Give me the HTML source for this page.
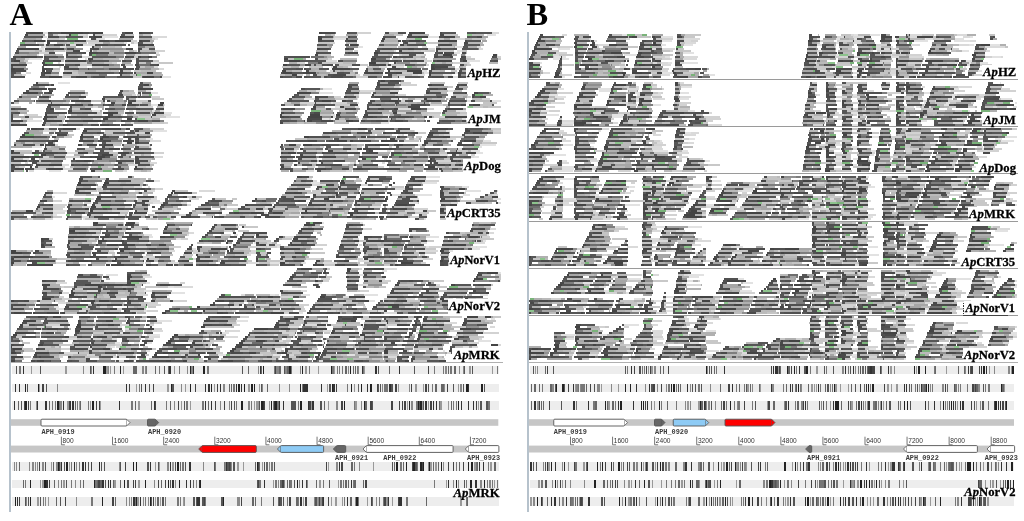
<!DOCTYPE html>
<html><head><meta charset="utf-8"><style>
html,body{margin:0;padding:0;background:#fff;width:1024px;height:521px;overflow:hidden}
svg{display:block}
.tl{font-family:"Liberation Serif",serif;font-weight:bold;font-size:13.1px;fill:#000}
.big{font-family:"Liberation Serif",serif;font-weight:bold;font-size:32.5px;fill:#000}
.gl{font-family:"Liberation Mono",monospace;font-weight:bold;font-size:6.9px;fill:#3a3a3a}
.rl{font-family:"Liberation Sans",sans-serif;font-size:6.6px;fill:#333}
</style></head><body>
<svg width="1024" height="521" viewBox="0 0 1024 521" shape-rendering="crispEdges">
<rect width="1024" height="521" fill="#fff"/>
<g style="will-change:transform"><text x="9.6" y="24.8" class="big">A</text>
<text x="526.6" y="24.7" class="big">B</text></g>
<g><g stroke-width="2" fill="none"><path stroke="#e2e2e2" d="M42.9 33h10.0M44.2 45h8.4M42.6 47h8.4M39.3 49h5.1M42.0 51h7.5M37.1 55h2.0M29.1 59h13.3M58.3 35h7.2M69.9 37h15.1M60.2 47h5.4M65.8 51h4.7M65.2 51h0.7M63.6 59h9.1M59.3 67h1.6M101.9 37h15.6M97.1 39h8.1M86.3 51h6.5M84.8 59h2.0M77.8 67h9.2M86.5 75h3.4M133.7 43h4.7M124.4 43h2.9M132.9 59h9.0M118.6 59h3.9M154.6 39h3.8M155.5 53h3.7M151.4 63h7.0M162.3 77h8.8M318.3 63h3.2M319.3 71h7.4M334.5 39h14.1M330.7 67h15.0M358.0 47h5.0M348.2 67h4.1M352.7 71h4.8M399.0 71h1.1M427.6 37h13.2M417.2 63h7.3M422.3 71h5.1M423.9 73h11.2M418.2 75h6.3M454.9 47h9.4M456.6 51h7.5M454.0 53h6.0M454.5 69h14.6M454.9 73h5.2M442.9 75h8.8M452.7 77h13.4M486.8 35h9.1M466.7 61h13.3M467.0 63h3.2M466.7 67h8.5M497.1 55h1.1M57.9 83h12.5M24.1 115h2.2M27.3 121h14.6M79.0 99h5.1M92.0 111h7.5M88.1 123h9.8M131.2 123h7.4M150.5 93h7.8M150.7 105h14.0M151.9 111h4.2M152.3 121h8.0M164.4 113h7.8M164.4 117h15.2M323.1 89h8.9M316.1 91h4.1M318.7 93h14.4M304.0 99h7.7M293.4 111h6.6M305.0 121h7.4M330.7 103h2.5M334.6 107h14.7M333.2 117h6.4M322.3 119h6.9M357.4 99h0.5M354.9 107h3.9M398.6 87h1.3M399.1 97h6.1M389.2 111h4.3M380.9 123h8.4M447.8 91h9.3M448.0 99h11.1M466.9 101h10.1M455.9 111h10.5M467.2 123h11.7M492.3 101h8.2M31.5 147h10.9M22.7 159h6.0M48.9 171h11.7M132.2 139h13.3M93.0 143h4.4M131.5 143h2.6M111.0 163h3.8M153.3 131h13.8M146.3 139h6.8M351.4 131h13.1M398.3 135h4.0M418.3 145h9.7M294.3 151h3.1M347.4 151h10.2M428.3 153h14.7M412.9 155h5.7M431.6 157h12.7M349.8 163h4.5M414.3 163h11.7M438.0 171h4.6M445.9 131h4.2M447.4 155h0.7M455.1 171h4.7M482.8 141h7.8M479.9 145h15.7M478.7 147h3.2M471.3 151h9.0M475.6 153h7.4M471.3 157h7.7M465.1 165h12.2M38.5 211h14.4M32.7 211h5.7M35.8 217h12.3M52.1 197h3.3M53.3 211h15.9M53.3 215h3.9M97.4 187h4.2M96.6 191h1.7M91.2 199h2.9M82.5 219h11.0M153.7 181h6.1M142.7 183h1.7M134.7 191h5.4M153.3 203h10.5M118.4 215h6.5M150.1 217h5.1M220.8 207h6.3M218.7 215h13.1M265.0 207h5.3M263.6 213h3.1M306.9 179h5.3M310.6 183h15.5M306.9 203h1.4M338.8 187h10.7M328.5 199h3.9M347.8 195h8.8M357.1 215h7.0M392.4 195h13.3M369.7 207h10.9M386.4 211h1.4M425.6 177h14.5M422.7 183h14.2M418.0 195h14.4M410.3 199h8.7M409.5 203h8.8M415.4 211h11.5M423.9 219h2.4M461.6 187h6.2M465.8 191h15.0M465.2 191h0.6M463.3 195h6.5M448.4 207h6.5M453.9 209h5.2M498.2 199h2.3M492.6 199h5.6M145.1 235h6.7M143.8 235h1.3M149.2 237h3.8M148.1 243h13.5M92.0 243h3.9M108.8 251h5.5M139.8 259h4.9M144.7 259h3.8M105.8 263h5.4M179.4 227h9.4M187.5 231h1.1M175.5 239h5.9M192.0 249h3.5M233.8 235h4.6M230.6 235h0.7M225.4 251h0.3M222.7 263h8.5M253.5 243h8.9M265.4 247h1.4M267.3 263h12.4M273.6 247h11.2M321.6 223h2.1M306.5 255h1.4M302.2 263h3.9M360.0 223h2.7M354.4 243h4.3M360.2 251h10.1M382.3 237h15.9M379.5 251h2.1M381.9 263h5.0M426.0 237h13.1M425.5 247h3.1M415.5 251h10.5M412.8 259h10.3M395.4 263h1.1M474.5 235h2.0M482.8 241h3.6M449.2 251h3.3M483.8 235h4.7M476.1 241h8.8M470.8 247h15.9M468.4 249h11.4M54.2 307h5.1M29.1 307h5.4M56.4 309h11.4M58.7 311h0.6M62.1 313h15.9M106.4 275h12.0M102.6 295h3.9M82.5 299h4.6M85.7 307h4.7M136.4 283h13.2M129.0 311h3.4M143.1 277h8.4M144.2 291h8.7M143.9 311h2.8M168.3 287h5.4M170.9 293h14.0M177.6 311h6.6M258.1 295h14.6M230.2 307h5.8M236.0 307h4.1M269.6 295h5.4M283.1 305h14.2M318.1 275h1.6M309.6 279h5.5M314.6 283h6.9M301.1 295h9.0M299.3 313h3.2M357.7 275h6.9M364.0 295h14.4M369.2 301h5.8M382.1 271h4.9M384.3 307h4.5M384.2 309h4.9M378.1 311h5.8M441.9 299h10.6M409.6 307h5.1M480.3 295h7.9M485.7 303h4.1M476.1 303h9.6M473.7 307h5.5M498.2 273h2.3M500.0 281h0.5M45.0 319h0.8M42.9 323h2.2M45.0 327h14.1M53.4 359h4.8M67.5 319h0.4M58.0 327h6.2M93.2 327h5.0M93.3 341h14.9M85.7 361h5.2M118.0 327h4.1M120.2 333h7.7M114.7 343h5.3M110.9 347h4.5M139.8 319h5.9M156.6 321h15.7M150.2 335h9.9M146.6 343h5.6M134.1 343h4.9M146.1 351h3.7M175.3 359h7.3M182.6 359h2.3M236.4 321h12.0M221.9 333h6.8M206.4 343h5.7M202.0 351h5.4M218.2 355h11.3M281.0 329h14.9M286.3 331h8.7M277.7 335h7.8M281.6 337h14.0M255.4 347h5.4M260.8 347h10.9M272.2 349h10.0M296.6 337h15.2M285.8 339h5.3M275.6 351h5.7M272.8 355h8.3M318.3 319h9.9M320.5 323h7.2M322.0 341h3.1M310.3 351h5.8M320.4 359h0.8M355.4 331h2.5M345.9 347h7.1M346.9 355h13.3M378.6 327h5.8M379.3 339h3.6M381.5 355h4.7M408.5 319h5.1M413.4 347h4.2M444.1 323h6.1M442.5 351h2.0M491.0 319h3.6M477.6 341h13.4M462.6 347h6.2M465.8 351h4.3M470.1 351h3.4M558.2 49h11.4M554.2 57h9.3M554.7 59h14.4M552.9 59h1.7M540.2 63h1.6M561.9 57h3.8M561.9 77h3.2M609.1 67h4.1M602.3 71h9.2M603.3 75h6.4M622.4 35h5.1M625.9 55h10.6M623.5 55h2.5M621.1 63h4.2M620.4 67h5.5M660.8 37h12.5M660.7 45h5.4M662.9 57h7.5M662.0 73h10.6M661.9 41h10.1M662.1 63h10.2M684.1 45h8.6M683.8 63h14.1M696.3 35h4.1M682.7 53h11.2M708.9 75h6.0M816.6 39h3.2M817.3 45h11.9M816.4 53h9.1M816.7 61h5.8M816.6 63h10.2M836.1 39h15.4M836.1 43h11.3M835.2 47h0.3M835.5 55h3.5M834.8 73h14.9M853.8 35h11.3M854.0 39h11.9M851.0 59h2.7M851.6 69h10.2M853.0 77h7.0M870.4 35h9.8M883.1 63h5.6M885.3 55h6.5M891.8 75h15.5M892.2 41h5.5M890.8 47h1.7M890.8 75h4.2M908.7 71h5.4M905.6 39h4.4M913.9 41h13.7M924.8 39h8.4M966.4 61h7.7M969.1 63h4.4M954.6 63h3.4M966.8 65h7.2M941.9 67h5.2M963.5 67h2.4M953.5 71h1.2M955.1 39h9.3M969.6 37h3.2M953.9 41h15.9M969.4 45h4.2M962.2 51h6.7M989.4 45h9.6M980.0 63h8.3M978.0 71h4.2M985.4 45h14.4M991.4 57h9.4M558.1 89h6.3M548.6 95h8.9M555.2 97h11.1M541.1 111h8.1M548.1 115h11.2M539.9 115h8.2M562.4 123h13.4M598.0 89h14.2M599.1 91h13.5M594.3 109h12.5M629.5 93h3.6M616.0 115h14.6M612.4 115h3.6M612.0 117h11.1M627.8 113h12.2M635.4 93h8.7M637.2 95h5.6M635.7 99h10.5M635.6 101h8.5M637.4 115h12.4M636.5 125h14.9M652.4 89h5.1M647.1 107h4.2M652.1 117h15.6M651.5 95h9.3M652.0 105h9.1M681.1 87h10.8M680.4 93h7.6M679.7 93h9.5M679.3 99h9.5M688.1 111h7.2M679.9 115h12.3M837.5 117h9.1M853.3 95h10.1M850.9 113h10.2M852.2 125h10.6M881.8 111h6.7M905.7 91h12.8M904.2 115h12.0M923.8 93h9.2M924.0 103h14.9M923.7 105h13.6M915.5 107h4.8M920.5 121h6.4M954.1 89h5.0M949.5 91h1.4M951.7 95h2.6M952.3 97h10.0M948.2 99h3.6M946.4 103h9.7M944.1 105h7.4M968.3 111h1.4M1000.0 83h1.0M997.3 91h2.8M1000.9 99h11.1M998.5 103h11.0M1014.7 103h1.8M1012.6 107h3.9M562.6 145h10.8M549.9 155h15.9M561.8 161h4.8M561.9 167h13.1M562.1 169h11.4M561.8 171h10.8M554.1 171h7.7M597.7 131h3.1M588.7 143h6.4M591.3 147h2.7M590.2 167h8.4M635.8 135h5.9M630.5 139h11.0M629.2 147h10.0M644.3 147h3.7M653.1 151h15.0M635.2 159h0.3M652.0 141h10.0M652.0 145h8.7M682.1 139h2.2M682.3 151h5.9M684.4 133h6.4M684.0 139h11.4M704.8 161h5.3M820.9 141h10.8M825.1 137h8.8M835.1 145h10.9M834.2 153h8.0M835.8 157h12.8M834.9 161h5.8M832.2 163h3.0M833.6 167h0.7M851.0 147h8.1M848.8 151h2.9M853.3 159h8.6M852.6 165h4.6M869.3 135h0.8M871.9 137h15.5M870.9 151h5.1M869.8 155h3.8M888.5 147h1.5M904.9 141h14.6M904.9 171h5.0M906.2 131h5.3M901.2 151h2.7M958.8 139h8.2M929.5 143h7.2M982.0 149h4.4M969.6 163h4.3M971.8 167h3.8M946.0 171h6.6M1005.2 137h11.3M994.6 139h7.2M1000.8 141h13.1M561.8 179h15.0M555.8 179h6.0M549.1 191h11.4M543.8 197h13.6M562.6 189h13.7M594.2 187h4.6M596.3 191h14.3M595.1 195h3.5M591.4 215h3.8M628.7 187h5.9M624.6 205h15.8M609.1 211h6.9M625.3 211h2.6M604.8 215h6.3M628.9 219h15.0M628.1 219h0.8M651.1 177h15.0M652.3 179h6.9M664.1 195h5.0M659.3 199h4.9M677.1 191h8.3M706.2 205h14.7M711.6 181h9.6M742.3 191h12.0M780.6 183h10.3M769.1 199h9.3M779.2 207h2.1M811.2 199h3.6M809.2 203h0.7M808.8 217h12.3M798.4 219h10.9M821.3 191h4.9M824.1 209h14.6M839.4 183h2.9M856.4 177h12.2M858.8 217h14.5M867.5 187h7.2M865.1 219h0.9M895.7 193h3.4M897.2 201h5.6M896.5 215h13.6M966.4 179h2.6M916.6 183h9.3M951.6 187h8.4M921.3 191h1.6M917.9 199h0.8M914.5 207h1.4M1006.0 195h4.2M1014.4 205h2.1M576.0 259h10.8M563.6 259h8.2M614.5 227h1.4M593.6 259h11.0M650.8 227h14.3M651.6 243h4.4M651.7 255h0.5M687.7 227h14.1M671.8 251h6.2M671.6 261h13.0M697.6 239h4.5M685.0 251h7.4M694.6 253h7.3M685.2 259h6.1M690.0 265h7.9M703.4 255h2.3M737.7 247h5.7M730.9 247h6.8M731.4 257h6.8M758.0 265h14.2M774.1 255h5.8M771.8 263h7.3M812.2 251h8.8M796.6 255h10.5M826.7 241h5.5M822.9 251h3.0M842.7 231h14.1M840.2 251h13.4M859.4 237h14.8M867.8 247h10.1M866.1 255h12.9M889.8 223h4.5M894.9 237h6.2M897.3 247h13.8M925.9 247h10.8M953.6 239h4.7M952.6 255h1.7M945.0 259h8.5M994.9 231h13.2M990.2 245h14.1M989.2 251h6.1M583.3 283h8.6M603.9 287h2.0M576.9 291h8.1M604.4 291h4.4M634.1 299h8.3M654.4 301h11.5M577.1 303h10.1M582.9 307h2.8M576.5 311h7.6M627.7 279h12.8M625.9 293h3.6M665.9 297h11.9M665.5 311h12.5M688.2 275h15.5M688.8 277h9.9M687.2 281h5.3M682.0 283h4.6M686.9 285h9.9M779.0 301h15.0M772.1 307h11.2M738.0 279h5.6M743.0 283h10.0M739.8 291h12.3M778.9 291h7.3M803.7 279h4.2M806.4 283h4.8M808.4 299h13.6M825.6 287h14.5M821.3 303h5.9M826.1 305h7.4M821.3 311h3.1M841.0 277h10.8M842.4 289h5.7M841.8 303h10.5M866.5 285h8.5M867.2 291h1.2M895.3 295h2.9M898.4 307h7.2M905.5 277h9.9M904.0 293h10.4M930.6 271h6.4M928.1 275h3.4M931.4 291h9.3M929.1 291h2.2M924.9 309h9.8M925.9 313h3.8M955.8 279h15.4M988.7 271h6.3M986.1 283h6.9M1014.6 281h1.9M1013.6 287h2.9M1010.7 287h2.9M566.2 335h12.1M561.2 335h5.0M565.3 339h8.2M600.0 335h14.4M602.1 337h13.4M626.1 347h8.6M652.5 355h8.0M588.6 355h7.5M645.5 355h7.1M641.2 359h6.9M624.2 325h14.9M652.9 339h10.7M684.0 317h3.1M685.4 321h3.9M682.0 327h4.5M688.0 335h14.2M687.1 323h10.8M697.9 323h3.4M689.9 337h4.4M705.4 319h15.2M706.1 355h14.5M694.7 355h11.4M705.8 331h10.6M746.2 347h0.5M763.4 353h11.6M762.9 357h7.8M762.6 359h13.0M780.4 355h9.3M803.7 343h4.8M809.5 351h9.9M809.4 353h7.6M797.7 355h10.2M819.6 317h4.5M821.1 321h13.6M838.4 321h5.0M838.5 349h14.9M855.0 327h4.0M852.4 355h4.4M868.8 349h7.5M820.6 351h4.2M880.6 351h10.4M897.0 319h14.0M892.6 323h3.2M890.9 331h7.1M897.3 335h9.3M892.2 351h2.4M905.4 343h8.7M905.4 349h5.8M903.5 359h2.5M950.2 331h6.9M953.7 337h15.0M944.7 339h3.4M945.8 349h12.5M940.8 355h4.0M965.3 353h12.9M1010.9 333h5.6M1009.1 335h7.4"/><path stroke="#4a4a4a" d="M26.0 33h3.7M41.1 33h1.8M25.2 35h2.7M40.9 37h2.4M23.9 45h15.5M12.5 57h3.1M14.5 69h9.3M10.9 71h15.1M9.9 77h2.2M47.7 37h3.6M51.3 37h7.5M66.0 37h3.8M44.7 49h4.2M48.5 53h6.8M43.5 57h2.3M46.6 61h14.6M42.1 69h4.7M83.2 33h6.1M65.8 35h4.9M88.9 37h4.8M79.2 41h6.9M65.5 49h3.3M68.8 49h5.6M72.7 51h7.4M65.7 55h2.2M65.2 61h3.1M74.9 65h5.0M64.3 67h4.8M67.4 69h11.8M63.3 73h4.0M96.0 41h12.8M92.6 43h4.8M96.8 45h11.4M92.8 49h6.3M125.8 49h3.3M129.1 49h4.3M91.9 53h5.6M128.9 57h4.8M88.2 59h4.7M87.6 61h3.3M122.1 61h4.2M121.1 65h4.2M123.1 67h3.3M84.6 69h4.7M128.2 69h6.2M120.1 71h3.3M119.9 75h2.4M93.3 77h11.5M123.7 37h10.3M141.6 33h8.4M141.6 41h7.9M137.8 49h4.3M135.2 65h3.9M156.9 65h2.2M135.2 69h4.1M133.6 73h2.8M134.0 77h4.6M159.7 77h2.6M303.8 69h2.2M306.4 71h2.9M302.5 73h3.7M280.0 77h3.2M296.4 77h6.0M321.6 33h8.1M329.6 33h5.1M317.9 41h4.3M319.7 49h9.0M316.1 53h2.8M315.2 55h2.9M315.4 57h3.8M315.9 65h6.2M327.4 65h5.6M313.4 69h2.2M312.8 73h3.3M324.4 77h6.7M345.9 37h4.3M345.5 39h2.9M336.1 63h4.3M333.2 75h12.9M330.5 77h12.1M385.1 33h3.5M381.3 41h2.2M397.7 41h3.1M401.7 41h4.2M381.7 49h10.3M398.8 51h4.4M385.5 61h3.8M393.7 61h6.9M393.5 63h2.6M372.5 65h13.6M387.7 65h3.4M391.7 67h4.4M391.0 69h6.4M363.5 73h2.3M379.2 73h4.0M384.5 73h5.0M389.5 73h12.3M388.1 75h3.7M383.3 77h2.4M385.8 77h5.8M407.2 37h4.5M411.8 37h6.4M404.7 43h2.8M411.3 61h12.5M396.3 65h4.9M401.1 65h4.0M395.7 67h3.7M427.8 69h0.3M393.6 73h2.1M393.0 75h4.5M440.1 33h2.3M440.4 35h4.0M439.2 37h4.4M439.8 45h12.1M435.5 51h2.5M439.4 53h4.0M443.5 53h10.5M433.7 57h3.8M431.1 65h4.0M433.9 67h14.5M432.3 77h11.9M476.6 37h5.8M464.8 41h2.2M464.2 43h3.6M462.1 53h3.9M463.4 57h2.5M460.0 65h3.7M459.6 69h2.8M458.4 75h2.2M492.3 57h2.1M35.8 83h2.0M35.6 85h13.1M51.4 85h2.5M48.8 91h3.9M38.5 97h4.8M39.4 101h11.7M10.4 109h4.2M10.2 115h2.6M10.0 117h3.3M9.9 119h3.1M14.2 125h12.6M71.0 101h4.5M102.7 101h2.6M131.6 101h4.7M110.6 103h4.9M51.1 105h10.2M61.2 105h4.2M65.4 105h2.5M107.8 105h5.9M122.0 105h3.8M127.2 105h4.4M85.1 109h5.5M125.9 109h3.3M67.9 111h3.7M68.1 113h4.2M82.1 113h14.8M103.1 113h2.5M108.0 115h4.6M66.6 117h3.6M118.4 117h4.0M43.1 119h3.9M65.3 121h2.3M121.3 121h3.4M62.5 125h5.0M120.9 125h4.8M130.6 97h6.5M101.6 99h3.5M119.6 91h3.6M118.3 95h4.8M135.9 107h4.9M158.3 109h6.0M301.3 89h4.1M292.2 97h3.1M280.0 115h2.1M283.6 117h5.2M280.2 123h3.0M318.1 97h9.8M314.2 101h3.0M313.9 103h2.5M311.2 109h4.4M313.5 113h6.0M307.4 119h14.9M321.3 121h12.0M347.7 87h3.8M352.8 93h6.2M341.3 103h4.0M340.6 105h3.3M347.1 109h8.5M389.5 81h11.2M376.9 85h2.9M379.5 89h9.4M374.8 97h9.7M384.5 97h11.3M369.7 101h5.0M381.1 101h7.9M395.2 109h2.8M395.2 113h1.6M364.0 115h4.4M362.7 117h4.5M372.7 117h4.1M361.2 121h3.6M376.2 121h11.9M396.3 99h2.2M395.4 101h2.4M411.2 105h14.5M408.0 107h11.6M400.8 109h5.7M398.4 117h11.0M428.6 117h3.6M387.0 121h3.1M395.1 121h8.3M427.4 121h2.2M430.0 89h7.7M437.2 97h4.8M421.2 105h4.4M461.3 85h5.7M456.0 87h3.2M458.2 89h4.7M465.4 93h1.6M443.1 111h4.1M462.3 121h3.5M472.3 95h2.2M470.8 101h3.9M36.9 129h7.4M56.8 135h10.1M22.8 137h11.0M52.1 137h4.0M48.3 143h4.9M45.3 145h2.4M30.9 159h3.7M13.2 161h14.1M32.7 161h6.1M25.3 169h3.1M44.9 153h12.6M38.5 161h2.0M34.6 169h4.9M101.7 129h3.4M126.2 129h4.1M97.4 133h3.7M125.7 133h4.9M128.0 137h6.8M78.9 141h2.9M81.8 141h5.4M87.1 141h6.9M102.7 141h8.7M125.9 141h7.6M101.5 147h3.5M73.0 157h4.4M91.9 157h2.8M118.0 157h4.7M72.6 159h2.5M75.9 161h8.0M118.4 163h3.3M81.5 165h8.0M115.6 169h8.1M135.1 131h4.2M133.9 137h3.6M134.5 139h4.7M133.9 149h4.9M135.0 159h3.7M134.5 161h4.2M134.7 163h4.9M134.2 165h3.7M134.3 169h3.2M375.1 129h4.5M398.2 129h3.7M322.8 133h2.6M325.4 133h10.8M356.6 133h0.6M410.9 133h2.3M322.5 137h7.9M389.8 139h4.9M308.1 141h8.7M328.7 141h8.1M359.6 141h11.4M367.6 145h7.6M284.5 149h9.7M362.6 149h2.6M370.9 149h9.6M380.4 149h8.4M392.1 149h4.0M327.6 151h4.9M368.5 151h4.1M322.0 153h2.2M333.8 153h13.7M347.5 153h12.7M361.6 153h2.9M364.6 153h13.6M390.5 153h3.1M393.6 153h7.1M412.1 153h5.4M299.8 155h3.4M279.9 157h2.5M282.4 157h12.4M319.4 157h4.9M280.9 161h2.1M283.0 161h8.9M291.9 161h1.0M310.7 161h6.3M333.9 161h11.3M386.4 161h4.3M298.1 163h2.1M430.1 163h2.3M329.5 165h12.6M362.6 165h15.0M341.7 169h7.0M363.1 169h6.5M386.2 169h13.9M423.7 169h4.6M428.3 169h9.4M431.5 129h4.4M433.8 133h15.2M428.0 135h4.9M426.6 137h3.7M430.3 137h12.2M424.1 141h2.6M426.6 141h10.1M456.5 149h1.0M447.1 153h3.8M431.9 157h14.7M449.7 157h2.7M452.4 157h9.3M453.3 161h3.7M433.6 163h4.0M438.2 165h13.2M465.4 129h3.0M459.3 145h14.7M454.9 149h2.2M457.1 149h7.7M466.1 153h9.5M450.7 161h6.6M457.3 161h4.0M444.8 167h4.5M443.2 169h3.4M441.6 171h11.2M11.2 213h4.3M45.2 193h3.6M48.7 205h4.0M44.9 213h7.7M31.3 217h4.9M30.4 219h2.6M80.3 177h2.4M78.8 179h3.9M79.1 181h3.1M74.5 191h4.5M77.0 193h14.0M68.9 201h3.6M68.3 205h3.8M67.9 209h2.2M106.3 179h2.5M105.4 181h2.6M117.8 181h12.7M120.3 185h5.6M125.9 185h14.4M110.3 189h4.2M114.4 189h8.1M134.6 189h6.1M98.7 193h4.1M139.1 193h2.9M97.4 195h2.2M138.9 197h12.3M151.3 197h2.5M96.0 199h4.7M95.0 201h3.1M134.6 203h2.0M119.6 205h12.5M89.7 209h4.1M102.7 209h4.5M117.4 209h6.2M87.9 213h2.2M90.1 213h15.4M105.5 213h14.7M127.9 177h3.9M171.8 191h3.4M184.9 193h7.4M166.7 197h3.5M171.2 205h10.5M210.6 201h11.5M201.4 205h3.6M195.3 209h4.9M200.2 209h5.2M188.8 213h3.1M208.9 213h9.4M218.6 217h2.9M255.3 199h2.0M261.5 201h4.4M264.9 205h7.2M261.3 213h2.3M260.8 215h4.9M221.5 217h2.9M240.3 217h4.8M301.8 177h7.1M290.8 185h2.4M284.6 193h3.0M287.6 193h6.3M306.0 197h4.1M291.4 201h6.5M269.1 211h2.5M265.7 215h2.8M266.8 217h13.0M318.8 185h2.3M317.3 187h4.4M313.8 193h3.8M309.3 203h3.0M307.8 205h4.2M312.0 205h13.9M305.7 209h3.1M317.7 209h8.1M303.4 213h4.4M313.1 217h9.6M335.0 193h3.4M357.5 193h2.4M333.4 197h2.8M340.8 197h15.5M334.7 201h8.7M330.7 209h12.5M351.5 209h4.5M326.0 213h2.6M328.5 213h12.7M367.5 177h2.0M393.0 183h1.6M363.5 185h4.9M369.7 197h15.1M384.7 199h3.2M360.4 201h4.3M364.7 201h7.4M382.3 209h4.8M357.2 213h7.8M365.0 213h10.4M361.0 217h7.6M378.9 217h4.8M410.7 177h2.8M410.0 179h4.5M412.7 181h5.7M408.4 185h12.8M403.2 189h4.7M404.5 193h8.9M406.2 197h10.3M417.4 201h1.7M407.1 205h7.7M416.5 217h2.4M414.5 219h4.6M440.3 187h4.0M440.5 189h2.7M440.2 195h3.4M439.8 197h2.6M443.6 213h7.4M475.0 201h5.1M480.1 201h8.1M466.4 203h4.8M495.7 203h2.2M43.2 239h5.7M41.4 241h2.8M51.5 241h0.3M40.6 247h4.6M34.7 251h4.0M32.5 253h3.8M30.4 261h9.4M47.4 261h7.4M95.7 229h5.6M126.4 229h4.9M68.8 233h2.9M71.7 233h7.2M86.0 233h10.2M125.0 233h4.0M83.6 237h14.6M67.7 243h2.2M95.8 245h2.1M119.4 245h3.8M67.5 249h5.0M114.7 249h2.9M118.9 249h4.8M73.8 253h6.2M91.5 253h4.6M92.9 255h2.9M139.6 257h3.1M87.8 261h4.2M66.2 265h3.2M93.2 225h3.9M146.4 245h4.5M150.8 253h4.4M149.9 257h6.1M167.4 233h14.3M164.8 237h8.9M187.7 253h4.7M182.2 261h6.3M211.7 227h3.5M225.0 229h5.6M208.9 231h2.8M219.7 233h4.5M199.2 241h3.6M226.5 241h3.7M230.2 241h3.2M229.1 247h1.6M196.0 251h3.6M204.5 257h5.8M198.9 265h7.9M243.2 233h2.2M240.2 237h2.1M251.5 237h2.5M240.7 241h12.4M235.5 243h4.2M233.2 245h2.7M233.1 257h14.2M221.4 261h2.5M220.2 263h4.4M258.9 233h8.1M255.6 237h3.8M256.4 243h3.0M256.4 249h3.1M259.5 249h6.5M275.9 239h3.2M273.5 241h2.3M263.2 247h2.4M266.6 253h4.0M258.4 257h4.2M313.3 223h8.4M293.9 237h2.1M294.2 241h8.6M302.9 241h5.7M304.1 245h9.3M284.9 249h15.0M279.9 253h4.5M293.5 261h10.4M282.9 265h11.6M317.1 259h2.4M353.2 225h10.2M346.4 227h2.4M359.1 233h3.0M346.6 237h11.3M332.7 265h4.4M367.0 237h5.1M363.8 241h4.5M363.3 251h3.4M363.7 261h4.8M363.0 265h2.0M409.0 229h3.2M412.1 229h5.8M404.8 237h3.1M408.9 237h4.4M388.0 245h14.5M383.8 247h4.3M419.2 253h5.5M389.4 257h9.4M399.4 257h3.7M421.5 257h5.0M396.3 261h1.1M446.2 233h2.9M448.0 241h5.2M442.0 245h4.5M446.4 245h8.0M440.7 249h3.4M440.6 253h2.4M445.7 257h2.7M440.2 265h4.2M470.5 229h3.3M473.8 229h5.8M469.5 231h3.3M471.8 233h11.0M464.0 241h2.4M461.4 245h4.1M470.0 245h3.0M459.7 249h4.5M24.1 301h5.0M13.9 305h12.0M13.0 309h10.8M33.6 309h4.1M20.9 313h5.7M42.4 281h3.3M46.3 289h12.2M41.9 293h4.7M59.1 293h2.8M78.1 275h4.4M103.2 277h3.1M100.7 281h3.0M73.2 287h3.7M70.8 291h2.6M68.9 297h3.6M72.4 297h14.8M86.2 301h6.6M92.9 301h2.3M65.2 307h3.3M68.3 309h13.8M90.3 311h2.4M101.3 313h1.1M98.5 285h2.1M123.4 285h11.1M133.5 287h1.3M96.2 291h4.4M97.1 293h15.6M112.7 293h5.6M129.3 297h4.2M131.0 299h2.6M90.8 303h4.7M89.7 305h4.0M93.7 305h7.6M88.5 313h9.5M119.6 313h4.4M132.2 313h3.5M127.2 275h3.4M126.6 283h4.1M130.4 285h4.7M127.2 297h2.4M135.7 297h7.0M126.2 305h3.9M145.8 305h1.4M126.7 313h4.0M152.7 287h3.9M154.2 297h11.0M165.2 297h2.2M173.7 309h6.7M206.3 309h11.5M219.3 297h4.8M251.6 305h2.5M243.7 307h3.2M205.7 309h4.4M210.0 309h7.5M230.4 309h7.3M240.1 309h15.0M201.5 313h2.6M217.4 313h10.5M234.8 313h4.4M245.6 313h14.4M256.6 297h4.1M258.9 301h14.4M285.2 285h15.6M313.4 285h4.8M316.1 287h3.5M280.0 291h2.6M283.7 293h7.8M291.6 293h11.8M280.6 309h2.4M317.7 305h15.1M309.7 309h4.0M313.7 309h11.7M326.3 313h7.1M351.0 281h8.4M346.7 285h2.4M336.3 297h4.0M336.5 301h4.4M340.9 301h4.6M351.9 301h12.8M336.3 303h2.1M336.2 305h3.7M345.5 305h6.0M352.0 309h5.4M335.4 313h4.5M365.7 269h8.5M378.5 273h5.7M382.2 277h3.5M363.8 281h4.5M373.1 307h4.0M370.8 313h10.2M408.8 281h4.1M428.2 283h2.3M395.5 289h14.5M423.8 289h5.1M428.9 289h10.3M389.6 293h2.7M392.4 293h6.1M425.5 293h6.4M383.5 301h4.7M395.7 301h5.3M422.5 301h13.2M383.7 305h4.6M418.6 305h2.8M392.2 307h7.1M400.7 309h14.9M383.8 311h3.2M384.3 313h3.1M407.8 313h7.3M430.4 313h7.7M477.6 285h13.0M472.8 291h3.1M449.1 297h13.9M465.0 299h2.9M438.2 301h4.0M461.2 301h4.9M439.6 305h12.8M442.4 309h5.7M497.3 273h0.9M477.1 275h4.4M473.5 279h2.7M472.7 281h2.2M498.3 281h1.7M42.0 317h4.6M28.7 325h6.6M18.5 327h4.6M30.0 333h6.4M11.1 345h3.0M33.9 355h2.8M31.3 361h4.5M53.8 325h8.1M61.9 325h7.7M43.0 327h2.7M39.0 345h4.5M37.6 349h4.3M37.5 353h2.2M39.7 353h15.5M37.3 361h13.7M81.2 317h9.0M78.1 321h2.6M76.5 337h5.7M73.1 339h3.4M75.1 345h15.7M74.8 349h13.1M69.6 353h4.3M124.6 317h4.4M93.5 333h4.3M88.5 349h3.1M88.8 351h3.5M88.2 353h3.9M105.0 353h13.4M87.0 355h2.8M86.0 359h3.8M86.0 361h3.1M146.6 317h3.5M126.6 321h2.0M150.4 321h6.2M125.8 323h3.9M149.6 327h2.8M124.5 329h4.9M123.1 333h2.0M146.1 333h7.2M140.8 337h4.1M142.1 341h4.4M146.4 341h6.4M140.3 345h4.7M141.0 355h4.1M119.4 357h15.3M138.9 357h7.0M118.6 361h14.0M136.1 361h3.6M163.1 345h3.1M198.6 345h0.5M199.1 345h3.9M161.5 349h15.2M155.0 353h2.9M195.0 355h4.6M187.5 357h4.3M191.8 357h7.5M147.1 361h3.9M151.0 361h15.2M221.7 317h8.9M214.5 321h13.7M203.0 325h2.6M205.6 325h6.5M224.1 325h7.7M219.6 333h2.3M196.9 337h2.8M213.0 337h3.8M219.7 337h4.3M191.9 343h3.0M212.1 345h3.7M190.0 347h3.2M185.7 353h2.8M182.8 357h2.2M207.7 359h2.8M181.0 361h4.3M185.3 361h14.3M253.6 333h13.2M240.9 341h4.0M274.8 341h4.4M235.8 345h4.2M244.2 345h5.7M231.0 353h5.4M236.3 353h6.4M222.7 357h3.8M218.2 361h2.4M303.9 321h0.9M275.1 325h3.5M278.6 325h10.7M273.8 327h4.7M271.8 329h3.7M298.3 329h4.7M267.3 337h4.3M274.5 341h8.9M284.5 345h3.5M288.1 345h2.3M285.0 351h2.8M286.2 355h2.7M262.4 361h9.1M276.4 361h2.2M317.1 325h8.8M325.9 325h0.5M300.4 329h3.7M300.3 331h3.2M298.5 333h4.7M303.2 333h15.4M313.8 341h8.3M294.0 345h3.0M295.8 349h12.0M289.1 357h4.5M315.2 357h4.1M316.4 359h3.9M290.2 361h8.0M338.0 317h4.0M342.4 319h14.3M337.3 325h8.7M332.0 331h3.2M330.4 345h12.4M342.8 345h4.6M322.4 353h3.2M319.0 361h3.7M366.5 317h3.4M367.6 321h13.0M370.8 341h14.9M362.3 345h4.7M367.0 345h10.6M358.3 349h11.1M367.0 353h11.1M353.7 357h4.1M355.8 361h7.4M416.2 319h2.1M414.6 323h2.4M407.3 325h2.8M384.1 329h4.5M388.7 329h10.4M383.4 331h3.4M409.1 333h3.4M383.8 337h2.9M383.5 341h2.0M403.2 341h3.5M384.3 343h11.1M402.0 345h3.3M384.6 349h4.1M388.7 349h10.6M399.4 349h4.2M403.4 351h3.6M387.6 357h7.3M383.5 361h4.3M423.0 319h4.0M422.6 321h2.1M424.8 321h15.8M434.3 325h9.5M420.0 329h3.4M419.0 333h4.7M418.2 337h3.3M433.3 337h14.5M416.7 339h3.1M416.8 341h2.3M426.4 341h15.7M415.4 343h2.5M414.8 345h3.7M431.6 345h10.1M412.6 353h3.2M411.0 359h3.9M438.7 361h7.7M463.8 321h3.9M463.0 323h3.7M462.0 325h3.6M480.6 333h2.1M458.2 337h5.4M455.9 341h11.0M469.7 345h7.6M449.6 349h2.9M448.6 351h3.8M540.2 35h3.2M539.4 37h4.7M538.2 39h2.8M539.5 41h5.2M535.6 43h2.9M535.4 45h4.8M546.2 45h8.6M532.0 53h4.7M528.8 63h4.2M528.5 69h2.4M530.9 69h9.6M532.8 73h7.5M528.1 77h4.1M559.6 59h2.5M555.4 73h4.4M583.4 37h7.9M574.4 43h2.4M592.2 43h2.4M574.8 45h4.8M579.6 45h9.0M579.3 53h5.7M574.5 61h3.9M582.4 61h3.9M605.3 61h2.0M584.9 65h11.8M596.7 65h13.9M578.5 69h2.0M580.8 77h7.7M608.1 37h4.8M615.4 41h10.7M602.1 51h3.2M600.4 53h3.4M599.1 61h14.5M624.0 61h2.4M596.7 69h9.0M601.2 73h8.6M590.9 75h10.8M604.8 77h15.1M641.6 41h4.8M641.7 49h4.7M645.4 65h6.8M632.0 71h4.5M642.3 73h8.9M630.5 75h4.8M639.1 77h9.8M655.6 41h5.5M656.6 45h4.2M652.1 49h4.2M652.3 59h2.8M652.3 65h2.9M652.4 67h2.1M677.2 41h3.0M680.1 41h4.3M676.6 43h3.8M676.6 45h4.2M675.3 57h4.2M675.3 63h4.8M676.5 65h5.7M674.0 73h2.3M676.2 73h6.4M674.0 75h3.1M686.4 69h8.3M672.4 71h4.1M697.8 77h4.2M809.2 35h2.7M808.9 37h4.8M809.3 49h6.9M806.6 53h2.6M806.3 55h2.0M805.3 59h2.0M807.5 65h8.0M805.4 69h11.4M824.6 45h4.5M821.5 47h4.2M824.4 49h10.4M822.6 57h12.8M832.1 69h3.1M814.4 73h3.7M812.5 77h3.7M821.3 77h4.8M834.4 77h1.2M839.4 45h3.5M837.5 57h2.7M842.5 61h10.7M839.2 65h11.3M836.4 69h2.2M838.6 69h13.0M835.3 73h3.6M844.1 73h7.2M858.0 37h3.4M861.4 37h9.8M857.9 49h2.9M873.2 55h2.1M857.6 59h4.4M867.3 65h3.1M875.1 65h6.5M861.5 69h2.9M867.3 73h13.1M857.3 75h4.1M869.5 59h2.0M869.9 61h4.0M867.9 69h4.5M888.2 77h0.8M880.9 35h4.8M880.7 39h4.3M880.4 41h3.5M883.9 41h8.3M883.9 49h7.4M881.5 51h3.7M881.0 55h3.3M881.2 57h3.9M881.0 65h3.0M896.4 45h4.1M896.5 49h2.2M896.3 51h2.7M895.9 67h2.4M900.4 69h5.7M895.6 75h4.8M896.5 77h3.3M898.3 37h11.2M896.4 49h2.7M898.2 53h11.7M906.0 35h4.5M924.6 61h2.8M895.8 65h4.5M960.8 65h6.0M895.7 69h3.2M919.6 69h4.6M895.4 71h2.8M924.7 71h3.2M907.4 73h9.0M916.4 73h1.9M935.2 73h12.1M934.5 77h7.9M953.4 77h2.3M934.3 37h4.2M933.6 41h3.5M932.9 53h9.6M976.1 45h4.6M978.8 49h5.4M973.9 53h4.5M976.3 61h6.4M968.9 69h4.6M992.9 37h2.2M989.9 39h3.4M542.0 89h3.5M538.4 93h4.4M536.5 95h4.8M531.6 105h5.8M543.6 105h2.1M539.7 109h5.9M527.9 115h3.2M532.6 117h13.4M528.9 125h3.4M538.3 125h6.4M559.8 117h2.2M581.1 89h3.7M582.1 93h14.3M579.8 97h6.0M574.2 105h2.4M574.2 109h4.6M573.7 119h2.4M581.8 121h9.1M613.1 85h2.2M610.9 89h2.2M610.3 93h3.3M613.3 97h5.5M610.5 105h12.3M591.5 113h2.0M593.5 113h11.1M589.9 117h3.3M585.7 125h3.1M588.8 125h10.1M623.1 119h3.9M621.1 121h4.2M619.9 123h3.3M627.8 89h3.0M631.3 97h5.1M627.7 109h2.4M628.2 121h3.1M643.1 85h3.7M646.9 85h4.5M638.6 103h3.4M637.7 105h4.9M639.1 113h4.6M643.7 113h8.0M637.7 117h11.3M647.9 125h4.7M673.4 105h3.8M663.5 113h7.0M660.8 117h7.0M671.9 117h13.0M694.5 117h6.4M654.8 121h4.7M659.5 121h5.4M657.3 125h9.0M687.8 125h4.9M809.0 89h4.7M811.1 97h4.7M807.2 113h6.3M804.1 115h4.2M826.4 95h2.7M825.9 97h2.8M828.7 97h7.1M825.7 105h2.7M825.9 111h3.2M826.1 117h2.9M834.2 121h3.0M830.2 125h6.1M842.3 89h3.7M841.7 91h3.1M842.4 93h4.3M842.4 97h4.9M845.9 109h5.5M845.4 117h6.9M841.7 125h3.9M857.9 85h4.1M857.9 91h4.8M858.0 97h2.2M857.7 105h2.3M862.6 113h4.6M858.1 121h4.3M858.1 123h3.6M868.3 97h4.0M872.4 97h5.0M865.6 99h3.6M865.5 109h4.1M865.9 113h3.7M877.7 117h5.6M866.5 121h4.7M885.2 85h4.9M881.6 89h2.4M896.6 85h3.3M899.9 85h5.9M896.1 87h3.1M895.8 89h5.0M896.1 91h4.6M896.2 93h2.6M898.9 93h5.3M898.7 101h5.5M896.1 103h2.4M895.7 105h2.6M895.7 107h4.4M896.1 121h4.0M900.1 121h4.7M896.3 123h4.8M811.4 113h4.0M811.8 119h2.0M812.4 125h4.0M906.2 89h2.9M909.1 89h6.1M909.6 93h9.6M905.6 97h3.5M906.5 105h3.5M905.7 113h2.8M908.6 117h10.8M905.7 121h2.6M908.3 121h12.2M905.7 125h4.8M910.5 125h6.8M929.8 93h3.8M951.4 97h0.9M924.8 105h2.0M926.8 105h10.4M935.2 117h4.1M955.2 97h4.7M952.0 101h3.2M955.2 101h12.2M953.5 105h14.2M971.8 113h10.4M971.1 115h3.2M933.9 117h4.7M971.9 117h8.7M970.3 119h4.7M937.7 121h12.4M950.1 121h12.5M938.1 125h4.4M942.4 125h12.2M963.1 125h3.6M987.9 85h2.7M990.7 85h7.0M985.3 93h3.2M988.5 93h10.3M992.5 97h7.0M983.7 99h15.7M997.4 101h0.4M997.8 105h11.8M995.0 107h2.4M995.2 109h4.4M542.3 131h3.6M554.2 133h5.1M537.3 137h2.9M553.1 141h8.5M528.1 157h4.7M541.8 161h3.6M528.6 165h4.3M527.9 171h4.2M559.4 161h2.1M556.8 165h5.3M574.2 129h3.5M574.1 131h2.2M575.0 133h3.4M591.6 133h6.4M574.6 141h3.9M590.1 165h3.5M615.0 129h5.1M613.3 133h11.7M623.1 141h7.6M642.0 141h4.2M604.7 145h2.2M630.9 145h9.4M644.5 145h7.9M604.3 149h3.3M603.2 151h3.6M601.5 155h2.7M600.7 157h4.3M640.8 157h11.8M603.5 161h5.9M634.9 165h14.1M602.4 167h9.8M598.9 169h4.1M603.0 169h10.9M635.5 169h9.9M633.7 171h3.8M680.3 129h5.0M675.1 135h3.7M679.0 137h4.9M677.2 141h7.2M674.4 147h2.4M652.0 153h4.6M652.3 165h2.1M687.2 165h5.0M809.6 129h3.8M807.7 141h4.0M806.5 145h3.3M803.6 161h4.2M802.8 165h3.3M820.3 133h3.5M819.5 141h3.1M822.6 141h2.6M819.7 149h4.4M833.2 137h2.6M825.3 145h3.4M826.0 153h3.5M829.5 153h4.7M825.7 155h3.0M825.7 165h2.7M828.4 165h7.6M829.2 169h5.0M842.3 133h4.3M842.3 143h2.8M841.4 149h2.3M841.6 151h3.3M841.5 157h4.1M841.8 161h3.6M861.5 129h4.0M858.0 133h2.9M865.5 137h6.4M857.9 151h4.0M861.1 157h7.8M880.3 133h3.0M879.2 137h3.5M880.6 145h6.8M880.3 153h9.5M873.6 165h2.9M876.5 165h14.9M873.7 167h3.8M873.7 169h3.7M897.9 129h4.4M895.1 141h4.9M896.9 161h7.7M891.5 171h4.1M899.1 161h5.7M896.3 165h2.7M972.6 129h2.5M906.2 131h4.5M972.4 131h4.6M941.1 133h3.4M944.5 133h12.7M973.3 137h5.1M908.3 141h9.7M963.7 145h2.8M929.6 149h4.0M933.3 153h4.1M960.6 153h3.1M905.4 157h2.6M924.0 157h5.8M962.4 157h10.6M905.6 161h3.8M909.4 161h5.4M910.6 165h11.3M938.2 165h14.2M956.9 165h13.4M958.8 167h3.3M957.9 169h14.2M986.5 129h7.9M983.8 131h2.5M985.0 141h12.5M983.0 151h2.0M983.3 153h3.4M986.7 153h2.9M537.4 181h3.8M541.2 181h7.2M536.3 183h3.3M532.1 189h4.0M536.1 189h10.6M530.3 201h8.6M528.6 203h3.3M528.1 213h3.2M529.0 217h3.4M559.2 189h3.4M552.7 209h3.7M552.7 217h9.4M581.8 181h9.6M573.7 187h2.8M574.1 191h2.9M578.9 193h5.0M587.6 197h7.8M574.4 209h2.0M576.9 213h4.8M574.0 217h3.0M577.0 217h4.4M606.1 181h3.5M616.1 185h9.7M610.8 193h9.5M624.5 197h2.9M590.4 209h3.5M598.7 209h11.5M621.4 209h5.9M616.7 213h3.4M618.9 215h4.6M595.5 217h11.5M616.6 217h10.3M643.1 185h2.1M642.5 197h4.0M642.5 203h2.5M642.9 207h3.9M646.3 213h5.5M642.7 215h3.6M652.4 185h2.9M651.4 187h4.5M655.6 201h8.2M656.8 205h8.4M654.1 209h4.9M651.9 213h2.9M651.8 217h2.0M652.4 219h4.0M675.2 177h11.4M679.3 197h10.1M684.1 201h4.0M699.1 197h2.3M697.4 199h3.6M704.4 201h1.6M697.0 205h9.2M689.3 209h4.5M706.0 177h2.5M708.5 177h3.6M708.9 181h2.7M706.0 185h4.9M738.5 185h10.7M721.0 193h4.6M721.3 197h15.3M736.5 197h0.4M716.0 201h4.4M717.8 205h7.0M771.2 189h7.0M751.5 193h2.1M761.5 201h10.7M741.8 205h2.4M751.5 205h9.8M773.1 209h3.0M735.1 213h4.6M739.8 213h7.9M775.3 213h4.1M788.3 185h5.8M799.1 185h4.6M779.9 189h2.1M782.0 189h6.5M785.0 193h4.7M793.9 193h4.9M798.8 193h9.0M784.2 201h6.0M787.5 205h3.9M797.8 205h10.1M780.3 209h4.7M784.4 213h0.4M788.0 213h11.6M783.2 217h8.6M812.0 177h2.9M812.3 179h2.0M812.4 183h2.4M812.3 191h3.9M812.5 193h3.1M816.8 201h5.9M812.4 209h2.4M815.1 213h7.4M829.5 181h13.2M830.9 189h7.0M828.5 197h14.9M826.1 209h3.1M826.3 219h4.2M841.5 187h4.7M841.9 205h2.4M852.6 205h4.6M844.0 209h13.9M842.6 213h3.6M857.3 179h3.9M859.6 181h6.4M860.0 183h8.9M861.5 191h5.4M861.0 201h6.6M860.8 205h7.2M857.0 207h2.3M857.5 209h4.9M857.0 211h2.5M857.7 213h3.3M857.3 217h4.4M893.2 185h3.5M886.0 197h6.8M886.9 205h10.6M882.6 213h3.3M882.8 215h2.4M882.4 217h2.1M938.4 177h5.0M969.0 177h1.8M934.5 179h4.5M895.6 181h3.5M912.8 181h5.3M971.3 187h3.5M897.9 189h15.9M926.9 189h11.6M922.2 193h3.8M938.8 193h7.1M963.6 193h2.9M896.3 197h2.7M920.9 197h4.3M896.3 199h4.2M918.8 201h3.6M936.9 201h8.3M961.0 201h4.7M970.0 201h3.1M960.9 205h9.3M917.3 207h2.1M962.0 207h3.1M898.6 209h10.0M929.8 209h15.3M958.3 211h2.9M898.8 213h14.1M912.9 213h3.3M957.2 213h6.4M955.3 215h3.9M901.1 217h7.0M952.1 217h4.7M970.8 217h3.7M975.9 181h3.5M980.3 185h9.1M993.6 189h2.5M996.2 189h7.5M992.5 197h4.8M997.3 197h8.4M993.6 201h10.3M1009.4 205h5.1M540.5 261h10.4M528.2 265h2.5M553.2 261h8.2M592.7 233h9.3M590.6 237h9.7M574.5 265h3.6M589.8 265h7.0M617.5 249h3.3M623.8 253h4.1M610.5 255h2.4M604.8 261h3.9M641.6 233h4.5M642.0 241h4.3M645.6 245h6.2M641.8 251h4.8M642.2 253h2.3M664.6 227h2.5M663.5 229h4.6M662.1 231h2.3M663.1 237h15.3M659.1 241h3.2M657.3 245h3.3M674.9 249h0.9M654.7 255h2.1M654.3 257h4.2M655.1 261h2.1M654.5 265h3.4M682.9 233h7.3M679.0 239h2.4M681.7 245h4.1M675.3 253h3.1M673.3 261h3.4M676.6 265h13.4M700.1 251h2.3M693.4 257h4.6M689.7 261h4.8M720.6 249h2.9M714.2 257h4.8M709.8 263h3.5M756.3 249h8.4M737.2 251h4.7M748.4 251h10.6M741.3 253h10.6M732.8 261h13.3M727.3 263h4.1M773.9 249h6.2M767.0 253h3.5M765.7 255h2.4M783.6 253h7.3M790.8 253h9.3M797.4 259h5.3M811.8 223h2.1M812.2 231h3.7M812.1 237h3.5M812.4 239h4.9M812.5 243h2.6M812.0 251h3.7M816.3 253h6.5M812.5 265h2.2M826.4 223h2.9M826.1 225h3.2M826.5 231h3.9M825.4 233h4.4M829.9 233h11.6M826.0 237h4.9M826.3 241h3.0M825.7 253h2.2M827.9 253h11.3M825.9 261h2.3M841.8 225h4.5M842.4 227h3.9M842.1 229h4.4M841.8 237h2.8M853.1 237h6.4M841.6 249h3.2M845.5 253h12.5M841.4 255h4.9M861.5 233h6.5M858.1 237h2.3M860.4 237h6.0M859.6 245h8.6M857.5 263h10.2M858.0 265h4.2M882.4 223h2.3M883.5 233h3.6M887.0 233h4.1M891.1 233h4.3M882.8 237h4.3M887.1 237h6.8M893.9 237h0.9M887.5 239h10.3M883.5 241h2.1M898.3 225h5.5M895.8 227h2.4M896.3 229h4.9M896.5 243h2.3M905.0 245h0.6M895.9 253h3.1M896.4 255h4.4M908.4 225h4.5M913.0 225h4.4M908.5 229h2.2M910.7 229h8.7M920.9 233h3.7M907.5 239h5.0M906.9 245h3.5M911.2 249h8.4M919.5 249h4.4M906.6 253h4.3M910.5 257h10.5M906.2 265h2.9M951.2 237h2.3M933.2 243h3.3M953.4 249h1.8M951.7 253h3.0M929.0 257h14.0M923.7 261h4.8M971.4 229h3.1M971.1 233h3.3M989.4 233h1.2M970.2 237h4.9M972.0 245h12.0M1012.0 245h2.3M1002.5 251h3.2M604.3 273h8.1M600.5 275h2.0M568.9 277h13.7M596.2 277h3.3M599.5 277h11.4M565.8 281h12.2M559.5 283h4.6M587.1 289h3.4M590.4 289h5.1M589.2 293h10.2M566.5 299h5.0M538.6 301h9.1M561.8 301h1.5M529.7 303h4.2M532.8 305h12.2M545.0 305h7.4M638.1 305h4.8M644.1 305h4.7M533.2 309h7.0M555.4 309h4.9M588.9 309h14.1M626.1 309h10.0M644.2 309h8.8M565.6 311h5.0M528.4 313h2.5M538.1 313h11.1M585.5 313h14.8M600.3 313h8.2M613.4 313h8.6M617.7 277h8.5M611.5 285h3.7M609.4 289h3.6M641.1 281h2.2M644.8 283h8.5M646.2 285h6.5M643.3 275h3.1M642.5 277h3.1M661.0 303h3.1M686.6 273h3.9M680.3 281h7.0M675.9 285h3.6M679.5 285h6.9M675.6 287h2.5M673.9 293h4.8M677.7 297h5.3M691.9 297h2.7M726.9 297h15.1M753.6 297h2.9M775.7 297h3.4M672.9 301h3.6M692.5 301h3.7M723.6 301h15.4M692.4 305h4.7M717.9 305h2.7M753.0 305h11.0M768.5 305h9.5M673.4 309h3.9M765.8 309h15.1M688.4 313h2.7M701.2 313h7.9M718.1 313h7.5M747.1 313h4.7M751.8 313h4.5M738.7 281h7.4M718.8 289h4.2M723.0 289h6.5M771.2 281h3.2M763.7 289h2.7M777.6 289h1.0M800.6 281h4.1M791.9 289h2.5M794.4 289h7.7M811.5 289h1.6M784.8 293h5.3M791.9 293h4.0M785.1 301h1.4M802.5 301h3.5M806.0 301h4.4M779.7 307h3.8M786.5 309h14.1M806.7 313h5.9M811.9 273h2.4M814.3 281h6.7M811.8 293h4.9M812.3 313h2.4M814.8 313h8.0M829.4 273h4.3M826.0 277h3.5M826.0 279h4.1M826.1 287h2.4M826.3 289h3.1M835.8 289h6.6M828.1 293h9.8M826.1 299h2.3M842.3 275h4.1M846.0 277h9.4M842.0 279h4.6M841.8 293h2.4M852.4 293h3.9M858.0 297h0.7M842.5 307h3.5M845.9 309h10.3M859.8 273h8.2M857.3 301h3.1M860.3 301h6.0M857.1 309h2.4M881.3 273h2.0M883.3 273h11.7M880.5 277h4.3M884.8 277h11.5M881.2 289h2.6M881.2 293h3.4M892.3 305h3.0M880.9 309h11.5M867.4 311h3.1M868.1 313h3.4M895.6 273h2.4M898.0 273h6.6M896.1 281h4.2M895.5 293h2.2M896.3 297h3.4M895.5 305h4.4M906.2 273h4.8M905.7 293h4.4M917.6 295h10.7M906.2 301h4.5M906.1 309h2.3M915.7 313h4.4M942.9 283h4.5M946.5 289h8.5M937.9 293h3.0M935.0 297h3.0M935.1 301h9.7M932.4 303h5.0M933.4 305h11.2M944.6 305h8.7M973.9 277h2.9M972.8 289h12.4M968.8 293h4.0M967.1 297h3.1M1008.7 281h5.5M1004.4 283h2.5M1013.0 293h1.7M554.4 341h3.5M557.8 341h7.3M575.7 325h5.0M575.7 329h4.4M585.6 329h5.4M574.8 333h2.3M577.2 333h6.6M583.7 333h7.9M599.0 333h2.7M583.8 341h14.3M538.1 349h12.8M606.8 349h5.0M603.4 351h4.3M634.1 353h3.0M637.1 353h5.1M653.1 353h1.2M549.8 355h3.2M529.0 357h3.9M551.2 357h13.5M574.1 357h3.3M577.4 357h5.2M582.6 357h8.2M613.4 357h8.8M618.9 327h2.2M615.6 329h3.3M609.3 333h2.9M644.1 333h7.0M639.6 337h12.3M633.6 345h12.2M645.8 345h7.2M643.6 325h2.0M644.8 329h7.1M643.3 333h3.3M643.6 337h3.4M647.1 337h5.9M643.6 339h3.7M645.5 341h5.7M675.4 317h8.5M670.9 325h5.0M669.1 329h3.4M667.2 335h4.3M688.4 337h1.9M666.6 339h4.7M677.2 349h4.9M682.9 349h4.4M699.3 317h4.3M688.4 337h3.4M686.7 341h2.7M686.0 343h4.5M695.8 345h5.3M683.5 347h3.0M693.6 349h7.1M680.9 353h2.6M683.5 353h5.6M689.1 353h13.6M722.8 349h2.7M721.1 353h5.6M713.3 355h2.2M743.7 345h4.0M741.6 347h2.8M740.8 349h4.2M738.3 351h4.4M736.3 353h3.0M757.4 353h3.7M759.0 355h3.4M736.0 357h13.5M754.6 357h4.7M766.8 349h4.6M758.1 357h7.1M765.2 357h7.6M753.7 359h4.6M780.4 343h3.0M784.1 345h11.5M779.7 349h4.4M806.0 349h2.4M784.5 353h10.7M809.1 355h2.1M809.7 321h4.1M813.8 325h6.4M813.7 329h6.8M809.7 333h2.6M809.9 335h3.7M810.1 337h4.7M809.8 347h4.3M812.5 353h5.9M809.6 357h2.4M825.6 317h3.1M824.9 327h3.9M824.8 343h2.3M827.8 345h8.8M825.3 357h3.3M843.8 317h8.3M840.6 325h4.8M841.1 335h4.5M844.0 337h9.3M841.3 341h4.4M840.7 345h2.1M840.6 349h2.5M841.4 355h4.4M841.3 357h3.5M857.1 321h2.1M859.2 321h6.2M865.3 321h1.4M857.6 327h4.0M860.9 329h5.7M857.1 335h2.3M857.7 343h4.3M857.1 345h4.3M857.3 353h3.0M810.0 353h4.1M837.7 357h3.1M867.8 353h4.5M881.2 317h3.5M884.8 335h12.5M881.5 337h3.5M880.6 347h2.8M884.0 349h12.0M883.5 353h9.3M901.1 337h3.5M895.4 341h4.9M900.3 341h4.4M895.9 345h2.6M896.6 351h2.5M899.3 353h6.9M895.6 355h2.2M927.3 333h3.7M931.0 333h7.1M938.2 333h4.2M951.4 333h0.4M930.6 337h15.6M946.2 337h7.5M926.1 345h6.0M922.3 349h7.3M917.9 351h4.4M918.0 357h12.6M955.3 333h2.6M969.7 333h6.3M950.2 341h3.6M947.0 345h4.4M951.4 345h5.0M943.9 353h12.2M990.9 341h5.0M996.0 341h6.4"/><path stroke="#444" d="M29.7 33h4.4M34.2 33h6.9M34.0 41h11.0M17.3 49h3.8M21.1 49h4.0M25.1 49h14.3M20.8 57h6.5M27.3 57h9.8M13.9 61h5.9M11.0 65h3.6M14.6 65h12.4M10.2 69h4.3M60.9 33h9.3M46.9 41h3.0M46.7 43h2.8M45.5 45h3.5M54.1 45h8.8M48.9 49h14.9M42.5 65h4.3M41.5 71h3.9M44.3 73h7.1M49.3 77h12.7M65.5 33h4.3M69.9 33h13.4M93.0 33h9.6M93.8 37h8.1M74.7 41h4.5M69.8 45h13.0M68.3 61h8.7M77.0 61h9.2M88.3 69h1.8M67.2 73h4.3M62.4 77h2.3M76.4 77h10.7M114.6 41h9.0M123.6 41h3.9M128.0 41h2.7M92.5 45h4.3M91.6 47h2.7M90.0 51h2.4M89.0 53h2.9M124.6 53h3.9M128.4 53h7.7M88.9 57h3.3M124.9 57h4.1M86.3 65h3.2M89.5 65h12.7M102.3 65h7.0M119.6 69h2.0M118.7 73h3.9M82.7 77h4.1M124.5 33h8.1M120.1 37h3.6M139.0 33h2.6M138.7 41h2.8M137.5 45h3.8M141.2 45h13.2M135.8 57h4.7M147.6 57h4.7M147.2 73h6.0M143.2 77h11.0M284.0 59h3.5M289.1 61h10.9M282.5 65h4.5M304.5 65h2.4M306.9 65h4.1M282.0 71h3.6M283.3 73h8.8M306.2 73h10.9M291.8 75h5.2M312.8 77h8.0M318.7 33h2.8M318.1 37h4.0M317.7 39h4.7M316.6 49h3.0M316.7 61h15.9M312.5 71h2.8M348.4 41h8.2M349.5 45h8.3M344.5 49h4.6M348.0 53h9.5M333.4 67h3.5M332.1 69h3.0M335.1 69h14.4M381.6 39h3.3M399.7 45h4.4M374.3 53h3.7M393.3 57h3.5M371.4 59h4.5M369.2 63h6.4M387.2 69h3.8M397.4 69h4.9M387.9 71h2.1M365.9 73h5.4M371.3 73h7.9M398.0 77h1.1M408.6 33h2.6M411.2 33h14.1M418.1 37h9.5M408.7 41h11.4M407.8 49h5.7M399.0 59h3.9M395.4 69h5.0M406.9 71h15.4M395.7 73h12.3M408.0 73h13.7M391.3 77h4.5M395.8 77h9.6M443.6 37h11.6M438.0 41h4.7M442.7 41h4.9M447.5 41h9.4M436.4 49h4.2M443.4 55h8.9M449.8 57h2.9M436.9 61h15.0M430.8 67h3.1M430.8 69h4.6M428.7 73h2.6M428.8 75h2.5M448.3 77h4.3M461.3 57h2.1M462.9 61h3.8M458.3 73h2.7M458.1 77h2.9M493.0 55h4.1M33.3 89h8.3M41.7 89h5.6M47.8 89h2.2M23.3 93h4.7M28.0 93h9.5M47.7 93h3.8M19.3 97h2.6M43.3 97h5.7M24.4 117h4.4M9.9 121h3.9M13.8 121h9.3M10.1 125h4.1M78.7 97h6.9M49.3 101h2.1M75.5 101h15.5M107.0 101h2.8M128.2 103h3.5M48.1 105h2.9M70.7 105h12.1M103.1 105h0.8M131.6 105h7.7M49.6 109h4.8M105.6 113h12.6M44.7 115h2.4M44.1 117h4.1M104.7 117h5.7M103.4 119h4.9M127.2 119h4.5M43.5 121h3.0M46.6 121h14.9M83.4 121h10.6M94.1 121h6.4M41.9 125h3.5M100.2 125h4.2M104.4 125h4.7M143.8 85h5.5M137.9 89h3.2M141.1 89h11.8M137.0 97h2.9M135.5 109h4.7M134.2 117h3.5M134.6 121h3.2M137.8 121h10.0M159.8 103h3.9M157.9 105h4.7M152.9 113h4.4M157.3 113h7.1M151.6 115h4.8M150.0 117h2.7M146.2 123h4.0M296.8 93h3.1M299.9 93h10.7M283.1 109h12.1M280.7 113h3.1M280.4 117h3.2M303.7 121h1.3M315.3 97h2.8M322.4 101h8.3M312.7 107h3.2M309.5 115h10.7M308.2 117h4.9M313.1 117h9.3M331.1 117h2.1M307.4 121h4.7M343.8 97h2.9M342.2 101h3.7M349.5 105h8.5M339.8 107h4.3M338.6 109h2.8M341.4 109h5.7M336.1 115h3.9M334.5 121h3.9M338.4 121h15.0M381.0 81h4.3M389.5 93h6.1M395.5 93h2.8M371.6 95h2.3M395.8 97h3.3M389.0 101h8.8M397.8 101h2.8M376.3 105h4.2M396.2 105h2.4M366.5 109h3.2M377.8 109h6.4M367.2 117h5.5M390.4 121h1.6M425.7 105h4.4M393.7 109h7.1M406.5 109h14.7M389.8 113h3.0M392.8 113h5.4M398.3 113h6.8M424.0 117h3.3M387.6 119h3.9M428.4 85h3.9M443.5 89h3.8M425.7 93h3.2M423.6 99h3.5M426.7 101h14.7M421.7 103h3.4M446.8 105h3.5M460.5 105h5.1M447.6 109h15.5M444.2 117h6.2M450.4 117h13.4M463.8 117h3.7M473.7 93h4.4M471.5 97h2.0M480.1 97h5.6M489.8 101h2.5M472.8 105h7.2M30.5 129h6.5M63.3 129h12.2M22.3 135h2.3M20.1 137h2.7M52.0 141h5.7M13.5 145h2.1M40.2 145h3.7M47.6 145h7.1M10.9 151h3.5M10.6 153h2.6M31.6 153h4.7M12.2 157h12.6M24.8 157h4.5M31.7 157h11.7M10.6 159h3.3M10.6 165h3.9M30.2 167h2.0M14.5 169h9.9M11.1 171h2.7M45.1 147h4.0M44.4 149h2.2M41.9 153h3.0M41.4 155h4.3M36.0 165h4.3M49.3 165h12.3M47.9 169h14.1M105.1 129h15.8M82.6 131h4.8M80.9 135h2.0M80.4 137h2.8M102.3 137h6.4M124.2 137h3.8M100.0 139h3.2M126.9 143h4.6M77.8 145h4.2M86.9 145h9.9M103.6 145h9.5M108.8 149h11.4M74.2 153h4.5M78.7 153h9.4M120.1 153h8.9M102.2 155h10.3M89.8 157h2.1M94.8 157h10.7M96.9 159h4.9M83.9 161h7.2M70.7 165h3.0M68.5 169h3.9M91.3 171h3.5M134.0 133h3.8M137.8 133h12.0M135.0 143h4.3M135.1 157h3.4M134.5 167h2.1M357.8 129h9.1M382.7 133h3.3M394.4 133h12.8M413.2 133h4.3M304.3 137h4.9M361.0 137h4.8M397.2 137h2.4M415.6 137h0.7M336.8 141h10.4M349.8 141h3.6M380.5 141h4.9M385.4 141h11.5M289.1 145h6.9M302.5 145h2.3M304.8 145h6.7M375.2 145h13.6M397.1 145h5.6M300.0 149h2.7M343.1 149h8.1M356.5 149h5.1M365.2 149h5.7M388.9 149h3.2M280.8 153h2.1M288.1 153h8.2M405.9 153h6.2M301.2 157h15.1M324.3 157h11.4M358.7 157h3.9M429.3 157h2.3M361.5 159h4.6M292.9 161h4.4M318.7 161h2.5M427.5 161h3.0M293.7 165h3.2M354.1 165h2.1M387.0 165h2.4M413.9 165h8.7M280.8 167h3.4M427.7 167h6.9M317.2 169h8.4M356.4 169h6.7M435.9 129h12.1M428.9 133h4.9M442.5 137h7.1M423.6 143h4.1M422.1 149h4.1M450.9 153h9.9M430.2 159h4.7M432.3 161h4.1M441.8 161h10.9M438.5 169h3.4M465.1 131h4.6M473.2 133h15.0M463.6 141h12.2M456.7 145h2.6M453.5 151h3.4M452.5 153h4.0M456.6 153h5.1M449.0 165h15.9M26.2 211h6.5M40.3 201h2.1M42.3 201h4.9M36.8 207h3.6M77.5 183h3.1M77.3 185h5.0M82.3 185h13.5M75.7 189h4.3M80.1 189h15.8M87.7 201h3.7M85.4 209h4.0M74.6 213h10.8M66.6 217h2.6M104.1 183h4.9M102.8 185h3.2M100.5 189h2.8M140.9 189h4.3M102.7 193h11.2M96.9 197h4.8M136.8 197h2.1M142.1 201h7.3M92.1 205h3.1M100.8 205h10.6M141.5 205h6.5M90.9 207h4.7M130.3 209h2.6M144.3 209h3.3M89.6 211h2.9M133.5 213h13.6M86.0 217h4.2M94.4 217h4.0M98.4 217h14.4M112.9 217h11.6M170.7 193h2.7M173.5 193h11.4M182.5 197h4.1M161.0 205h4.3M153.3 215h4.3M205.4 209h6.0M203.2 213h5.7M218.3 213h2.2M220.5 213h1.8M181.1 217h4.8M186.0 217h4.7M211.9 217h0.8M251.9 201h2.6M244.8 205h2.8M256.3 209h7.0M233.9 213h5.4M250.8 213h10.5M257.5 217h3.1M297.1 177h4.6M290.8 189h13.9M293.9 193h8.2M297.9 201h8.0M272.4 207h2.3M272.6 213h9.9M300.5 213h2.4M321.2 185h12.7M312.8 195h3.6M319.8 199h8.7M304.3 211h2.8M342.9 177h2.1M340.6 181h3.2M340.3 183h4.2M336.8 189h2.4M334.8 195h3.5M331.7 201h3.0M328.7 207h2.6M355.9 209h0.7M348.1 213h4.1M352.3 213h6.3M325.0 215h2.7M349.6 215h2.9M324.1 217h4.9M347.1 217h3.5M365.9 181h4.2M389.0 185h3.1M361.9 189h2.4M364.3 189h8.0M372.3 189h6.1M378.4 189h9.0M357.8 201h2.6M372.1 201h11.0M383.2 201h3.0M356.0 205h4.3M382.9 205h3.0M355.6 209h3.9M359.5 209h14.2M355.9 217h5.1M383.7 217h0.5M418.4 181h6.7M404.6 187h4.3M407.8 189h5.4M396.4 205h10.8M392.5 209h14.2M387.8 213h2.0M390.4 217h4.6M395.0 217h13.0M422.5 211h4.3M418.9 215h2.9M459.1 189h6.2M440.0 193h3.6M440.5 199h4.3M439.6 201h2.2M440.5 205h4.6M449.5 205h7.7M439.6 209h4.4M440.2 211h4.2M440.1 217h4.8M492.1 197h5.7M471.4 201h3.6M40.8 239h2.4M41.3 245h2.9M50.4 245h1.2M11.1 251h4.4M10.8 253h3.4M14.1 253h7.4M14.4 257h14.2M29.1 257h3.8M10.7 259h3.3M10.4 263h3.3M26.5 265h3.5M30.0 265h14.7M44.7 265h8.1M101.4 229h1.0M69.2 231h5.5M78.9 233h7.1M67.7 237h3.5M71.2 237h12.4M103.4 237h5.8M126.4 237h15.9M97.5 241h2.3M99.8 241h7.1M120.6 241h3.7M106.8 245h10.9M123.2 245h6.1M129.3 245h6.1M72.5 249h4.4M76.9 249h5.4M123.7 249h6.2M120.0 251h3.9M90.3 257h2.8M117.7 257h9.9M114.7 259h2.4M68.2 261h15.2M83.4 261h4.4M111.5 261h4.3M143.0 261h1.4M105.5 265h4.6M110.9 265h2.7M113.6 265h10.4M93.4 223h4.6M127.9 223h6.8M125.2 225h2.4M127.6 225h6.2M146.1 241h3.1M159.4 245h6.7M148.5 249h7.6M146.5 251h4.2M146.5 253h4.3M155.3 253h5.6M146.6 259h2.2M148.9 261h4.8M146.3 265h4.9M165.6 265h7.0M166.6 225h2.7M190.8 225h0.7M164.1 229h3.0M162.6 233h4.7M159.8 237h5.0M187.1 249h4.3M183.8 253h4.0M184.3 265h8.5M242.4 227h1.9M233.2 233h3.2M215.3 237h5.5M225.6 243h2.7M196.8 247h5.0M211.4 249h15.4M227.4 251h2.0M195.9 255h2.5M196.6 257h3.2M195.8 261h3.6M199.4 261h13.5M206.8 265h4.5M211.3 265h8.3M256.1 235h2.7M259.6 245h6.0M256.1 247h4.3M256.3 259h3.0M255.5 261h2.6M279.1 237h4.1M266.3 245h3.1M261.9 253h4.7M258.5 261h2.3M260.8 261h9.2M257.9 265h3.0M260.9 265h6.5M303.8 225h2.2M306.0 225h8.6M301.0 229h2.2M303.1 229h11.2M296.1 237h14.0M293.0 239h4.7M291.1 245h13.0M280.3 249h4.6M295.0 253h13.3M292.0 257h4.4M280.4 263h4.9M280.3 265h2.6M315.7 261h4.5M312.7 265h4.0M316.7 265h7.2M348.4 225h4.8M344.0 233h3.8M347.7 233h11.3M342.7 237h3.9M354.0 241h4.5M339.8 245h2.9M336.0 257h4.0M340.0 257h15.8M344.0 261h5.2M337.1 265h7.6M363.7 237h3.3M368.3 241h5.5M373.8 241h10.3M367.3 249h5.1M367.3 257h6.8M364.1 259h3.5M408.9 231h2.7M407.9 245h14.4M402.4 253h3.4M397.5 261h2.3M401.3 263h12.1M395.2 265h2.4M478.5 233h3.7M447.9 237h12.8M467.6 237h9.1M479.3 243h2.3M454.4 245h15.2M444.1 249h5.0M440.4 251h3.3M440.8 257h4.8M440.2 261h3.1M479.6 229h4.9M468.7 237h11.6M474.2 241h1.8M462.2 243h4.9M467.1 243h6.7M460.5 247h4.0M10.0 301h4.1M14.2 313h6.7M32.9 313h2.2M47.3 313h8.3M55.6 313h3.0M42.2 285h3.9M46.1 285h4.1M42.8 289h3.6M41.9 299h4.0M45.8 299h4.8M85.0 285h14.9M70.7 293h3.8M69.4 295h4.7M94.3 297h4.9M97.5 299h4.7M80.6 301h5.7M97.0 305h1.7M93.4 309h3.8M62.2 313h2.6M100.6 285h12.7M113.3 285h10.1M98.0 287h4.5M99.5 289h7.8M122.7 289h8.5M93.7 295h3.9M91.4 301h4.8M96.2 301h12.9M127.7 301h10.5M106.9 305h14.8M110.1 309h7.2M124.1 311h4.9M85.4 313h3.1M104.0 313h15.2M127.1 277h4.5M127.0 279h3.1M131.0 281h15.8M126.3 285h4.1M141.6 285h1.2M126.8 301h4.2M127.2 307h4.8M131.4 309h12.6M130.7 313h6.6M160.4 285h9.7M151.8 293h3.3M151.4 297h2.8M151.1 301h4.1M197.3 307h2.8M217.7 309h3.7M162.3 313h4.1M216.7 313h6.6M217.4 301h6.4M228.6 301h15.8M251.2 301h5.1M210.4 305h4.8M228.2 305h5.3M238.7 305h3.7M203.2 311h4.7M268.4 297h4.9M255.8 305h4.1M259.0 309h5.2M270.7 313h6.4M277.1 313h6.9M300.7 269h11.6M323.0 273h2.6M289.9 277h4.1M314.7 281h2.9M285.1 301h9.0M280.0 313h4.9M320.4 297h4.7M316.5 301h2.1M307.2 313h4.8M338.2 313h4.2M347.1 269h4.1M346.5 271h3.7M346.4 277h2.6M346.6 281h4.4M340.3 297h6.5M346.7 297h6.5M353.2 297h11.3M364.8 301h4.4M336.1 307h4.3M336.0 309h3.4M374.2 269h9.6M379.4 281h2.2M362.9 285h4.9M369.1 311h2.3M366.7 313h4.1M395.2 285h3.6M386.5 297h4.7M391.3 297h12.5M408.4 297h7.4M420.7 297h12.8M401.0 301h5.9M388.2 305h10.4M387.3 313h5.0M392.3 313h4.6M415.1 313h2.2M450.9 285h3.9M485.5 293h3.1M440.3 299h3.5M442.2 301h8.5M461.8 309h7.8M469.5 309h11.2M487.0 273h10.4M476.2 279h7.2M37.6 317h4.4M23.0 321h3.1M26.1 321h10.4M20.3 325h2.7M36.4 329h4.1M14.7 333h3.5M18.3 333h11.8M12.8 335h4.6M10.0 347h2.2M13.3 349h9.0M11.0 353h4.5M9.9 357h4.9M14.8 357h7.7M10.6 361h4.3M38.2 345h4.9M36.3 349h2.7M34.9 353h2.3M37.2 353h11.4M35.4 357h6.0M35.8 361h8.2M52.9 317h7.7M46.9 329h10.7M45.5 333h8.9M64.5 337h4.5M42.3 341h12.4M38.0 347h4.3M38.9 357h8.1M76.5 325h4.5M76.3 327h4.2M80.2 329h5.5M85.7 329h6.1M75.1 331h4.4M73.4 337h3.1M71.2 345h4.0M73.9 353h5.5M68.4 355h2.5M67.6 357h3.4M105.7 321h7.4M108.3 325h5.3M97.7 333h7.9M96.6 337h9.9M89.8 347h2.5M102.8 349h7.1M86.4 357h3.3M147.8 329h6.2M125.0 341h4.1M120.0 345h2.5M119.0 349h2.4M131.2 349h7.2M138.4 349h4.9M118.4 351h4.0M121.4 353h12.9M174.0 335h3.9M171.5 337h2.4M178.3 337h6.7M185.0 337h4.5M167.5 341h4.6M165.9 343h4.6M172.9 345h15.4M188.3 345h10.3M197.7 349h8.1M163.3 353h15.3M153.5 355h3.2M154.9 357h6.4M161.3 357h7.7M180.7 357h5.1M166.2 361h4.5M182.7 361h4.3M204.3 321h4.2M208.5 321h6.0M201.2 327h3.8M217.7 341h4.2M193.8 345h14.3M205.5 349h3.3M208.8 349h4.6M209.1 351h2.1M206.9 353h2.5M209.4 353h6.6M204.1 357h4.8M254.3 329h2.9M257.1 329h11.1M273.9 333h8.1M245.1 337h2.4M256.4 341h11.0M238.8 343h4.6M240.0 345h4.3M237.4 347h4.8M231.5 349h4.8M230.0 351h4.4M249.2 353h7.0M263.3 353h4.2M220.6 361h12.1M284.5 319h13.7M302.6 325h1.9M275.5 329h14.5M270.0 333h4.3M265.8 339h4.2M260.9 345h3.2M264.2 345h11.1M258.4 349h4.9M285.4 349h2.1M256.9 351h4.5M282.2 353h4.8M254.9 355h4.5M251.8 359h2.6M250.6 361h3.3M304.2 321h2.3M302.8 325h3.5M306.3 325h10.8M304.1 329h16.0M320.1 329h7.2M309.7 337h6.4M296.7 339h4.4M295.7 341h4.3M297.1 345h5.9M323.1 347h0.8M291.0 353h2.8M301.7 353h5.4M318.2 353h3.0M317.9 355h2.0M299.1 357h11.1M286.9 361h3.3M352.6 317h10.5M336.6 321h2.9M350.7 321h5.3M360.8 325h2.4M330.9 333h3.0M348.6 333h10.2M334.0 337h5.7M325.8 345h4.5M354.8 345h5.4M327.0 349h9.5M342.9 349h11.5M365.8 319h2.3M360.3 335h4.8M363.6 341h7.1M356.2 349h2.1M357.8 357h11.3M389.1 317h11.1M400.2 317h7.9M416.6 317h5.8M383.6 321h4.9M383.7 323h4.5M391.4 325h15.9M411.7 325h3.5M415.2 325h5.5M399.1 329h9.1M405.4 337h4.8M406.8 341h10.1M383.8 351h3.8M384.4 353h3.3M407.4 357h1.8M404.5 361h4.6M421.3 325h4.8M443.6 333h3.5M418.2 335h3.2M418.0 349h15.2M466.5 317h4.9M471.4 317h6.2M485.3 317h5.8M467.8 321h13.1M459.7 329h3.9M463.6 329h7.0M458.1 331h2.1M457.0 333h3.4M455.1 337h3.0M454.2 339h4.9M453.5 341h2.3M452.4 349h9.8M446.9 353h4.3M490.9 345h2.2M493.1 345h4.6M536.5 41h3.0M533.7 49h4.2M537.9 49h4.5M542.4 49h9.9M532.0 51h3.2M529.2 59h4.6M530.2 65h9.7M560.7 57h1.2M554.9 75h3.8M553.8 77h3.0M590.8 41h2.7M590.3 45h4.6M574.4 47h2.7M592.0 47h4.8M575.0 53h4.3M588.8 53h12.5M585.0 57h4.3M588.3 59h3.5M580.2 65h4.7M584.8 69h7.3M612.6 77h7.8M604.5 45h3.9M608.4 45h8.8M602.4 49h2.9M610.7 53h4.6M615.2 53h6.4M599.5 57h3.7M616.5 57h8.2M596.0 65h2.2M623.8 69h3.5M592.0 73h3.4M622.1 73h2.0M624.1 73h1.5M621.7 75h2.9M594.0 77h6.2M600.2 77h4.6M619.8 77h4.5M631.6 37h5.7M639.8 45h4.9M638.7 49h3.0M646.4 49h5.6M638.1 53h4.3M635.9 57h3.8M639.7 57h4.2M634.7 63h2.2M638.9 65h6.5M631.5 73h2.4M633.9 73h8.4M651.7 37h3.1M652.6 43h3.6M652.5 45h4.1M651.9 57h5.0M654.7 61h5.9M655.2 65h5.9M655.5 73h6.4M677.3 37h4.9M675.5 49h2.2M674.5 65h2.0M676.8 69h5.5M676.8 77h5.1M694.7 69h6.1M673.0 73h3.0M676.7 77h11.5M808.2 41h3.6M810.4 45h6.9M805.6 57h4.6M810.2 57h8.5M807.4 61h8.9M805.7 77h4.9M819.4 53h4.0M815.7 65h3.5M816.2 77h5.1M840.6 37h4.7M848.6 41h5.3M837.7 61h4.8M836.3 71h4.3M838.9 73h5.2M857.2 41h4.0M868.6 45h7.2M857.3 53h2.8M860.1 53h5.4M871.8 53h2.6M857.2 55h3.2M871.5 57h3.2M874.1 59h2.4M858.0 61h3.8M861.8 61h6.6M868.4 61h3.2M872.2 63h2.7M870.4 65h4.7M857.2 71h4.9M857.7 73h2.1M863.1 73h4.1M857.3 77h2.7M887.9 77h1.9M874.8 57h10.2M871.5 65h11.8M872.4 69h12.6M881.3 37h4.0M885.4 37h6.7M881.0 53h3.6M880.4 61h4.5M880.6 73h2.7M883.3 73h6.5M880.5 77h2.0M895.4 37h3.3M895.5 39h3.5M895.7 41h3.3M899.9 53h8.0M896.4 57h2.9M895.5 59h2.2M895.7 61h2.3M898.1 61h10.3M895.9 65h3.6M899.5 65h6.4M895.8 69h4.6M906.0 69h1.6M895.6 37h2.7M895.9 41h3.2M904.2 41h9.7M896.2 47h3.2M908.3 37h15.8M924.1 37h9.2M895.8 59h3.3M899.3 61h9.7M927.4 61h9.3M936.8 61h6.5M961.1 61h3.6M895.9 63h2.1M900.3 65h8.1M938.4 65h15.4M953.8 65h3.6M922.2 75h3.1M913.4 77h2.3M916.5 77h3.2M949.8 77h2.2M940.6 45h6.3M950.7 49h1.7M928.8 51h2.2M928.0 53h4.9M980.7 45h8.8M975.2 49h3.6M972.4 55h3.2M971.5 59h3.7M969.7 65h3.8M540.4 91h4.4M535.2 97h3.5M531.3 101h4.6M535.8 101h12.3M537.4 105h6.2M533.8 109h5.9M528.4 111h4.0M531.7 113h7.9M558.0 121h3.0M556.0 125h4.6M582.4 87h2.1M577.4 97h2.4M576.6 105h15.4M574.0 107h2.6M576.9 113h4.4M574.3 123h14.4M574.0 125h2.3M576.3 125h7.8M615.3 85h10.4M609.0 97h4.2M618.7 97h7.0M606.9 101h3.7M606.8 103h2.1M605.9 105h4.6M593.6 109h2.2M593.2 117h14.7M588.1 121h2.2M590.2 121h11.7M625.9 113h1.8M630.8 89h4.9M627.7 101h4.5M627.2 113h4.3M627.4 119h2.0M628.3 125h4.5M640.2 95h4.3M639.4 99h4.7M641.2 101h11.2M633.6 117h4.1M633.2 119h3.5M632.6 121h2.8M632.0 123h2.9M636.4 125h11.5M675.4 83h2.4M675.3 85h2.8M675.2 93h4.9M674.4 99h4.9M674.5 101h3.7M670.5 113h13.0M694.7 119h3.9M688.5 121h3.2M666.3 125h12.8M812.1 85h5.3M807.5 93h4.4M807.7 97h3.4M805.4 105h4.1M806.7 117h5.7M825.6 83h2.6M825.5 89h3.6M826.3 91h2.2M830.3 93h4.9M830.1 109h6.4M826.6 115h3.0M841.7 101h4.5M842.0 103h2.4M841.9 105h4.6M842.5 121h2.2M857.7 101h2.9M857.5 117h2.6M861.2 125h4.4M866.0 95h3.3M865.6 105h3.1M868.7 105h10.3M866.0 107h3.7M866.6 117h3.9M866.5 123h3.3M899.6 97h4.8M895.8 101h2.9M899.3 109h4.9M896.5 113h4.6M895.7 115h2.6M895.7 119h3.6M815.5 113h10.3M823.7 125h0.5M905.7 87h4.4M915.2 89h7.5M905.7 109h2.3M919.7 113h3.3M931.9 89h4.7M936.7 89h9.8M931.6 97h9.3M935.4 101h5.1M927.1 109h7.6M920.4 115h3.2M922.6 117h4.3M967.4 101h4.8M972.2 101h3.7M953.2 113h15.4M933.2 115h2.1M948.5 117h13.9M969.8 121h10.1M967.9 123h3.6M983.9 109h13.0M1010.0 109h5.6M543.8 129h4.2M540.0 133h2.7M531.4 145h3.4M533.1 149h10.3M528.3 153h3.5M531.7 153h10.7M542.4 153h11.1M532.8 157h9.0M528.3 161h3.7M532.0 161h9.8M529.0 169h3.4M553.6 165h3.3M574.9 145h2.3M574.1 149h4.3M578.4 149h15.9M574.8 153h4.0M587.6 157h6.2M582.4 169h9.5M648.9 129h6.5M648.8 133h4.6M607.9 137h3.3M643.4 143h3.0M604.3 147h4.0M618.8 149h5.3M601.9 153h2.5M617.4 153h15.1M632.5 153h4.8M639.8 155h3.8M604.9 157h13.5M649.0 165h3.8M631.3 169h4.1M676.7 129h3.6M679.8 133h4.8M674.3 141h2.9M681.0 149h2.3M655.1 157h10.0M651.9 161h3.0M668.8 169h6.8M698.3 169h6.3M813.5 129h6.4M814.6 143h6.6M806.1 147h2.7M805.6 149h4.5M810.2 149h11.3M817.2 153h3.3M804.3 157h3.6M816.7 169h4.2M819.8 131h4.3M819.7 139h3.9M819.4 145h3.6M828.7 145h6.4M825.1 147h4.5M828.8 149h5.7M826.2 151h2.5M825.9 157h4.6M825.9 161h4.1M830.0 161h4.9M825.0 171h4.5M841.9 129h2.3M842.6 135h4.8M846.7 145h5.4M842.6 153h4.1M841.5 159h3.7M845.3 165h7.3M842.0 169h2.9M844.9 169h6.4M861.0 133h10.7M857.2 137h4.2M857.3 143h3.6M856.9 145h2.4M858.0 157h3.1M858.0 159h3.3M857.4 161h4.3M861.7 161h5.8M862.3 165h7.6M857.5 167h2.7M857.4 169h3.1M860.5 169h9.3M888.9 137h1.6M877.5 145h3.2M875.4 157h2.5M875.4 159h4.3M896.7 133h3.4M895.6 143h2.8M894.9 147h3.8M894.6 149h4.6M899.1 149h5.5M892.6 157h3.2M897.8 169h7.3M895.8 133h4.1M899.7 141h4.1M896.2 149h3.0M896.0 155h4.0M900.0 157h5.2M905.9 129h2.1M943.0 129h4.0M975.1 129h6.1M905.7 133h4.2M985.0 133h0.8M942.0 135h2.0M943.1 137h5.5M906.2 141h2.1M938.8 141h3.2M967.3 141h4.3M940.2 145h7.2M966.5 145h14.1M933.6 149h2.7M936.3 149h4.7M941.0 149h5.9M963.1 149h4.3M962.5 151h4.4M906.4 153h4.0M940.8 157h13.0M933.7 161h14.1M965.1 161h10.3M926.5 165h2.2M906.5 167h4.1M926.3 167h2.8M930.8 169h13.7M944.5 169h4.8M954.8 169h3.1M906.4 171h4.2M925.0 171h4.7M955.4 171h4.7M983.4 129h3.1M994.4 129h7.0M1005.6 133h2.9M983.0 145h4.3M987.3 145h6.6M545.1 177h10.3M539.1 179h3.5M548.4 181h8.3M533.0 193h9.1M542.1 193h5.9M528.0 201h2.3M527.8 205h4.4M557.5 193h3.6M558.6 201h4.6M549.2 219h2.5M591.9 177h7.1M574.3 179h2.8M574.3 185h4.4M576.3 205h9.9M581.6 213h11.8M581.4 217h10.5M574.6 219h3.2M615.9 181h9.9M607.8 185h8.3M605.8 189h5.8M599.1 193h2.7M596.2 199h3.1M594.7 201h2.8M597.5 201h14.2M594.0 209h4.7M588.7 213h4.2M592.9 213h9.4M586.4 217h4.0M590.4 217h5.2M616.5 219h3.2M642.7 177h3.1M643.1 181h4.8M646.4 193h4.4M643.0 195h4.8M642.9 199h4.8M642.6 201h4.0M643.0 209h4.9M643.3 213h3.0M652.5 177h3.1M652.0 181h3.3M652.3 191h4.1M652.5 203h4.5M671.2 177h4.0M669.4 181h4.4M673.9 181h5.0M669.0 183h4.5M667.4 185h4.0M668.0 193h12.8M662.0 197h2.5M658.4 205h3.9M655.9 209h3.3M659.2 209h7.2M655.0 211h3.2M695.9 201h2.2M693.1 205h3.9M691.1 211h5.5M688.5 213h13.2M684.2 215h11.1M686.0 217h15.7M706.1 179h3.0M706.2 189h3.0M725.8 185h4.4M722.2 191h2.1M719.4 195h3.7M720.4 201h12.0M724.8 205h10.6M716.0 209h13.1M710.2 211h4.1M763.7 177h3.3M760.9 181h4.7M762.0 185h6.0M754.7 189h2.6M753.0 191h4.1M753.7 193h4.9M758.6 193h15.9M774.6 193h5.0M779.6 193h1.5M749.7 197h10.7M746.0 199h2.2M756.9 201h4.6M744.2 205h7.3M776.3 205h4.4M747.7 213h14.0M771.5 213h3.9M766.4 217h2.6M780.5 177h3.7M802.9 181h12.0M779.5 185h4.5M779.5 187h4.8M801.1 189h12.8M780.0 193h4.9M779.6 197h3.3M779.6 201h4.7M797.4 201h5.7M807.4 201h4.8M797.5 217h8.2M779.7 219h4.9M821.9 177h2.3M827.7 197h0.3M812.1 201h4.8M814.8 209h9.3M812.0 217h4.9M825.9 177h3.8M826.6 181h2.9M826.4 189h4.4M829.3 193h8.6M829.0 205h10.1M831.0 217h9.3M845.9 189h13.6M841.7 191h2.2M845.7 193h10.7M842.5 197h2.6M841.9 209h2.1M842.3 215h3.7M841.6 217h4.3M857.6 217h1.2M862.0 177h4.4M857.0 185h3.7M859.3 189h6.6M857.2 191h4.3M858.0 205h2.8M862.5 209h5.5M861.7 217h5.9M891.6 177h5.9M882.0 181h4.7M882.1 193h3.2M882.8 195h2.5M882.7 197h3.3M892.8 197h2.4M884.5 217h9.3M895.9 177h2.9M898.9 177h12.8M911.6 177h8.4M927.1 181h4.9M941.4 181h7.5M948.9 181h11.8M968.5 181h2.3M970.8 181h5.0M896.1 183h4.8M964.6 185h2.6M923.6 189h3.3M906.1 193h15.0M923.4 195h4.1M967.0 195h3.0M908.6 197h8.0M964.4 197h8.0M898.7 201h9.7M922.4 201h14.5M895.8 209h2.8M917.9 209h11.9M957.0 209h2.1M959.1 209h5.0M964.1 209h4.2M923.9 213h6.7M930.6 213h5.3M954.0 213h3.1M896.3 217h4.8M911.3 217h2.4M924.5 217h8.7M980.8 177h11.8M984.0 181h6.1M975.9 189h3.0M1000.0 185h8.8M994.1 187h2.0M993.2 193h3.4M528.8 257h2.3M555.6 249h4.4M560.0 249h13.3M577.8 255h0.3M555.1 257h12.2M573.2 257h3.5M550.7 259h2.5M572.2 261h2.2M572.9 265h3.0M597.9 225h7.9M592.1 227h3.2M582.8 245h2.9M584.9 249h10.8M577.1 259h3.4M575.5 261h3.9M624.7 245h3.2M620.8 249h6.7M614.3 251h3.7M608.7 261h13.9M622.5 261h5.5M602.8 263h4.1M613.8 263h8.7M615.3 265h7.8M641.8 225h2.4M642.6 229h3.7M642.6 249h3.5M646.0 249h5.0M642.5 257h3.3M645.8 257h4.1M641.4 265h2.8M661.4 233h4.5M662.3 241h9.0M657.7 243h2.7M657.2 261h5.8M680.0 235h2.5M676.3 249h2.8M679.8 251h5.2M685.8 265h3.8M699.1 265h6.2M725.4 245h10.2M717.6 253h4.9M722.5 253h9.7M712.5 259h4.0M711.4 261h3.4M718.8 261h10.7M739.2 249h2.2M736.3 253h5.0M734.5 255h2.4M731.9 257h4.4M731.1 259h2.3M725.9 265h4.6M770.1 249h3.9M768.5 257h12.6M762.0 261h3.6M762.9 265h10.4M784.9 249h13.9M780.2 253h3.3M809.5 261h2.2M779.9 263h3.6M779.7 265h2.6M812.5 227h3.1M811.7 229h4.9M812.1 233h3.4M821.4 241h5.3M811.8 245h3.6M812.2 249h3.4M811.5 257h2.6M814.1 257h10.0M812.3 261h3.8M828.8 229h10.9M825.7 239h2.2M839.2 253h4.3M830.5 265h12.6M846.5 229h12.3M841.5 233h2.2M845.3 245h13.4M842.4 253h3.1M841.7 259h3.8M842.3 263h2.6M858.1 227h2.5M857.5 253h4.3M857.8 255h4.4M857.1 257h3.9M862.2 265h4.3M883.2 225h2.0M885.3 225h7.8M893.1 225h2.8M883.3 229h4.4M883.0 231h4.7M883.4 243h2.3M883.0 255h2.0M883.4 257h4.0M887.4 257h10.5M883.2 265h3.2M886.5 265h5.0M895.8 223h3.3M896.1 237h2.2M895.8 241h2.6M898.4 241h7.6M898.3 257h5.2M896.0 261h2.7M907.4 237h3.2M910.3 245h6.4M906.9 249h4.3M910.8 253h13.9M907.0 257h3.5M936.7 235h4.3M936.0 237h4.5M940.5 237h10.7M934.9 239h2.2M949.6 241h3.5M936.4 245h14.8M931.2 247h4.8M930.2 249h2.9M928.8 251h4.6M926.1 257h2.9M924.3 265h5.5M929.8 265h5.6M935.3 265h13.4M971.8 227h2.3M970.2 235h2.1M971.6 241h15.2M967.8 245h4.2M970.1 249h14.3M966.3 251h4.3M1009.5 245h2.5M1007.4 249h6.7M567.0 275h2.1M578.0 281h15.4M594.5 281h4.3M607.5 281h3.0M557.5 285h4.9M574.8 289h5.1M595.6 289h8.4M551.1 293h2.5M599.4 293h5.4M650.2 299h1.0M573.2 301h8.0M648.7 303h3.9M599.3 305h13.1M617.1 305h13.6M528.8 309h4.4M560.3 309h4.6M636.1 309h4.7M640.8 309h3.4M612.2 311h4.3M644.8 311h3.3M559.8 313h4.0M563.8 313h6.6M580.8 313h2.5M608.5 313h4.9M639.8 313h2.9M642.7 313h8.6M615.4 277h2.3M643.3 281h7.9M635.0 287h4.2M643.8 287h7.9M645.6 277h5.6M643.1 281h2.3M642.9 287h2.3M661.8 301h3.0M659.2 311h3.2M681.1 273h5.5M675.1 289h3.3M678.4 289h6.4M674.1 291h5.0M699.8 297h6.0M705.8 297h6.8M723.4 297h3.5M702.0 301h7.5M719.2 301h4.5M739.0 301h4.1M752.6 301h4.1M756.7 301h10.3M673.3 305h3.3M733.5 305h8.3M720.5 309h15.1M727.0 281h11.7M716.3 293h4.8M721.2 293h5.8M727.0 293h12.1M773.0 279h2.8M796.6 281h4.0M804.7 281h11.1M794.1 285h3.6M797.7 285h14.0M795.3 291h4.1M780.4 301h4.7M786.5 301h2.3M809.9 303h0.6M785.0 305h2.2M811.5 271h3.1M812.1 275h3.9M816.1 277h6.8M811.7 281h2.6M816.7 293h4.4M812.4 301h2.1M814.9 305h11.2M825.8 281h5.0M838.8 281h5.3M825.4 283h3.4M826.3 291h3.2M833.1 301h6.8M826.0 305h4.0M825.4 309h2.7M825.6 313h4.1M842.5 281h3.0M845.0 297h13.0M846.6 301h8.9M845.2 305h10.7M842.0 311h4.3M841.5 313h4.8M857.7 273h2.1M857.3 277h3.7M865.4 293h2.7M857.1 297h3.8M861.5 305h6.9M859.5 309h8.3M860.5 313h8.2M883.3 285h11.3M883.8 289h6.8M884.6 293h4.1M888.7 293h5.5M880.9 299h4.0M870.7 301h12.2M871.9 305h5.4M895.9 277h3.0M898.9 277h6.7M895.6 285h2.0M895.9 287h3.7M895.7 301h2.6M898.3 301h7.6M895.5 313h3.2M898.7 313h7.1M905.5 271h4.7M906.4 277h3.8M905.9 281h4.4M906.1 285h2.2M906.3 289h3.1M909.4 289h12.2M916.3 293h11.0M906.4 305h3.5M918.8 309h6.0M908.9 313h6.8M941.2 287h6.7M939.4 289h2.3M941.7 289h4.8M936.1 295h3.7M938.0 297h12.8M932.8 301h2.3M944.8 301h8.8M953.2 305h3.5M928.8 309h2.7M931.5 309h13.8M927.1 313h3.2M930.4 313h10.8M941.1 313h10.6M981.7 285h10.1M983.8 293h8.9M985.9 297h2.9M1007.6 279h4.8M998.5 289h4.4M997.0 291h2.4M993.9 297h7.1M554.4 345h4.6M574.9 327h4.8M574.9 339h3.8M593.2 345h6.7M554.9 347h4.2M532.0 349h6.1M552.7 349h4.2M556.9 349h14.9M603.5 349h3.3M611.7 349h5.9M636.3 349h4.4M527.9 351h3.1M554.4 351h2.6M635.5 351h2.0M528.4 353h4.8M533.2 353h10.8M549.7 353h3.8M580.1 353h9.4M603.9 355h3.8M532.9 357h7.6M590.8 357h4.0M602.1 357h11.3M634.5 357h5.3M528.8 359h2.1M603.3 337h4.0M613.2 337h4.3M591.6 345h4.0M632.6 341h3.1M629.0 345h4.6M643.8 331h2.8M643.5 341h2.0M646.7 345h6.2M675.9 325h8.4M672.4 329h6.8M670.3 333h11.9M666.1 341h3.8M664.4 347h3.3M663.6 353h15.8M686.4 353h5.2M659.7 355h2.8M658.4 357h2.2M697.8 319h3.8M699.6 321h7.1M694.9 325h2.7M694.1 327h3.9M693.1 329h4.3M690.9 333h3.8M694.7 333h6.6M689.5 341h15.2M686.5 349h7.1M766.9 345h2.8M739.3 353h9.2M748.5 353h9.0M773.3 341h2.5M764.0 349h2.8M755.6 357h2.5M772.8 357h7.0M779.9 341h2.9M788.7 341h11.4M810.5 341h3.4M780.4 345h3.7M780.0 353h4.5M795.3 353h14.1M780.5 357h3.0M790.7 357h9.5M813.8 321h7.4M810.1 325h3.7M809.6 329h4.1M809.9 345h3.7M813.6 345h5.7M810.4 351h2.7M824.8 321h4.3M829.1 321h9.3M825.4 325h4.3M824.8 329h3.9M828.7 329h9.1M833.5 337h5.8M824.7 341h4.9M829.6 341h8.7M824.5 347h4.1M825.4 351h3.7M840.9 327h2.9M841.3 329h4.3M845.6 329h7.8M840.6 331h4.9M841.5 333h4.3M845.8 333h5.1M840.4 347h4.0M840.8 353h4.2M840.5 359h4.7M857.4 323h2.3M861.4 345h6.9M814.0 353h8.8M837.8 355h3.0M872.3 353h8.7M884.7 317h9.9M881.4 321h3.3M880.6 325h4.0M883.3 333h13.3M884.6 357h11.6M895.9 317h4.9M896.1 333h3.5M933.1 323h2.4M930.0 329h4.2M928.7 331h4.8M922.6 343h2.6M919.4 349h2.9M914.8 357h3.2M956.8 331h4.7M956.5 345h12.7M969.2 345h4.3M962.9 349h6.4M943.0 351h4.6M941.4 353h2.5M939.2 357h2.9M955.8 357h6.1M1002.1 329h5.5M992.1 333h4.3M991.0 337h2.2M993.3 337h12.7M989.9 339h2.9"/><path stroke="#a6a6a6" d="M27.9 35h7.5M35.3 35h9.5M23.0 39h12.8M18.2 47h7.8M27.2 55h9.9M15.7 59h9.6M19.8 61h4.2M13.0 67h12.5M45.1 51h8.5M44.2 55h11.4M67.9 55h9.4M77.8 71h9.3M97.4 43h12.5M94.3 47h7.1M123.4 49h2.4M92.5 51h4.4M109.7 51h14.6M125.8 55h9.2M122.4 63h8.8M84.5 71h11.3M91.3 75h8.1M122.2 75h7.8M118.7 39h14.3M139.3 35h4.1M149.5 41h4.9M145.4 67h8.1M136.4 73h10.8M153.1 73h8.3M302.7 59h2.9M317.1 59h5.3M320.9 65h0.8M285.6 71h6.0M285.0 75h6.9M329.3 47h3.1M316.1 73h13.8M345.8 35h5.0M350.8 35h5.6M344.3 55h5.7M357.1 55h2.2M340.1 71h4.2M396.1 63h5.4M368.0 69h5.5M374.3 71h9.7M369.9 75h12.8M391.9 75h5.5M420.7 57h4.4M425.6 65h0.3M412.3 67h4.8M443.9 39h5.8M448.8 43h8.6M451.9 45h5.3M436.2 47h4.1M452.3 55h4.3M432.7 59h12.9M445.6 59h10.7M441.9 63h4.1M431.3 75h11.5M482.4 37h5.4M481.5 41h5.3M462.2 71h4.6M28.8 91h12.9M27.3 95h13.4M37.9 99h11.1M10.2 111h7.4M20.3 113h4.2M24.5 113h2.1M12.9 115h5.8M13.3 117h11.2M9.9 123h10.1M84.7 93h3.0M69.5 95h11.0M116.4 101h7.6M80.6 103h10.6M123.8 103h2.3M50.5 107h9.7M71.8 107h13.1M109.0 107h13.5M126.9 107h9.2M54.5 109h10.5M101.6 109h2.0M107.6 111h10.5M47.1 115h11.5M77.4 115h10.9M112.5 115h8.0M132.8 117h5.6M108.3 119h11.8M107.3 123h6.0M123.3 91h5.4M143.1 83h7.9M138.3 91h7.5M140.8 107h8.8M149.6 107h0.5M151.0 111h0.8M133.9 123h15.8M149.7 123h2.0M154.6 111h5.7M150.2 123h5.5M155.7 123h8.1M299.1 91h7.6M304.5 97h7.3M292.4 99h11.6M291.1 103h8.9M290.4 119h11.4M283.2 123h6.9M318.5 99h6.5M325.0 99h10.3M315.9 107h9.2M319.5 113h13.7M349.1 83h9.6M345.1 95h4.7M349.8 95h4.3M340.0 115h15.2M349.0 119h10.1M379.6 83h8.4M379.8 87h14.5M374.3 91h10.9M385.2 91h4.3M371.7 103h13.0M367.4 111h10.5M361.9 119h5.4M388.1 121h1.7M370.5 123h10.5M416.6 103h7.3M392.5 107h15.4M395.9 111h15.9M416.4 111h10.7M401.4 115h8.0M409.4 115h6.3M415.8 115h6.7M443.6 85h0.8M427.1 99h5.2M425.1 103h6.3M463.4 97h3.8M445.5 107h4.6M463.1 109h2.5M447.2 111h8.7M450.5 123h10.2M25.6 131h13.0M28.7 133h14.2M66.9 135h2.4M33.1 139h12.4M45.6 139h3.2M14.3 143h6.7M11.0 147h12.2M34.1 169h0.3M53.7 147h6.1M50.6 163h11.0M87.4 131h12.5M99.8 131h1.2M134.3 131h0.4M87.4 139h9.1M96.5 139h1.7M83.1 143h9.9M88.5 147h7.7M105.0 147h8.6M123.1 147h6.8M82.5 151h11.7M123.1 151h13.1M88.0 153h5.2M109.6 157h7.3M122.8 157h5.7M70.7 163h9.3M121.7 163h4.7M74.3 167h13.7M120.7 167h8.5M67.9 171h8.4M76.3 171h10.6M142.6 129h6.9M139.3 131h13.6M146.5 135h5.0M150.0 137h1.1M151.9 159h2.7M353.2 135h7.6M360.8 135h9.4M339.1 139h8.8M347.9 139h10.1M419.0 139h1.8M351.0 145h6.4M282.4 147h15.2M411.6 149h8.0M423.6 149h0.6M411.5 151h6.9M303.3 155h12.8M323.2 155h11.8M377.8 155h7.3M385.1 155h4.0M348.2 157h10.5M344.3 159h13.4M371.2 159h4.9M414.4 159h6.7M421.1 159h6.6M345.1 161h11.3M323.2 163h10.0M348.3 165h5.9M284.2 167h7.1M325.3 167h5.5M362.0 167h15.8M292.7 171h13.3M399.1 171h7.6M414.2 171h8.6M449.0 133h1.2M446.7 149h9.8M449.8 151h6.6M444.8 167h13.0M459.3 167h3.5M452.4 169h5.1M455.8 155h12.1M41.8 199h10.7M39.0 203h5.2M40.4 207h12.7M34.5 211h5.7M33.0 215h11.1M80.6 183h14.0M82.6 187h8.6M98.7 195h1.8M68.6 199h4.3M146.0 185h2.4M121.2 191h7.8M116.3 197h12.7M135.2 207h12.5M141.3 217h3.9M177.1 209h3.6M156.7 219h6.1M198.0 207h4.2M202.1 207h9.3M191.9 211h4.4M285.9 197h7.9M291.0 213h9.4M284.9 217h11.4M296.3 217h3.0M319.9 183h15.0M334.9 183h3.0M333.8 185h5.1M328.1 187h5.7M313.6 199h6.1M306.4 207h7.9M344.6 183h10.9M347.6 191h11.0M348.4 193h5.3M332.8 199h12.4M372.7 185h9.3M384.9 187h3.2M360.3 203h15.1M355.3 207h14.4M407.5 191h12.9M396.6 199h5.6M389.9 211h14.7M404.3 215h7.6M444.3 187h10.6M442.8 191h4.7M459.7 197h3.0M480.5 199h12.1M15.5 251h11.1M30.7 251h2.1M38.8 251h12.2M23.0 255h7.3M28.6 257h0.5M14.1 259h14.4M54.8 261h1.3M73.6 227h6.4M100.3 231h1.0M108.4 231h6.0M96.2 233h4.7M68.4 235h8.7M109.8 235h14.1M132.1 235h5.9M69.9 243h11.7M69.3 245h8.8M99.5 247h5.2M128.4 247h7.7M79.1 251h11.4M123.9 251h5.9M66.5 259h9.7M117.1 259h6.7M73.2 263h6.1M90.6 263h15.2M151.0 243h12.7M157.0 247h11.5M168.8 249h4.7M150.7 251h11.6M148.9 259h11.3M160.1 259h10.0M157.9 265h7.7M166.4 223h7.9M171.6 231h15.9M159.7 239h15.8M184.7 251h8.0M174.9 263h9.8M184.6 263h8.3M216.7 225h4.7M211.8 231h11.9M225.3 239h2.2M211.9 243h9.0M228.3 243h3.2M226.7 249h1.5M198.4 255h8.4M206.8 255h5.6M212.5 255h12.4M210.3 257h9.7M196.1 263h13.1M239.7 243h13.2M227.8 259h12.1M224.6 263h8.0M232.6 263h6.4M264.3 239h1.5M259.5 241h6.3M263.5 263h3.8M308.1 227h4.3M302.1 231h11.4M306.6 239h11.7M291.9 243h9.0M313.3 243h3.8M285.0 257h7.0M293.1 259h12.7M289.4 263h11.7M347.3 223h12.7M345.4 231h11.3M356.7 231h5.5M346.8 239h6.6M356.1 259h1.3M333.3 263h11.1M344.4 263h12.9M377.5 239h3.6M376.7 245h6.8M366.8 251h12.8M426.6 231h2.5M399.4 235h9.6M419.7 237h6.3M409.5 239h6.5M401.2 243h4.0M408.0 243h13.2M396.9 247h5.9M388.3 249h12.6M388.9 251h12.8M390.2 255h6.4M462.0 235h8.1M471.6 249h0.7M478.1 227h11.6M11.1 303h6.7M40.2 307h14.0M43.8 311h14.8M62.2 291h1.2M61.6 299h0.8M76.9 287h6.4M89.5 287h8.8M96.9 295h5.7M68.5 307h8.5M63.6 311h15.5M100.0 283h8.8M92.7 299h8.1M121.7 305h2.4M130.5 275h11.7M126.4 287h10.4M130.5 291h5.2M141.1 295h2.3M129.0 299h6.9M132.0 307h5.9M151.8 291h15.4M155.2 301h14.5M176.2 307h12.9M184.3 311h3.2M245.4 295h8.2M217.4 299h12.1M228.8 303h4.8M217.0 307h13.3M279.6 299h0.8M260.3 307h9.2M312.3 269h10.3M296.1 271h13.0M315.6 271h7.5M332.0 295h13.6M330.9 303h8.4M350.2 271h7.7M346.6 279h6.4M353.1 279h5.6M344.4 299h11.7M338.4 303h7.9M347.5 307h4.6M363.1 271h9.3M366.5 275h14.4M374.1 287h4.9M379.9 303h4.0M371.4 311h6.7M399.8 283h7.0M430.6 283h3.0M420.3 287h3.1M397.0 299h8.5M426.4 299h9.7M393.9 303h8.8M410.1 303h9.5M423.5 303h13.4M401.3 311h14.3M419.3 311h6.1M438.2 313h10.1M485.7 289h5.5M485.7 301h1.9M439.7 303h4.4M444.1 303h5.3M448.2 309h8.0M15.5 331h12.7M19.6 341h3.3M39.1 343h7.9M46.8 351h11.5M40.0 359h13.4M45.7 327h5.8M64.3 327h3.5M61.1 333h4.6M60.1 335h4.2M40.1 359h7.5M47.6 359h6.9M54.5 359h5.1M79.0 319h8.7M81.1 323h5.3M94.6 325h1.1M78.5 343h11.1M70.2 351h13.4M113.0 321h9.5M122.5 321h3.2M119.3 331h4.1M106.6 337h5.3M95.6 339h15.9M94.0 343h15.9M92.3 347h14.1M109.9 349h2.5M121.0 343h6.6M140.5 351h5.5M184.5 335h4.2M170.5 343h4.9M168.2 347h4.6M199.0 347h6.2M189.2 351h4.1M178.6 353h12.2M210.0 319h15.1M225.1 319h11.6M218.6 323h7.9M211.0 331h9.5M207.4 333h8.5M198.0 335h11.9M208.8 339h5.6M213.4 349h6.4M209.1 355h9.1M181.9 359h11.7M199.6 361h1.4M266.1 343h11.2M272.7 345h0.6M248.5 351h15.4M264.0 351h2.8M259.9 359h1.0M298.2 319h5.1M278.5 327h9.7M274.9 331h5.0M279.9 331h8.8M299.9 331h3.0M268.7 335h12.0M270.0 339h11.5M296.5 343h2.3M261.4 351h14.2M286.9 353h5.2M284.1 359h5.0M312.0 327h5.4M325.5 339h2.1M301.0 347h15.5M299.2 351h11.0M300.6 355h8.7M319.3 357h3.0M326.6 343h9.5M324.8 347h7.8M326.9 351h8.6M335.5 351h6.4M349.1 353h6.3M343.4 357h15.2M380.6 321h4.9M374.7 333h8.6M364.5 339h10.3M356.3 347h5.0M382.1 357h4.3M386.3 319h11.2M388.4 321h6.8M392.1 335h8.8M410.2 337h4.7M386.5 339h10.1M407.9 339h6.5M384.3 347h9.1M401.9 355h11.7M383.8 359h5.9M426.5 323h10.4M426.6 331h11.1M447.9 331h2.0M421.4 335h13.1M431.4 343h7.3M438.7 343h7.1M445.8 343h2.8M413.9 351h5.1M426.3 351h5.7M444.5 353h2.8M411.9 355h11.0M414.9 359h14.9M491.2 317h1.5M482.6 323h6.8M478.6 343h0.7M468.8 347h2.7M558.9 39h2.1M538.4 43h7.5M540.2 45h6.1M534.8 55h4.7M532.7 57h8.6M528.2 71h12.9M560.0 67h1.9M590.0 41h0.7M587.1 51h14.7M577.8 55h6.2M594.6 57h10.5M602.7 73h8.0M580.9 75h11.8M614.2 75h4.1M615.7 43h10.3M603.4 47h12.6M626.4 53h3.4M613.6 55h9.8M610.5 67h4.1M618.7 69h5.1M624.5 75h5.2M644.1 43h8.2M637.9 51h12.8M651.7 35h11.1M651.6 55h10.8M662.5 49h11.5M681.1 35h4.0M675.1 59h7.7M684.5 41h6.8M702.8 71h3.8M688.2 73h11.1M702.5 75h6.3M688.2 77h9.6M811.8 43h5.5M803.7 67h10.1M802.1 71h10.9M824.6 35h11.0M823.0 39h13.1M822.9 43h7.0M819.7 51h8.4M828.0 51h7.1M822.4 55h5.1M829.7 59h6.1M835.0 65h1.2M819.6 71h10.6M847.2 43h5.4M848.9 45h5.5M842.2 49h6.0M837.7 59h13.4M840.6 71h11.1M856.9 43h6.4M863.3 43h12.0M857.5 47h14.3M860.2 67h5.4M861.4 75h0.6M867.8 75h8.2M874.4 77h6.3M873.9 61h5.9M871.8 67h15.9M885.7 35h4.2M880.8 43h4.1M898.7 37h11.0M896.6 43h10.5M895.5 47h7.2M899.0 51h8.9M910.9 55h2.6M910.5 35h11.7M899.2 59h8.8M908.0 59h15.0M929.6 59h10.8M940.4 59h9.7M962.0 63h7.1M899.0 67h6.8M898.4 75h10.5M935.5 35h4.5M940.0 35h13.6M944.3 39h10.8M936.2 45h4.5M934.6 49h4.3M935.8 51h4.4M940.3 51h6.7M942.6 55h6.4M979.0 47h10.1M984.1 49h3.2M975.1 59h5.7M972.0 75h2.4M993.3 39h3.4M554.7 83h5.5M543.6 87h14.9M542.5 99h5.0M548.1 101h7.2M533.6 103h10.2M535.8 107h6.9M539.6 113h7.2M531.0 115h8.8M528.5 123h8.2M560.7 125h1.7M587.6 83h7.4M594.9 83h6.3M584.5 87h15.6M573.6 115h14.5M588.1 115h5.9M600.6 123h5.1M605.7 123h7.6M598.9 125h6.3M626.9 119h1.2M627.4 87h8.4M627.5 91h10.1M633.1 103h2.8M629.4 119h7.4M648.6 109h2.9M679.2 89h1.5M674.6 91h5.8M677.8 97h1.7M662.7 115h8.7M654.2 123h7.8M813.7 89h3.7M815.6 91h1.2M806.5 99h7.8M812.5 103h3.3M805.3 107h5.5M802.8 119h10.7M828.3 87h5.5M842.1 87h10.9M851.1 91h1.8M841.7 95h5.7M842.3 123h8.5M856.9 95h7.8M857.9 107h8.8M865.8 111h0.8M858.1 115h5.3M857.6 119h7.0M861.7 123h5.2M877.3 97h10.1M866.1 103h4.9M879.9 103h5.9M869.6 107h12.4M865.6 111h8.1M873.7 111h8.1M876.8 123h8.0M899.0 83h5.5M899.1 87h4.6M901.1 113h4.7M900.7 117h5.3M908.5 83h7.8M910.1 87h11.3M919.2 93h4.6M906.2 95h6.4M914.8 111h8.9M935.3 87h5.2M940.5 87h4.9M936.4 99h11.8M928.7 107h6.5M937.2 113h5.9M923.6 115h4.4M923.2 119h9.0M952.8 99h4.6M956.2 103h15.3M938.3 123h14.9M997.4 107h9.9M545.4 139h8.5M554.2 143h5.8M559.2 149h2.6M534.3 159h12.5M527.8 163h5.0M552.3 169h9.6M546.9 171h7.2M576.3 131h10.6M596.1 141h1.3M577.0 151h12.8M631.5 129h11.4M641.7 135h2.3M637.0 141h5.1M652.4 145h1.9M642.4 153h7.3M615.3 165h8.3M623.7 165h8.7M596.7 167h5.7M624.6 167h6.3M679.5 131h5.3M678.7 135h4.4M656.8 155h11.0M664.7 163h4.4M669.1 163h7.5M673.4 167h3.3M690.7 163h7.5M700.5 167h3.4M811.6 139h9.7M804.5 155h5.1M812.3 159h8.0M820.5 135h4.2M825.5 135h4.7M829.6 147h6.2M825.4 163h6.8M845.1 143h6.3M842.0 167h7.7M857.1 155h12.7M860.1 167h9.4M880.1 131h8.6M882.9 171h9.3M898.7 147h6.6M892.9 159h9.6M896.3 131h4.6M910.7 131h15.8M926.5 131h4.8M944.0 135h8.6M964.9 135h3.5M972.5 139h10.8M947.4 145h8.8M913.2 147h10.3M974.7 149h7.2M906.2 151h8.1M963.7 153h8.1M905.8 155h7.1M956.7 155h2.4M965.3 155h7.6M977.7 159h1.3M934.8 163h15.5M921.9 165h4.6M962.0 167h9.7M908.9 169h10.2M910.6 171h10.9M929.8 171h7.2M937.0 171h9.0M1001.8 139h0.6M551.5 183h7.2M540.9 187h13.6M537.7 203h7.4M555.4 199h7.9M591.4 181h8.1M573.4 199h9.9M583.4 199h12.2M612.3 183h9.1M622.5 191h3.5M599.3 199h7.4M603.1 203h14.7M617.7 203h2.7M602.6 207h12.4M599.5 211h9.6M620.8 211h4.5M588.2 215h7.3M645.1 203h7.6M651.5 179h7.7M655.4 193h8.9M660.1 195h4.0M652.4 207h8.1M682.2 179h10.3M684.3 195h6.8M677.8 201h6.3M657.1 207h14.4M696.6 211h5.3M701.9 211h4.0M726.2 199h10.1M766.2 191h4.3M779.9 201h0.6M743.3 203h14.7M752.4 207h14.8M760.4 209h10.2M749.1 219h4.2M753.3 219h11.6M780.3 179h10.3M802.6 183h8.1M784.0 185h4.3M784.3 187h11.4M794.3 199h13.7M800.4 203h4.3M782.8 207h4.6M791.6 207h11.4M807.4 209h4.7M780.5 211h4.6M796.1 211h7.3M811.5 187h13.6M825.0 205h2.3M819.5 211h6.5M812.4 219h9.0M826.2 183h4.5M833.9 187h7.3M829.9 199h4.3M828.9 201h14.3M839.0 205h3.5M830.7 211h5.7M831.9 215h11.5M845.1 179h12.0M842.6 211h12.1M846.5 219h11.1M860.7 185h6.9M857.5 195h7.3M864.8 195h1.9M860.3 219h4.9M885.0 179h6.8M882.6 183h12.1M882.8 203h7.0M882.7 211h7.0M885.2 215h6.1M907.4 179h13.8M939.0 179h12.2M896.0 187h6.2M937.9 187h13.7M927.4 191h13.3M965.7 191h8.3M970.0 195h5.0M900.5 199h8.4M970.3 199h5.9M921.6 203h5.1M926.7 203h6.7M895.7 207h5.5M919.4 207h13.3M901.6 211h11.5M939.6 211h13.5M899.9 219h10.2M954.4 219h7.5M538.2 263h11.3M564.4 251h6.4M575.5 251h0.5M547.7 263h15.2M604.3 231h9.2M604.4 237h5.2M604.9 241h5.3M583.6 247h13.8M596.1 255h5.5M580.5 259h13.1M586.0 261h9.5M611.0 259h10.7M606.9 263h6.9M642.3 231h9.9M667.1 227h11.8M679.0 227h8.7M682.5 233h0.8M675.1 235h7.4M671.4 241h6.0M656.8 255h14.2M658.4 257h10.3M665.3 263h6.4M674.2 259h10.9M689.6 261h1.5M703.9 259h2.4M713.3 263h14.7M756.0 247h7.2M736.9 255h6.9M744.8 265h4.0M769.2 251h4.4M763.0 263h8.8M798.8 249h13.5M780.0 251h15.1M779.9 255h4.8M779.5 259h4.8M813.7 259h1.3M782.3 265h11.7M813.9 223h9.6M811.4 255h11.3M812.6 259h9.1M826.0 235h10.5M841.7 245h1.7M826.4 259h13.6M830.1 263h12.2M841.6 235h4.2M885.7 243h8.7M894.0 261h2.6M895.5 231h9.4M898.8 243h7.5M896.3 251h9.3M900.8 255h3.6M907.5 243h9.6M906.7 255h7.0M950.4 233h5.6M941.0 235h15.8M927.1 255h13.6M975.0 237h12.3M987.4 237h5.4M978.6 251h10.6M1010.5 243h3.4M569.1 275h9.4M602.6 275h13.4M593.1 283h12.5M560.7 287h10.1M553.3 291h6.9M580.7 293h3.8M561.2 299h3.3M571.5 299h12.9M538.3 303h13.9M598.2 307h13.7M541.5 311h14.4M609.3 311h0.6M615.3 281h11.4M612.6 283h13.1M609.7 287h13.3M611.7 293h11.0M643.1 279h4.3M647.4 279h4.5M643.0 295h9.2M662.4 311h3.2M748.7 297h4.9M756.5 297h11.8M768.4 297h7.3M684.8 299h8.5M680.9 303h10.5M701.4 303h10.7M676.2 307h11.2M687.5 307h2.0M723.2 285h14.3M723.3 287h7.6M731.0 287h13.5M724.6 291h7.4M806.5 275h7.5M790.0 277h5.8M809.1 277h4.1M793.9 279h1.9M790.8 281h4.1M788.0 287h5.1M795.9 295h12.0M780.3 303h5.7M791.5 311h9.2M820.9 281h3.7M811.4 283h13.4M828.5 287h11.1M828.8 295h8.9M837.7 295h4.1M825.8 311h8.5M834.3 311h7.0M852.2 271h7.3M846.3 275h12.5M851.7 311h4.2M860.6 299h6.5M881.2 271h10.7M881.2 295h9.2M881.5 307h14.0M870.5 311h11.6M893.4 313h2.5M896.0 271h9.8M895.7 279h6.9M899.6 287h5.7M900.7 303h5.3M925.9 281h1.5M921.6 287h7.8M924.1 301h6.0M909.9 305h12.5M922.4 305h5.3M909.6 307h11.2M906.0 311h7.8M948.4 279h7.4M947.9 287h8.3M946.5 307h9.2M979.7 271h9.0M995.0 271h3.1M987.0 275h4.8M991.8 275h5.4M985.2 289h7.9M973.4 291h7.0M972.8 293h11.0M999.4 291h10.7M1012.1 297h2.6M591.6 333h7.3M577.4 341h6.4M585.2 347h14.8M637.4 347h8.6M543.8 351h6.3M632.7 351h0.8M637.6 351h10.9M535.8 355h7.9M569.3 357h3.0M530.9 359h6.0M547.3 359h16.0M563.3 359h8.8M617.5 331h5.0M605.4 343h10.2M649.5 323h1.7M645.6 325h5.4M646.2 327h6.7M646.6 331h4.8M651.6 343h1.3M673.6 343h4.5M662.2 351h8.8M690.5 357h2.1M695.8 323h10.5M691.9 331h11.0M692.6 339h13.8M699.7 347h6.8M697.0 359h8.3M733.6 347h7.5M739.0 349h5.1M725.4 357h12.9M707.5 359h8.0M715.5 359h5.0M758.6 349h3.1M742.1 359h10.3M770.9 347h9.6M777.9 349h2.3M795.1 359h11.4M812.1 319h7.0M809.7 327h10.7M813.6 335h5.6M813.6 339h6.1M837.8 329h0.4M829.6 331h5.3M835.0 331h1.2M829.1 335h4.4M829.1 351h6.5M826.7 355h7.5M842.9 339h9.5M866.7 329h0.7M859.4 335h8.1M809.7 359h4.3M876.7 355h2.6M887.3 319h4.5M891.8 319h5.2M881.2 323h4.8M884.2 331h6.7M888.9 347h7.6M881.4 351h10.8M881.1 355h12.6M893.3 359h4.3M942.5 323h11.2M935.0 327h7.0M942.0 327h11.3M947.6 329h5.4M925.3 343h11.8M920.4 347h4.5M924.9 347h15.4M925.6 359h9.1M977.2 331h4.8M963.8 335h6.0M956.8 343h15.1M947.6 351h12.4M951.9 355h10.8M940.4 359h8.8M998.2 327h10.9M1003.1 331h5.9M1003.7 335h5.5M992.8 339h13.7M1004.6 345h3.7"/><path stroke="#dadada" d="M43.3 37h3.8M36.5 43h5.6M42.0 43h2.1M40.5 47h2.1M26.1 63h5.8M26.0 71h0.7M26.2 73h4.6M21.7 75h4.5M64.8 45h11.5M58.3 63h1.4M52.0 71h7.7M77.9 35h7.7M82.8 45h12.0M81.6 57h12.5M85.9 63h1.1M151.9 37h15.4M158.4 63h0.8M153.5 67h4.6M159.0 69h5.3M326.4 61h10.7M298.6 67h5.1M333.1 39h1.4M355.8 75h3.8M393.7 51h1.9M403.2 51h3.7M400.7 59h4.9M404.0 65h12.4M379.0 67h7.5M396.1 67h7.7M402.3 69h4.9M399.1 77h13.0M422.2 47h5.0M427.5 49h7.2M415.5 55h8.9M424.5 75h0.5M454.7 39h15.1M492.0 33h7.1M476.6 47h4.1M479.1 49h3.5M465.9 57h5.3M27.7 119h5.1M80.5 95h7.7M92.5 107h5.9M129.4 111h3.5M88.3 115h5.5M120.5 115h2.9M145.7 91h5.2M160.3 111h4.0M164.1 115h7.3M311.7 99h4.1M331.3 115h3.2M359.6 91h15.8M357.1 103h1.6M401.7 99h5.9M398.0 109h12.8M382.7 115h7.6M415.1 99h8.6M429.0 103h3.5M411.9 119h5.2M465.5 99h1.8M462.0 119h4.4M75.7 129h4.0M43.2 131h8.1M39.1 163h10.4M24.9 163h2.6M28.7 171h5.5M66.5 153h11.9M61.6 165h7.1M54.4 167h10.1M63.2 169h10.7M128.2 165h13.5M122.9 171h4.0M149.7 141h11.2M149.3 147h1.2M153.9 157h8.6M150.3 163h6.9M414.1 131h0.5M370.2 135h4.3M375.2 139h10.6M386.7 151h4.4M383.5 159h3.8M382.0 163h3.2M434.6 167h5.9M288.9 171h0.3M306.0 171h7.9M448.2 139h7.6M447.0 139h1.2M457.5 149h4.3M440.2 155h7.2M455.5 155h3.7M461.7 157h12.7M450.3 159h1.2M452.9 163h1.1M476.0 139h8.1M466.9 169h4.0M53.3 193h14.0M52.6 213h12.6M44.7 219h7.7M52.3 219h1.1M94.6 183h2.4M100.8 189h9.6M82.1 217h7.2M134.4 187h7.5M147.7 187h2.2M147.2 191h7.5M151.4 199h5.2M149.4 201h10.1M125.1 207h6.0M153.8 215h9.3M150.7 219h7.5M199.3 191h15.3M189.2 199h9.3M180.6 203h6.0M186.6 205h4.1M179.5 215h12.1M271.3 203h2.3M270.2 207h3.0M255.1 211h8.9M313.0 181h4.2M311.8 185h13.9M308.3 199h15.4M307.1 199h1.2M298.8 211h6.5M289.3 215h13.3M338.4 189h5.0M335.4 197h11.8M332.4 199h13.8M330.8 203h11.9M361.3 185h10.0M353.0 203h0.4M357.0 207h10.7M395.0 189h10.0M381.8 203h0.8M422.0 183h0.7M414.5 195h3.5M411.7 207h2.2M467.8 187h1.5M456.9 199h3.9M450.9 203h7.2M496.9 191h1.2M492.3 195h5.4M497.9 203h2.6M55.9 263h11.0M92.0 235h8.3M90.5 251h1.8M139.6 251h5.9M111.1 259h2.4M169.3 251h5.8M171.9 263h7.1M167.7 263h4.3M189.3 233h4.8M186.7 235h2.3M191.5 247h0.8M193.0 259h11.5M221.4 247h4.8M250.8 251h14.7M249.0 253h7.4M247.2 255h4.2M248.3 263h13.7M265.6 245h15.1M284.5 237h9.5M269.7 263h0.7M313.5 231h7.5M321.0 231h0.4M323.1 263h13.6M358.5 245h3.1M359.8 251h0.4M358.2 261h13.5M384.1 241h15.8M421.2 243h6.1M426.0 251h11.5M488.9 233h5.0M465.5 247h7.8M476.1 247h0.7M490.1 229h6.2M473.8 243h11.5M58.2 303h9.4M55.8 283h11.0M61.8 293h6.8M86.7 291h5.2M91.9 291h5.7M79.1 311h8.5M135.0 295h0.6M123.1 303h2.0M135.7 313h4.7M177.6 287h15.2M173.7 287h3.9M166.7 295h2.7M241.2 295h4.1M260.9 309h10.6M258.8 311h8.7M260.0 313h6.1M275.0 295h3.9M273.4 311h6.5M300.8 291h4.9M305.7 291h0.9M342.9 297h6.2M339.2 303h6.4M327.0 311h10.4M358.2 285h13.6M356.1 299h8.5M383.8 269h12.8M381.7 279h2.8M383.9 303h5.3M384.0 313h12.6M436.2 285h3.6M420.0 291h0.6M413.0 295h4.3M405.5 299h9.8M445.9 307h4.7M404.6 307h5.0M448.2 313h12.0M36.7 327h7.0M19.0 339h3.1M61.5 349h3.7M62.4 353h15.1M64.7 339h15.8M62.0 339h2.6M96.2 317h12.2M92.9 323h3.3M92.4 345h7.3M87.9 349h8.3M86.6 355h1.1M118.8 319h8.4M124.6 329h11.8M122.3 337h5.3M111.5 339h5.0M115.5 347h14.8M106.4 347h4.5M113.1 357h12.4M115.3 361h9.1M152.4 331h10.3M146.8 335h3.4M148.8 337h11.1M147.6 339h6.1M132.9 355h3.0M128.7 359h6.9M202.7 335h6.3M202.9 339h2.8M196.0 347h0.6M180.6 355h5.8M235.5 323h1.0M226.1 331h13.4M224.0 337h13.9M274.4 335h3.2M279.2 341h8.8M271.6 347h12.8M266.8 351h3.4M304.5 325h12.1M288.3 327h10.3M286.0 343h3.1M281.2 347h5.4M294.8 355h3.7M293.5 355h1.3M322.6 331h8.0M318.9 361h12.7M361.9 327h3.3M360.1 341h3.0M357.6 353h11.4M360.1 355h15.7M358.9 357h14.2M381.7 323h5.3M375.7 323h5.9M383.8 331h15.2M386.4 357h14.2M417.1 343h10.7M450.2 323h6.3M446.5 335h2.5M447.3 353h3.2M489.9 327h5.5M476.1 331h8.2M479.0 339h2.7M471.5 347h6.4M497.7 345h2.8M561.5 35h5.5M552.8 55h6.2M542.5 73h7.5M561.1 71h1.3M589.1 39h2.0M593.5 41h3.3M597.5 45h11.1M600.0 49h12.8M625.4 39h4.2M629.7 69h12.1M615.5 71h7.0M629.8 75h14.9M652.4 47h4.6M652.0 49h5.2M652.5 63h15.1M661.5 49h13.0M661.4 71h6.8M661.2 75h9.2M667.3 59h4.9M662.4 65h9.0M684.4 41h12.6M684.5 43h11.9M683.8 57h13.8M682.8 59h13.8M679.8 71h2.2M684.4 39h14.8M699.1 39h1.3M688.6 71h11.6M817.3 51h5.0M815.3 63h1.4M814.7 71h12.6M836.6 37h7.1M830.9 67h6.2M851.1 35h2.7M853.4 37h10.3M854.0 41h10.2M852.6 43h9.6M853.0 73h5.9M876.0 47h4.5M876.2 49h13.5M887.6 73h12.3M889.6 57h15.2M889.9 71h7.7M889.6 73h16.0M889.4 75h2.4M891.6 53h9.6M891.1 57h12.7M909.5 45h10.5M902.7 47h4.0M909.1 57h14.4M906.2 67h4.2M904.2 71h4.6M910.6 35h12.8M910.1 35h0.5M909.8 37h6.9M912.6 71h6.4M937.4 75h6.5M947.0 51h2.7M954.9 35h12.3M963.0 37h6.6M969.8 41h6.3M959.1 45h10.3M986.1 51h3.6M985.3 47h11.7M997.0 47h8.4M1000.8 57h2.3M547.5 99h6.6M551.3 103h13.2M542.7 107h4.5M542.0 119h6.1M561.8 121h12.4M562.4 125h11.0M596.1 111h12.0M592.9 113h7.9M594.0 115h1.1M627.1 89h11.8M619.1 103h8.9M613.3 123h5.1M635.8 87h3.5M636.8 111h9.8M651.8 95h0.8M652.5 99h12.2M649.0 115h2.1M652.1 87h5.0M651.6 93h8.9M680.3 83h4.0M679.2 99h0.7M680.2 97h10.3M708.8 113h3.5M707.9 125h14.0M816.5 95h3.5M815.9 103h13.1M833.8 87h1.7M837.4 89h8.2M835.8 97h13.2M834.9 119h7.2M851.8 97h13.7M852.7 109h5.5M851.9 119h8.4M852.9 121h10.9M866.5 91h7.3M862.7 91h3.7M863.4 115h3.5M892.1 99h15.0M883.5 99h8.6M888.4 111h15.4M885.1 119h0.4M905.4 107h8.3M825.7 113h13.1M921.5 87h3.8M917.9 99h5.2M922.7 101h13.1M921.5 107h9.0M923.0 113h9.7M919.4 117h9.3M920.9 119h0.5M958.4 87h13.3M954.3 95h12.1M945.0 111h3.9M978.5 95h10.3M975.7 99h5.2M980.6 117h5.5M956.7 119h10.0M953.3 123h10.8M1001.3 89h8.4M993.1 107h3.5M558.4 131h5.4M561.1 139h4.5M561.6 141h9.7M555.6 147h5.3M561.5 163h7.5M601.7 129h7.7M590.4 161h12.3M648.1 147h13.5M652.4 163h15.8M645.7 167h8.1M630.1 171h1.0M652.5 135h8.7M656.7 143h6.6M660.7 145h1.5M651.5 149h11.4M690.8 133h7.7M683.8 135h12.5M687.7 143h6.4M676.8 153h12.0M679.4 157h8.8M814.7 135h4.6M819.8 145h5.9M824.5 131h13.4M825.1 143h15.3M825.1 149h14.0M835.4 149h4.2M833.9 159h11.1M834.2 169h6.9M852.6 149h12.7M892.3 139h3.7M888.7 143h3.6M901.4 131h2.8M905.9 135h9.0M904.6 149h11.7M903.8 129h13.0M905.7 167h9.2M984.1 135h15.1M956.6 135h8.3M977.0 147h6.2M921.4 155h9.5M977.8 157h9.3M950.3 163h5.3M558.6 183h4.6M559.5 187h5.6M563.2 199h12.3M563.0 203h5.6M562.8 205h9.7M590.0 183h7.4M592.8 211h2.7M630.0 191h3.8M624.9 193h5.9M624.8 199h0.7M623.5 215h4.0M602.8 219h8.1M660.9 183h4.9M662.7 187h4.5M660.8 191h3.3M660.5 207h5.0M665.2 211h11.1M666.2 219h9.7M687.4 191h13.3M691.0 199h13.6M705.7 197h9.0M705.8 207h14.4M702.4 215h3.5M743.9 189h9.4M738.0 191h4.3M729.8 203h5.9M731.0 207h6.3M770.4 191h10.0M767.2 207h7.6M768.6 211h2.3M775.3 211h2.6M812.1 201h9.6M803.0 207h5.5M815.0 209h15.1M825.7 195h0.9M825.2 199h9.0M821.2 207h3.0M826.8 219h0.5M842.3 183h6.2M867.7 201h3.1M867.2 215h9.1M866.0 219h5.1M895.1 179h14.9M896.1 203h3.3M890.8 207h3.9M912.8 187h11.4M960.1 187h5.5M974.7 189h14.7M954.2 191h9.5M919.2 195h1.7M976.2 199h2.0M970.7 203h1.3M971.0 215h6.7M974.2 219h4.6M991.0 179h1.0M1000.3 203h8.9M1010.3 199h2.3M1013.1 201h3.4M577.6 253h6.7M581.1 263h10.2M615.9 227h8.9M606.2 249h9.6M627.3 247h11.0M622.5 263h4.8M652.3 231h8.4M650.5 239h10.6M652.4 241h15.5M651.3 261h6.4M676.3 231h8.3M666.2 251h5.6M695.4 241h15.5M692.4 245h8.6M688.9 263h5.7M705.6 261h15.9M732.2 253h9.9M723.4 265h4.7M812.3 249h13.4M826.2 227h3.7M822.8 231h2.8M825.8 251h10.7M822.7 255h4.6M821.7 259h2.8M840.8 239h12.4M839.8 241h3.5M842.4 247h1.3M843.0 257h13.0M840.0 259h5.4M843.2 261h10.4M842.3 263h0.8M843.3 265h13.8M859.3 233h5.0M855.5 265h3.3M896.7 251h15.1M904.1 223h13.5M905.2 235h3.4M905.7 239h4.8M904.4 239h1.3M903.9 247h12.1M905.6 251h7.1M919.7 263h13.3M943.7 251h9.5M991.2 227h2.2M996.7 229h12.8M610.9 277h6.8M613.7 283h1.1M598.8 287h5.1M636.8 303h6.8M631.7 311h8.6M623.0 287h2.9M626.1 289h5.9M652.6 275h6.1M664.3 307h2.0M684.1 275h4.1M686.4 285h12.8M696.8 285h4.2M714.8 299h5.5M773.7 299h3.8M682.3 311h5.8M710.9 311h3.8M778.6 289h12.0M808.5 293h14.7M806.9 299h1.5M824.8 283h14.7M825.2 299h13.7M826.1 301h8.4M857.8 273h3.5M855.4 295h3.3M854.6 307h3.3M867.8 277h7.6M868.0 295h9.1M867.9 303h13.4M868.3 307h15.9M866.2 311h6.1M868.7 313h12.1M895.0 273h12.1M892.3 275h1.7M897.4 281h12.2M894.5 283h0.8M892.7 303h11.2M890.1 303h2.5M904.4 285h15.5M933.2 273h13.1M931.6 275h10.5M927.3 293h12.4M925.2 303h7.7M929.7 307h6.0M952.0 283h2.7M954.9 291h7.1M948.4 291h6.5M948.0 299h7.1M956.2 301h15.1M997.9 277h3.0M993.0 295h13.9M1012.5 279h0.9M1014.6 297h1.9M598.3 335h1.7M649.5 349h5.3M596.1 355h2.3M648.1 359h11.6M622.9 335h0.9M652.4 333h10.4M652.7 335h8.8M651.7 325h6.1M651.5 331h11.2M652.9 345h14.6M685.0 319h3.6M690.4 343h8.8M687.9 329h11.6M694.3 337h4.8M705.4 317h8.7M706.3 323h7.0M705.3 333h6.5M705.9 351h12.9M737.7 351h9.0M742.3 353h5.1M727.2 359h15.2M765.2 349h3.2M756.8 351h3.0M760.1 359h2.5M809.0 339h11.4M802.3 347h10.9M804.5 351h5.0M818.6 331h6.3M821.2 355h8.3M838.6 325h3.6M833.9 343h2.4M833.6 347h3.2M855.6 335h5.1M852.4 339h13.1M852.1 349h12.3M852.1 357h5.1M896.6 333h6.8M894.8 353h11.2M903.1 323h1.8M905.7 325h9.5M904.0 331h10.3M956.2 323h11.5M948.6 331h1.7M948.1 339h9.5M940.4 347h4.2M944.5 347h2.3M982.0 331h0.5M966.4 339h11.5M976.5 343h5.7M969.0 347h5.0M1015.2 327h1.3M1008.4 339h4.1M1002.8 343h6.6"/><path stroke="#565656" d="M24.1 37h3.5M27.6 37h13.3M25.9 41h8.1M19.8 45h4.0M16.4 51h2.3M37.0 57h5.6M10.8 59h4.8M10.8 67h2.2M10.4 75h3.3M52.0 33h8.9M64.0 41h3.6M44.2 59h4.5M42.2 67h2.1M45.5 71h6.5M40.4 77h4.9M45.3 77h4.0M89.4 33h3.6M69.8 37h13.1M65.6 41h2.1M67.7 41h7.0M65.7 53h2.3M68.0 53h14.6M79.2 57h2.5M65.0 65h2.1M67.1 65h7.8M64.8 77h11.6M108.8 41h5.8M108.2 45h5.7M127.7 45h2.1M92.2 57h8.5M100.7 57h14.8M90.9 61h10.0M101.0 61h4.3M105.2 61h4.1M126.3 61h5.2M83.1 73h4.5M100.0 73h14.1M126.9 73h6.1M86.8 77h6.6M121.6 33h3.0M120.5 35h4.1M150.0 33h3.0M139.0 37h3.9M142.9 37h8.9M138.0 43h4.9M149.1 49h5.8M137.5 51h2.6M136.3 53h4.6M140.5 57h7.1M138.5 61h14.7M134.2 75h2.3M138.6 77h4.5M284.4 57h3.6M284.4 61h4.7M300.0 61h5.1M305.1 61h3.7M308.8 61h6.4M315.2 61h11.1M287.0 65h12.9M282.6 69h2.9M285.5 69h10.2M306.0 69h5.2M292.1 73h10.4M283.2 77h9.0M307.4 77h5.4M322.1 37h10.5M317.2 45h3.8M321.0 45h6.4M328.7 49h2.7M314.5 61h2.1M313.9 67h2.1M315.6 69h6.0M321.6 69h5.1M312.4 77h3.7M316.1 77h8.3M349.4 33h7.5M350.2 37h6.7M349.1 49h4.9M334.7 65h4.3M349.5 69h9.9M329.9 73h3.6M344.2 73h5.6M326.6 77h3.9M342.6 77h10.8M385.5 37h5.2M390.7 37h5.1M402.5 43h2.3M379.4 45h5.0M399.5 49h6.0M375.3 51h4.6M393.5 53h2.3M395.7 53h7.3M374.1 55h4.3M372.3 57h2.3M374.7 57h15.2M396.9 57h5.7M374.8 61h10.7M373.4 69h7.5M361.0 77h4.4M405.5 41h3.2M420.1 41h5.4M403.7 45h5.0M409.1 55h6.4M398.4 61h4.0M405.2 65h9.4M400.3 69h11.7M412.0 69h9.4M405.4 77h14.3M442.4 33h13.9M440.5 49h12.0M433.9 55h3.6M437.6 57h12.3M440.6 69h6.8M447.4 69h7.1M431.4 73h9.7M441.1 73h13.4M467.2 33h4.8M476.3 33h15.4M469.7 37h6.9M467.0 41h14.4M466.6 45h13.6M462.9 47h4.9M461.9 49h4.7M466.5 49h11.8M459.8 61h3.0M489.7 61h4.7M32.9 85h2.7M50.0 89h6.1M14.3 101h4.8M33.6 101h1.4M35.8 101h3.6M14.6 109h11.5M11.0 113h3.9M71.1 93h13.6M64.7 97h2.2M66.9 97h11.8M103.9 105h3.9M46.4 109h3.2M68.6 109h3.5M79.6 109h5.5M46.2 111h7.8M124.7 113h2.2M53.3 117h4.1M64.9 117h0.8M122.4 117h3.3M125.7 117h7.1M100.5 121h4.0M42.9 123h3.5M115.5 125h4.9M125.7 125h7.5M102.5 97h3.2M105.8 97h6.7M112.5 97h11.7M125.9 97h4.7M126.0 99h2.9M119.4 93h2.4M134.6 93h0.4M138.2 87h4.5M141.5 93h9.0M138.1 95h3.3M139.9 97h6.2M146.1 97h4.5M142.1 101h9.0M140.7 105h7.6M140.2 109h13.2M135.5 113h4.8M135.3 115h2.4M134.6 119h2.1M157.4 117h5.2M149.8 119h2.4M152.4 121h7.9M305.4 89h14.5M294.0 95h4.6M295.4 97h9.1M288.7 99h3.7M291.8 101h7.0M298.8 101h10.5M293.8 105h6.2M283.8 113h10.9M288.6 121h8.1M315.1 99h3.4M330.7 101h5.1M325.2 105h9.4M325.7 109h5.7M309.7 113h3.8M312.2 121h9.1M345.8 91h4.7M345.9 101h6.9M337.0 113h4.1M336.2 117h4.3M334.8 119h4.6M385.3 81h4.2M388.1 83h11.0M376.1 87h3.7M374.6 89h4.9M373.4 93h2.4M370.8 97h4.0M368.1 103h3.6M367.4 105h4.6M369.6 109h8.1M384.2 109h9.9M376.7 117h11.5M364.8 121h6.5M397.6 97h4.9M402.5 97h13.6M416.1 97h7.6M393.9 105h3.4M391.5 109h2.2M421.1 109h5.8M391.6 111h4.3M388.5 117h3.7M390.0 121h5.0M403.3 121h5.0M427.1 89h2.8M437.6 89h5.9M426.2 91h4.1M423.9 97h4.1M427.9 97h9.2M425.6 105h14.4M453.3 93h3.1M456.3 93h9.1M448.1 103h2.2M450.3 105h10.2M445.1 109h2.5M442.2 113h2.7M440.6 117h3.6M438.5 121h3.1M436.9 123h2.9M478.2 93h10.4M473.5 97h6.6M492.4 105h1.2M27.1 129h3.3M48.7 129h8.5M58.9 131h2.1M23.7 133h5.0M59.2 133h9.2M33.8 137h13.0M16.3 141h2.9M29.5 141h12.3M41.8 141h5.5M34.8 151h3.7M43.9 153h0.6M10.1 157h2.1M11.0 161h2.2M29.1 161h3.6M14.4 165h10.6M25.0 165h1.4M25.8 171h2.6M42.7 151h2.3M53.5 157h11.3M50.9 161h12.3M36.9 163h2.1M35.1 167h3.4M39.5 169h8.4M62.0 169h1.2M92.8 129h8.4M101.2 129h0.5M130.3 131h4.0M81.6 133h3.1M84.7 133h12.6M101.1 133h2.7M113.3 133h12.4M103.0 135h3.0M99.7 137h2.6M108.7 137h10.6M101.8 143h4.4M121.8 145h2.5M76.7 149h2.9M94.5 149h2.3M96.9 149h11.9M125.6 149h5.7M93.3 153h3.1M97.6 155h4.6M121.2 155h4.7M77.4 157h12.4M105.4 157h4.2M71.3 161h4.6M91.1 161h3.1M91.9 165h12.1M115.2 165h2.8M117.7 167h3.1M89.9 169h4.1M113.1 169h2.5M134.4 129h3.5M134.1 135h4.5M137.6 137h12.4M134.8 141h4.1M139.3 143h9.5M134.3 145h2.5M136.8 145h15.3M138.8 149h12.2M143.6 153h10.8M134.1 155h3.4M138.4 157h13.0M151.4 157h2.5M341.8 129h2.7M344.5 129h13.3M368.2 131h2.4M395.6 131h4.6M336.2 133h14.6M344.0 137h12.2M369.7 137h10.4M380.1 137h10.3M399.6 137h7.4M334.4 139h4.7M289.8 141h5.0M325.5 141h3.2M353.4 141h6.2M399.0 141h4.8M311.5 145h10.1M329.4 145h9.2M402.8 145h15.5M280.3 147h2.2M326.1 147h4.7M364.8 147h2.7M395.7 147h3.5M280.9 149h3.5M396.1 149h15.5M303.1 151h2.9M365.7 151h2.8M297.4 153h2.2M299.6 153h5.3M400.7 153h5.1M362.6 157h14.9M388.9 157h2.6M398.6 157h8.3M412.5 157h10.7M432.3 159h3.2M321.2 161h12.7M370.5 161h13.5M384.0 161h2.4M396.6 165h4.4M280.1 169h4.4M301.5 169h6.4M369.6 169h13.1M316.6 171h4.4M451.0 141h1.6M432.7 145h10.0M426.2 149h13.8M456.9 161h1.3M435.3 165h2.9M460.8 169h1.1M468.4 129h4.1M472.5 129h10.2M468.1 133h5.1M461.5 137h2.6M464.0 137h14.7M459.7 141h3.9M453.7 157h10.4M448.8 159h3.7M445.4 165h3.6M464.0 169h2.9M29.6 213h6.2M12.8 217h14.4M10.4 219h4.0M43.9 195h2.2M45.6 197h5.5M51.1 197h1.1M38.1 205h4.3M36.2 209h2.1M34.3 213h2.1M36.4 213h8.6M36.2 217h14.7M97.9 177h2.0M82.2 181h5.6M70.0 209h15.3M69.9 213h4.7M69.2 217h11.3M65.6 219h2.3M108.0 181h9.8M145.9 181h2.6M106.0 185h14.3M103.3 189h6.9M122.5 189h12.2M145.3 189h5.3M113.9 193h5.1M98.1 201h12.4M114.8 201h11.2M93.1 203h4.9M136.6 203h8.2M132.5 207h2.7M93.7 209h9.0M107.2 209h5.0M123.6 209h6.7M134.7 211h2.1M129.7 219h9.5M170.3 197h12.2M165.4 199h3.0M164.7 201h3.0M176.4 201h6.4M190.3 201h0.8M165.3 205h5.9M160.3 207h3.3M154.8 213h3.1M152.6 217h4.1M211.9 199h3.6M208.1 201h2.5M205.0 205h14.3M254.5 201h7.0M270.6 209h2.1M293.8 181h2.1M306.4 181h6.6M287.2 189h3.6M293.8 197h12.2M279.3 199h3.5M277.6 201h3.4M273.8 205h4.6M274.3 209h13.3M301.6 209h4.6M267.7 213h4.9M332.8 181h5.7M316.2 189h2.5M324.7 189h9.8M329.4 193h5.3M310.1 201h3.9M314.0 201h12.5M307.8 213h14.1M345.0 177h13.5M339.7 185h4.0M343.7 185h4.2M347.9 185h13.4M336.1 197h4.7M328.2 209h2.6M350.6 217h5.2M378.5 177h7.7M366.7 179h3.2M378.7 179h12.9M387.4 189h3.7M391.0 189h4.0M361.3 193h3.1M383.4 193h2.0M359.8 197h3.7M385.5 197h2.9M386.1 201h0.7M357.4 203h2.9M382.2 211h4.2M368.6 217h9.0M408.2 181h4.5M405.8 185h2.7M400.5 193h4.1M397.8 197h4.2M393.8 205h2.5M392.1 207h2.1M390.4 209h2.1M420.5 213h4.4M418.9 217h7.9M443.2 189h6.9M445.1 205h4.4M493.9 191h3.0M44.2 241h7.3M41.4 243h4.3M44.2 245h6.2M28.9 253h2.5M36.3 253h6.6M10.0 265h3.2M131.4 227h2.7M69.4 229h3.8M86.8 229h9.0M102.4 229h3.5M105.9 229h4.1M110.0 229h11.8M101.5 233h3.4M104.9 233h13.9M129.0 233h12.3M128.8 235h3.3M101.7 239h2.3M73.2 241h7.6M80.8 241h5.8M106.9 241h13.2M124.3 241h12.7M98.1 243h3.7M122.4 243h4.4M78.1 245h10.7M117.6 245h1.8M66.7 247h3.3M81.1 247h13.3M124.4 247h4.0M82.2 249h11.2M94.7 249h4.3M99.1 249h15.6M138.9 249h8.1M66.6 253h2.2M68.8 253h5.1M80.1 253h5.0M96.1 253h4.3M117.1 253h2.5M70.7 257h15.0M85.7 257h4.0M65.6 261h2.6M92.0 261h5.8M97.8 261h10.6M115.8 261h14.6M117.0 263h3.9M69.3 265h11.0M138.8 265h4.2M156.0 257h13.7M157.7 261h5.8M151.2 265h6.7M176.0 229h4.4M188.6 247h2.9M180.2 257h4.9M206.6 233h3.8M210.4 233h9.4M233.4 237h4.0M202.9 241h5.3M199.7 257h4.8M196.4 265h2.6M219.6 265h3.5M245.4 233h4.9M250.4 233h4.7M255.0 233h2.4M242.0 235h2.1M242.3 237h9.2M237.3 241h3.4M253.1 241h2.0M230.0 249h3.7M229.5 251h3.8M227.3 253h2.2M224.1 257h5.0M218.1 265h2.2M231.0 265h14.7M255.9 241h3.6M256.3 245h3.3M256.6 255h4.7M255.8 257h4.0M259.2 265h7.6M275.8 241h3.2M269.4 245h5.4M260.5 249h4.8M258.9 253h3.0M259.0 255h3.0M314.3 229h8.6M301.6 233h11.4M310.0 237h6.0M291.5 241h2.7M279.9 247h3.8M280.3 259h2.8M280.7 261h4.5M285.2 261h8.3M299.5 265h3.4M314.7 263h2.6M344.9 229h3.4M348.3 229h14.5M341.3 241h2.3M343.6 241h10.4M342.8 245h14.8M339.0 247h4.9M338.9 249h5.0M337.5 253h4.2M353.8 253h7.0M336.4 255h2.4M334.1 261h4.5M344.7 265h13.6M363.6 239h4.4M363.2 243h2.4M362.9 245h2.1M364.0 247h4.9M363.1 249h4.2M372.4 249h5.7M363.9 253h2.1M383.5 237h3.5M400.0 237h4.8M401.4 241h4.4M402.5 245h1.1M404.6 245h3.3M422.2 245h1.4M404.1 247h2.7M403.9 249h3.8M407.6 249h7.2M387.2 253h9.7M384.5 257h4.9M408.6 257h8.5M402.5 259h4.2M387.4 261h9.0M408.1 261h5.4M384.1 265h3.2M387.4 265h5.4M406.2 265h7.5M413.6 265h6.7M477.5 237h3.1M443.2 241h4.8M466.5 241h5.0M476.8 241h4.2M449.0 249h11.7M440.7 259h3.2M478.6 225h5.5M468.6 233h3.2M467.4 235h2.8M465.6 237h3.1M465.4 239h4.2M36.9 301h0.7M40.3 305h6.9M26.6 313h5.7M50.0 281h7.1M42.7 295h4.4M90.0 275h6.7M77.1 277h2.5M75.6 281h3.9M79.5 281h8.9M76.4 283h14.9M74.0 285h2.0M76.0 285h8.9M71.7 289h2.9M86.6 293h9.3M97.1 293h2.8M103.6 297h2.0M67.8 301h4.7M72.4 301h8.1M65.7 305h2.8M68.5 305h7.0M92.8 305h4.2M91.5 307h4.6M88.7 313h4.6M97.3 289h2.2M94.7 293h2.4M93.2 297h3.4M109.1 301h4.4M113.5 301h10.7M125.2 301h2.4M127.4 305h6.2M87.8 309h4.6M92.4 309h9.5M101.9 309h8.3M121.5 309h2.9M86.1 311h3.3M97.9 313h6.1M127.0 273h3.1M135.1 273h12.0M126.2 289h2.0M126.5 291h4.1M136.7 293h8.9M126.3 295h2.9M126.9 299h2.1M135.9 299h9.8M131.0 301h4.8M135.8 301h8.2M127.3 303h7.5M130.2 305h10.8M126.2 311h3.4M155.5 285h4.9M170.1 285h11.6M155.1 293h12.0M151.1 295h4.0M168.8 309h4.9M194.9 309h11.3M177.7 313h7.7M250.9 297h3.6M247.4 301h3.8M256.3 301h4.6M243.5 305h2.4M207.7 307h4.5M260.7 297h7.7M273.2 297h6.9M256.3 299h2.1M255.8 301h3.1M255.7 307h4.6M264.1 309h4.7M268.9 309h10.7M297.4 269h3.3M325.1 269h1.6M324.2 271h1.9M293.7 273h3.7M297.3 273h7.5M325.7 273h3.0M292.2 275h3.5M294.1 277h14.7M288.6 279h4.1M287.1 281h2.3M289.4 281h7.5M282.7 285h2.5M311.8 285h0.5M282.7 297h5.0M280.6 307h4.2M325.1 297h11.1M312.2 307h3.1M340.1 309h2.2M308.6 311h2.3M346.3 273h4.6M349.0 277h11.1M347.1 289h4.5M339.9 305h5.6M339.4 309h12.6M352.6 313h9.8M363.5 269h2.2M363.3 277h2.2M365.5 277h10.6M363.3 287h2.3M379.6 301h3.7M377.8 303h2.1M376.2 305h2.6M371.6 309h4.3M397.7 281h3.3M413.8 285h11.2M425.8 285h2.4M421.2 293h4.3M419.3 295h3.6M388.2 301h7.4M398.7 305h14.5M420.5 309h15.5M454.9 285h15.9M450.8 289h11.7M462.5 289h7.2M472.4 289h13.4M444.2 293h3.1M447.3 293h13.3M444.7 297h4.4M464.2 297h3.2M437.3 303h2.4M435.3 305h4.3M466.0 305h6.5M463.0 307h4.3M482.6 273h4.3M25.5 317h2.9M28.4 317h9.2M35.3 325h8.1M22.0 329h14.4M10.0 339h3.0M10.5 341h4.6M15.5 353h5.3M10.5 359h4.7M40.6 341h3.8M44.4 341h12.8M57.2 341h4.9M43.1 345h15.4M59.3 353h3.1M44.0 361h6.3M56.5 361h4.7M45.1 317h3.0M43.9 321h4.0M47.9 321h8.4M43.4 323h4.3M41.4 333h4.2M40.7 337h3.3M54.6 341h5.1M43.4 345h12.1M55.5 345h7.1M46.4 349h4.6M55.1 353h9.3M47.1 357h13.0M35.2 359h5.0M35.2 361h2.1M86.8 321h7.1M91.8 329h1.2M73.9 335h2.7M82.2 337h8.9M76.4 341h4.9M81.3 341h12.0M70.4 347h4.9M71.9 361h7.3M97.2 317h4.4M101.6 317h9.7M111.3 317h4.6M96.2 321h5.0M101.2 321h4.4M95.5 325h2.0M113.6 325h6.6M95.0 327h2.5M94.5 329h4.2M108.3 329h13.6M111.8 337h10.0M90.7 341h4.0M100.7 341h15.2M89.8 357h12.3M134.5 317h7.0M127.7 319h2.0M147.2 321h3.2M128.2 325h4.6M132.7 325h7.4M138.3 329h4.7M143.0 329h4.8M143.8 333h2.3M122.1 339h5.0M122.4 345h8.4M143.4 349h8.9M117.6 353h3.8M137.3 353h3.8M141.1 353h6.1M173.9 337h4.4M189.5 337h13.1M192.6 341h9.0M201.2 343h2.3M159.3 349h2.2M176.7 349h11.5M157.2 351h4.9M169.0 357h11.7M170.7 361h7.6M178.3 361h4.4M207.6 317h4.1M201.4 333h6.0M216.8 337h2.9M195.6 339h4.6M196.1 341h9.6M205.7 341h7.7M190.9 345h2.8M188.4 349h4.6M199.7 349h5.8M188.5 353h6.0M208.9 357h10.4M202.5 361h4.4M249.4 333h4.2M266.9 333h7.0M249.9 345h13.6M227.2 353h3.7M242.7 353h6.5M240.6 357h11.8M262.9 357h2.6M232.7 361h11.9M280.0 317h2.5M279.6 319h4.9M277.7 321h2.1M303.1 329h0.4M274.3 333h15.2M264.6 341h4.6M293.1 341h7.8M293.0 343h3.6M275.2 345h9.3M290.4 345h5.5M263.3 349h11.7M256.5 353h3.7M266.6 357h5.2M253.8 361h8.6M326.8 317h0.8M306.4 321h5.6M312.0 321h15.5M327.6 321h0.4M303.4 323h4.0M327.4 325h3.4M300.2 337h9.5M323.2 339h2.3M294.8 343h4.6M324.4 343h0.4M302.9 345h13.0M293.8 353h7.9M293.6 357h5.5M298.2 361h9.4M313.0 361h3.6M342.0 317h10.6M337.6 319h4.7M339.5 321h11.3M333.9 333h7.1M348.7 337h6.1M323.5 349h3.5M320.9 355h4.6M320.3 357h2.4M319.2 359h2.0M335.1 361h14.0M369.9 317h9.6M367.4 325h8.7M364.0 327h14.6M365.6 329h12.8M361.9 333h4.2M359.4 341h4.2M357.9 343h3.5M357.8 345h4.5M355.4 351h3.5M355.2 353h2.7M352.2 361h3.6M363.2 361h5.6M413.8 321h2.4M416.1 321h4.2M384.2 325h2.4M408.8 329h3.9M412.7 329h3.4M394.1 333h13.0M409.3 335h3.0M386.7 345h10.6M405.3 345h8.8M401.6 353h10.2M384.1 357h3.6M397.3 359h4.7M399.5 361h5.0M423.9 317h4.0M423.4 329h11.2M434.5 329h8.2M437.9 333h5.7M421.4 337h11.9M447.8 337h4.1M418.4 345h13.1M414.4 349h3.6M415.7 353h8.8M411.5 357h3.1M426.7 361h5.9M432.6 361h6.2M464.4 319h2.9M481.8 325h5.0M484.8 329h3.5M463.5 337h5.3M451.8 345h3.0M454.8 345h14.9M449.9 347h5.0M451.2 353h4.8M456.0 353h11.9M544.0 37h11.0M547.7 53h8.6M530.7 55h4.2M530.2 57h2.5M541.3 57h12.1M528.0 65h2.2M528.6 67h4.2M528.5 75h2.7M532.2 77h7.6M559.4 61h2.4M557.1 69h4.0M556.2 71h4.9M574.5 41h2.6M577.1 41h12.9M574.9 49h4.1M579.0 49h8.0M588.3 49h4.2M574.7 51h3.6M574.9 57h3.0M589.2 57h5.4M574.5 59h3.2M586.3 61h6.3M574.5 65h4.2M575.0 67h3.9M584.5 67h4.9M574.5 69h4.0M579.7 73h5.3M585.0 73h13.4M576.5 77h4.3M608.7 77h3.9M617.1 45h7.8M624.9 45h2.8M620.5 49h7.8M603.8 53h6.9M624.7 57h0.5M596.3 63h11.9M626.1 65h1.6M590.6 77h3.4M640.2 43h3.9M638.9 47h5.0M634.6 61h3.8M634.3 65h4.5M632.2 69h2.3M634.5 69h5.9M633.4 77h5.7M654.8 37h6.0M651.4 41h4.2M656.3 49h5.2M652.5 53h4.2M656.8 57h6.1M651.6 61h3.1M655.9 69h6.3M651.6 73h3.9M656.5 77h4.1M677.2 35h4.0M675.3 53h4.5M675.1 61h2.8M677.8 61h6.4M674.1 69h2.7M673.5 77h3.3M673.1 69h2.9M676.0 69h10.4M702.3 69h4.3M676.0 73h6.5M807.7 43h4.1M807.1 49h2.3M809.3 53h7.2M804.2 63h5.0M803.0 69h2.5M806.0 73h9.4M801.2 77h4.6M810.7 77h4.6M828.3 37h4.1M822.6 41h2.1M824.7 41h6.7M822.4 45h2.2M821.0 49h3.3M823.4 53h8.2M831.6 53h5.7M819.2 55h3.1M816.8 61h3.0M824.4 65h10.6M839.4 43h3.5M837.1 65h2.1M834.9 77h3.2M865.5 41h7.8M857.4 45h4.0M861.4 45h7.2M857.9 51h4.3M860.8 57h5.0M874.7 57h6.2M881.6 65h1.3M857.2 67h3.0M870.0 69h6.5M876.4 69h10.8M861.5 77h4.5M870.2 55h4.3M870.0 57h4.8M868.6 71h4.3M877.4 73h5.7M884.6 53h7.0M885.1 57h6.0M880.6 75h3.0M900.5 45h9.1M898.6 49h10.0M896.2 53h3.7M896.4 73h3.2M899.5 73h9.7M899.8 77h4.3M900.2 45h10.3M895.8 51h2.9M895.8 53h2.4M896.6 61h2.7M964.7 61h1.7M927.9 63h4.1M959.1 63h2.9M922.1 65h3.6M925.8 65h7.9M958.3 65h2.6M956.2 69h3.6M919.4 73h5.0M895.5 75h2.9M895.7 77h2.1M919.7 77h14.8M942.4 77h7.4M955.8 77h13.6M938.5 37h12.4M931.9 45h4.3M974.9 47h4.1M978.4 53h6.9M977.0 57h8.0M971.8 61h4.5M967.9 75h4.1M990.2 37h2.7M545.7 85h2.8M548.5 85h10.8M545.5 89h12.6M542.8 93h7.6M538.7 97h10.0M528.8 103h4.8M528.7 113h3.0M527.8 117h4.8M557.0 123h4.9M579.0 93h3.1M576.5 99h2.3M573.4 113h3.5M581.3 113h4.2M574.5 117h3.2M576.7 121h5.1M613.9 83h2.0M611.9 87h2.3M613.1 89h9.0M610.5 91h2.6M595.8 109h10.2M603.7 111h14.9M590.3 115h3.6M601.9 121h8.9M624.1 115h3.4M623.1 117h4.0M625.3 121h2.4M627.7 83h4.7M628.1 93h3.7M628.0 97h3.2M627.8 99h2.8M632.2 101h3.4M628.1 105h3.3M631.3 105h5.7M631.5 113h6.2M630.5 117h6.8M631.2 121h4.9M640.4 93h2.8M643.2 93h9.6M638.5 101h2.8M635.8 109h3.9M635.8 113h3.3M635.4 121h4.3M675.4 89h3.8M678.2 101h1.5M673.7 109h4.3M661.8 111h4.2M700.5 111h3.1M683.5 113h11.0M659.0 115h3.8M685.0 117h6.3M691.3 117h3.2M664.9 121h10.5M691.7 121h14.2M689.8 123h4.9M809.6 83h2.3M809.7 85h2.4M808.1 91h2.8M807.7 95h6.8M806.9 101h4.8M811.7 101h4.5M805.4 109h4.4M804.5 113h2.7M803.4 117h3.3M802.5 125h4.7M829.1 89h8.3M825.6 93h4.7M826.5 99h3.3M825.8 101h3.6M825.9 107h2.5M825.8 109h4.4M829.0 113h5.7M826.2 121h2.4M825.8 125h4.4M841.8 85h2.5M851.4 109h1.3M842.1 111h4.4M842.0 113h4.8M842.3 117h3.2M845.6 125h6.6M862.0 85h5.2M857.4 93h4.6M857.4 103h3.3M857.8 109h3.9M865.6 93h4.6M869.5 109h9.2M870.5 117h7.1M865.4 125h2.1M867.5 125h11.1M878.6 125h10.2M881.5 83h4.2M880.5 85h4.7M896.1 97h3.5M898.3 105h6.0M895.8 109h3.5M896.4 117h4.2M899.8 125h6.0M814.4 117h9.2M816.4 125h7.3M905.7 83h2.8M910.5 85h5.0M906.0 91h2.2M909.1 97h9.0M905.7 101h4.7M910.0 105h12.3M906.2 117h2.4M906.4 123h2.7M946.4 89h7.4M924.0 107h4.6M934.7 109h4.1M920.4 117h2.2M959.9 97h8.8M948.6 105h4.9M969.1 113h2.6M938.6 117h9.9M962.4 117h4.3M933.9 121h3.8M933.8 123h4.6M966.7 125h8.8M988.2 83h4.5M984.4 97h2.2M987.2 101h10.2M982.4 103h4.9M981.3 107h3.2M994.4 105h3.3M999.7 109h10.3M547.9 129h12.4M542.7 133h11.5M540.2 137h12.0M539.1 141h14.0M548.3 145h13.0M530.8 147h4.7M529.0 149h4.1M543.4 149h15.7M532.9 165h9.9M532.4 169h9.6M557.1 163h4.5M547.8 169h4.5M582.5 133h9.1M598.0 133h1.4M584.5 137h11.4M574.7 139h4.6M574.8 143h4.0M574.4 147h2.3M574.6 151h2.3M586.5 153h4.9M574.5 161h2.6M577.1 161h11.2M574.5 165h4.4M578.8 165h11.2M575.1 169h3.0M610.4 131h2.4M644.7 133h4.1M626.4 137h10.8M644.7 137h3.0M646.1 139h3.8M606.2 141h4.7M606.8 145h13.7M639.8 149h5.0M636.1 157h4.7M621.4 161h4.1M636.4 161h3.7M636.5 163h3.4M598.1 165h3.4M632.4 165h2.5M596.1 169h2.8M613.8 169h10.3M595.2 171h2.1M675.8 133h4.0M674.1 143h3.5M674.1 145h3.0M677.2 145h4.8M656.7 153h6.1M652.5 155h4.3M651.8 157h3.3M652.2 169h4.6M652.0 171h4.4M687.1 159h2.2M687.0 161h3.0M685.9 163h4.8M684.0 165h3.2M682.7 169h2.8M808.2 135h2.3M807.2 143h3.4M809.8 145h6.2M808.7 153h8.5M807.8 161h4.4M802.9 167h3.1M803.0 169h5.0M808.0 169h8.7M819.9 129h4.6M819.9 137h3.9M823.8 137h1.4M829.2 129h4.6M825.0 133h3.5M826.0 139h3.1M825.8 141h2.6M825.6 167h3.7M844.4 141h8.4M841.9 145h4.8M845.4 161h7.9M842.1 165h3.2M858.0 135h2.8M861.5 149h6.0M861.5 153h10.1M857.7 165h4.6M880.5 129h3.0M883.5 129h5.4M883.4 133h6.5M879.4 139h3.8M878.7 141h3.1M881.9 141h9.7M877.2 149h2.8M880.0 149h9.5M875.7 153h4.6M875.6 155h3.8M896.5 131h4.9M895.4 139h3.2M895.8 157h5.0M892.4 161h4.5M893.6 169h4.3M898.8 129h5.0M895.8 135h2.1M895.8 137h3.2M895.9 141h3.8M896.6 143h3.1M900.8 145h4.8M896.1 147h4.3M899.2 149h5.5M895.5 153h2.1M895.5 157h4.6M896.1 167h2.5M896.5 169h2.2M898.7 169h7.3M911.1 137h15.1M939.3 137h3.8M918.0 141h7.1M925.2 141h12.3M941.2 143h4.3M966.7 143h4.9M910.1 145h14.8M937.5 153h12.1M962.9 155h2.4M908.0 157h7.8M931.8 157h4.6M958.3 157h4.1M934.7 159h3.0M947.8 161h5.3M931.2 163h3.6M906.2 165h4.4M954.6 165h2.3M910.6 167h6.6M984.1 133h3.6M992.4 133h13.2M983.0 135h3.4M986.5 137h5.9M992.4 137h5.7M983.3 139h4.2M982.9 141h2.1M984.1 149h4.1M988.2 149h5.2M538.6 185h6.4M533.1 187h3.5M552.0 189h9.9M531.3 197h10.2M532.2 205h8.0M540.3 205h2.0M529.0 209h3.6M528.4 211h3.1M532.4 217h8.7M557.0 197h4.4M554.9 201h3.7M553.8 205h4.8M558.6 205h4.3M552.6 207h3.1M574.5 177h2.1M576.6 177h15.3M577.2 181h4.6M574.0 183h4.8M573.9 189h3.8M592.3 189h4.2M584.0 193h12.2M576.8 197h10.8M573.6 201h2.3M575.9 201h15.6M574.4 203h2.8M574.0 205h2.2M576.4 209h8.3M573.5 211h2.5M609.6 181h6.2M601.6 189h4.2M601.9 193h9.0M597.4 197h2.7M600.1 197h5.0M605.2 197h6.8M624.1 201h5.9M592.8 205h4.0M618.1 205h0.5M612.8 217h3.8M586.0 219h4.9M643.2 193h3.2M644.8 217h6.2M643.2 219h4.4M652.5 189h4.9M652.3 197h2.4M654.7 197h6.8M654.8 213h10.1M651.7 215h2.2M653.8 217h8.1M670.2 179h2.3M671.5 185h9.0M665.2 189h3.8M661.1 199h2.3M670.3 199h11.3M659.3 201h3.4M703.4 191h2.7M701.6 193h2.3M703.9 193h2.3M700.2 195h3.5M701.4 197h4.2M698.1 201h6.3M694.8 203h3.6M705.8 181h3.1M722.8 189h3.0M734.8 189h8.2M718.0 197h3.3M713.7 205h4.1M709.2 213h3.4M712.6 213h13.2M757.2 185h4.8M757.3 189h13.9M760.4 197h5.6M766.1 197h10.1M745.0 201h3.2M781.2 203h0.7M742.1 209h12.1M731.5 217h3.9M747.1 217h11.7M758.8 217h7.6M769.1 217h11.2M729.8 219h3.3M802.0 177h4.3M806.2 177h6.2M784.1 181h8.7M798.9 181h4.0M799.2 183h3.4M796.1 189h4.9M789.6 193h4.3M782.9 197h4.7M792.1 197h4.5M790.3 201h2.1M792.4 201h5.0M779.9 205h4.1M784.0 205h3.5M791.4 205h6.5M780.1 207h2.7M787.1 209h4.8M784.8 213h3.2M815.5 189h11.9M816.3 191h5.0M812.2 197h3.9M816.2 197h7.3M829.7 177h10.9M826.2 193h3.1M825.9 197h2.6M825.5 205h3.5M829.2 209h12.2M826.5 211h4.2M825.8 213h4.0M826.4 217h4.5M846.4 177h10.0M842.5 189h3.5M841.7 193h4.0M845.0 197h6.3M844.3 205h8.3M857.9 209h0.5M846.2 213h9.2M857.9 177h4.1M857.3 183h2.7M857.1 187h4.9M857.6 197h3.0M857.2 201h3.9M886.7 181h9.5M882.3 189h2.2M884.5 189h11.3M882.3 191h4.0M882.6 199h2.4M882.5 219h2.6M934.2 177h4.2M972.3 177h3.1M899.0 181h13.7M932.1 181h9.3M928.5 183h3.0M925.5 185h4.7M973.0 185h6.3M926.3 187h4.7M895.7 189h2.2M965.3 189h2.1M896.5 191h4.2M925.2 191h2.2M926.0 193h12.9M971.8 193h7.1M896.3 195h4.8M896.6 201h2.1M914.4 201h3.6M895.5 205h2.0M904.1 205h7.8M918.2 205h4.2M958.8 205h2.1M970.3 205h3.7M950.8 209h4.8M895.9 213h2.9M933.2 217h4.2M962.3 217h8.5M975.9 177h4.8M992.6 177h1.1M995.3 185h4.7M992.5 195h3.1M991.5 201h2.1M990.5 205h2.3M1009.9 201h3.2M531.0 257h4.7M528.0 259h4.5M530.6 261h9.9M528.6 263h3.0M570.3 253h4.7M552.0 257h3.1M548.7 261h4.4M574.3 261h5.9M593.3 225h4.6M589.4 233h3.3M588.5 235h3.6M600.3 237h4.1M585.8 239h2.9M585.0 241h2.0M587.0 241h7.8M599.6 245h8.9M581.6 247h2.1M580.5 249h4.4M595.7 249h10.4M589.6 255h6.5M577.5 257h4.5M591.7 257h9.1M578.1 265h11.8M613.1 253h4.3M608.3 257h4.2M612.5 257h4.3M600.4 265h4.6M642.5 223h4.3M645.0 237h6.3M644.4 253h7.8M641.7 261h3.6M645.3 261h6.1M668.1 229h11.1M659.7 237h3.4M660.6 245h9.7M656.0 249h4.4M660.5 249h4.9M665.4 249h9.5M663.0 261h8.6M655.0 263h3.2M657.9 265h9.4M690.2 233h5.3M679.2 237h2.6M678.5 241h4.1M682.6 241h10.0M679.1 249h4.9M687.9 253h6.7M674.7 255h2.5M674.3 257h3.7M678.0 257h12.4M672.3 263h4.2M672.0 265h4.6M702.5 249h3.1M723.5 249h12.5M715.8 255h2.1M708.0 265h4.9M712.9 265h8.2M745.0 257h15.8M729.3 261h3.5M746.1 261h6.9M730.5 265h14.3M765.6 261h11.1M780.3 257h3.0M796.4 257h4.7M780.0 261h4.5M798.9 261h10.6M811.9 225h2.4M816.6 229h10.6M815.4 233h5.7M815.4 245h9.1M822.8 253h4.7M812.3 263h4.6M818.9 265h6.2M825.6 227h8.7M825.6 229h3.2M830.9 237h9.1M826.5 257h4.7M831.1 257h11.9M828.2 261h10.0M826.4 263h3.7M826.1 265h4.4M843.7 233h11.9M841.4 241h4.9M841.9 245h3.4M844.8 249h11.9M841.8 251h3.8M842.5 261h4.3M857.6 223h4.3M857.0 225h3.3M857.2 229h4.6M861.8 229h4.7M857.7 241h3.3M861.0 241h6.3M857.9 249h4.7M862.7 249h4.1M861.0 257h7.7M857.5 261h5.0M862.5 261h5.4M882.5 235h4.1M885.6 241h4.4M882.8 245h3.9M887.1 249h8.2M886.6 261h7.4M883.2 263h4.0M901.2 229h4.4M896.5 233h3.7M898.3 237h6.8M895.6 239h3.8M896.4 245h2.4M896.2 247h3.9M896.5 249h2.4M895.6 257h2.7M895.5 265h4.4M899.9 265h6.2M917.3 225h10.9M908.7 227h3.6M919.3 229h5.9M911.0 233h10.0M910.6 237h10.5M906.9 241h4.9M908.5 261h4.6M938.4 233h4.2M933.4 241h3.4M936.8 241h12.8M951.3 245h6.8M941.6 249h11.8M928.2 253h4.0M921.5 265h2.7M948.8 265h1.3M974.4 233h15.0M968.8 239h4.3M966.6 249h3.5M568.0 273h4.8M572.9 273h4.8M563.4 279h3.7M561.9 281h3.9M575.8 285h7.7M554.3 289h5.0M559.3 289h15.5M584.5 293h4.7M532.5 301h6.1M566.9 301h6.4M587.6 301h4.4M606.5 301h7.6M646.4 301h4.6M529.0 305h3.8M567.8 305h9.5M577.3 305h8.4M585.9 305h3.1M528.9 307h3.2M565.4 307h3.4M540.2 309h15.2M564.9 309h11.2M615.5 309h10.5M570.4 313h10.4M616.7 273h2.3M618.9 273h6.9M636.4 285h4.5M635.4 289h8.9M660.8 305h2.7M660.0 309h4.6M678.2 277h3.9M678.7 293h6.9M672.9 299h2.1M694.8 299h2.8M767.0 301h11.9M697.1 305h10.5M707.6 305h7.3M720.6 305h12.9M673.3 307h2.9M686.9 309h2.3M689.2 309h3.3M749.6 309h2.8M752.4 309h13.4M749.1 311h12.2M673.0 313h3.6M676.5 313h10.2M713.9 313h4.2M725.6 313h8.2M720.3 285h2.9M772.1 285h5.4M765.9 287h2.7M759.2 293h2.4M761.5 293h15.2M801.6 275h4.9M799.1 277h2.7M799.0 279h4.7M780.4 281h4.9M782.6 289h9.3M780.6 293h4.2M795.8 293h12.6M780.4 295h4.0M793.6 295h2.4M779.8 297h2.6M787.9 297h2.3M790.2 297h14.0M807.4 307h2.7M782.5 309h4.0M802.0 309h4.6M779.5 313h4.3M801.8 313h4.9M814.3 273h5.8M812.5 277h3.6M812.4 285h4.5M816.9 285h7.9M811.9 297h4.1M812.0 305h2.9M814.6 309h4.6M826.5 273h2.9M833.7 273h9.9M829.4 277h11.6M830.7 281h8.0M829.4 289h6.4M825.6 293h2.4M825.4 295h3.4M825.5 303h3.9M830.0 305h10.8M829.8 313h13.7M841.6 277h4.4M842.4 283h2.5M842.1 289h2.1M841.7 297h3.3M841.4 303h3.1M846.3 313h13.4M857.1 281h3.8M860.9 281h5.9M857.1 285h2.0M861.6 289h5.4M857.6 293h2.4M860.9 297h5.4M857.1 299h3.5M857.2 305h4.3M857.9 307h4.6M857.0 313h3.5M881.4 275h3.8M881.1 281h2.9M884.1 281h12.1M880.6 297h3.2M893.3 297h1.2M867.9 301h2.8M882.8 301h14.9M867.1 309h4.1M897.7 285h6.8M899.9 289h6.0M899.7 297h4.5M895.5 309h2.8M911.1 273h10.1M910.3 281h15.6M906.0 283h2.3M910.1 293h6.3M910.4 297h13.6M906.4 299h4.8M910.7 301h13.3M905.9 307h3.7M908.4 309h10.5M906.2 313h2.7M942.1 285h2.9M945.0 285h10.0M938.8 291h3.5M979.8 273h8.4M974.8 275h3.0M973.1 279h2.2M970.9 285h4.3M970.2 297h4.1M1001.8 285h2.0M1000.4 287h2.3M994.0 295h3.0M991.7 297h2.2M553.6 333h2.7M554.6 343h4.9M580.7 325h13.8M577.8 337h14.6M574.8 345h3.5M584.8 345h8.4M577.1 349h4.5M581.6 349h10.4M630.1 349h4.6M553.5 353h15.1M575.5 353h4.6M527.9 355h3.2M546.9 357h4.4M598.3 357h3.8M639.7 357h14.6M577.6 359h4.0M621.7 325h2.5M612.9 331h4.6M597.7 341h2.5M614.7 345h5.0M636.0 337h3.6M651.9 337h0.8M635.7 341h13.6M643.4 321h3.6M647.0 321h4.7M643.6 327h2.7M646.6 333h6.3M643.0 345h3.7M673.4 317h2.1M679.2 329h9.4M669.9 341h5.6M661.5 353h2.0M679.4 353h1.1M681.7 353h4.7M660.5 357h8.6M678.9 357h4.8M658.0 359h2.5M679.2 359h3.8M697.2 321h2.4M703.4 325h3.1M697.4 329h8.0M697.6 337h7.7M688.2 339h4.5M684.2 345h3.8M688.0 345h7.9M690.4 351h13.8M677.1 359h2.3M732.4 349h6.7M716.2 353h4.9M710.7 357h3.5M757.8 343h10.2M747.7 345h13.9M751.2 349h7.3M761.7 349h3.5M761.1 353h2.3M732.1 357h3.9M749.5 357h5.1M776.1 339h4.0M768.8 345h3.3M772.1 345h7.2M771.4 349h6.5M762.4 353h15.0M777.5 353h2.5M757.5 355h4.5M782.8 341h6.0M795.6 345h7.0M784.1 349h10.9M810.5 317h5.0M809.6 319h2.6M810.0 341h3.9M809.4 353h3.1M824.8 323h2.8M829.6 325h6.1M824.7 333h3.5M828.1 333h8.1M836.2 333h2.7M824.8 335h4.2M827.4 337h6.0M824.7 339h4.7M825.0 345h2.8M824.8 349h4.3M829.0 349h4.9M824.6 355h2.2M840.4 323h3.3M840.8 339h2.1M840.5 343h4.6M843.2 349h8.9M844.9 357h5.0M862.5 317h3.8M857.1 325h2.9M857.9 331h2.5M859.3 337h8.1M860.2 341h7.3M857.6 349h2.1M865.1 353h1.9M857.1 357h2.2M809.6 357h2.9M837.8 353h2.3M868.1 357h2.7M884.6 325h8.7M883.7 329h4.9M888.6 329h8.5M880.9 333h2.3M885.0 337h9.9M880.6 341h2.7M895.6 341h1.1M881.1 345h4.7M880.4 353h3.0M881.3 359h2.3M899.9 325h5.8M895.7 331h2.4M899.7 333h5.7M896.5 337h4.6M900.9 349h4.5M895.9 353h3.3M900.1 357h5.6M930.4 327h4.6M925.9 337h4.7M923.1 341h3.9M927.0 341h12.0M921.8 345h4.3M930.9 353h9.3M915.6 355h4.7M957.9 333h11.9M951.9 337h4.3M953.8 341h6.7M967.3 341h6.6M973.5 345h3.0M944.3 349h2.3M946.6 349h7.9M954.5 349h8.5M956.1 353h9.1M940.3 355h2.5M938.2 359h2.2M993.9 329h3.9M987.7 345h3.6"/><path stroke="#b0b0b0" d="M35.8 39h6.5M25.1 43h11.3M40.4 51h1.6M13.5 55h13.7M11.1 63h7.9M48.6 59h14.9M45.0 75h5.5M66.0 47h9.8M66.3 51h6.4M77.3 55h4.6M65.9 59h11.7M69.2 67h8.6M77.9 73h7.5M129.1 51h4.9M108.3 55h15.4M92.8 59h10.1M124.3 59h6.3M92.3 63h11.5M103.4 67h7.5M110.9 67h9.3M82.9 75h8.4M139.3 39h12.7M151.1 43h2.0M144.9 47h9.9M151.2 51h3.7M139.4 59h9.8M150.6 69h8.4M147.1 75h15.5M289.3 63h7.9M310.9 65h10.0M291.0 67h7.6M311.2 69h8.0M309.2 71h10.1M305.6 75h4.5M320.8 77h3.0M324.6 35h6.7M332.6 37h1.4M316.0 51h11.5M327.1 57h6.6M326.3 75h1.8M350.0 55h7.1M336.9 67h6.4M344.3 71h8.3M384.1 35h9.4M383.5 41h14.2M387.5 55h5.8M379.7 63h6.6M386.2 65h1.5M380.9 69h4.5M363.1 75h6.8M412.0 35h14.9M424.5 63h2.1M455.2 37h4.6M438.1 43h10.7M453.5 47h1.4M437.5 55h5.9M448.3 67h6.2M440.2 71h4.9M465.1 39h7.0M480.2 45h3.6M467.8 47h8.8M460.3 63h6.6M463.7 65h3.2M458.9 67h4.4M39.2 87h6.1M42.4 95h11.4M16.6 99h14.8M28.6 103h3.5M98.4 107h5.3M122.5 107h2.6M71.5 111h11.4M83.0 111h9.0M99.5 111h2.7M118.1 111h6.0M126.8 115h4.7M47.1 119h7.1M81.3 119h12.1M120.1 119h1.9M101.6 123h5.7M45.4 125h4.2M105.1 99h14.1M119.2 99h3.8M128.8 99h7.2M141.5 95h7.1M136.5 103h14.1M148.4 105h2.3M153.3 109h0.4M149.7 113h3.9M149.7 115h1.3M162.6 105h1.4M152.2 119h7.3M319.9 89h3.2M298.7 95h11.3M300.0 105h6.5M280.8 111h12.6M299.7 117h1.4M290.1 123h7.0M304.0 123h1.9M321.4 111h11.1M350.5 91h9.1M345.2 103h4.3M344.1 107h10.8M381.8 95h13.5M384.7 103h10.5M380.7 107h13.9M377.8 111h11.4M382.2 113h11.0M359.7 123h10.8M407.8 99h7.3M408.1 103h8.4M390.1 115h4.1M432.2 117h2.2M395.8 119h9.3M428.6 87h9.9M438.5 87h9.7M430.3 91h9.8M445.5 99h2.5M431.4 103h10.2M459.2 87h8.6M463.0 89h3.6M450.4 103h15.2M445.0 113h14.9M446.2 115h11.3M439.3 119h8.4M460.7 123h6.5M483.0 95h9.8M38.7 131h4.5M61.1 131h12.0M33.6 135h7.6M18.7 139h14.4M32.9 143h13.0M53.2 143h1.3M15.6 145h7.4M23.2 147h8.3M10.8 155h13.1M36.8 163h2.3M13.7 171h9.3M49.1 147h4.6M46.6 149h11.9M106.0 135h6.5M82.5 139h4.9M124.3 145h12.2M129.8 147h3.7M74.9 151h7.6M74.1 155h10.2M120.0 159h13.7M80.0 163h8.0M92.2 163h5.8M102.0 169h10.3M138.6 135h8.0M139.2 147h10.1M137.5 155h6.4M139.6 163h10.7M140.9 171h5.7M331.7 131h10.7M342.4 131h9.0M321.5 135h7.3M407.0 137h5.0M307.4 139h7.8M315.2 139h7.8M323.0 139h9.9M385.9 139h1.4M394.7 139h10.6M409.1 139h5.2M295.9 145h4.7M297.7 147h2.4M351.2 149h5.3M280.8 151h13.5M332.6 151h7.4M394.2 151h10.2M425.3 151h4.6M378.2 153h6.8M384.9 153h4.8M281.0 155h10.2M354.0 155h5.5M418.6 155h8.3M427.7 157h1.6M392.2 159h11.7M404.0 159h10.4M300.1 163h8.5M432.5 163h1.5M296.9 165h5.2M312.0 165h4.2M349.2 167h4.0M402.5 167h15.2M417.7 167h6.2M292.9 169h8.7M413.8 169h9.8M280.5 171h8.4M321.0 171h8.8M352.8 171h15.2M432.9 135h6.1M427.7 143h9.3M426.1 145h6.7M442.7 145h7.8M440.0 149h3.3M456.1 159h4.1M455.6 163h3.9M451.4 165h3.9M442.9 171h7.8M450.7 171h4.4M482.0 131h10.6M480.0 135h7.3M475.7 141h7.1M472.2 143h4.8M476.9 143h5.2M462.5 147h11.3M456.9 151h14.4M461.7 153h4.4M456.0 163h11.9M11.6 211h14.6M11.1 215h13.3M18.6 219h9.2M46.5 191h6.7M38.3 209h4.6M33.0 219h11.7M76.3 187h6.3M86.0 195h7.6M70.4 207h11.9M75.7 211h13.3M80.0 219h2.4M133.6 179h6.5M142.6 181h3.3M121.2 183h4.9M140.3 185h2.4M150.6 189h4.1M110.2 191h11.0M128.1 193h9.9M142.0 193h10.8M128.9 197h7.9M98.0 203h12.0M110.0 203h13.9M136.8 211h11.5M124.9 215h2.3M113.8 219h9.8M131.9 177h1.9M219.3 205h4.4M211.5 207h9.3M218.7 211h3.4M276.7 199h0.5M260.2 203h6.5M250.0 209h6.3M225.6 215h12.7M238.3 215h4.5M295.5 179h11.3M297.3 187h12.3M285.5 191h12.1M282.3 195h9.0M291.4 195h13.5M282.5 213h8.6M333.7 187h5.1M318.6 189h6.1M331.6 195h4.6M325.9 205h6.8M314.4 207h5.8M356.8 189h3.1M343.4 191h4.1M330.8 203h11.5M350.8 207h0.8M330.4 211h14.8M361.4 191h4.2M365.6 191h8.9M374.5 191h9.9M364.4 193h11.7M384.1 207h1.4M373.6 219h2.5M382.8 219h4.3M399.6 195h15.0M416.5 197h1.3M404.6 207h7.1M419.1 219h4.7M443.6 193h4.9M444.8 199h12.1M444.4 211h9.3M448.9 215h1.0M493.8 193h3.6M484.4 197h7.7M475.3 199h5.2M45.2 247h9.3M42.9 253h8.1M10.1 255h12.8M30.0 259h9.9M39.9 259h14.0M54.0 259h2.9M45.4 263h10.5M74.7 231h14.5M77.2 235h8.3M67.8 239h5.7M95.3 239h3.3M138.6 239h10.7M86.6 241h10.8M101.7 243h4.3M70.1 247h11.0M73.5 251h5.7M101.2 251h7.6M129.8 251h5.6M89.2 255h1.4M120.0 255h9.5M123.8 259h16.0M120.9 263h6.5M127.4 263h7.1M91.7 265h13.7M143.0 265h0.3M107.7 223h15.1M123.3 225h0.3M162.3 251h7.0M174.4 223h5.3M179.7 223h13.4M180.4 229h8.1M177.0 235h9.7M178.9 259h10.4M223.2 227h12.9M213.8 229h11.2M231.6 231h3.8M208.4 235h4.3M220.8 237h9.3M209.6 239h15.7M226.2 247h1.9M200.3 249h11.1M199.6 251h8.4M217.3 259h6.7M252.3 239h3.3M233.4 251h11.0M225.9 255h8.8M264.8 251h0.9M279.1 239h2.9M258.2 259h11.9M314.6 225h5.7M319.8 227h4.3M317.4 233h3.9M296.0 235h4.6M300.6 235h10.5M283.8 247h5.3M302.5 247h8.4M310.1 249h1.8M294.2 251h10.9M319.5 259h4.3M348.8 227h8.3M341.2 243h13.3M348.7 255h11.3M345.2 259h11.0M380.9 243h6.0M366.0 253h10.8M380.1 259h6.6M387.0 237h13.0M416.0 239h9.9M410.1 241h10.7M404.0 251h11.5M383.5 263h11.9M413.4 263h7.2M470.9 233h6.8M442.6 243h13.6M447.1 255h1.9M473.3 223h5.8M491.1 223h4.8M471.6 227h6.6M472.8 231h7.8M480.6 231h5.3M29.1 301h7.8M13.1 307h16.0M35.3 311h8.5M50.3 285h9.8M47.0 287h13.9M41.8 291h9.4M50.7 299h10.9M76.5 279h12.4M88.9 279h13.1M105.8 279h4.4M83.3 287h6.2M87.2 297h7.1M94.4 303h11.0M96.1 307h4.1M102.0 311h1.4M108.8 283h6.4M113.9 287h7.9M126.5 287h5.4M100.6 291h9.7M118.3 291h9.9M97.6 295h5.3M100.8 299h10.6M110.6 303h12.5M97.3 307h15.6M133.9 307h5.6M89.4 311h11.3M100.7 311h9.7M140.3 271h6.5M130.1 279h10.5M137.3 313h8.2M167.2 291h4.7M171.7 307h4.5M205.2 311h9.7M229.5 299h10.3M239.8 299h9.7M250.8 299h10.5M246.9 307h7.8M207.9 311h11.2M239.4 311h14.2M273.3 301h5.5M275.6 305h6.1M267.9 311h5.5M282.7 291h5.5M280.5 295h7.1M280.9 299h6.6M280.7 303h14.9M315.2 303h8.1M310.9 311h8.8M347.0 291h9.9M354.4 295h9.6M358.4 303h5.4M347.1 311h7.2M354.3 311h11.6M339.9 313h12.7M368.3 281h11.1M362.9 283h11.5M374.4 283h7.3M377.1 307h7.2M406.9 283h6.2M394.1 287h14.2M435.7 301h6.0M399.3 307h5.3M436.0 307h9.9M394.3 311h7.0M475.4 287h8.7M459.0 291h8.5M460.5 301h0.8M36.4 321h5.0M27.0 323h15.9M23.1 327h13.6M10.4 355h7.0M53.4 343h5.3M50.9 347h4.1M50.3 355h8.4M32.3 359h7.7M47.4 319h5.2M49.8 331h8.2M41.2 335h7.9M49.1 335h11.0M53.0 343h10.4M42.4 347h5.5M47.9 347h13.2M42.0 349h4.4M42.3 351h6.7M79.5 331h12.0M91.5 331h3.0M76.7 335h5.2M90.2 339h2.9M83.6 351h5.0M68.1 359h6.8M79.2 361h6.5M93.9 331h10.2M93.1 335h9.6M109.9 343h4.7M99.1 359h11.6M141.5 317h5.2M150.0 323h4.1M144.4 331h8.0M138.6 337h2.2M127.1 339h7.9M133.1 351h3.7M188.7 335h14.0M188.5 339h14.4M162.0 351h5.8M171.3 359h4.0M188.3 359h11.1M187.0 361h10.6M228.2 321h8.1M203.4 323h15.2M230.8 327h3.6M193.2 347h11.4M215.7 347h6.0M210.5 359h7.7M251.9 331h12.1M248.2 347h7.3M227.6 359h4.1M231.7 359h13.2M279.0 323h6.6M280.7 335h8.6M270.7 353h5.8M254.4 359h11.8M308.5 317h8.3M315.8 331h6.8M289.8 355h10.8M311.9 359h0.7M327.8 339h5.7M332.6 347h13.3M350.0 351h5.2M361.7 331h15.1M371.6 335h13.2M361.4 343h14.8M380.3 343h2.5M361.3 347h14.4M358.9 351h7.3M366.1 351h4.7M354.6 355h15.8M370.4 355h6.6M365.8 359h6.1M379.9 361h5.4M408.0 317h6.4M418.3 319h0.3M420.6 325h1.6M384.3 335h7.7M396.6 339h7.3M401.7 343h0.6M387.6 351h10.8M402.0 359h5.8M435.8 319h9.7M443.9 325h7.8M439.0 327h12.0M442.8 329h11.3M433.7 333h4.2M434.5 335h12.0M419.8 339h4.5M428.7 339h9.5M418.0 343h6.4M417.8 347h15.1M442.0 357h1.5M480.9 321h4.1M466.7 323h15.8M478.5 327h8.6M462.5 335h4.9M467.4 335h10.1M463.0 343h4.7M467.9 353h3.6M536.6 47h12.8M535.3 51h15.1M536.7 53h10.9M540.4 73h2.2M559.8 73h2.0M574.4 35h11.4M585.8 35h3.1M586.3 55h12.8M578.7 63h2.0M595.0 67h14.1M580.5 69h4.3M621.7 53h4.7M599.8 55h13.9M610.8 69h7.9M616.9 75h3.3M651.0 63h1.5M633.5 67h7.2M656.2 43h5.5M657.1 63h4.2M651.8 75h9.4M679.9 53h2.8M675.8 55h7.1M679.5 57h4.3M677.1 75h4.3M706.6 69h2.1M676.5 71h12.1M695.3 75h3.6M812.6 39h4.1M808.3 55h9.7M807.4 59h9.8M809.2 63h6.0M829.9 43h6.2M834.2 45h2.0M825.7 47h9.5M819.8 61h7.3M815.6 67h15.4M839.8 39h9.5M838.3 51h14.4M868.4 67h6.4M883.2 71h3.4M860.0 77h1.5M874.5 55h10.8M886.2 59h6.2M880.4 71h9.5M870.1 75h10.0M884.8 43h5.4M885.2 51h5.0M907.3 35h1.6M896.6 55h6.0M902.5 55h6.0M897.7 59h11.0M905.9 65h3.1M908.6 47h3.0M903.2 51h7.2M899.1 55h11.8M923.0 59h1.0M950.0 59h9.2M905.9 67h7.8M947.2 67h5.6M936.0 71h8.4M963.3 71h1.2M898.5 73h8.9M925.2 75h12.2M943.9 75h8.5M950.9 37h4.0M951.8 43h0.6M946.9 45h6.4M931.0 51h4.8M935.9 55h6.7M967.1 35h5.3M972.4 35h3.5M975.6 55h9.6M968.2 71h9.8M999.9 45h6.5M559.3 85h2.3M558.5 87h2.7M554.1 99h2.6M582.6 103h8.9M626.3 93h3.3M615.3 95h10.5M608.9 103h10.2M601.8 115h10.5M623.2 123h5.2M630.6 99h5.1M629.5 107h6.6M634.9 123h5.5M651.5 89h10.5M677.8 83h2.5M674.7 87h6.4M673.7 107h4.4M678.7 107h11.0M671.4 115h8.5M656.8 119h4.9M673.3 119h8.5M698.6 119h7.6M810.8 107h4.9M802.2 123h5.1M828.2 83h8.2M828.5 91h8.9M844.8 91h6.3M842.2 99h9.0M844.4 103h7.0M841.5 115h11.3M852.8 115h0.5M862.3 87h4.3M857.4 111h4.4M869.2 99h14.3M871.0 103h8.9M870.4 115h9.6M880.0 115h6.0M896.0 99h8.3M898.5 103h4.6M900.1 107h5.3M812.2 115h10.9M811.5 123h13.3M916.4 83h5.0M908.3 91h14.1M908.1 109h6.8M905.9 111h9.0M905.6 115h4.8M909.1 123h7.9M938.0 91h11.4M933.6 93h9.4M929.7 95h15.6M930.3 103h4.3M939.6 107h4.8M962.6 99h6.0M967.7 105h5.4M975.4 107h1.6M943.8 111h11.6M940.6 115h12.7M961.9 115h6.6M979.9 121h4.0M993.8 103h4.7M989.4 111h7.3M535.5 147h8.5M528.4 159h5.9M532.8 163h12.1M532.1 171h8.8M583.2 143h5.5M576.7 147h14.6M574.6 155h11.7M574.1 171h7.8M612.8 131h8.8M621.6 131h13.4M629.9 135h5.8M647.5 135h1.7M607.0 139h12.1M606.9 151h12.6M643.5 155h10.4M602.8 163h10.9M624.9 163h5.7M639.9 163h12.5M601.5 165h9.4M636.1 167h9.6M645.3 169h7.1M597.3 171h5.7M603.0 171h6.0M637.5 171h9.0M685.3 129h0.5M681.6 161h0.5M652.0 163h6.3M654.4 167h14.2M699.9 165h4.8M704.7 165h3.4M682.8 167h4.2M808.8 147h7.5M804.5 159h7.7M803.6 163h11.4M806.0 167h6.4M802.0 171h7.5M819.4 147h5.1M825.6 143h10.2M829.4 167h4.2M829.5 171h6.6M847.4 135h3.4M850.6 139h2.8M845.7 171h6.2M859.6 131h9.7M860.9 143h8.0M879.9 135h11.5M883.2 139h9.0M879.5 155h10.3M886.4 163h5.2M877.5 167h7.5M896.2 135h9.7M899.9 133h6.4M896.6 159h6.6M920.0 135h14.4M971.6 135h12.5M912.1 139h10.1M939.4 139h13.0M952.4 139h6.4M910.4 143h12.7M924.9 145h10.3M906.3 147h6.9M914.3 151h9.3M912.9 155h8.4M935.8 155h5.7M945.8 155h10.9M973.0 157h4.8M937.7 159h14.2M964.3 159h13.5M953.1 161h4.1M911.6 163h8.7M957.8 163h11.8M986.3 131h5.5M991.8 131h9.8M986.4 135h15.8M1004.6 137h0.7M997.6 141h3.3M984.0 147h7.1M542.6 179h5.2M547.7 179h8.1M539.6 183h7.5M536.6 187h4.3M541.5 197h2.3M534.1 215h6.1M589.6 179h9.4M595.6 185h5.9M576.8 195h8.0M579.0 215h5.1M603.1 191h15.1M606.6 199h13.4M620.4 201h0.5M594.2 203h8.8M619.7 219h8.4M646.6 183h5.9M647.8 195h4.6M646.8 207h4.2M655.9 187h6.8M659.0 209h5.0M686.6 177h9.1M666.8 187h8.0M664.6 191h12.5M662.6 195h13.0M674.1 203h10.7M695.3 215h7.0M743.3 183h7.0M723.0 195h15.1M738.1 195h2.7M722.5 211h4.8M712.1 215h4.6M765.6 181h12.6M762.5 187h12.3M748.2 199h7.3M755.5 199h13.6M754.2 209h6.3M761.7 213h4.2M747.3 215h12.6M759.9 215h8.4M771.3 215h6.4M801.5 179h7.4M779.4 183h13.5M799.9 187h5.1M805.0 187h6.9M803.3 195h9.9M787.7 197h4.4M785.1 209h1.2M799.3 209h8.1M816.7 203h7.3M812.4 207h8.8M816.9 217h8.8M834.2 199h7.0M830.6 219h7.1M857.6 191h1.0M846.5 195h11.9M851.3 197h4.4M887.1 187h7.0M889.7 203h5.4M895.7 179h11.7M920.1 185h4.8M951.2 185h6.3M924.2 187h0.7M938.5 189h5.5M900.7 191h6.6M907.2 191h14.1M946.0 193h4.1M901.1 195h4.1M961.3 195h0.6M930.0 197h11.9M959.1 197h2.3M922.9 199h15.6M911.9 205h4.3M896.0 211h5.5M961.3 211h4.3M951.0 213h3.1M928.1 215h4.9M981.6 179h9.4M976.5 187h7.4M996.2 187h12.6M1003.7 189h4.9M993.5 191h7.7M995.6 195h10.4M990.8 203h9.5M535.8 257h12.3M552.8 255h8.3M553.2 259h10.4M588.8 239h13.2M602.0 239h9.0M584.3 243h11.2M579.7 251h9.9M596.5 251h10.0M589.3 263h4.8M623.7 243h3.4M618.0 251h9.9M646.8 223h3.8M646.3 229h7.2M641.5 247h11.3M642.1 255h9.6M665.8 233h4.6M666.1 243h8.7M654.7 251h11.5M657.7 259h5.3M658.2 263h7.1M692.9 239h4.7M691.3 247h0.8M699.9 253h6.1M696.2 255h7.2M721.2 265h2.3M736.3 257h8.7M739.4 259h11.8M772.2 259h8.0M773.3 265h6.3M795.1 251h14.1M784.4 259h13.0M815.9 231h7.0M830.4 231h8.4M836.5 235h3.4M826.3 247h12.5M826.4 251h10.7M838.2 261h5.0M846.3 243h4.1M846.3 255h9.6M858.0 263h0.9M864.4 239h3.8M857.2 251h5.3M890.0 241h4.1M882.8 247h14.1M883.6 251h4.9M912.3 227h7.0M911.9 241h10.7M922.6 241h0.8M907.0 247h12.7M913.6 255h4.2M917.8 255h6.5M945.1 239h8.5M945.3 243h7.8M932.2 253h10.7M939.1 259h5.8M972.4 235h8.2M980.6 235h10.7M967.2 247h7.3M970.6 251h8.0M1005.7 251h8.0M986.6 251h9.5M578.5 275h6.2M593.9 275h3.5M608.9 279h3.6M570.8 287h11.9M579.9 289h7.2M563.5 291h13.4M590.5 291h13.9M533.8 299h8.0M584.4 299h4.9M596.6 299h6.2M581.3 301h6.3M634.2 301h10.6M617.9 303h6.5M532.1 307h8.8M638.8 307h3.5M591.1 311h6.5M616.5 311h8.4M614.7 279h12.8M638.3 283h6.5M634.0 291h10.3M645.9 271h6.4M652.3 281h0.6M684.2 271h5.8M682.1 277h6.7M678.1 287h9.1M679.0 291h8.2M692.9 281h5.3M701.0 285h0.8M686.4 289h10.9M697.3 289h3.9M712.6 297h9.5M697.6 299h5.7M728.4 303h7.9M743.2 303h8.5M754.6 303h4.9M766.5 303h8.2M722.4 307h10.9M733.3 307h14.2M747.5 307h2.2M760.5 307h11.5M709.2 309h6.5M719.9 311h9.9M777.1 313h1.9M732.1 291h7.8M768.6 287h9.4M780.0 279h13.9M780.6 283h9.4M800.7 287h9.5M784.4 295h4.2M804.2 297h2.9M791.2 307h11.9M780.1 311h11.4M806.8 311h7.8M814.6 271h8.0M815.4 279h9.9M824.8 285h0.9M836.8 279h5.0M836.2 299h5.5M830.0 307h12.1M828.1 309h15.2M841.9 271h10.3M845.3 273h5.3M842.0 287h8.0M849.9 287h7.0M842.3 291h13.2M855.5 301h0.9M844.5 303h11.9M856.3 309h1.4M846.3 311h5.4M857.4 291h9.8M857.9 295h8.9M883.8 279h6.3M872.9 303h11.2M895.5 307h3.0M896.5 311h8.6M920.6 271h10.0M906.3 275h12.0M914.7 279h12.6M924.5 285h1.9M911.2 299h15.6M913.9 311h10.9M947.4 283h4.7M937.4 303h14.9M942.1 311h8.3M992.1 279h2.0M981.6 287h9.0M990.6 287h5.2M980.4 291h10.4M990.8 291h3.0M973.2 295h9.1M1002.7 287h7.9M1000.7 295h11.3M554.1 335h7.1M565.6 337h1.1M565.1 345h1.2M586.7 327h12.2M582.7 331h9.8M593.0 339h4.4M578.4 343h10.8M528.9 347h12.1M619.3 347h6.8M646.0 347h6.0M617.6 349h12.5M557.0 351h6.3M598.3 351h2.7M607.7 351h7.9M543.7 355h4.7M576.5 355h12.1M622.4 331h1.4M604.8 339h9.2M621.7 341h2.1M594.9 343h10.5M605.2 345h7.7M636.6 343h14.5M643.7 319h4.2M652.5 319h0.4M651.1 325h0.6M688.3 331h0.5M671.5 335h6.5M678.0 343h12.3M671.1 351h9.6M662.4 355h12.5M687.7 359h0.4M701.3 333h4.0M704.3 351h1.6M681.3 357h14.6M713.4 317h5.2M705.2 333h10.8M705.4 335h9.6M748.4 355h8.0M755.7 359h4.5M771.1 343h9.1M762.0 355h9.9M771.9 355h8.5M780.6 339h15.7M800.1 341h10.4M783.4 343h15.4M780.2 351h13.9M780.5 355h4.0M784.5 355h13.2M800.2 357h7.8M789.4 359h5.7M809.6 359h3.0M813.1 351h7.1M835.7 325h2.9M825.4 331h4.2M852.2 317h1.3M841.2 319h11.2M843.7 323h8.5M840.5 351h5.0M865.4 319h3.0M814.0 359h9.9M867.7 351h6.6M890.1 327h7.0M881.2 339h13.1M881.1 343h6.1M883.4 347h5.6M897.8 355h7.2M935.4 325h8.9M933.5 331h4.7M938.2 331h5.8M932.6 335h7.1M936.1 339h8.6M929.6 351h7.9M924.5 355h4.4M919.6 359h6.0M953.7 335h10.1M951.1 339h7.8M945.2 347h9.1M964.3 347h4.6M949.3 359h14.6M1007.7 329h7.5M1009.0 331h4.2M989.0 343h13.9"/><path stroke="#505050" d="M21.6 41h4.4M14.9 53h4.1M15.6 57h5.2M10.5 61h3.4M10.7 73h4.8M12.1 77h13.2M47.6 33h4.5M50.0 41h14.0M44.1 53h4.4M45.8 57h12.1M42.8 61h3.8M42.4 63h2.4M46.8 65h7.4M54.1 65h10.3M46.8 69h6.0M41.4 73h3.0M41.3 75h3.7M93.1 35h2.1M66.4 37h3.4M91.3 39h4.3M66.3 43h4.1M66.0 45h3.8M82.6 53h3.6M65.8 57h4.4M70.3 57h8.9M64.0 69h3.4M93.0 41h2.9M113.9 45h12.4M90.3 49h2.5M97.5 53h7.5M105.0 53h4.3M88.8 55h3.6M109.4 69h10.2M121.7 69h6.5M87.6 73h12.4M122.6 73h4.2M117.3 77h4.0M121.2 77h11.6M136.9 55h4.5M136.2 59h3.2M136.3 61h2.2M135.9 63h3.1M149.8 65h7.1M135.5 67h4.2M287.9 57h15.6M303.6 57h2.3M305.9 57h4.5M324.2 57h1.4M295.7 69h7.6M281.3 73h2.0M304.2 77h3.2M322.2 41h11.5M318.9 53h12.0M315.0 59h2.9M314.6 63h4.4M318.9 63h4.1M313.5 65h2.4M322.1 65h5.2M326.6 69h2.8M312.8 75h3.7M346.9 33h2.6M345.3 41h3.1M345.4 45h4.0M345.0 53h2.9M338.2 61h4.3M351.7 65h7.8M331.5 71h4.0M333.5 73h10.7M328.4 75h4.8M398.4 33h7.6M383.0 37h2.5M377.1 49h4.6M392.0 49h3.9M395.9 49h3.6M378.0 53h11.1M389.1 53h4.4M370.8 61h4.0M389.3 61h4.4M368.5 65h4.0M365.6 69h2.3M365.4 71h2.7M365.5 77h11.1M408.0 35h4.1M408.7 45h5.6M414.3 45h12.0M403.0 49h4.8M413.5 49h14.0M401.4 53h4.7M406.1 53h15.7M421.8 53h2.0M399.2 57h3.9M403.1 57h9.4M402.5 61h8.8M437.5 45h2.3M452.6 49h4.7M434.7 53h4.8M432.7 61h4.2M435.0 65h4.7M439.8 65h11.9M435.4 69h5.2M429.3 71h2.6M454.5 73h0.4M428.0 77h4.2M472.0 33h4.3M466.5 37h3.2M464.0 45h2.6M460.2 59h6.1M462.4 69h3.7M459.2 71h2.9M461.0 73h5.1M461.1 77h5.3M494.4 57h2.9M494.4 61h3.1M28.8 89h4.5M25.8 91h3.0M44.2 93h3.5M11.4 103h2.4M14.9 113h5.4M68.1 93h3.0M66.2 95h3.2M128.2 101h3.4M48.3 103h3.5M67.9 105h2.8M87.6 105h5.3M47.3 107h3.2M69.5 107h2.2M104.5 109h2.2M106.7 109h8.2M129.2 109h7.1M45.0 113h2.2M47.2 113h8.9M56.1 113h10.4M72.3 113h9.9M126.9 113h6.3M133.2 113h0.7M48.2 117h5.1M70.2 117h14.5M84.8 117h11.2M96.0 117h5.6M101.6 117h3.1M110.3 117h8.1M67.5 121h15.9M124.7 121h12.8M67.5 125h15.3M91.2 125h7.6M109.1 125h6.4M139.7 83h3.3M139.4 85h4.4M137.9 93h3.5M137.3 101h4.8M135.8 105h4.9M140.3 113h9.4M146.6 117h5.2M155.8 109h2.5M148.1 121h4.3M286.8 101h5.0M281.4 105h3.9M280.5 109h2.6M288.7 117h10.9M280.1 121h2.8M282.9 121h5.6M317.2 101h5.2M313.0 105h4.8M317.9 105h7.3M348.3 85h2.4M350.8 85h6.9M346.8 89h3.2M350.0 89h9.2M345.2 93h2.6M347.7 93h5.1M346.7 97h8.8M342.7 99h3.8M344.0 105h5.5M353.4 121h6.0M378.3 81h2.7M377.1 83h2.5M379.8 85h15.2M388.9 89h13.0M372.0 105h4.2M366.7 107h2.7M365.1 111h2.3M395.7 111h1.1M364.6 113h2.7M367.3 113h14.9M371.3 121h4.9M397.8 101h14.9M394.9 103h4.2M392.2 117h6.2M409.4 117h4.2M432.3 85h11.3M428.9 93h12.1M422.9 101h3.8M456.9 85h4.5M455.3 89h3.0M451.4 97h4.3M449.0 101h2.6M451.6 101h14.4M441.6 121h13.3M468.6 105h4.2M58.4 129h4.9M55.1 133h4.2M19.2 141h10.3M47.3 141h4.7M23.0 145h12.0M13.2 153h7.2M36.3 153h7.6M29.3 157h2.3M32.2 163h4.6M26.4 165h4.6M10.6 167h4.3M10.4 169h4.1M28.4 169h5.7M57.5 153h9.0M39.9 157h3.2M40.6 161h10.3M40.3 165h9.0M83.8 129h4.9M88.8 129h4.0M130.6 133h4.2M83.3 137h10.5M79.7 139h2.9M127.6 139h3.2M98.1 141h4.5M123.3 141h2.6M98.6 145h4.9M79.6 149h5.4M121.1 149h4.5M99.5 151h4.7M96.4 153h12.2M117.8 153h2.3M115.9 161h2.8M118.7 161h15.2M73.7 165h7.8M89.4 165h2.5M72.5 169h6.5M79.0 169h7.1M94.0 169h8.0M137.9 129h4.7M135.1 147h4.2M134.1 153h3.9M138.0 153h5.6M138.8 161h8.9M137.8 165h12.6M137.5 169h5.7M379.6 129h14.4M401.8 129h8.3M357.1 133h3.0M360.2 133h11.7M386.0 133h8.4M407.2 133h3.7M309.2 137h13.3M341.1 137h3.0M366.8 137h2.9M286.0 141h3.8M294.8 141h13.3M280.7 145h2.7M321.6 145h4.0M326.2 145h3.3M364.8 145h2.8M393.7 145h3.4M324.6 149h3.6M282.9 153h5.2M304.9 153h12.2M324.2 153h9.6M390.9 155h2.9M296.3 157h4.9M382.0 157h6.1M423.2 157h4.5M298.4 159h3.6M357.6 161h2.0M402.6 161h13.1M430.5 161h5.1M321.1 163h2.1M279.8 165h4.5M302.1 165h9.9M316.3 165h2.8M319.1 165h10.4M389.3 165h7.3M424.9 165h4.9M429.8 165h4.9M284.5 169h5.1M290.2 169h2.6M315.1 169h2.1M325.6 169h6.4M353.1 169h3.3M383.4 169h2.8M290.2 171h2.4M447.9 129h5.0M436.7 141h5.3M421.5 145h4.5M443.3 149h3.4M425.6 153h4.7M430.3 153h8.2M452.9 155h2.6M428.7 157h3.2M436.4 161h5.4M455.3 165h3.6M440.5 171h2.5M464.2 133h4.0M462.2 135h2.9M458.2 143h3.5M464.8 149h12.8M451.7 155h4.0M450.2 157h3.5M464.1 157h7.1M448.3 161h2.4M467.7 161h4.1M446.6 169h11.6M15.6 213h14.0M10.8 217h2.1M48.8 193h4.5M43.1 197h2.5M42.4 205h6.3M43.0 209h10.2M82.7 177h9.0M74.7 193h2.3M72.5 201h15.2M84.2 205h2.7M67.4 207h3.0M67.4 211h4.0M66.5 213h3.4M148.4 181h5.2M142.7 185h3.3M102.2 187h4.4M144.4 191h2.7M119.0 193h9.1M101.7 197h14.6M134.4 201h2.6M111.4 205h8.2M133.4 205h2.1M152.4 207h2.1M129.1 213h4.3M87.0 215h4.0M129.1 215h2.9M126.0 217h4.9M130.9 217h10.4M145.2 217h2.6M147.7 217h2.3M127.6 219h2.1M168.2 195h4.3M191.5 197h4.5M162.8 203h4.8M158.4 209h3.9M157.9 213h13.2M171.1 217h5.0M205.4 203h3.2M185.6 215h5.0M190.7 217h9.1M214.0 217h4.6M247.6 205h10.9M258.5 205h6.4M240.6 207h4.4M236.4 209h3.0M239.4 209h10.6M268.2 209h2.4M229.1 213h4.8M239.3 213h11.5M253.9 217h3.7M300.6 181h5.8M293.2 185h8.6M301.8 185h10.0M281.3 197h4.6M282.8 199h10.8M281.0 201h10.4M276.3 203h2.9M278.4 205h8.2M286.6 205h9.7M271.2 209h3.1M264.6 217h2.2M320.2 181h2.7M322.9 181h9.9M338.5 181h1.5M334.6 189h3.8M317.6 193h11.9M312.5 197h3.8M328.1 197h7.3M310.6 199h3.0M326.5 201h6.1M308.7 209h9.0M301.4 217h3.0M338.4 187h2.8M339.3 189h6.8M346.1 189h10.7M338.5 193h9.9M355.0 201h2.5M355.1 203h1.7M330.0 205h4.4M334.4 205h12.0M353.9 205h4.3M327.1 211h3.2M354.0 211h4.0M329.0 217h9.1M369.5 177h9.0M370.1 181h13.2M364.7 183h2.7M376.0 193h7.3M387.2 193h3.8M360.3 195h4.4M389.7 195h2.7M363.5 197h6.1M359.0 199h4.9M354.0 211h3.5M353.4 213h3.8M378.6 213h2.1M380.7 213h6.8M352.5 217h3.4M379.9 219h2.9M413.5 177h12.1M402.7 191h4.8M402.2 199h8.1M396.4 201h2.1M398.5 201h14.4M394.6 203h14.8M389.8 213h8.1M385.8 217h4.6M439.8 191h3.1M448.5 193h15.5M442.4 197h13.3M441.8 201h8.9M450.6 201h6.8M439.5 213h4.0M489.8 193h4.0M484.5 195h3.7M480.2 197h4.2M21.5 253h7.5M10.5 257h3.9M32.9 257h15.9M10.9 261h2.7M13.6 261h7.3M27.4 261h2.9M39.7 261h7.7M32.1 263h4.9M73.1 229h13.6M146.3 229h3.1M105.9 231h2.5M105.1 235h4.7M98.2 237h0.7M100.3 237h3.1M109.2 237h8.3M122.3 237h4.1M126.5 239h12.2M68.3 241h5.0M120.1 241h0.5M137.0 241h10.7M67.1 245h2.2M129.9 249h9.0M97.3 251h3.9M100.4 253h7.6M129.1 253h15.4M66.1 255h3.7M66.9 257h3.7M93.1 257h14.0M113.5 257h4.2M133.3 257h6.3M95.5 259h3.7M87.5 265h4.3M123.9 265h14.9M125.5 223h2.4M97.1 225h4.9M102.0 225h4.3M117.9 225h5.4M146.5 249h2.0M156.1 249h12.7M145.8 257h4.1M145.9 261h3.0M169.3 225h5.6M165.1 227h2.9M190.5 245h2.4M191.4 249h0.6M177.6 261h4.6M174.0 265h4.2M214.1 225h2.6M221.4 225h14.5M210.6 229h3.2M230.6 229h7.2M204.7 235h3.6M202.2 237h4.1M230.1 237h3.3M208.1 241h15.9M196.7 249h3.6M196.2 253h3.0M208.7 253h9.2M195.7 259h3.8M238.3 239h3.5M229.5 253h14.3M229.1 257h4.0M223.9 261h9.7M233.6 261h12.3M220.3 265h10.8M245.7 265h0.6M256.3 233h2.6M259.4 237h8.3M256.0 253h4.3M259.8 257h8.8M255.9 265h3.3M262.6 257h6.0M305.6 223h4.2M299.2 231h2.9M297.9 233h3.7M308.6 241h5.1M289.9 243h2.0M287.6 245h3.5M313.4 245h1.8M308.3 253h2.0M280.8 257h4.2M346.2 225h2.3M343.9 249h9.6M341.8 253h12.0M338.6 261h5.4M372.1 237h10.1M363.3 257h4.0M374.0 257h10.5M368.5 261h5.4M417.9 229h7.7M383.9 239h3.0M384.4 241h4.8M389.2 241h12.2M405.9 241h4.2M420.8 241h5.9M383.7 245h4.3M383.5 249h4.9M414.8 249h10.1M384.0 251h4.9M383.6 253h3.6M405.8 253h8.4M403.2 257h5.5M383.8 261h3.6M399.7 261h8.4M397.6 265h8.5M420.3 265h9.4M482.2 233h6.8M444.4 237h3.6M460.7 249h10.9M442.9 253h7.2M443.2 261h6.6M439.8 263h8.3M444.4 265h3.5M472.0 225h2.2M484.1 225h11.2M14.1 301h10.0M37.6 301h2.5M53.8 301h1.5M10.7 305h3.2M36.3 305h4.0M47.2 305h10.5M10.8 307h2.3M10.1 309h2.9M37.7 309h11.2M11.0 313h3.2M35.1 313h12.2M59.5 313h2.6M45.7 281h4.3M42.6 287h4.4M42.2 297h4.1M46.3 297h8.0M79.6 277h5.2M84.8 277h15.6M106.3 277h2.2M73.8 283h2.6M99.9 285h4.2M101.9 287h3.6M83.0 289h7.7M90.7 289h6.8M97.5 289h3.7M67.8 299h3.5M75.5 305h12.7M64.3 309h4.0M91.2 309h2.2M76.7 313h10.8M93.3 313h8.0M107.4 289h15.3M132.9 289h1.5M129.6 293h3.0M132.1 295h2.9M110.0 297h6.2M127.2 297h2.1M124.2 301h1.0M127.0 303h3.5M101.3 305h5.6M124.1 305h3.3M88.1 307h3.4M124.4 309h12.3M119.2 313h0.4M124.0 313h8.2M130.1 273h4.9M127.0 281h3.9M128.3 289h7.2M135.4 289h8.8M127.0 293h3.9M129.6 297h6.1M127.1 309h4.3M167.1 293h3.8M169.7 301h3.0M190.4 309h4.5M221.4 309h5.1M165.4 311h4.2M185.4 313h4.1M189.5 313h12.6M212.7 313h4.0M220.9 295h4.5M224.1 297h12.4M236.4 297h4.4M240.9 297h10.0M214.8 301h2.5M223.7 301h4.8M212.8 303h2.4M217.5 309h12.9M237.7 309h2.4M239.2 313h6.3M278.8 301h4.3M259.8 305h15.7M255.8 309h3.2M255.8 313h2.7M258.5 313h12.1M311.2 273h10.6M308.8 277h9.6M318.7 277h2.1M320.8 277h5.5M296.9 281h5.5M280.8 293h2.9M280.2 297h2.4M287.7 297h11.6M280.6 301h4.5M279.8 305h4.8M284.6 305h6.5M291.1 305h8.0M283.0 309h11.6M284.9 313h14.3M320.8 295h4.7M318.1 299h13.6M318.6 301h12.6M331.2 301h6.2M337.4 301h5.3M312.8 305h4.9M325.4 309h5.4M312.1 313h14.2M333.3 313h4.9M350.9 273h7.8M349.1 285h9.1M351.7 289h6.0M351.5 305h4.3M363.3 273h4.5M367.8 273h10.7M363.8 275h2.8M378.8 305h4.9M375.9 309h7.6M401.0 281h7.8M413.0 281h9.5M397.0 283h2.8M428.3 285h7.9M391.9 289h3.6M421.6 289h2.2M390.5 291h3.8M426.1 291h3.3M398.4 293h4.5M402.9 293h10.2M431.9 293h6.4M403.8 297h4.6M415.8 297h4.9M420.3 301h2.2M383.7 309h4.8M388.5 309h12.2M417.2 309h3.2M396.9 313h5.7M417.4 313h13.1M473.3 285h4.3M447.4 289h3.4M469.8 289h2.6M460.7 293h6.4M468.8 293h2.2M471.0 293h14.5M443.0 295h3.6M441.2 297h3.5M467.4 297h15.6M450.6 301h9.9M466.1 301h8.4M452.4 305h4.6M461.2 305h4.8M432.4 309h3.1M435.5 309h6.9M457.6 309h4.1M477.9 273h4.8M475.6 277h2.6M22.1 323h4.9M17.0 329h5.0M10.9 337h4.6M21.9 337h14.0M15.1 341h4.5M14.1 345h10.0M10.2 349h3.1M10.4 351h4.5M39.0 349h6.2M32.8 357h2.6M41.4 357h13.0M44.6 319h2.8M56.4 321h11.9M43.3 325h3.1M42.2 329h4.6M57.5 329h11.7M44.0 337h11.8M55.9 337h8.7M40.0 341h2.2M59.8 341h7.9M39.6 343h4.0M36.6 357h2.4M78.7 317h2.5M77.7 323h3.5M75.4 329h4.8M74.9 333h3.9M72.5 341h3.9M70.1 349h4.7M67.2 361h4.7M97.5 325h10.8M98.6 329h9.7M105.6 333h13.5M119.2 333h1.0M92.5 337h4.1M91.4 339h4.3M90.8 343h3.2M90.3 345h4.6M94.9 345h11.6M91.6 349h11.2M102.0 357h11.1M89.1 361h8.0M127.9 317h2.3M150.1 317h5.9M128.7 321h11.1M125.2 325h3.0M146.1 325h3.0M125.1 333h5.1M122.4 337h4.0M126.4 337h12.3M121.5 341h3.5M144.1 343h2.5M116.7 357h2.7M136.7 357h2.1M115.6 361h3.0M139.7 361h9.1M169.7 339h4.7M172.1 341h9.8M181.9 341h6.5M202.8 341h3.4M166.2 345h6.7M194.7 349h3.0M157.9 353h5.4M192.2 353h2.5M194.6 353h7.8M151.8 357h3.1M199.3 357h1.4M211.7 317h10.0M205.5 319h4.5M212.2 325h12.0M200.5 331h3.0M198.8 333h2.6M215.9 333h2.9M199.8 337h13.2M193.5 341h2.6M214.1 341h3.7M215.8 345h1.8M193.0 349h6.6M194.5 353h10.7M185.0 355h2.9M185.0 357h14.2M268.2 329h12.6M247.6 335h2.2M254.7 337h9.6M264.3 337h13.7M242.7 339h4.6M263.5 345h9.3M234.6 347h2.8M226.5 357h5.5M232.1 357h8.6M293.7 317h9.9M279.9 321h10.2M276.2 323h2.8M271.0 331h3.9M297.0 333h4.6M271.6 337h14.9M294.6 337h2.0M290.9 341h2.2M295.9 345h1.3M259.7 347h2.3M290.0 347h2.7M287.5 349h5.0M276.5 353h5.7M252.8 357h2.1M281.7 357h2.7M284.4 357h4.1M278.5 361h5.4M284.0 361h3.6M305.8 317h2.8M297.9 337h2.3M300.0 341h13.8M318.4 345h3.9M292.4 349h3.4M291.1 351h3.9M307.1 353h7.6M314.7 353h3.6M288.2 359h3.8M333.9 325h3.4M332.9 329h2.2M335.1 329h9.4M344.5 329h8.5M341.0 333h7.6M329.2 337h4.8M327.1 341h2.3M336.6 349h6.4M323.1 351h3.8M325.6 353h10.8M336.5 353h12.6M331.0 357h5.1M322.7 361h12.4M379.5 317h5.6M365.3 321h2.4M363.9 325h3.5M376.1 325h8.9M362.8 329h2.8M366.1 333h8.6M360.1 337h4.2M364.3 337h5.6M369.9 337h12.5M360.1 339h4.4M358.0 353h9.0M384.4 317h4.6M414.4 317h2.2M384.0 319h2.3M395.3 321h4.3M383.7 327h4.2M412.1 331h3.9M384.2 333h4.3M386.7 337h15.0M384.2 339h2.3M385.5 341h14.6M383.7 345h3.0M398.7 353h2.9M397.2 357h4.8M402.0 357h5.4M396.8 361h2.7M440.6 321h9.8M422.4 323h4.0M426.1 325h8.3M420.3 327h3.1M423.7 333h10.0M442.1 341h9.2M414.4 347h3.4M430.4 357h7.3M410.6 361h2.8M477.2 325h4.6M470.6 329h14.2M460.4 333h9.3M469.7 333h11.0M534.4 47h2.2M528.6 73h4.2M559.2 63h2.9M558.1 65h3.7M558.0 67h2.0M561.1 69h0.6M556.8 77h5.2M574.9 37h4.1M574.4 39h3.3M585.0 53h3.7M574.6 55h3.2M577.8 57h5.9M592.1 69h6.1M613.5 71h1.3M575.2 73h4.5M612.1 73h2.7M574.4 77h2.1M608.5 35h3.9M613.0 37h15.2M606.3 41h3.7M610.1 41h5.4M603.2 57h4.8M608.0 57h8.5M596.9 61h2.2M627.2 61h2.1M593.7 69h3.0M605.7 69h5.1M627.3 69h2.4M609.8 73h12.3M627.2 37h4.4M646.4 41h4.8M644.7 45h7.8M642.4 53h10.2M637.3 55h3.4M643.9 57h8.6M638.4 61h11.6M650.0 61h1.1M640.4 69h12.6M630.7 77h2.7M652.5 39h3.6M661.1 41h0.8M651.4 51h2.5M652.5 69h3.4M652.4 77h4.1M682.5 73h5.6M700.0 73h2.0M702.1 73h1.8M672.6 77h4.1M813.8 37h6.0M808.9 39h3.7M811.8 41h8.4M807.7 45h2.7M804.5 61h2.9M803.6 65h3.9M802.2 73h3.7M824.5 37h3.8M829.1 45h5.1M818.3 57h4.3M815.4 69h3.6M819.1 69h13.0M814.8 71h4.8M818.0 73h6.7M839.7 41h3.7M843.0 45h5.9M839.5 49h2.7M838.4 53h4.3M840.2 57h13.5M835.5 75h3.8M850.9 77h2.0M856.9 39h4.9M873.3 41h0.4M860.8 49h9.2M873.2 49h3.0M865.5 53h6.3M874.4 53h5.2M857.6 57h3.2M871.6 61h9.6M858.0 65h4.1M857.5 69h4.0M865.0 69h4.9M859.8 73h3.3M885.0 57h4.6M868.4 65h3.1M869.0 67h2.8M868.2 73h3.5M871.7 73h5.7M867.2 75h2.8M867.9 77h4.0M881.4 45h2.5M883.8 45h7.5M880.8 49h3.1M881.0 63h2.6M881.3 69h4.3M880.8 71h3.3M899.1 41h9.5M895.7 71h3.7M909.5 37h0.4M896.6 43h2.6M896.4 45h3.7M895.5 55h3.6M906.0 37h2.3M905.5 39h4.1M909.0 61h13.2M954.6 61h4.6M896.4 67h2.6M925.5 67h3.8M898.9 69h13.1M916.3 69h3.3M924.2 69h6.5M930.7 69h9.6M896.0 73h2.5M924.4 73h10.8M947.3 73h5.7M953.0 73h2.5M956.2 75h8.9M897.8 77h15.5M937.1 41h14.2M930.1 49h4.5M938.9 49h6.3M942.5 53h8.7M972.9 57h4.0M973.5 65h6.2M973.5 69h5.4M968.1 73h2.7M970.7 73h4.2M546.3 83h3.6M529.0 105h2.6M528.9 109h4.9M528.2 121h2.7M530.8 121h8.1M532.2 125h6.1M560.9 121h0.9M582.8 85h3.0M579.1 95h4.3M585.8 97h9.1M575.8 101h4.4M588.7 101h4.2M578.7 109h13.9M585.5 113h7.4M573.8 121h2.9M584.1 125h6.6M621.5 101h4.6M622.8 105h3.5M626.5 111h1.9M619.1 125h3.0M622.2 125h5.6M627.5 85h3.8M631.8 93h3.6M628.2 95h4.6M627.2 107h2.3M630.1 109h7.0M627.9 117h2.6M642.5 87h3.2M641.7 89h4.6M646.3 89h4.0M639.3 97h4.0M643.4 97h7.7M639.7 109h8.9M631.7 125h4.7M674.4 97h3.5M659.7 113h3.8M695.4 113h3.8M699.2 113h9.6M693.4 115h2.7M657.5 117h3.2M694.7 123h5.9M652.7 125h4.6M802.6 121h3.1M805.7 121h6.9M825.8 85h2.7M826.3 87h2.1M829.4 101h6.3M828.4 105h8.9M826.5 113h2.6M841.6 83h4.3M846.6 105h6.5M842.4 107h3.7M842.0 109h3.8M842.1 119h4.0M844.7 121h8.3M857.3 87h4.9M857.9 89h4.9M862.7 89h4.1M862.0 93h5.1M860.0 105h5.1M857.8 113h4.8M862.4 121h4.0M858.1 125h3.2M870.2 93h11.4M865.6 97h2.8M865.7 101h2.1M867.8 101h7.4M875.1 101h12.6M875.6 113h5.4M871.2 121h14.1M884.0 89h5.3M896.1 83h2.9M900.8 89h4.6M895.7 125h4.1M811.7 117h2.7M823.6 117h4.1M812.4 121h5.0M817.4 121h6.6M905.6 85h4.9M906.4 93h3.2M905.6 119h2.5M932.7 87h2.6M929.0 97h2.7M941.0 97h10.4M927.4 99h2.1M926.6 101h2.2M940.5 101h7.4M926.1 103h4.2M923.8 109h3.3M922.9 111h4.0M922.1 113h4.5M926.9 117h8.2M968.8 97h7.4M955.6 107h12.3M933.8 113h4.3M967.7 117h4.2M966.8 121h2.9M933.5 125h4.5M997.6 85h6.0M986.8 87h3.0M986.1 89h4.8M985.5 91h4.0M986.6 97h5.9M982.9 101h4.3M982.3 105h2.3M980.7 109h3.2M995.3 101h4.3M999.6 101h13.2M1009.6 105h4.3M535.0 141h4.1M533.7 143h4.1M544.6 171h2.3M578.4 133h4.1M574.3 135h3.0M574.9 137h3.4M578.3 137h6.2M578.5 141h9.5M577.2 145h7.9M585.1 145h4.9M578.8 153h7.7M591.4 153h4.9M574.8 157h2.2M577.0 157h10.6M574.3 167h3.8M610.9 129h4.1M620.1 129h11.4M646.1 129h2.9M609.3 133h4.0M609.3 135h3.2M611.2 137h15.3M637.3 137h5.7M610.9 141h12.2M606.0 143h3.4M640.4 145h4.1M607.5 149h11.3M630.0 149h8.8M638.6 153h3.8M624.1 157h11.4M600.2 159h3.1M641.2 159h2.0M599.0 161h4.6M609.4 161h12.0M598.0 163h4.8M610.9 165h4.5M624.2 169h7.2M675.8 131h3.8M675.1 137h3.9M673.1 149h3.6M662.8 153h10.1M673.0 153h3.9M665.1 157h11.3M652.2 159h10.9M663.1 159h9.3M654.8 161h6.3M661.1 161h15.8M654.4 165h14.1M652.3 167h2.1M656.8 169h12.1M690.0 161h14.3M692.2 165h7.8M685.5 169h12.8M808.6 133h4.6M813.2 133h7.3M808.5 137h2.6M811.1 137h7.7M807.6 139h4.0M811.7 141h9.2M805.3 151h4.9M805.2 153h3.5M808.0 157h12.0M812.2 161h8.9M806.0 165h13.9M825.0 129h4.1M825.3 137h3.3M828.6 137h4.5M825.9 149h2.9M830.5 157h5.4M825.4 169h3.7M844.2 129h7.3M846.6 133h5.3M842.3 137h2.4M844.6 137h7.1M841.4 141h3.0M842.0 147h4.3M842.4 171h3.3M858.0 129h3.5M857.0 131h2.6M857.1 141h3.4M860.5 141h8.0M857.2 149h4.3M858.0 153h3.6M856.9 163h3.4M860.3 163h10.9M857.2 171h4.0M882.7 137h6.2M876.3 151h3.5M875.2 161h4.2M872.4 171h4.6M896.0 137h4.4M900.0 141h4.8M895.3 145h4.0M899.4 145h5.7M894.3 153h2.1M892.3 165h3.5M900.6 165h3.5M891.5 169h2.1M895.8 129h3.0M899.0 137h7.3M896.3 145h4.5M895.9 161h3.3M908.0 129h13.0M941.3 129h1.7M953.7 129h12.4M909.9 133h11.1M921.0 133h6.8M927.8 133h9.1M937.0 133h4.1M969.5 133h4.0M973.5 133h4.9M978.4 133h6.6M906.3 137h4.8M948.6 137h8.5M969.7 137h3.7M942.0 141h6.5M948.5 141h12.6M905.5 143h4.9M906.1 145h4.0M935.8 145h4.4M905.5 149h4.2M909.7 149h11.7M947.0 149h11.1M910.4 153h12.3M955.6 153h5.0M915.8 157h8.2M953.9 157h4.4M906.4 159h3.3M914.8 161h9.6M928.8 161h4.9M958.3 161h2.0M960.4 161h4.7M928.7 165h9.5M905.5 169h3.3M926.7 169h4.1M949.3 169h4.4M987.7 133h4.7M983.3 137h3.2M541.4 177h3.7M555.4 177h8.2M535.4 185h3.2M546.7 189h5.3M529.4 193h3.6M527.9 197h3.4M531.3 213h10.1M559.7 187h2.6M551.2 213h4.5M555.6 213h6.6M549.6 217h3.2M574.3 181h2.9M578.7 185h9.2M584.4 189h7.9M574.3 193h4.7M574.2 195h2.5M573.6 197h3.3M573.8 213h3.1M574.6 215h4.4M604.3 185h3.6M611.6 189h11.2M601.1 191h2.0M620.9 201h3.2M596.8 205h12.5M618.6 205h3.1M622.8 207h2.1M616.5 209h4.9M602.4 213h12.4M620.1 213h5.3M647.9 181h5.1M642.9 189h4.2M647.2 189h5.4M646.5 197h5.1M646.6 201h5.0M643.3 205h3.5M646.8 205h5.3M642.8 211h2.1M642.5 217h2.3M655.6 177h8.3M655.4 181h10.2M652.3 183h3.3M655.3 185h7.4M662.7 185h2.6M657.4 189h6.6M651.6 193h3.8M651.7 195h2.4M652.6 201h3.0M651.8 205h5.0M652.0 209h2.1M669.0 189h9.4M663.2 193h4.9M688.2 193h3.6M664.5 197h8.8M673.3 197h6.0M662.3 205h15.4M677.7 205h8.7M666.3 209h14.5M690.6 207h4.1M693.7 209h7.3M688.2 211h2.9M685.8 213h2.7M683.1 217h2.9M709.2 189h2.8M730.2 185h8.2M725.6 193h6.8M716.9 199h2.9M711.2 209h4.8M747.5 197h2.3M748.2 201h8.7M737.7 209h4.4M765.8 213h4.7M780.2 181h3.9M803.6 185h5.1M796.8 187h3.2M788.5 189h6.9M780.4 195h3.2M796.6 197h15.7M791.9 209h7.4M780.5 213h3.9M780.5 215h2.2M780.4 217h2.8M812.5 181h4.3M812.3 185h3.7M811.7 189h3.8M815.7 193h10.0M812.2 205h3.3M820.2 205h4.9M811.6 213h3.5M822.5 213h4.1M826.0 179h2.2M825.5 185h3.8M829.3 185h12.3M826.3 187h2.3M825.9 191h4.0M837.9 193h5.0M826.1 201h2.7M825.6 203h4.8M829.8 213h11.5M841.5 177h4.9M842.6 179h2.5M841.9 181h4.4M846.4 181h7.0M841.9 183h4.4M842.2 185h4.9M847.1 185h9.3M841.5 199h2.3M842.6 201h2.7M845.3 201h10.2M841.6 203h2.8M845.9 217h11.7M841.6 219h4.9M857.3 181h2.3M856.9 189h2.4M857.3 193h4.7M857.2 203h2.6M861.1 213h6.7M857.0 219h3.2M882.1 177h4.2M882.1 179h2.9M883.0 185h4.8M887.7 185h5.5M883.0 201h3.2M886.1 201h6.8M882.1 205h4.8M882.1 209h3.9M886.1 209h9.2M885.9 213h6.5M926.6 177h2.3M930.2 177h4.0M943.4 177h13.6M918.0 181h9.1M896.2 185h4.6M907.0 185h13.0M930.2 185h13.8M944.0 185h7.2M968.3 185h4.7M952.8 189h11.7M896.1 193h3.0M966.5 193h5.3M905.2 195h14.0M941.0 195h6.1M899.0 197h9.7M925.2 197h4.7M961.4 197h3.0M949.3 201h10.5M933.4 203h6.2M933.5 205h13.9M914.9 209h3.0M945.1 209h5.7M916.2 213h7.6M935.9 213h15.1M963.5 213h5.3M895.4 215h3.2M945.3 217h6.8M956.8 217h5.5M895.5 219h4.4M979.3 181h4.6M975.4 185h4.9M996.6 193h10.6M1006.3 201h3.5M1005.9 205h3.4M528.2 261h2.4M545.2 265h6.0M555.4 251h2.0M579.7 251h1.5M553.9 253h4.3M558.2 253h12.1M577.0 253h0.5M568.8 261h2.1M546.8 265h3.7M568.3 265h4.6M591.5 229h3.6M595.1 229h11.6M587.0 237h3.6M585.7 245h4.2M579.0 255h3.9M582.0 257h9.7M579.5 261h6.6M625.3 241h2.4M621.0 245h3.7M617.4 253h6.4M616.7 257h11.0M606.8 259h4.2M644.2 225h7.9M642.1 227h2.8M642.5 235h3.1M642.2 237h2.9M646.3 241h6.1M642.4 245h3.3M644.3 265h7.9M670.5 233h12.0M654.0 259h3.8M680.0 233h2.9M677.4 245h4.4M685.8 245h6.6M676.8 247h2.8M692.4 249h2.9M675.6 251h4.2M678.4 253h9.5M697.5 253h2.4M694.5 261h8.2M687.4 263h2.4M689.6 265h9.5M723.3 245h2.1M714.7 261h4.0M741.3 249h15.0M748.8 265h9.2M770.5 253h10.2M764.4 257h4.1M759.8 263h3.2M758.4 265h4.5M780.1 249h4.8M807.3 265h1.6M815.6 237h10.2M811.7 241h3.2M814.9 241h6.4M812.4 247h3.6M815.7 249h11.3M812.4 253h3.9M816.1 261h9.0M814.7 265h4.2M829.3 225h10.9M829.3 241h9.6M838.9 241h0.9M826.3 245h2.1M828.5 245h13.2M826.5 249h4.8M846.3 225h11.6M846.4 241h11.8M842.5 243h3.8M841.5 257h3.3M844.7 257h12.8M842.1 265h2.4M844.5 265h10.9M860.3 225h7.0M857.0 231h3.2M857.8 233h3.7M857.7 235h3.0M857.0 243h2.7M857.1 245h2.6M861.7 253h5.2M887.7 229h9.6M883.4 249h3.7M883.4 253h4.9M882.9 261h3.6M895.5 225h2.8M895.8 235h3.8M898.8 245h6.2M907.8 233h3.2M921.1 237h2.9M916.7 245h5.5M906.5 261h2.0M931.5 245h5.0M933.1 249h8.5M942.9 253h8.8M933.0 261h14.8M952.3 261h4.2M950.8 265h4.2M974.1 227h13.9M974.4 229h15.4M969.1 241h2.6M1005.4 249h2.1M577.7 273h6.4M584.1 273h7.2M600.1 273h4.2M564.2 277h4.7M598.7 281h8.8M562.4 285h13.5M589.6 285h2.8M592.4 285h11.7M556.2 287h4.5M588.4 291h2.1M567.1 293h13.6M593.5 299h3.1M619.1 299h4.1M529.3 301h3.3M547.8 301h14.0M563.3 301h3.6M592.0 301h14.5M615.6 301h4.2M564.1 305h3.6M589.0 305h10.3M614.8 305h2.2M648.7 305h2.9M616.0 307h3.7M644.3 307h3.6M586.4 309h2.5M603.1 309h5.9M611.7 309h3.8M589.1 311h2.1M556.4 313h2.5M583.2 313h2.2M621.9 313h7.7M626.2 277h1.1M612.6 281h2.7M612.9 289h13.2M607.3 293h4.4M640.8 285h5.4M633.2 289h2.2M630.2 291h3.8M628.7 293h4.9M645.7 293h4.7M642.6 271h3.3M642.5 273h3.9M642.2 285h2.6M643.0 289h3.2M642.3 293h5.0M647.3 293h5.9M664.4 293h1.7M663.1 297h2.8M664.8 301h1.2M660.6 307h3.7M658.3 313h4.3M679.7 271h4.5M678.2 273h3.0M677.3 279h4.5M676.2 281h4.1M673.7 297h3.9M695.3 297h4.5M742.0 297h6.7M676.6 301h14.2M676.6 305h7.8M751.0 305h2.0M697.0 309h12.2M715.7 309h4.9M672.7 311h2.2M724.0 279h14.0M723.0 281h3.9M721.7 283h4.9M720.1 287h3.3M774.4 281h2.7M768.8 283h4.1M767.8 285h4.3M766.5 289h11.1M760.7 291h2.4M780.2 277h4.7M801.8 277h7.3M785.3 281h5.5M780.2 285h4.3M784.6 285h8.8M779.9 287h2.2M780.2 289h2.4M802.1 289h8.6M782.4 297h5.5M808.5 297h2.6M780.1 299h4.2M810.4 301h1.2M780.6 305h2.1M787.1 305h8.4M795.5 305h8.2M803.7 305h2.0M805.8 305h4.9M788.3 307h2.9M780.4 309h2.1M802.8 311h4.0M783.8 313h6.8M790.6 313h10.0M812.6 279h2.8M812.6 289h4.2M812.2 295h3.3M816.0 297h10.9M812.3 307h3.1M811.4 309h3.2M823.6 309h2.0M812.1 311h4.7M826.0 271h3.7M825.6 285h4.4M829.9 285h9.8M826.5 297h2.9M829.4 297h6.7M826.3 301h2.4M828.8 301h4.3M826.6 307h3.5M842.4 273h3.0M850.6 273h6.1M854.8 281h4.1M841.9 285h4.9M844.1 289h12.0M841.8 301h4.7M841.7 305h3.5M842.1 309h3.9M857.8 271h2.1M857.6 289h4.0M860.0 293h5.4M880.8 279h3.0M896.2 281h1.2M880.8 285h2.5M883.8 297h9.5M868.1 305h3.8M867.1 307h4.1M871.2 309h9.6M871.5 313h14.2M895.7 275h4.1M895.9 289h4.0M896.4 291h2.8M897.7 293h6.3M895.8 303h4.9M899.8 305h5.3M921.1 273h12.1M906.0 279h4.6M906.1 295h4.4M906.2 297h4.2M924.0 297h3.6M945.7 279h2.7M944.2 281h3.8M940.9 293h10.2M930.5 305h2.9M975.9 271h3.8M975.1 273h4.7M988.2 273h10.4M976.8 277h8.2M972.4 281h3.3M975.7 281h8.7M975.2 285h6.5M970.5 287h3.3M970.5 289h2.3M970.0 291h3.5M1006.5 281h2.2M1003.9 285h10.8M1002.9 289h10.6M995.6 293h4.6M1000.1 293h12.9M1001.0 297h4.5M556.3 333h8.5M554.4 337h2.9M580.1 329h5.5M574.7 331h2.7M574.8 337h3.0M575.0 341h2.4M575.6 343h2.8M578.3 345h6.6M581.6 347h3.6M605.5 347h4.2M528.8 349h3.2M571.8 349h4.2M600.7 353h2.0M602.7 353h11.8M614.5 353h13.6M642.2 353h10.9M540.5 357h4.3M544.8 357h2.1M564.7 357h4.6M631.3 357h3.2M618.9 329h5.0M607.4 337h5.8M617.5 337h6.9M600.2 339h4.6M619.4 341h2.3M595.6 345h9.6M640.3 333h3.7M651.1 333h1.3M642.8 329h2.0M671.5 321h2.7M674.2 321h11.2M671.8 323h4.2M668.6 331h4.5M668.3 333h2.1M667.2 337h2.9M678.5 337h9.9M675.5 341h12.5M684.5 347h3.9M663.4 349h3.9M667.3 349h9.9M683.7 357h6.8M697.6 325h5.7M691.9 337h5.7M682.4 349h4.2M678.2 357h3.1M695.9 357h7.1M703.1 357h2.9M725.0 347h3.8M725.4 349h6.9M744.2 349h3.1M714.2 357h11.2M745.0 349h6.2M750.1 351h6.8M763.4 351h2.1M759.3 357h3.6M766.4 347h4.5M762.6 351h2.4M759.9 353h2.6M780.1 347h4.4M795.0 349h11.0M783.5 357h7.3M814.7 337h4.5M809.4 339h4.1M813.9 341h5.9M809.5 349h2.9M825.1 337h2.3M825.5 353h2.2M824.6 359h4.8M841.2 317h2.7M841.2 321h4.6M845.8 321h7.3M845.4 325h7.1M850.9 333h1.8M841.3 337h2.7M842.7 345h9.9M845.0 353h8.4M858.0 317h4.5M860.0 325h6.4M858.0 329h2.9M858.0 333h3.3M857.0 337h2.3M857.2 341h3.0M859.6 349h5.6M860.3 353h4.8M857.0 355h3.2M859.3 357h5.1M864.4 357h4.4M810.2 355h2.5M812.5 357h6.3M867.2 359h3.1M881.1 327h4.9M886.0 327h4.2M881.0 329h2.7M881.3 331h2.9M881.4 335h3.4M885.9 345h8.7M880.7 349h3.3M881.3 357h3.3M900.8 317h5.2M895.5 321h2.0M897.5 321h6.5M896.2 325h3.7M896.4 329h4.8M905.4 333h0.6M896.5 339h2.6M898.5 345h6.8M896.1 349h4.8M895.5 357h4.6M931.5 325h3.9M934.2 329h13.5M917.8 353h2.4M993.8 327h4.4M988.7 341h2.2"/><path stroke="#909090" d="M45.0 41h0.8M29.2 53h9.8M19.0 63h7.1M23.8 69h4.3M63.8 49h3.2M74.4 49h8.4M99.1 49h8.6M107.6 49h15.8M109.3 61h12.0M113.4 65h6.9M139.4 69h11.2M299.9 65h4.6M317.1 73h2.3M327.4 45h5.5M319.1 57h8.0M348.4 39h9.1M345.6 47h12.0M384.4 45h13.6M404.1 45h2.8M415.9 43h7.8M396.8 63h12.9M444.1 77h4.2M460.8 55h4.5M460.6 75h5.8M22.0 97h14.8M19.2 101h14.4M26.1 109h0.6M23.2 121h4.2M65.6 101h4.4M109.7 101h6.7M92.9 105h10.2M139.4 105h0.6M49.6 125h9.3M149.3 85h2.3M295.2 109h9.4M281.0 119h9.5M328.0 97h5.6M322.4 117h8.7M315.5 123h11.3M351.5 87h7.6M349.5 103h7.5M355.6 109h4.1M341.0 113h4.5M345.0 119h4.1M375.8 93h13.7M405.7 105h5.5M408.4 121h11.2M419.6 121h4.5M441.4 101h5.8M488.5 93h2.5M56.1 137h4.7M60.8 137h2.7M21.0 143h4.3M45.0 151h7.1M43.1 157h10.5M82.0 145h4.9M101.8 159h14.9M94.2 161h14.5M104.0 165h10.1M123.7 169h5.6M139.0 141h10.8M394.0 129h4.2M350.8 133h5.8M390.4 137h4.1M412.0 137h1.7M347.2 141h2.6M397.0 141h0.9M417.5 153h10.8M335.8 157h12.5M280.5 159h6.9M359.7 161h10.8M390.7 161h11.8M415.7 161h11.9M400.9 163h4.3M356.2 165h6.4M409.9 165h4.0M437.0 143h10.7M434.5 151h5.5M446.5 157h3.1M434.9 159h9.5M441.9 169h10.4M457.5 169h1.5M478.7 137h6.1M47.3 201h5.4M50.9 217h2.3M91.7 177h6.2M95.7 185h1.8M72.2 205h12.0M85.4 213h3.0M138.0 193h1.1M126.0 201h8.4M148.0 205h1.8M112.2 209h5.2M132.9 209h11.4M90.2 217h4.2M168.5 199h10.0M163.6 207h8.9M222.1 201h10.9M245.1 217h8.8M295.9 181h4.7M279.2 203h15.7M296.3 205h10.8M271.5 211h13.5M325.8 209h3.7M329.1 213h1.5M317.2 215h11.3M343.8 181h9.8M347.5 201h6.5M346.5 205h5.7M339.2 207h11.5M421.2 185h1.8M408.9 187h4.4M413.2 189h9.9M402.0 197h4.2M450.1 189h9.1M48.8 257h3.2M121.7 229h4.7M114.3 231h4.5M118.8 233h5.5M142.2 237h7.0M85.1 253h6.2M129.6 255h12.7M76.2 259h7.9M106.3 225h11.6M166.2 245h7.7M160.9 253h10.9M167.1 229h8.9M173.6 237h11.4M208.0 251h11.6M235.9 245h15.0M245.9 261h0.8M283.2 237h1.3M267.4 265h2.3M313.6 241h2.5M305.6 249h4.5M294.6 265h4.9M320.3 261h3.6M365.0 245h11.7M367.9 255h5.5M365.1 265h15.8M380.8 265h3.5M392.9 243h8.2M400.9 249h2.1M383.5 255h6.7M417.1 257h4.4M426.5 257h2.9M453.1 241h13.3M443.6 251h5.5M443.9 259h5.8M484.5 229h5.7M466.4 241h7.8M465.5 245h4.5M464.2 249h4.2M23.8 309h9.5M48.8 309h7.6M88.4 281h11.1M99.9 293h7.3M110.3 291h7.9M129.2 295h7.2M151.7 299h4.3M202.1 313h10.7M265.6 303h14.9M318.4 277h0.4M302.4 281h12.3M299.3 297h6.8M342.3 309h3.5M362.4 313h7.2M376.1 277h6.1M367.8 285h7.8M375.6 285h6.2M422.5 281h6.3M413.1 305h5.5M436.7 305h5.4M436.0 309h7.7M402.5 313h5.2M474.9 281h14.1M29.6 319h15.4M14.9 351h9.4M41.5 355h8.8M46.3 325h7.5M116.0 317h8.6M140.1 325h4.9M149.0 325h1.1M188.2 349h6.5M185.8 357h1.7M187.6 351h14.3M206.9 361h10.0M216.9 361h1.3M247.5 337h7.2M278.0 337h3.6M247.7 349h12.0M267.3 349h4.9M249.4 361h9.0M286.5 337h5.2M269.2 341h5.3M316.1 337h7.1M322.2 345h1.4M310.2 357h3.7M342.2 327h14.5M340.6 341h12.0M336.1 343h10.9M347.4 345h7.5M354.4 349h1.0M336.0 357h7.4M349.1 361h5.0M378.4 329h8.1M369.4 349h15.6M368.8 361h11.1M408.2 329h0.6M401.7 337h3.0M397.4 345h4.7M403.6 349h9.0M411.8 353h1.9M387.9 361h7.0M427.8 317h15.3M441.7 345h2.6M424.5 353h5.2M429.8 353h8.7M414.6 357h15.7M466.9 327h11.6M460.2 331h15.9M462.2 349h10.0M533.7 59h14.1M531.2 75h7.0M578.4 61h4.0M578.7 65h0.9M574.9 71h11.3M598.2 65h11.7M602.4 67h8.1M595.3 73h5.8M624.3 77h4.1M654.5 67h8.9M832.4 37h4.2M834.7 49h1.1M819.3 65h5.1M850.5 65h1.2M851.3 73h1.7M881.1 61h1.2M866.0 77h8.4M880.7 77h6.3M885.0 69h2.2M883.0 73h6.6M881.3 59h9.2M882.5 77h9.3M899.3 57h9.8M899.4 47h9.2M922.2 61h1.0M906.1 71h6.6M931.9 43h14.5M975.6 63h4.4M970.1 67h10.1M550.4 93h7.0M585.8 85h14.0M599.8 85h2.2M622.0 89h5.0M613.6 93h12.6M610.6 101h10.9M604.6 113h13.5M607.9 117h4.1M588.5 119h7.7M632.5 115h4.9M632.9 125h3.6M650.3 89h2.0M644.5 95h7.3M639.8 121h12.5M685.9 125h0.3M828.5 85h5.9M828.7 121h5.5M844.3 85h8.2M846.7 93h5.7M861.7 109h3.0M887.7 101h4.3M878.7 109h11.7M917.3 125h4.8M930.8 91h7.2M552.2 137h9.6M561.5 161h0.3M625.1 133h6.8M631.9 133h6.5M624.1 149h5.9M644.8 149h6.9M604.3 153h13.0M625.6 161h4.5M677.6 143h5.6M828.5 133h5.2M825.9 159h8.0M859.3 145h10.9M867.4 149h3.4M861.2 171h7.5M888.9 129h1.5M877.9 157h12.0M879.4 161h10.9M900.8 157h4.0M899.0 165h5.4M929.6 129h11.7M926.2 137h13.0M964.9 137h3.0M922.2 139h12.0M956.2 145h7.6M921.4 149h8.2M958.1 149h4.3M934.3 151h14.1M924.4 161h4.4M1001.4 129h10.7M549.9 185h8.5M553.4 193h6.7M561.1 193h1.8M561.4 197h1.4M574.6 207h8.2M622.8 189h4.2M595.5 215h9.3M663.8 201h2.4M688.2 181h0.7M680.5 185h12.2M711.0 185h1.1M784.2 177h11.9M798.2 191h6.6M780.3 199h10.1M805.8 217h3.1M823.4 197h4.3M837.8 189h4.0M843.2 201h1.1M862.0 187h5.5M862.1 193h5.7M860.5 197h5.8M890.4 219h6.7M920.3 189h2.7M967.3 189h7.4M899.1 193h7.0M921.1 193h1.1M908.4 201h6.0M901.3 207h13.2M908.6 209h6.4M920.9 211h12.8M968.8 213h5.7M933.0 215h11.3M908.0 217h3.3M937.4 217h7.9M573.4 249h3.9M576.7 257h1.5M561.4 261h7.4M605.8 225h7.1M604.9 265h10.4M623.1 265h4.1M692.6 241h2.8M676.8 261h12.8M725.0 257h6.4M751.9 253h11.0M768.1 255h6.0M794.0 265h13.3M814.4 225h12.4M829.4 223h5.2M862.5 251h5.2M888.2 253h8.3M887.2 263h9.3M900.2 233h5.4M898.9 249h4.9M914.5 235h11.0M919.6 261h1.9M942.6 233h7.8M947.8 261h4.5M989.8 229h6.9M973.1 239h13.4M556.8 305h5.7M530.9 313h7.3M651.2 281h1.4M646.4 273h5.0M645.4 281h6.9M664.6 309h1.8M681.8 279h5.0M733.0 299h4.1M743.2 301h7.8M751.0 301h1.6M735.7 309h13.0M709.2 313h4.7M742.3 313h4.7M800.6 309h1.4M836.1 297h7.1M859.1 285h5.4M898.3 309h6.3M910.6 279h4.1M921.6 289h4.4M948.0 281h8.3M945.3 309h7.0M993.8 277h4.1M973.9 287h7.7M974.3 297h11.5M554.0 339h8.6M544.1 353h4.6M609.7 359h12.2M630.3 343h6.3M647.3 339h5.6M738.2 357h4.4M779.3 345h0.6M812.3 333h7.2M828.6 357h8.9M818.8 357h8.1M940.1 353h5.7M956.1 337h14.3M1005.9 337h7.0"/><path stroke="#7ab37a" d="M20.0 43h5.1M44.8 63h8.0M70.6 35h7.2M66.6 39h8.0M74.6 39h3.5M92.3 55h3.6M294.2 59h8.5M415.1 39h6.6M406.7 67h5.5M148.5 95h3.5M311.2 111h4.4M315.5 111h5.9M474.5 95h8.5M24.7 135h9.0M97.8 167h3.6M103.2 171h8.9M393.8 155h8.0M65.9 215h4.5M342.4 179h3.7M189.3 259h3.7M244.2 259h3.6M309.8 223h3.4M302.4 255h4.1M388.0 247h8.9M468.5 243h5.5M189.0 307h2.9M225.4 295h5.1M448.8 287h8.9M43.7 327h1.3M136.8 331h4.0M143.3 359h3.0M174.3 351h5.6M193.6 359h5.1M225.7 355h4.4M376.8 331h6.4M431.8 319h4.1M419.3 331h7.3M442.9 331h5.0M547.3 55h5.5M574.9 63h3.8M592.7 75h4.5M608.3 71h7.2M627.2 35h7.7M642.0 35h5.2M676.0 47h5.3M691.2 75h4.1M812.9 71h1.7M852.8 51h1.7M849.7 63h4.2M871.8 47h4.2M860.3 55h8.3M857.3 63h4.2M869.2 63h7.6M872.8 71h7.6M908.7 43h3.1M952.8 67h3.5M583.6 119h6.3M588.7 123h3.7M641.5 107h5.6M700.6 123h1.9M895.5 111h8.1M945.4 87h4.3M935.2 107h4.4M932.2 119h5.1M987.3 103h6.5M980.6 111h8.9M1002.9 103h7.2M612.5 135h5.9M668.6 167h4.8M815.0 163h6.0M830.2 135h5.5M844.9 151h3.9M841.9 163h8.3M888.7 131h1.8M900.4 147h4.4M952.6 135h4.0M971.7 143h5.6M977.3 143h4.2M937.9 147h6.0M948.4 151h8.9M920.3 163h7.3M973.9 163h5.5M1002.2 135h4.4M528.6 215h5.5M585.4 187h3.6M646.3 215h4.9M651.7 199h7.6M675.5 195h8.7M658.2 211h7.7M701.0 199h4.5M714.3 211h8.2M733.0 219h5.6M808.0 199h3.2M811.6 199h6.8M837.0 203h6.9M826.3 207h3.1M826.2 215h5.6M837.6 219h2.0M855.6 207h4.2M859.3 207h3.9M890.1 199h5.2M974.9 187h1.1M952.0 199h3.6M999.8 199h4.2M557.5 251h6.9M582.9 255h6.7M585.3 263h4.0M779.1 263h0.9M834.3 227h7.2M838.8 247h3.6M846.3 227h7.4M845.7 235h3.8M884.7 223h5.1M899.6 235h3.8M903.5 235h1.7M971.2 231h3.6M986.5 239h3.1M981.4 243h7.1M582.7 287h5.8M529.6 299h4.2M608.5 291h5.6M651.0 275h1.6M650.3 287h0.8M737.2 299h5.1M672.8 303h8.1M718.1 307h4.2M829.4 303h4.9M895.8 307h6.8M908.3 283h8.3M926.9 299h1.2M942.3 291h6.0M1010.1 291h4.6M592.4 331h5.4M613.9 339h7.1M648.0 319h4.5M671.2 339h4.7M742.8 351h3.2M784.5 347h6.2M810.2 331h3.3M830.2 343h3.7M857.4 319h8.0M862.0 343h6.0M838.1 351h3.4M837.4 359h4.1M922.4 351h7.2M920.3 355h4.2M914.6 359h5.0"/><path stroke="#6e6e6e" d="M39.4 45h4.9M47.9 35h5.0M49.0 45h5.1M62.9 45h1.9M57.9 57h5.7M89.2 69h15.1M114.0 73h4.7M104.8 77h12.4M141.0 53h9.8M150.8 53h4.7M139.1 65h10.7M154.2 77h5.5M310.5 57h13.8M292.1 77h4.3M334.8 33h0.9M357.7 45h1.3M353.4 77h3.1M389.9 57h2.2M375.8 59h10.0M414.5 65h11.1M421.5 69h6.3M419.7 77h3.8M48.6 85h2.7M37.6 93h5.7M51.4 101h14.2M114.9 109h8.9M123.8 109h0.9M104.5 121h11.3M58.9 125h3.6M82.8 125h8.5M137.2 97h0.4M137.7 117h9.0M147.8 121h4.5M333.1 113h1.3M345.5 113h7.4M352.9 113h4.5M340.5 117h15.6M379.6 99h11.8M380.5 105h14.8M421.3 101h5.1M405.1 113h15.6M394.2 115h7.2M424.1 121h1.8M435.7 95h12.5M450.1 99h15.3M466.0 101h0.9M454.9 121h7.5M439.8 123h10.7M49.1 133h4.9M46.8 137h3.3M31.0 165h2.3M58.6 149h6.1M45.6 155h8.8M123.4 137h0.8M103.2 139h15.2M129.0 153h3.0M128.5 157h2.3M114.1 165h0.4M143.2 169h10.2M366.9 129h6.0M408.0 135h6.6M316.8 141h7.8M338.7 145h12.3M316.2 149h6.7M419.6 149h4.1M406.8 157h5.7M297.3 161h13.4M401.0 165h8.9M356.9 167h5.1M430.0 131h8.2M482.7 129h5.5M469.7 131h12.4M488.2 133h5.2M460.5 139h15.5M458.2 169h5.8M71.3 211h4.4M97.9 219h10.9M167.7 201h8.6M182.8 201h7.6M171.1 213h7.7M208.6 203h10.3M220.0 209h4.5M266.0 199h10.7M266.0 201h10.0M286.7 207h12.5M279.8 217h5.1M316.2 197h11.8M304.4 217h8.7M322.7 217h9.7M346.6 187h13.6M353.7 193h3.8M338.3 195h9.5M343.4 201h4.1M327.6 215h9.9M338.1 217h9.0M386.2 177h5.8M383.3 181h6.5M368.4 185h4.3M360.2 205h12.0M385.9 205h2.0M406.6 213h5.2M411.8 213h3.1M455.7 197h4.1M457.4 201h3.0M444.0 209h9.9M142.3 229h4.0M98.0 245h8.8M135.4 245h10.3M119.7 253h9.4M107.2 257h6.3M108.4 261h3.1M133.8 225h5.4M150.8 245h8.6M163.5 261h7.1M232.7 247h14.8M258.1 261h9.1M265.3 249h6.1M262.0 255h6.3M300.9 243h5.8M299.9 249h5.7M296.4 257h8.1M357.5 245h0.9M355.8 257h1.8M416.4 231h10.2M383.9 235h15.5M386.9 239h15.0M413.5 261h9.4M449.1 233h10.9M474.2 225h4.4M26.0 305h9.1M58.6 289h2.0M54.3 297h4.5M74.5 293h12.1M102.4 287h11.5M109.3 295h6.1M131.6 277h10.4M134.8 303h4.5M166.4 313h11.4M215.2 305h13.1M204.0 313h13.3M227.9 313h5.9M281.7 305h1.4M322.6 269h1.9M317.7 281h5.4M294.6 309h6.2M336.2 297h6.6M346.1 287h12.2M336.0 295h9.0M357.4 309h5.2M362.6 309h4.6M383.5 309h0.7M380.9 313h3.0M410.0 289h11.6M413.2 293h6.2M433.5 297h5.7M475.8 291h9.7M43.4 325h2.1M14.9 361h7.0M47.0 343h6.4M61.2 349h0.3M48.6 353h10.7M48.2 317h4.7M54.5 333h6.6M43.6 343h9.4M50.9 361h9.3M90.2 317h5.9M81.0 325h13.6M78.7 333h9.6M88.3 333h4.3M90.9 345h1.5M111.1 361h4.3M130.1 317h4.3M130.8 345h8.5M132.6 361h1.6M202.6 337h6.4M206.2 341h3.8M172.9 347h13.0M215.9 339h6.8M252.2 343h13.9M256.2 353h7.1M252.4 357h10.5M244.6 361h4.8M285.6 323h8.4M289.4 333h6.6M291.7 337h0.9M254.9 357h11.7M266.2 359h12.0M271.6 361h4.8M318.6 333h4.8M316.7 361h2.3M352.6 341h7.5M321.2 359h8.9M377.7 345h4.9M378.1 353h4.3M399.5 321h10.8M410.4 321h1.6M412.6 327h4.0M388.5 333h5.6M419.0 341h7.4M465.5 325h11.6M555.0 37h8.8M597.3 61h8.0M605.4 51h15.4M653.9 51h9.1M656.8 53h6.0M682.2 37h1.9M702.0 77h7.8M815.3 77h1.2M838.1 77h12.9M861.8 39h4.6M861.2 41h4.3M868.3 71h14.8M871.6 59h14.7M876.8 63h10.7M885.0 39h6.8M885.0 61h5.6M907.9 53h1.5M909.2 49h4.1M943.3 61h11.3M914.5 65h6.4M933.7 65h4.7M974.9 73h1.4M584.8 89h13.2M592.6 109h1.8M586.1 117h7.2M625.7 85h3.8M606.0 109h8.5M596.2 119h14.6M605.2 125h4.0M631.3 85h4.2M649.0 117h3.1M700.9 117h3.3M675.4 121h11.1M705.5 125h2.3M811.9 93h3.5M807.2 125h5.5M828.9 117h4.1M846.0 89h7.3M846.8 113h4.1M860.2 97h5.4M860.6 101h5.9M885.3 121h5.8M915.5 85h6.9M905.5 99h12.4M910.4 101h5.9M916.3 101h6.3M908.6 113h11.2M938.1 113h15.1M968.6 113h0.6M941.2 119h10.7M534.8 145h13.5M539.8 155h4.4M542.8 165h0.4M577.7 129h14.4M592.1 129h9.6M595.9 137h2.2M588.0 141h8.1M594.4 149h2.3M578.2 169h4.2M638.3 133h6.4M649.7 153h4.2M630.1 161h4.8M676.7 149h4.2M819.9 129h0.4M861.4 137h4.1M887.5 145h3.5M900.5 137h4.4M903.1 153h2.5M897.5 153h6.2M966.1 129h5.7M981.1 129h4.7M961.1 141h4.3M971.8 153h3.1M919.1 169h5.9M998.1 137h6.5M538.9 201h3.4M528.0 207h12.4M541.5 213h0.4M585.9 183h4.1M587.9 185h7.7M596.5 189h2.1M584.8 209h6.8M612.0 197h10.1M622.1 197h0.6M627.4 197h1.8M611.7 201h8.6M609.2 205h8.9M621.7 205h2.9M642.2 179h10.1M656.9 203h6.2M653.9 215h8.8M678.9 181h9.4M662.7 201h15.1M701.7 217h4.4M731.1 183h12.2M772.2 201h7.8M765.6 205h10.2M776.0 209h6.0M735.4 217h11.7M780.2 191h10.4M791.8 217h5.8M853.4 181h5.7M893.8 217h1.9M900.8 185h6.2M944.0 189h8.9M963.0 193h0.6M945.2 201h4.1M960.5 203h10.2M922.4 205h11.1M992.8 205h6.6M1006.4 203h6.0M530.8 265h14.4M566.5 265h1.8M594.8 241h10.1M589.9 245h9.7M589.6 251h6.9M600.8 257h1.5M651.0 249h0.7M679.2 229h4.9M670.2 245h4.2M692.7 237h2.4M679.6 247h4.6M698.0 257h7.8M719.0 257h6.0M760.8 257h2.0M801.2 257h9.3M831.3 249h9.2M855.6 233h3.7M850.3 243h7.5M846.9 261h10.2M886.6 235h7.7M885.0 255h9.8M903.5 257h2.1M898.7 261h6.5M913.1 261h6.5M943.0 257h9.8M986.9 241h4.1M984.5 249h5.0M589.1 277h7.0M553.6 293h13.5M612.4 305h0.5M534.1 311h7.4M651.3 313h4.3M615.1 285h11.3M644.2 289h7.8M633.6 293h12.1M662.6 313h3.0M683.0 297h8.9M690.8 301h1.8M684.4 305h4.1M764.0 305h4.5M677.2 309h9.6M692.5 309h4.4M737.5 285h3.4M787.9 275h10.4M784.8 277h5.2M782.6 305h1.5M814.5 301h7.5M822.0 301h4.1M822.8 313h5.3M829.7 271h11.5M845.5 281h9.3M846.8 285h11.8M861.0 277h6.8M910.2 277h5.9M916.1 277h13.5M926.0 289h0.6M930.0 307h11.7M592.4 337h9.7M592.0 349h6.2M628.1 353h4.4M628.1 357h3.2M682.2 333h6.1M669.2 357h8.6M702.8 353h3.6M679.7 355h15.0M761.6 345h3.3M775.9 341h4.6M802.5 345h7.1M828.6 317h10.6M833.9 349h4.7M829.4 359h7.8M861.3 333h6.3M810.5 351h10.1M822.8 353h2.5M870.8 357h11.0M896.1 343h8.2M899.1 351h4.4M935.5 323h7.0M944.2 325h9.5M926.8 335h5.8M929.6 349h12.6M930.6 357h10.9M976.8 337h2.1M997.9 329h4.3M1002.3 341h6.3"/><path stroke="#c4c4c4" d="M18.8 51h15.9M23.9 61h4.5M52.9 35h5.5M46.9 39h11.9M53.6 51h11.5M61.2 61h3.2M50.5 75h8.3M95.2 35h8.4M82.9 37h4.6M74.1 43h12.6M79.9 65h11.6M63.5 71h9.5M71.5 73h6.3M69.9 75h9.5M109.9 43h14.5M131.3 43h2.5M114.5 47h7.2M103.8 63h7.9M125.4 65h8.0M91.7 67h11.7M110.6 71h8.0M123.4 71h7.2M130.0 75h4.5M124.6 35h9.0M143.4 35h7.7M142.9 43h8.2M142.1 49h7.0M153.2 61h6.2M139.0 63h6.7M139.7 67h5.7M134.1 71h6.4M287.5 59h6.7M282.4 67h8.6M308.9 67h13.7M331.4 35h3.5M317.5 43h12.4M318.1 55h12.2M330.4 55h0.4M356.4 35h1.8M339.1 65h12.7M346.1 75h8.2M393.5 35h9.7M380.0 43h10.5M390.6 43h8.2M378.0 47h10.1M388.1 47h8.5M391.7 59h9.0M386.3 63h2.5M391.0 65h12.9M366.6 67h5.6M390.0 71h9.0M407.5 43h8.3M414.0 51h7.3M400.7 55h8.3M424.4 55h1.5M426.3 59h0.5M409.7 63h7.4M417.0 67h7.4M444.4 35h12.6M457.0 35h1.0M439.3 39h4.5M440.3 47h13.2M437.9 51h15.8M491.7 33h0.3M472.2 39h13.5M461.7 51h5.2M463.3 67h3.4M13.8 103h5.5M35.6 103h6.8M42.4 103h8.8M10.7 107h10.6M51.8 103h10.8M84.8 107h7.7M136.1 107h1.7M72.1 109h7.5M65.7 111h0.5M96.9 113h5.5M131.5 115h3.7M50.7 123h5.9M125.0 123h6.3M121.7 93h7.6M129.3 93h5.3M150.7 103h0.6M144.8 119h6.9M156.4 115h7.7M306.7 91h9.4M284.2 103h6.8M290.1 115h12.3M297.1 123h6.9M316.4 103h14.3M320.2 115h11.1M338.6 111h14.6M373.9 95h7.9M395.3 105h0.9M369.4 107h11.3M367.3 119h14.3M399.1 103h9.0M420.7 113h9.4M422.4 115h5.8M405.1 119h6.8M417.1 119h7.6M429.5 83h15.7M458.4 83h9.6M466.5 95h1.6M459.8 113h6.7M482.6 103h10.9M480.0 105h12.4M488.2 107h4.7M44.3 129h4.4M41.3 135h10.7M25.3 143h7.5M45.5 147h5.9M14.4 151h10.2M24.6 151h7.5M38.8 161h1.8M11.0 163h9.8M14.9 167h4.1M59.9 147h6.1M38.8 159h15.6M38.4 167h15.9M104.9 131h13.1M118.0 131h7.4M103.7 133h9.5M82.9 135h10.3M85.0 149h9.5M104.2 151h8.9M108.6 153h9.3M98.0 163h13.0M90.5 167h7.3M115.3 171h7.6M152.9 131h0.4M139.1 139h7.2M151.0 149h0.7M134.8 151h11.7M146.5 151h4.5M143.9 155h7.1M136.6 167h9.2M134.1 171h6.7M146.5 171h4.0M370.6 131h14.2M400.2 131h13.9M384.5 135h7.2M295.4 139h12.0M359.1 139h8.1M367.2 139h8.1M403.8 141h15.6M342.5 147h14.5M367.5 147h12.2M294.2 149h4.6M306.0 151h11.3M404.4 151h7.2M335.0 155h13.4M401.8 155h11.1M354.3 163h1.6M405.2 163h9.1M342.1 165h6.2M389.0 167h13.5M348.6 169h3.9M329.8 171h15.9M387.1 171h12.0M425.9 171h12.1M439.1 135h4.8M431.2 139h15.9M438.5 153h8.6M427.0 155h13.2M444.4 159h5.9M452.7 161h0.6M437.6 163h15.3M465.1 135h15.0M452.5 159h7.6M446.1 163h9.9M449.3 167h12.1M452.8 171h12.6M46.1 195h6.3M40.2 211h12.9M44.1 215h6.5M95.9 189h5.0M85.4 191h11.2M73.8 195h12.2M93.7 195h5.0M73.0 199h11.7M67.8 203h9.3M77.1 203h6.3M123.0 187h11.4M105.6 191h4.5M121.1 195h15.2M142.9 195h5.3M100.7 199h13.9M137.9 199h13.5M137.0 201h5.0M95.2 205h5.7M95.6 207h6.6M107.6 211h4.3M91.0 215h12.3M132.0 215h14.2M84.7 219h13.1M146.3 219h4.5M175.2 191h5.4M180.7 191h7.6M192.3 193h4.4M172.4 195h5.1M186.6 197h4.9M162.3 209h14.8M157.1 211h5.6M170.0 211h4.2M157.6 215h11.5M215.4 199h10.6M196.3 211h7.6M203.9 211h14.8M199.8 217h12.0M263.3 209h4.9M249.4 215h7.9M306.2 183h4.4M288.7 187h8.6M297.6 191h13.7M293.6 199h13.5M285.0 211h13.8M281.9 215h7.4M316.4 195h15.2M312.3 203h11.6M307.1 211h6.4M313.5 211h15.1M328.6 211h0.7M302.1 215h15.1M341.1 187h5.5M350.1 199h6.1M345.1 211h4.2M370.0 179h8.7M382.2 183h7.0M384.3 191h2.4M382.0 199h1.7M375.4 203h6.4M357.5 211h10.4M353.2 215h13.4M364.6 219h9.1M414.5 179h9.5M418.3 203h0.7M398.0 213h8.7M395.1 215h9.1M421.8 215h5.0M464.0 193h2.0M439.5 203h6.0M445.5 203h5.4M440.3 207h8.1M440.2 215h8.7M440.1 219h7.4M488.1 195h4.1M484.6 203h7.0M26.6 251h4.1M46.5 255h4.0M68.7 227h4.8M79.9 227h10.3M115.5 227h4.5M134.1 227h7.1M131.3 229h11.0M85.5 235h6.5M117.5 237h4.8M73.5 239h15.2M104.0 239h8.0M112.0 239h10.3M81.6 243h10.4M126.8 243h12.2M66.9 251h6.6M108.1 253h7.3M127.6 257h5.7M99.1 259h5.6M104.8 259h6.3M80.3 265h6.0M160.6 255h12.5M181.7 233h7.6M182.5 255h7.7M190.2 255h2.7M185.1 257h7.0M204.2 243h7.7M212.8 247h8.6M199.5 259h9.7M209.2 259h8.2M209.2 263h6.8M244.1 235h10.9M241.8 239h10.5M233.7 249h14.8M234.6 255h6.3M241.0 255h6.2M223.3 259h4.6M239.1 263h9.2M258.8 235h8.0M260.3 253h7.0M261.2 255h5.1M265.5 247h7.8M258.8 263h10.9M312.4 227h7.4M297.7 239h8.9M280.8 251h13.5M283.1 259h9.9M303.8 261h1.1M363.4 225h1.7M343.2 235h7.1M350.3 235h4.1M354.3 235h5.8M338.8 255h4.2M357.3 263h3.0M368.0 239h9.5M365.6 243h15.3M367.6 259h12.5M379.7 261h3.2M425.6 229h1.7M413.5 247h12.1M396.8 253h4.2M396.6 255h3.6M401.7 255h7.1M408.8 255h10.6M383.9 259h9.1M406.7 259h6.1M460.0 233h4.9M452.8 235h9.2M470.1 235h4.3M479.1 223h12.1M489.7 227h1.4M485.9 231h2.3M470.1 235h10.0M480.1 235h3.7M469.6 239h8.2M464.5 247h6.4M40.0 303h12.4M10.0 311h15.3M47.0 295h13.4M99.5 281h1.2M105.5 287h1.4M74.6 289h8.4M101.2 289h1.3M82.7 291h4.0M78.2 295h5.0M78.3 299h4.1M82.1 309h7.5M118.3 293h6.2M132.5 293h4.9M102.9 295h6.4M96.6 297h13.4M116.2 297h11.0M95.5 303h15.1M128.0 307h5.9M117.3 309h4.2M110.4 311h10.8M135.0 271h5.2M139.3 283h6.5M136.8 287h4.6M140.9 305h4.8M144.0 309h1.6M129.6 311h6.4M135.9 311h7.9M157.2 283h12.0M156.6 287h11.8M155.1 295h5.1M163.8 299h6.6M223.8 307h5.0M217.7 311h8.4M244.4 301h2.3M233.5 303h10.7M247.8 303h7.0M219.1 311h13.3M258.4 299h14.2M272.6 299h7.0M269.5 307h12.1M255.6 311h7.2M295.6 275h7.0M292.7 279h4.2M296.8 279h12.7M296.5 283h9.9M291.6 287h5.9M294.1 307h5.5M280.1 311h13.2M315.4 307h14.4M329.8 307h11.1M346.9 275h10.8M346.5 283h9.6M356.9 291h3.1M346.2 303h12.2M340.4 307h7.0M336.3 311h10.8M363.0 279h12.5M379.0 287h6.9M421.1 283h5.0M398.8 285h15.0M394.3 291h11.5M405.8 291h14.2M402.7 295h4.9M384.2 299h12.8M406.9 301h13.4M383.8 307h4.0M490.6 285h2.4M446.5 295h15.0M461.5 295h4.1M467.9 299h8.0M472.5 305h8.2M434.3 307h8.3M467.2 307h6.5M23.0 325h5.7M40.6 329h0.9M28.1 331h5.8M15.6 337h6.3M10.7 343h8.7M12.1 347h11.3M37.5 347h13.5M36.7 355h4.8M41.5 331h8.3M51.0 349h9.8M37.1 351h5.2M49.0 351h11.7M86.4 323h6.5M80.5 327h12.7M76.5 339h13.7M79.4 353h9.2M84.7 357h6.0M95.9 323h6.4M110.1 323h11.9M97.5 327h10.8M104.1 331h15.3M106.5 345h8.5M98.7 351h6.6M89.8 355h4.9M100.9 355h12.9M124.5 331h8.2M132.7 331h4.1M122.4 335h15.3M137.8 335h4.5M144.8 339h2.7M126.0 347h12.9M143.3 347h5.1M145.1 355h4.3M177.9 335h6.6M188.3 341h4.3M201.6 341h1.2M161.6 347h6.7M195.7 351h6.3M202.0 351h3.1M168.2 355h12.4M159.0 359h12.3M197.5 361h6.5M226.5 323h9.0M205.0 327h13.9M218.9 327h11.8M225.1 331h1.0M218.9 335h6.8M194.9 343h6.7M201.6 343h4.8M211.2 351h4.2M188.0 355h10.0M249.8 335h9.9M259.7 335h14.7M247.3 339h7.6M254.9 339h15.5M242.2 347h6.0M267.5 353h0.6M220.8 359h6.8M244.9 359h15.0M290.0 321h13.8M294.0 323h7.8M289.4 325h11.7M288.7 331h8.0M283.4 341h7.6M263.3 343h9.9M273.2 343h12.7M274.4 347h6.8M292.7 347h6.3M287.8 351h7.0M260.2 353h10.5M259.3 355h13.5M307.4 323h13.1M298.5 335h8.8M299.4 343h14.0M316.5 347h0.7M312.4 349h6.0M295.0 351h4.2M346.0 325h14.8M329.6 335h12.4M362.1 339h1.7M355.8 343h1.1M353.0 347h6.1M340.8 355h6.1M322.7 357h8.3M368.1 319h13.4M365.1 335h6.5M371.9 359h11.2M397.5 319h5.0M400.1 323h6.4M386.6 325h4.8M397.3 331h11.0M412.3 335h2.2M407.1 343h9.8M404.9 347h8.5M383.9 355h9.5M427.0 319h4.8M436.8 323h7.3M423.4 327h15.5M438.1 339h8.0M432.9 347h9.8M433.2 349h4.8M422.9 355h14.2M437.7 357h4.3M413.4 361h13.4M477.5 317h7.8M467.3 319h8.3M475.6 319h11.4M485.0 321h10.7M456.0 335h6.5M468.9 337h9.6M470.4 339h8.5M454.9 347h7.7M452.4 351h13.5M545.8 39h5.9M545.9 43h14.7M557.0 47h2.6M550.3 51h8.6M553.4 57h0.8M538.6 67h3.5M541.1 71h1.5M558.8 75h3.6M594.9 45h2.6M583.4 47h4.4M578.2 51h7.7M596.6 63h4.6M589.5 67h5.5M586.2 71h7.8M594.0 71h8.3M597.2 75h6.1M612.4 35h10.0M628.2 37h0.4M616.2 39h9.3M598.4 59h9.9M618.9 65h6.2M594.9 67h7.5M602.5 71h5.8M601.6 75h6.3M634.9 35h7.1M637.3 37h13.7M643.8 47h5.8M636.3 59h12.6M642.2 63h8.8M647.9 71h4.9M656.1 39h6.0M662.2 51h8.2M662.0 55h11.0M680.4 43h4.1M677.7 49h5.9M676.2 51h6.6M817.4 43h2.8M813.7 67h3.2M827.5 55h8.0M818.1 59h11.7M824.8 73h8.5M813.8 75h11.6M826.2 77h8.2M841.0 35h10.2M845.3 37h8.1M843.4 41h5.3M842.9 43h4.3M839.2 47h12.7M848.1 49h6.6M836.6 63h4.7M841.3 63h8.4M866.4 39h5.5M862.2 51h8.8M861.5 63h5.6M874.9 63h4.7M862.1 65h4.7M874.8 67h9.1M880.4 73h7.3M875.9 75h8.1M879.8 61h11.9M887.7 67h0.9M880.1 75h9.3M884.3 55h7.0M883.6 63h7.8M881.6 67h9.8M884.1 71h7.0M883.6 75h7.2M898.3 67h8.0M896.3 39h9.2M898.6 51h4.6M922.2 35h11.6M933.3 37h3.1M898.0 63h15.0M932.0 63h15.2M908.4 65h6.1M929.3 67h8.2M954.3 69h1.3M959.7 69h7.4M928.0 71h8.1M953.6 35h3.8M933.6 39h10.7M950.7 51h5.8M989.3 35h6.1M1005.4 47h2.6M550.0 83h4.7M541.3 95h7.4M547.7 103h3.5M528.2 119h13.8M559.4 119h2.4M601.3 83h0.4M580.6 91h14.2M575.3 103h7.3M614.2 87h10.0M607.8 99h6.4M592.0 111h11.7M632.5 83h3.9M627.3 115h5.3M627.8 123h8.7M644.0 83h8.7M644.1 99h8.3M637.2 107h4.3M635.6 111h10.1M641.8 119h4.2M652.0 97h9.6M673.9 103h5.1M678.1 107h1.4M679.0 111h9.1M696.1 115h6.9M667.8 117h4.1M812.0 83h4.8M808.9 87h7.3M811.0 91h4.7M809.7 109h3.5M804.4 111h10.1M808.2 115h5.5M829.7 99h5.5M825.7 119h9.2M845.9 83h7.4M846.5 111h4.1M865.6 97h0.9M861.8 111h4.0M860.1 117h5.4M865.8 119h13.2M885.7 83h3.9M881.0 87h9.4M898.3 115h5.9M823.9 121h3.7M918.2 97h4.2M922.3 105h1.4M908.1 119h12.7M949.7 87h8.7M928.9 101h6.5M934.6 103h11.8M926.8 111h10.2M937.1 111h7.9M932.7 115h11.7M957.0 95h7.9M950.3 103h5.9M933.2 111h10.6M955.4 111h7.0M989.9 87h12.5M999.4 99h1.5M984.5 107h8.6M545.8 135h14.8M541.8 157h4.1M574.8 159h5.0M579.8 159h7.3M581.9 171h10.2M635.0 131h9.5M618.3 135h11.6M619.1 139h11.4M609.4 143h5.8M646.4 143h2.1M608.3 147h6.5M635.1 151h3.1M640.9 151h10.0M650.8 151h2.2M607.2 159h15.2M643.2 159h6.2M613.7 163h11.2M630.9 167h1.4M646.5 171h8.9M652.2 131h5.5M657.7 131h4.8M651.7 143h4.9M674.9 139h7.2M689.3 159h11.1M815.9 145h3.9M810.2 151h4.7M809.6 155h9.4M809.4 171h11.0M824.5 129h1.0M825.9 131h8.5M828.4 141h6.7M846.6 153h4.5M842.2 155h4.0M846.2 155h4.4M845.7 157h5.6M845.2 159h5.9M850.2 163h1.4M857.7 139h12.3M861.8 151h4.0M879.6 159h11.5M873.9 163h12.5M876.9 171h6.0M898.6 139h4.4M894.4 151h9.6M903.5 155h0.9M897.8 135h6.3M895.8 151h5.4M900.0 155h5.6M895.4 163h9.7M898.6 167h7.0M896.4 171h7.4M952.5 131h7.5M957.1 133h9.6M966.7 133h2.8M906.5 135h13.6M923.1 143h6.5M945.5 143h12.9M958.3 143h6.9M923.4 147h7.1M941.5 155h4.4M936.4 157h4.5M909.7 159h5.5M915.1 159h13.9M960.2 159h4.1M1006.6 135h0.6M985.1 151h6.1M530.2 191h6.0M528.3 199h13.6M558.4 191h4.7M555.0 203h4.7M555.7 207h6.9M556.5 209h6.6M551.4 211h10.6M562.0 211h0.7M555.2 215h7.5M551.8 219h10.7M578.8 183h7.1M588.6 191h7.7M581.2 203h11.8M582.8 207h10.7M583.8 211h9.0M584.1 215h7.3M591.9 217h1.4M577.8 219h12.4M602.9 187h10.3M613.2 187h14.5M627.7 187h1.0M620.3 193h4.6M620.0 199h2.5M590.9 219h11.9M642.4 183h4.2M645.2 185h6.6M642.8 191h8.7M644.9 211h7.8M656.4 191h4.4M654.1 195h6.0M662.8 215h2.4M680.9 193h7.3M663.4 199h6.9M678.3 211h5.4M698.4 203h7.1M701.7 213h4.4M709.0 179h2.3M706.2 183h5.9M705.7 187h5.1M726.7 183h4.4M723.5 187h13.8M737.4 187h10.8M736.3 199h2.4M732.4 201h4.5M707.6 215h4.4M716.7 215h10.8M767.0 177h10.2M768.1 179h12.7M749.7 195h15.1M764.9 195h14.9M762.3 203h9.3M780.7 205h0.9M739.8 207h12.6M769.3 219h8.9M808.9 179h0.6M812.1 209h2.8M803.4 211h5.2M792.9 215h10.1M784.6 219h13.7M814.8 183h10.7M818.4 199h4.3M822.8 201h2.7M815.4 205h4.7M830.6 183h8.8M838.9 191h2.7M840.9 211h3.0M846.2 183h11.3M844.0 191h13.7M842.5 195h4.0M855.5 201h2.8M854.4 203h3.6M845.7 207h9.8M859.8 203h7.2M867.0 203h0.5M857.6 215h9.6M882.6 187h4.5M886.3 191h11.1M885.3 193h5.1M895.1 203h1.0M889.7 211h4.1M892.3 213h5.4M960.7 181h7.9M945.2 183h6.2M969.2 183h3.8M940.7 191h13.5M916.6 197h3.3M964.6 199h5.7M906.3 203h11.3M939.6 203h15.5M955.1 203h4.2M897.5 205h6.6M937.9 207h5.5M965.1 207h12.3M968.3 209h3.8M953.1 211h1.9M965.6 211h11.2M965.1 215h6.0M914.8 219h12.9M975.5 179h6.1M976.4 183h12.4M975.7 191h9.8M1003.5 183h9.0M1001.2 191h6.4M991.1 199h8.7M532.5 259h7.4M557.7 247h9.0M567.2 257h6.0M573.4 263h6.9M602.0 233h7.2M601.7 235h7.2M602.7 243h4.5M597.4 247h11.0M641.6 239h8.0M642.2 243h7.9M646.6 251h4.3M641.9 263h9.6M664.4 231h11.9M658.9 239h4.1M682.5 235h11.4M677.7 243h15.8M693.5 243h1.6M721.9 247h9.0M741.8 251h6.5M731.4 263h11.9M743.3 263h14.4M763.2 259h9.0M776.7 261h2.8M809.3 251h2.9M784.6 255h12.0M792.3 263h10.0M811.4 235h15.5M817.3 239h7.8M816.0 247h9.5M834.6 223h8.8M835.0 243h4.8M837.1 251h3.1M851.9 223h4.5M841.6 231h14.7M852.3 239h5.1M857.4 239h1.6M841.7 247h11.3M845.5 259h10.5M860.5 227h6.0M860.7 235h6.7M859.7 243h6.9M862.2 255h4.0M891.0 227h5.9M883.5 239h4.0M886.7 245h10.0M888.5 251h8.2M899.4 239h5.0M900.1 247h3.8M895.4 259h10.6M907.6 235h6.9M906.9 251h8.5M915.4 251h6.3M906.6 263h12.3M937.1 239h8.0M936.0 247h10.1M946.0 247h10.5M956.5 247h0.4M924.8 259h14.3M922.5 263h6.8M974.8 231h12.1M968.6 243h12.8M983.9 245h5.1M567.2 279h5.3M583.9 279h7.6M591.5 279h3.0M593.8 287h5.0M619.8 301h14.3M651.0 301h3.4M595.3 303h13.9M624.4 303h7.1M631.5 303h5.3M630.7 305h7.4M549.3 307h10.3M588.7 307h9.5M609.0 309h1.5M614.1 291h11.4M622.7 293h3.2M639.1 287h4.7M645.3 287h5.0M662.9 299h2.9M663.5 305h2.0M678.4 275h5.8M676.2 283h5.9M675.0 299h9.8M722.5 299h10.6M755.7 299h11.7M696.2 301h5.8M712.1 303h6.6M774.6 303h4.3M699.2 307h8.5M707.7 307h8.9M755.0 307h5.5M693.6 311h9.4M703.1 311h7.9M766.6 313h10.5M776.7 293h2.8M799.7 283h6.7M779.4 291h5.2M784.6 291h6.6M799.3 291h10.1M816.7 289h9.5M818.6 291h5.8M826.0 275h9.7M830.1 279h6.7M829.5 291h9.3M834.3 303h7.6M846.6 279h11.7M841.9 299h6.6M856.4 303h2.3M857.3 283h9.8M864.5 285h2.0M862.2 287h4.7M858.0 311h8.2M894.0 279h3.3M881.2 283h13.3M880.8 291h5.1M884.1 303h6.0M877.3 305h15.0M871.3 307h10.2M885.7 313h7.7M896.3 283h8.9M896.0 295h8.5M910.2 271h10.4M916.6 283h6.1M917.4 285h7.1M916.8 287h4.8M917.5 291h11.7M920.1 313h4.5M939.8 295h12.3M934.5 299h13.5M953.6 301h2.6M951.7 313h5.2M985.0 277h8.7M968.3 295h4.8M559.5 343h7.7M597.9 331h5.4M589.4 335h9.0M578.7 339h14.3M559.1 347h8.1M609.6 347h9.7M589.5 353h9.7M635.0 355h10.5M581.7 359h7.5M635.5 359h5.7M616.0 335h6.9M619.6 345h4.6M634.5 339h5.4M639.9 339h12.0M643.7 335h8.1M677.8 319h7.2M675.9 323h6.0M670.0 327h12.0M683.4 335h4.5M696.9 319h3.9M682.0 355h7.4M701.5 319h3.9M686.5 347h13.2M681.7 351h8.7M679.4 359h12.5M705.6 317h7.7M719.5 351h13.4M765.5 351h1.4M734.4 355h14.0M729.9 359h12.3M797.4 347h4.9M794.1 351h10.4M779.8 359h9.6M820.3 351h1.2M810.2 359h9.4M831.4 319h5.1M845.5 331h8.0M845.6 335h10.0M845.1 343h10.0M844.4 347h6.9M845.5 351h8.9M851.3 355h1.1M845.2 359h5.4M859.7 323h8.6M857.1 339h10.4M858.0 347h6.6M865.3 349h3.6M812.8 355h11.8M867.1 355h9.6M870.3 359h10.9M881.3 359h1.6M884.6 321h10.6M895.2 321h2.8M893.7 355h1.5M883.6 359h9.7M905.0 319h0.6M896.2 323h6.8M896.4 327h8.9M898.1 331h6.0M899.1 339h4.7M944.0 331h4.6M924.6 339h11.5M939.0 341h6.5M942.2 349h3.6M976.1 333h6.9M958.8 339h7.5M948.5 343h8.4M969.3 349h4.0M960.1 351h4.3M964.3 351h3.5M942.0 357h13.8M1009.1 327h6.1M992.6 331h6.4M991.6 335h12.0M1006.5 339h2.0"/><path stroke="#bababa" d="M34.7 51h5.7M13.7 75h8.1M56.6 43h10.5M45.7 47h14.5M55.6 55h7.7M52.9 69h6.6M65.0 63h14.9M73.0 71h4.8M62.8 75h7.0M79.3 75h7.2M101.5 47h13.0M96.8 51h12.8M109.2 53h4.6M102.9 59h15.7M95.9 71h14.7M140.1 51h11.0M140.5 71h15.0M161.4 73h1.0M140.9 75h6.2M291.7 71h10.2M280.2 75h4.7M322.4 39h10.7M316.9 47h7.1M323.9 47h5.3M317.9 59h9.8M323.0 63h8.1M315.3 71h10.2M316.5 75h9.8M345.9 43h10.8M357.6 47h0.4M345.1 51h8.3M339.5 59h12.2M351.6 59h5.6M340.4 63h11.0M351.4 63h5.0M359.5 65h0.8M343.3 67h5.0M335.4 71h4.7M349.8 73h5.2M354.3 75h1.5M388.6 33h9.7M384.9 39h12.7M398.0 47h7.1M379.9 51h5.5M385.4 51h8.4M378.3 55h9.2M385.8 59h4.6M375.6 63h4.1M372.2 67h6.8M368.1 71h6.1M391.6 77h6.4M426.9 35h1.6M406.2 39h8.9M403.1 47h14.9M401.9 51h12.1M412.5 57h8.2M403.0 59h13.3M393.7 71h13.3M421.6 73h2.3M397.4 75h14.2M435.4 63h6.5M446.0 63h7.4M431.9 71h8.3M472.1 35h12.0M467.7 43h9.2M477.0 43h6.2M466.0 53h0.9M489.4 63h8.3M37.8 83h10.9M20.9 95h6.4M17.6 111h11.3M69.7 91h15.1M63.0 99h16.0M91.0 101h11.7M74.9 103h5.7M100.7 103h4.2M115.4 103h8.3M65.0 109h2.1M118.2 113h5.8M70.6 115h6.8M57.4 117h7.5M54.2 119h10.6M68.5 119h12.8M61.5 121h2.2M46.4 123h4.3M66.9 123h6.4M73.3 123h14.8M128.7 91h5.5M123.1 95h9.3M142.7 87h7.8M136.0 111h15.1M137.7 115h12.0M157.0 107h7.0M162.5 117h1.8M285.3 105h8.5M282.2 115h7.9M315.6 109h10.0M306.2 123h9.3M355.5 97h3.8M346.5 99h10.9M353.2 111h4.9M356.1 117h1.4M339.4 119h5.6M333.6 123h15.2M368.4 115h14.3M440.1 91h7.7M441.0 93h5.5M424.4 95h11.3M432.3 99h13.1M440.0 105h7.5M454.4 91h7.6M452.5 95h14.0M455.7 97h7.7M447.7 119h14.3M471.7 99h10.3M474.7 101h15.1M473.4 107h14.8M53.7 139h5.4M35.0 145h5.2M20.3 153h11.3M13.9 159h8.8M52.2 151h13.1M54.4 155h11.5M54.4 159h6.7M61.0 159h5.4M39.0 163h11.6M112.4 135h12.3M126.5 135h10.0M118.4 139h4.9M130.7 139h1.5M106.2 143h15.4M113.0 145h8.2M112.5 155h5.3M125.9 155h6.8M126.3 163h8.0M70.0 167h4.3M101.4 167h6.7M94.8 171h8.4M138.7 159h13.1M147.7 161h3.0M150.4 165h3.5M371.9 133h7.4M379.3 133h2.8M328.8 135h9.5M376.9 135h7.6M357.4 145h6.4M304.4 147h15.6M399.2 147h5.3M404.5 147h5.0M409.6 147h4.9M420.2 147h4.6M340.0 151h7.4M296.3 153h1.1M361.8 155h16.0M287.4 159h5.7M302.0 159h15.4M322.0 159h13.1M335.1 159h9.2M317.0 161h1.7M281.0 163h11.7M358.5 163h14.2M284.4 165h7.9M317.9 167h7.4M438.2 131h7.7M447.6 143h1.1M440.0 151h5.1M437.2 167h7.6M460.0 159h10.6M33.1 215h3.9M14.4 219h4.2M50.5 215h2.8M82.7 179h9.6M92.3 179h5.8M79.0 191h6.4M70.5 215h11.0M67.9 219h12.1M119.2 179h5.2M124.4 179h9.1M140.1 179h5.9M147.5 179h3.8M130.5 181h12.0M109.0 183h12.2M126.1 183h8.6M134.7 183h8.0M106.6 187h11.4M118.0 187h5.0M100.0 191h5.7M112.2 195h8.8M114.6 199h7.9M135.5 205h6.0M110.2 207h14.8M92.5 211h15.1M120.3 213h7.8M148.4 215h5.4M167.6 203h13.0M172.5 207h5.5M162.7 211h7.2M166.6 217h4.5M151.1 219h5.6M218.9 203h12.7M191.9 213h11.3M190.6 215h7.4M206.0 215h9.4M257.4 199h8.6M255.8 203h4.4M266.7 203h4.6M245.0 207h8.0M252.9 207h12.0M238.8 211h6.1M244.9 211h10.2M242.8 215h6.6M308.9 177h4.5M292.8 183h13.3M274.7 207h12.1M299.2 207h4.6M303.8 207h2.3M287.6 209h14.0M268.5 215h13.3M334.7 191h2.5M323.9 203h6.9M320.2 207h12.9M353.6 181h8.3M335.8 191h7.6M345.2 199h4.8M342.3 203h10.6M331.4 207h7.8M341.2 213h6.9M352.5 215h4.6M364.7 195h14.6M371.0 199h10.9M372.2 205h8.8M375.4 213h3.2M351.8 219h12.8M423.9 179h1.8M407.0 183h15.0M394.2 207h10.4M387.4 215h7.7M408.1 217h1.7M454.9 187h6.7M447.5 191h11.0M443.6 195h15.1M471.2 203h13.4M45.8 243h5.9M35.3 255h11.2M13.8 263h13.1M13.2 265h10.4M23.6 265h2.8M90.2 227h12.7M120.0 227h7.7M141.2 227h6.6M138.0 235h5.8M104.7 247h11.6M116.3 247h2.2M69.9 255h4.6M74.4 255h14.8M65.6 263h7.6M98.1 223h9.7M163.7 243h8.4M145.9 247h11.1M145.8 255h7.2M153.7 261h4.0M157.8 263h9.8M168.1 227h11.3M215.2 227h8.0M196.7 243h7.5M201.8 247h11.0M219.6 251h5.7M199.2 253h4.1M217.8 261h1.8M248.5 249h1.8M244.4 251h6.4M243.8 253h5.2M255.9 239h8.4M259.3 243h7.8M260.4 247h5.0M270.0 243h7.3M302.7 227h5.4M320.3 235h1.7M306.7 243h6.6M289.1 247h13.4M280.0 255h12.7M292.7 255h9.7M304.5 257h4.4M285.3 263h4.1M317.3 263h5.9M357.1 227h4.3M342.3 239h4.5M343.9 247h7.6M351.5 247h5.4M344.3 251h6.4M354.9 251h4.9M343.0 255h5.7M368.8 247h8.8M363.7 255h4.2M379.6 255h2.3M364.0 263h10.9M411.6 231h4.8M410.3 235h4.6M414.9 235h8.0M422.9 235h7.0M383.4 243h9.5M406.8 247h6.6M414.2 253h5.0M464.9 233h6.0M479.8 235h6.8M444.2 239h4.2M448.5 239h10.8M465.8 239h9.8M481.0 241h1.8M456.2 243h12.3M441.7 247h8.6M450.3 247h15.2M440.3 255h6.8M482.8 233h3.1M40.1 301h13.7M17.8 303h6.5M24.3 303h10.1M57.1 281h7.6M41.7 283h14.1M96.7 275h6.0M91.3 283h8.8M73.4 291h9.3M74.1 295h4.1M83.2 295h10.9M99.2 297h4.3M66.4 303h13.4M88.2 305h3.4M87.6 311h1.3M92.7 311h9.3M64.9 313h11.8M115.2 283h11.5M121.8 287h4.7M124.5 293h5.1M115.4 295h13.3M133.5 299h4.0M130.5 303h8.7M140.6 279h4.4M135.1 285h6.4M135.7 291h8.5M137.8 307h6.8M160.2 295h6.4M156.0 299h7.8M200.1 307h13.5M226.1 311h0.9M255.8 295h2.3M254.8 303h2.7M233.5 305h5.2M212.2 307h4.7M257.8 311h1.0M256.4 295h13.2M325.1 275h2.1M284.5 283h12.1M297.6 287h9.7M288.1 291h12.7M287.6 295h12.9M284.9 307h9.3M325.6 295h6.5M323.3 303h7.6M332.8 305h10.6M340.9 307h1.7M341.3 311h2.1M351.3 269h7.3M336.5 299h7.9M345.5 301h6.4M355.8 305h9.6M365.9 311h1.7M365.6 287h8.5M413.1 283h4.0M408.4 287h11.9M428.9 287h6.1M429.4 291h6.2M387.2 295h15.5M422.9 295h15.9M439.1 297h1.8M418.2 299h8.3M384.2 303h9.7M402.6 303h7.5M427.5 307h8.5M425.4 311h6.0M457.7 287h13.8M445.5 291h13.5M467.2 295h5.1M461.0 299h1.9M449.4 303h10.5M462.4 303h5.7M481.5 275h9.4M24.0 319h5.6M17.4 335h8.7M20.8 353h2.6M15.2 359h8.7M45.2 349h16.0M36.0 351h10.8M54.3 357h4.3M52.6 319h14.8M47.7 323h13.7M61.4 323h6.2M69.2 329h1.9M58.0 331h9.2M46.7 339h15.4M87.7 319h6.7M81.9 335h10.2M71.6 343h6.9M75.3 347h13.9M70.9 355h15.8M75.0 359h11.1M97.5 319h15.8M102.3 323h7.8M108.3 327h9.7M102.6 335h8.9M117.4 335h4.3M92.3 351h6.4M105.3 351h4.5M109.8 351h8.3M113.7 355h2.1M129.7 319h10.0M149.7 319h7.3M129.7 323h4.5M131.1 327h13.2M135.0 339h5.6M122.4 351h10.7M117.3 355h15.6M138.5 359h4.8M174.4 339h4.1M148.8 359h10.2M203.6 331h7.5M209.9 335h7.5M208.0 345h3.4M264.1 331h15.2M243.3 343h8.9M239.5 351h9.0M230.1 355h12.0M242.1 355h8.0M282.5 317h11.2M301.8 323h1.8M301.5 333h2.3M294.2 335h0.3M262.0 347h12.4M281.3 351h2.6M271.8 357h8.2M305.1 319h13.2M293.3 347h7.7M292.0 359h4.4M296.4 359h11.4M335.9 323h7.0M347.0 323h12.7M333.3 327h8.9M335.2 331h8.0M342.0 335h13.9M355.9 335h2.7M339.7 337h9.0M333.5 339h15.6M355.1 351h3.9M355.4 353h2.2M325.5 355h15.2M336.4 359h10.3M364.4 323h4.7M369.0 323h6.7M370.8 351h12.9M377.0 355h4.5M352.9 359h12.9M388.2 323h11.9M387.7 353h10.4M389.7 359h5.8M443.2 317h6.9M445.5 319h4.3M424.4 343h7.1M438.4 353h6.1M429.8 359h7.7M489.3 323h3.9M452.2 343h10.9M541.0 39h4.8M555.9 41h5.9M539.5 55h7.8M533.0 63h7.3M579.0 37h4.4M577.8 39h11.4M576.8 43h9.8M592.5 49h7.5M601.8 51h0.5M577.8 59h4.7M598.8 59h7.4M582.4 63h14.2M598.4 73h4.3M626.0 43h2.2M616.0 47h12.6M608.3 59h12.8M621.1 59h8.0M608.2 63h12.9M609.9 65h9.0M592.5 71h10.0M640.7 67h9.8M635.3 75h13.3M651.7 47h9.9M655.1 59h6.6M651.5 71h9.9M676.7 39h7.4M680.8 45h3.3M674.7 67h7.9M673.9 71h5.9M684.7 35h11.6M678.5 75h12.7M817.9 35h1.4M807.7 47h9.5M807.1 51h10.2M816.3 61h0.4M802.3 75h11.4M813.6 75h2.2M816.7 63h11.5M825.4 75h10.8M849.4 39h4.7M842.7 53h9.3M847.5 55h6.8M839.3 75h4.5M843.8 75h7.7M857.5 35h12.9M865.8 57h4.0M884.1 75h4.1M891.6 61h1.2M883.3 65h5.1M881.0 47h9.9M904.7 39h2.8M896.5 63h11.4M899.4 71h4.7M900.4 75h8.9M904.1 77h4.6M909.6 39h15.1M925.5 59h4.1M937.5 67h4.4M898.2 71h7.9M930.7 47h9.7M940.4 47h12.3M945.2 49h5.5M928.0 55h7.9M953.0 45h6.1M956.4 51h5.8M974.2 51h11.9M970.7 63h4.8M544.8 91h12.5M548.7 97h6.4M532.9 99h9.7M527.8 107h7.9M532.4 111h8.7M536.7 123h10.4M600.1 87h0.4M583.4 95h12.3M595.7 95h2.0M578.8 99h13.7M580.2 101h8.5M576.7 107h13.4M573.9 111h15.9M576.1 119h7.6M608.8 95h6.5M593.9 115h7.9M586.2 123h5.6M627.6 103h5.5M641.5 91h9.8M642.0 103h9.2M645.7 111h7.2M634.6 115h5.1M639.6 115h9.3M640.4 123h5.8M675.0 95h4.3M665.9 111h13.1M662.0 123h8.1M679.1 125h6.8M816.2 87h0.6M805.9 103h6.7M809.5 105h4.8M807.2 123h4.7M825.6 103h10.5M829.2 111h7.5M829.6 115h4.9M847.4 95h5.9M846.1 107h6.4M846.1 119h5.9M857.7 83h9.0M857.4 99h8.2M860.7 103h6.4M888.4 95h3.6M882.1 107h8.4M865.6 115h4.8M886.0 115h0.8M900.7 91h5.0M903.6 111h0.7M899.3 119h6.6M912.5 95h11.1M906.4 103h4.9M911.2 103h9.0M920.3 107h1.2M937.2 105h6.9M944.4 107h4.2M926.6 113h10.6M927.9 115h4.8M964.9 95h13.6M968.7 99h7.1M946.2 107h9.3M974.6 111h2.6M982.2 113h0.9M935.3 115h5.4M953.4 115h8.5M974.3 115h7.0M951.9 119h4.8M962.6 121h2.4M971.5 123h10.8M989.5 91h7.8M984.7 95h11.1M995.2 103h7.7M539.3 135h6.5M536.2 139h9.2M537.8 143h10.3M544.0 147h11.7M527.9 155h11.9M544.2 155h5.4M528.0 167h4.0M532.0 167h10.6M550.3 167h11.6M579.3 139h15.8M578.8 143h4.3M583.5 163h7.7M578.1 167h7.2M642.8 129h2.3M630.8 141h6.2M646.3 141h7.9M623.3 143h12.2M620.5 145h10.4M614.8 147h14.4M609.0 155h11.0M620.0 155h11.7M612.2 167h12.4M672.9 151h9.4M683.0 147h9.8M672.0 155h6.6M676.9 161h4.7M675.6 169h1.6M663.6 171h8.8M687.1 167h13.4M681.2 171h14.2M809.1 131h8.5M810.5 135h4.2M812.5 167h8.5M823.6 139h1.1M829.1 139h5.6M828.7 151h5.4M841.5 131h10.2M842.2 139h4.3M846.3 147h4.7M870.2 145h1.5M865.9 151h5.0M866.9 159h1.8M867.5 161h2.4M884.3 143h4.4M877.4 169h6.0M883.4 169h7.8M902.4 129h3.1M892.9 155h10.6M898.1 163h7.1M900.9 131h5.2M944.5 131h8.0M957.3 151h4.1M949.6 153h6.1M972.9 155h2.7M951.9 159h6.1M952.4 165h2.2M929.1 167h11.3M921.5 171h2.0M960.1 171h11.3M983.4 143h12.5M993.9 145h2.8M991.1 147h4.2M536.2 191h12.9M531.5 211h10.1M559.7 203h3.4M550.7 215h4.5M562.1 217h0.6M576.4 187h9.0M584.8 195h5.2M577.2 203h4.0M607.1 217h4.0M611.1 217h1.7M647.9 209h4.5M647.5 219h4.9M661.4 197h2.5M656.4 219h4.2M660.7 219h5.5M672.5 179h9.6M673.5 183h8.5M674.8 187h11.9M685.5 191h1.9M681.6 199h7.6M658.4 203h15.7M671.4 207h4.0M694.7 207h11.1M681.7 219h15.0M710.8 187h0.6M742.9 189h0.9M724.3 191h13.7M777.2 177h2.3M762.0 179h6.1M758.6 183h16.0M779.7 195h0.9M761.3 205h4.3M770.6 209h2.5M736.5 211h9.8M743.8 219h5.3M778.2 219h4.0M794.1 185h3.5M783.6 195h7.9M780.2 203h9.2M782.7 215h10.2M803.1 215h7.8M814.9 177h6.9M825.5 183h2.0M816.1 185h9.8M812.3 203h4.4M811.9 211h7.5M812.0 215h8.9M821.0 215h6.5M828.2 179h10.9M842.8 181h0.8M829.9 191h9.0M825.5 195h9.2M829.4 207h10.8M846.2 187h12.2M843.8 199h13.0M844.4 203h10.0M854.7 211h2.8M861.2 179h6.3M865.9 189h1.8M859.5 211h7.7M886.3 177h5.2M894.7 183h1.7M890.5 193h5.2M885.3 195h9.3M882.8 207h7.9M891.3 215h5.2M900.9 183h5.3M906.2 183h10.3M930.9 187h7.0M927.4 195h13.5M965.7 201h4.3M896.2 203h10.1M933.7 211h5.9M974.5 213h1.3M898.6 215h12.8M913.0 215h15.1M959.2 215h5.9M913.7 217h10.8M927.7 219h7.0M961.9 219h12.3M996.3 183h7.2M1008.8 185h2.2M1006.0 199h4.3M545.3 259h2.5M570.8 251h4.7M561.1 255h4.7M562.8 263h6.9M595.3 227h7.1M606.7 229h7.9M589.8 231h5.3M595.1 231h9.2M592.1 235h9.6M595.5 243h7.2M575.1 263h10.2M646.0 233h6.4M650.2 243h1.4M649.9 257h1.0M648.7 259h4.2M661.5 235h13.6M678.5 237h0.4M663.0 239h4.5M660.4 243h5.7M656.6 247h14.1M681.5 239h11.4M677.1 255h4.0M681.1 255h9.1M702.4 251h3.8M691.8 259h12.1M702.7 261h2.9M689.8 263h13.5M718.9 251h5.6M724.5 251h9.1M717.9 255h12.5M716.6 259h11.8M743.8 255h13.3M733.3 259h6.1M753.0 261h6.5M773.6 251h4.2M783.3 257h13.2M783.5 263h8.8M823.5 223h1.7M815.6 227h10.6M815.1 243h10.3M825.4 243h0.9M816.8 263h7.6M833.4 239h7.4M826.3 243h8.7M841.5 223h10.3M853.7 227h3.1M844.7 237h8.4M857.9 243h0.8M856.7 249h1.8M845.6 251h6.9M844.9 263h13.1M860.2 231h7.4M857.4 239h6.9M857.2 259h9.9M887.7 231h8.3M891.5 265h3.6M899.1 223h5.1M896.4 263h7.3M908.4 231h10.7M912.5 239h13.1M924.0 249h0.4M906.1 259h15.6M918.9 263h0.8M909.1 265h7.2M956.8 235h1.3M933.4 251h10.3M940.8 255h11.9M929.3 263h15.1M952.3 263h5.1M992.8 237h1.0M989.0 245h1.2M974.5 247h12.9M584.7 275h9.2M572.4 279h11.5M596.6 279h12.2M574.2 283h9.2M583.5 285h6.0M541.8 299h9.0M642.4 299h2.8M552.2 303h10.6M652.6 303h2.9M568.8 307h14.1M576.1 309h8.3M555.9 311h3.8M597.6 311h6.6M624.9 311h6.8M549.2 313h7.2M616.3 275h10.5M643.1 283h9.7M646.2 289h5.4M642.5 291h10.2M703.2 299h11.5M709.6 301h9.6M736.3 303h6.9M759.5 303h7.0M688.5 305h2.3M693.8 307h5.4M729.8 311h14.5M761.3 311h15.1M733.9 313h8.5M756.3 313h10.4M741.4 283h1.6M729.5 289h5.3M734.8 289h6.8M717.6 291h7.0M772.9 283h4.3M780.2 275h7.7M788.7 303h7.5M810.1 307h3.5M822.7 271h4.1M811.9 287h13.6M812.5 291h6.1M812.1 303h4.5M815.3 307h9.8M835.7 275h5.0M828.8 283h12.6M828.4 299h7.8M856.7 273h1.1M844.9 283h12.1M841.7 295h13.7M848.5 299h4.1M852.6 299h7.0M846.1 307h8.6M859.9 271h8.2M858.1 275h8.3M858.0 279h9.7M857.2 287h5.1M857.6 303h10.2M881.3 287h6.5M887.8 287h6.0M885.9 291h8.9M890.4 295h4.9M884.9 299h12.8M882.1 311h4.3M899.1 291h5.4M896.5 299h6.3M902.8 299h3.3M918.3 275h9.9M929.6 277h2.1M905.7 291h11.8M910.6 295h7.0M905.5 303h15.3M920.8 303h4.4M920.8 307h8.9M951.2 293h5.4M952.3 303h4.6M952.2 309h4.4M927.9 311h14.2M977.9 275h9.2M975.4 279h5.6M984.4 281h9.2M972.1 283h9.9M981.9 283h4.1M1006.9 283h7.5M559.0 345h6.1M591.0 329h9.4M575.6 335h13.7M598.2 341h4.1M589.2 343h5.8M595.0 343h6.9M598.2 349h3.6M531.0 351h12.9M563.3 351h7.4M578.3 351h10.4M588.7 351h9.5M615.7 351h11.6M568.5 353h5.6M531.1 355h4.7M553.1 355h5.5M607.7 355h15.0M621.9 359h7.4M630.8 359h4.7M623.0 333h1.0M606.6 335h9.4M600.2 341h12.5M612.7 341h5.9M620.1 343h4.3M642.3 331h8.5M643.4 343h8.2M681.9 323h3.9M673.0 331h15.3M676.0 339h12.9M665.0 343h8.6M667.7 347h5.1M672.9 347h9.9M703.7 317h1.8M697.9 327h8.5M689.4 335h15.6M704.6 341h1.4M692.0 359h5.0M728.8 347h4.7M732.9 351h4.8M736.6 353h5.8M715.6 355h13.7M729.3 355h5.7M735.0 355h5.7M745.6 343h12.2M752.5 347h4.4M765.1 351h14.0M802.3 339h6.6M815.5 317h4.1M809.4 323h9.9M820.2 325h0.9M814.1 347h5.3M809.8 355h11.2M824.6 319h6.8M828.8 327h8.0M833.4 335h3.1M829.3 339h7.0M834.7 353h4.5M845.8 355h5.6M861.6 327h5.0M866.6 331h0.5M867.4 337h0.9M857.0 351h10.4M860.2 355h6.5M874.3 351h6.4M881.4 319h5.9M893.4 325h4.2M887.3 343h6.9M895.8 319h9.2M896.3 335h9.9M896.3 347h7.8M896.1 359h7.5M942.3 333h9.1M939.6 335h8.7M937.4 351h4.9M920.2 353h10.7M961.5 331h12.4M960.5 341h6.8M959.1 347h5.2M942.8 355h9.1M963.9 359h2.0"/><path stroke="#d2d2d2" d="M39.0 53h9.9M25.2 59h3.8M65.6 35h3.2M58.8 39h6.5M103.5 35h13.3M85.6 35h1.9M95.6 39h1.5M87.8 43h15.4M79.9 63h6.1M130.7 41h6.0M134.0 51h3.4M134.9 55h14.2M130.7 59h2.2M111.7 63h5.3M134.5 75h1.7M152.0 39h2.5M154.9 51h9.8M297.2 63h8.1M297.0 75h5.7M334.1 37h14.3M329.9 43h5.5M327.7 59h4.6M329.6 71h3.1M357.0 33h13.9M353.5 51h4.4M356.4 77h11.6M398.5 55h3.7M421.4 51h3.4M416.3 59h10.0M423.8 61h8.4M425.9 65h3.3M411.6 75h6.5M449.7 39h5.0M453.4 63h15.9M465.4 55h0.5M497.3 57h3.2M26.3 115h12.0M21.3 119h6.3M20.1 123h6.0M135.8 103h6.4M62.6 103h6.5M131.7 103h4.1M137.8 107h15.0M58.6 115h6.7M93.7 115h8.3M93.4 119h7.2M56.6 123h6.7M132.3 95h4.1M151.1 97h9.0M163.8 123h4.0M307.1 103h7.5M300.0 103h6.5M306.5 103h0.6M333.6 97h7.5M333.2 103h13.6M329.2 119h1.6M354.1 95h5.3M400.0 83h11.3M401.1 85h15.6M394.3 87h4.3M389.5 91h9.8M397.4 95h8.9M395.3 95h2.1M391.4 99h6.9M400.6 101h3.9M396.8 113h9.6M381.6 119h6.4M388.0 119h2.7M430.1 105h13.0M426.9 109h6.7M411.8 111h4.6M428.2 115h12.0M434.3 117h10.4M465.6 103h0.6M457.4 115h9.8M467.5 117h7.7M482.0 99h8.3M51.3 131h4.3M54.8 145h3.5M38.5 151h3.0M43.3 157h6.1M19.0 167h6.2M65.2 151h0.6M64.9 157h15.5M134.8 133h10.1M93.2 135h6.7M136.5 145h13.6M132.7 155h8.7M133.6 159h0.9M88.1 163h2.1M88.0 167h0.8M108.1 167h5.4M149.5 129h14.6M154.4 153h9.8M145.7 167h6.4M338.3 135h9.2M347.5 135h0.6M402.3 135h1.6M405.4 139h0.3M414.4 139h4.7M320.0 147h4.2M357.0 147h5.3M388.6 147h3.8M317.2 151h5.8M435.6 161h15.4M308.6 163h8.0M306.6 167h8.5M377.8 167h5.7M345.7 171h5.8M443.9 135h5.6M461.8 169h13.8M492.7 131h7.8M471.4 155h4.0M471.2 163h12.2M467.9 163h3.3M461.4 167h2.4M27.9 219h5.3M52.6 201h9.3M52.7 205h14.3M53.2 207h11.6M53.2 209h9.5M83.5 203h5.9M89.4 203h1.6M82.2 207h8.6M154.7 189h7.8M122.5 199h10.5M133.0 199h2.6M144.8 203h8.5M111.9 211h11.0M122.9 211h5.9M108.8 219h5.0M123.6 219h1.2M169.1 215h10.4M169.7 219h4.7M224.5 209h13.6M309.6 187h1.4M332.8 205h12.8M333.1 207h3.7M330.7 213h13.7M328.5 215h3.4M355.7 179h5.7M355.1 207h1.9M341.7 215h5.5M425.1 181h13.4M414.1 209h13.5M404.5 211h10.9M409.8 217h9.0M449.9 215h3.3M48.9 239h3.6M51.7 243h1.6M149.4 229h8.5M89.2 231h11.2M118.8 231h6.7M88.8 239h6.5M139.0 243h9.1M136.1 247h10.4M111.5 255h3.6M142.7 257h12.1M145.4 263h5.2M86.8 263h0.5M134.5 263h9.0M122.9 223h1.3M134.7 223h4.7M168.5 247h12.7M181.4 239h6.5M192.7 251h5.1M192.5 253h15.4M236.1 227h2.9M223.7 231h7.9M221.1 235h9.5M254.1 247h11.9M247.5 247h6.6M267.1 243h5.1M266.7 247h9.8M264.7 259h1.7M270.1 259h0.8M315.2 245h12.0M311.9 249h11.1M305.8 259h14.9M301.1 263h1.1M362.8 229h9.6M353.4 239h5.8M357.4 259h5.2M381.8 247h10.6M377.6 247h4.1M428.6 247h12.9M419.5 255h5.4M423.1 259h9.7M392.9 259h5.5M420.6 263h5.0M477.8 239h0.4M448.3 257h13.5M480.3 237h9.7M55.4 301h9.9M34.4 303h1.6M60.8 287h3.5M58.8 297h5.3M62.4 299h9.3M87.1 299h7.3M100.9 307h6.0M100.2 307h0.8M133.5 291h10.9M135.6 295h11.9M111.3 299h10.1M136.4 295h4.7M146.0 303h12.4M147.2 305h13.4M146.7 311h11.3M180.2 283h5.1M172.7 301h14.2M254.2 305h14.6M232.4 311h4.0M280.1 297h12.7M283.9 313h5.3M320.8 279h9.5M315.1 279h1.3M323.0 281h5.7M299.1 305h10.3M299.6 307h4.4M300.8 309h3.7M298.6 311h7.5M337.4 311h2.0M358.6 269h3.5M360.0 291h9.2M362.5 307h3.3M367.6 311h8.9M375.5 279h6.2M381.7 281h9.2M436.1 299h2.2M414.8 307h3.1M484.1 287h6.6M456.2 299h4.8M476.0 299h5.5M45.5 325h14.9M35.0 335h4.9M23.5 347h0.8M55.1 347h4.0M58.9 357h4.1M67.7 323h1.4M60.8 349h9.5M93.2 339h8.5M87.7 355h10.8M120.3 325h8.9M111.5 335h5.8M114.9 345h7.4M154.2 323h8.1M150.2 325h3.7M154.1 329h7.7M212.1 335h7.8M203.5 343h10.0M179.9 351h9.3M240.3 317h8.3M231.8 325h7.7M204.7 347h5.7M216.0 353h6.7M198.7 359h4.0M279.3 331h7.0M282.0 333h13.3M270.4 339h2.7M250.1 355h12.9M303.8 333h11.6M289.3 335h4.8M298.8 343h9.5M288.9 355h4.6M278.2 359h0.5M317.4 327h8.4M315.9 335h7.1M313.3 339h7.2M361.2 319h9.6M360.4 337h3.7M355.9 339h6.2M385.7 325h11.7M384.4 327h3.6M382.8 343h8.2M376.2 343h4.1M375.7 347h10.5M402.5 319h6.0M406.5 323h4.6M407.0 351h2.2M393.4 355h3.5M449.8 331h13.1M451.9 337h6.2M445.1 355h1.2M437.5 359h7.5M482.8 333h15.8M467.7 343h10.9M559.7 47h13.2M549.4 47h7.6M556.3 53h10.5M538.2 75h2.6M562.3 75h10.0M596.8 47h2.0M599.0 55h4.3M652.5 57h12.2M648.9 59h1.6M662.0 39h11.2M661.6 59h8.4M662.2 69h6.7M670.4 51h3.0M662.6 59h4.7M680.1 63h3.7M691.3 41h4.6M695.9 41h2.3M837.2 41h15.7M835.1 51h0.6M835.4 57h12.7M835.6 77h7.7M853.7 57h12.6M875.8 45h10.9M876.6 51h15.0M871.0 51h2.3M882.4 61h10.0M879.6 63h3.5M887.3 69h14.0M862.1 71h2.2M891.3 49h9.9M908.5 55h13.8M909.5 63h8.9M907.9 63h1.6M909.3 75h10.6M913.0 63h9.2M947.2 63h7.5M913.6 67h7.1M944.5 71h9.0M952.4 49h6.5M979.7 65h11.9M974.4 75h11.6M985.4 57h6.1M557.4 93h15.7M556.8 99h7.1M547.2 107h8.1M549.1 111h11.0M544.7 125h12.3M590.1 107h4.4M624.3 87h4.3M629.2 91h7.9M626.3 105h10.9M610.8 119h2.9M661.4 87h1.0M662.0 89h1.5M660.5 93h2.4M679.0 103h11.6M679.3 105h7.6M704.2 117h15.9M706.2 119h14.5M705.9 121h6.6M814.5 95h2.0M814.4 111h6.7M812.7 125h10.7M835.8 101h5.1M834.5 115h9.3M851.3 103h7.3M853.3 115h4.0M865.7 125h5.1M886.9 93h13.6M879.0 119h6.1M905.9 119h14.4M905.8 125h3.1M917.0 123h4.0M950.8 91h14.2M945.3 95h6.4M947.9 101h12.7M948.7 107h7.5M976.1 97h7.4M971.4 103h2.6M967.9 107h7.5M975.0 119h2.4M1000.2 91h15.8M559.3 133h7.3M543.2 165h14.6M587.8 135h9.3M594.5 151h11.7M592.8 159h4.4M587.1 159h5.8M585.4 167h4.9M591.8 169h4.1M641.5 139h0.8M654.1 141h5.8M654.2 145h11.7M639.2 147h0.3M649.4 159h5.6M622.5 159h7.8M653.7 167h13.4M618.2 171h11.9M651.9 133h4.1M684.2 139h4.4M682.9 143h4.9M672.4 159h9.2M672.4 171h9.4M700.3 159h3.1M698.1 163h5.4M703.9 171h3.0M821.5 149h4.2M824.1 131h0.4M824.5 145h3.5M834.4 131h8.3M835.7 135h0.5M835.2 163h6.7M836.0 165h8.6M871.7 153h3.6M890.5 137h11.8M887.6 151h2.5M889.9 157h8.2M891.4 165h4.5M904.6 133h15.9M904.6 151h7.0M906.3 137h13.3M904.6 149h14.2M965.0 131h4.9M978.1 151h14.7M923.6 151h5.8M977.0 151h1.1M945.6 167h8.8M993.4 149h8.7M991.2 151h8.1M561.9 189h8.7M541.8 199h1.6M542.3 205h14.5M540.4 207h3.2M541.8 213h12.7M563.2 201h14.0M562.4 219h12.3M589.9 195h5.2M595.4 197h12.1M593.5 207h10.5M593.4 213h5.6M593.3 217h12.8M630.5 183h4.6M615.0 207h2.7M651.8 185h9.9M649.4 187h2.7M651.5 191h0.5M647.8 199h3.8M652.5 219h3.3M665.6 181h10.4M666.2 201h15.8M665.2 215h11.8M692.7 185h15.2M687.7 187h14.1M675.5 207h8.4M706.1 191h8.4M703.6 195h1.7M705.5 199h11.5M741.6 193h5.6M724.1 207h6.9M729.1 209h14.4M780.5 201h13.2M771.6 203h6.4M755.5 211h13.2M777.7 215h10.1M812.5 177h7.5M810.8 183h13.1M792.9 183h4.9M811.9 187h3.4M791.6 195h1.5M840.8 179h3.9M856.4 185h14.7M858.4 187h0.7M858.3 209h15.7M863.2 207h4.8M897.5 177h10.7M951.4 183h12.6M974.0 191h2.3M947.0 195h14.3M978.2 199h12.5M908.9 199h9.0M943.4 207h13.2M978.9 219h7.6M985.6 191h15.9M1011.1 185h5.4M1007.2 193h9.3M1003.9 201h12.6M577.2 249h12.9M565.8 255h8.1M580.3 263h0.7M613.5 231h5.6M607.2 243h5.1M601.6 255h4.9M596.8 265h14.5M621.7 259h5.4M652.1 225h3.9M649.5 239h1.0M691.1 261h10.1M730.4 255h1.3M757.8 259h0.8M757.7 263h12.2M777.8 251h1.8M802.7 259h11.1M811.7 261h8.4M826.9 235h0.7M825.1 239h6.1M841.5 227h14.6M857.9 225h8.1M858.4 247h4.6M897.0 247h0.3M890.3 259h4.7M903.8 225h9.7M904.9 231h10.3M905.1 237h5.9M906.0 241h9.6M924.7 233h14.2M924.8 253h8.1M921.0 257h13.1M953.1 241h11.3M953.5 259h4.0M987.4 247h1.0M605.7 283h8.0M604.8 293h12.4M550.8 299h10.4M609.2 303h3.9M647.9 307h1.3M655.6 313h11.5M626.8 275h15.0M652.9 281h8.7M665.8 303h12.0M664.1 303h1.7M698.2 281h1.7M742.2 299h5.1M747.4 299h5.8M739.1 293h16.0M772.0 291h6.8M811.7 285h12.3M813.1 295h0.8M813.6 307h6.0M826.2 289h11.3M824.4 311h6.7M843.6 273h11.4M841.7 299h3.2M841.0 305h15.3M842.1 307h10.7M856.3 293h12.2M855.9 311h14.1M866.8 295h1.2M867.2 299h14.8M891.9 271h3.8M895.2 283h8.8M894.2 293h14.5M897.7 299h3.8M904.5 275h3.4M905.8 279h4.5M904.6 291h15.2M905.8 295h15.5M904.6 309h3.5M928.2 279h3.1M930.0 283h5.5M922.7 283h7.3M930.8 287h5.9M955.0 289h3.4M952.1 295h5.0M956.2 297h4.5M956.6 309h12.3M950.4 311h5.2M992.9 283h2.0M1014.7 285h1.8M598.8 327h5.7M600.0 347h2.8M570.7 351h4.7M627.3 351h5.4M564.7 355h8.6M631.2 355h0.7M623.7 327h5.3M623.8 339h7.9M652.7 337h10.4M651.7 321h10.2M651.2 341h6.1M688.5 331h6.8M695.3 331h4.2M675.0 355h4.5M671.6 359h5.2M705.9 357h6.1M705.8 319h10.6M716.4 319h3.6M740.7 355h15.8M742.4 359h0.7M773.5 359h6.9M796.2 339h6.1M820.4 327h8.6M815.7 343h3.6M819.5 347h9.1M838.2 329h12.1M836.8 347h13.2M836.9 351h14.5M834.2 355h2.0M852.4 319h13.0M852.7 333h7.1M867.4 329h9.9M867.0 331h15.9M867.5 341h3.8M866.7 347h11.6M864.6 347h2.1M868.8 357h8.4M898.2 337h8.7M903.8 339h5.6M948.3 335h1.9M942.3 351h6.3M934.8 359h6.2M983.0 333h9.4M969.8 335h12.4M979.0 337h3.9M971.9 343h4.5M974.0 347h13.1M962.7 355h4.1M1012.9 337h3.6"/><path stroke="#7e7e7e" d="M19.0 53h10.2M15.5 73h5.7M58.8 37h7.2M51.4 73h7.9M86.2 61h2.9M79.2 69h9.1M87.1 77h3.9M113.8 53h10.8M95.9 55h12.3M115.5 57h8.0M86.5 63h5.9M109.3 65h4.2M104.4 69h5.0M99.4 75h7.5M137.8 47h7.1M152.3 57h4.3M145.7 63h5.7M308.1 63h10.2M342.5 61h14.6M355.0 73h2.9M376.6 77h5.1M478.3 49h0.8M490.8 59h6.9M31.2 87h8.0M49.1 97h2.3M124.0 101h3.1M82.8 105h4.8M113.7 105h8.3M115.8 121h5.5M150.6 97h0.5M152.7 117h4.7M160.3 121h3.9M310.6 93h8.1M294.8 113h9.1M296.7 121h7.0M333.3 121h1.7M400.7 81h3.3M395.0 85h6.1M374.7 101h6.4M397.3 105h8.4M413.6 117h10.4M391.5 119h4.3M442.0 97h3.8M27.3 161h1.2M120.9 129h5.3M94.0 141h4.1M111.4 141h10.8M108.7 161h7.2M118.0 165h10.2M86.2 169h1.9M112.3 169h0.8M330.4 137h10.7M356.2 137h4.8M394.5 137h1.1M371.0 141h8.0M419.5 141h1.3M283.5 145h5.6M388.8 145h4.9M302.7 149h13.5M328.1 149h14.9M317.0 153h5.0M316.3 157h3.1M391.6 157h7.0M388.4 163h6.7M330.8 167h4.9M335.7 167h13.5M307.9 169h6.3M332.0 169h9.7M400.2 169h13.6M425.9 139h5.3M442.0 141h9.0M424.4 151h10.1M488.2 129h2.8M473.9 145h6.0M461.4 161h6.3M87.7 181h14.3M102.0 181h0.4M80.5 217h1.6M110.5 201h4.3M124.5 217h1.5M181.7 205h4.9M156.7 217h9.9M223.7 205h3.4M224.4 217h15.9M302.1 193h5.2M326.1 191h8.5M322.0 213h7.2M343.2 209h6.7M373.6 209h6.8M387.2 209h2.4M412.8 201h4.5M406.7 209h7.4M424.9 213h1.1M465.3 189h1.7M488.2 201h9.1M20.9 261h6.5M106.1 227h9.4M141.3 233h1.2M88.8 245h7.1M144.4 253h0.9M130.3 261h12.6M149.2 241h15.8M165.0 241h5.7M174.9 225h15.9M163.0 231h8.6M178.2 265h6.1M235.9 225h2.5M206.3 237h9.0M224.0 241h2.4M203.2 253h5.5M217.9 253h7.3M212.8 261h4.9M316.0 237h0.4M284.4 253h10.6M353.5 249h6.7M337.3 251h7.0M378.1 249h2.9M376.8 253h5.1M373.4 255h6.3M373.9 261h5.8M413.3 237h6.4M392.8 265h2.4M460.7 237h6.8M480.6 237h1.8M471.5 241h3.7M469.7 245h3.5M51.2 291h11.0M46.6 293h12.5M82.6 275h7.5M100.4 277h1.8M95.2 301h3.9M87.4 313h1.3M142.1 277h1.0M144.2 289h1.7M131.0 293h5.7M180.4 309h9.9M254.5 297h1.6M245.8 305h5.8M255.1 309h5.8M255.7 303h9.9M304.8 273h6.4M302.6 275h15.5M318.2 285h1.2M294.1 301h6.7M300.7 301h2.0M330.8 309h9.4M342.4 313h3.2M421.4 305h15.3M415.6 309h1.0M443.7 309h3.0M463.1 297h1.1M474.5 301h11.2M457.0 305h2.3M442.6 307h14.5M478.2 277h6.5M484.7 277h13.9M489.0 281h9.3M36.4 333h3.7M35.9 337h3.8M13.0 339h6.0M60.6 317h8.1M68.6 317h4.2M36.5 355h12.9M80.7 321h6.0M71.0 357h13.7M121.9 337h0.4M94.6 341h6.1M115.9 341h1.0M92.2 353h12.8M94.7 355h6.2M97.2 361h13.9M139.7 321h6.2M129.4 329h8.9M130.2 333h12.5M144.9 337h3.9M129.1 341h11.2M121.4 349h9.7M134.3 353h2.2M134.7 357h1.4M178.5 339h10.0M203.1 345h2.4M230.6 317h9.7M205.2 353h0.6M244.9 341h11.5M267.4 341h7.4M236.3 349h11.3M259.7 349h7.6M234.4 351h5.1M290.0 329h8.3M316.8 317h10.0M301.7 327h10.4M303.5 331h12.2M301.1 339h12.2M316.0 345h2.4M307.8 349h4.6M307.6 361h4.2M353.0 329h5.4M354.8 337h5.6M329.4 341h11.2M385.0 325h0.7M369.1 357h13.0M385.3 361h0.4M417.0 323h4.4M400.2 341h3.1M438.0 349h4.9M460.9 327h6.0M459.1 339h11.3M466.9 341h6.7M544.7 41h11.2M554.9 45h4.9M592.6 61h4.7M610.6 65h1.2M598.2 69h13.4M588.5 77h14.8M603.3 77h5.4M607.1 39h9.1M605.3 49h15.2M613.6 61h10.4M640.7 55h9.9M648.9 77h4.4M816.2 49h1.3M833.3 73h1.5M870.0 49h3.2M861.9 59h6.8M871.9 77h10.6M883.9 65h7.0M885.5 69h4.6M899.1 41h5.0M899.1 49h10.1M912.0 69h4.4M940.4 69h13.9M956.2 71h7.1M955.4 73h6.6M538.9 121h6.5M583.4 83h4.2M577.7 117h8.4M614.2 99h12.2M614.4 109h1.0M627.1 117h0.5M642.6 105h10.0M678.1 85h2.2M677.2 105h2.0M678.0 109h0.4M670.1 123h13.9M692.7 125h12.8M834.4 85h1.1M829.2 95h5.3M826.1 123h9.1M847.3 97h4.5M846.2 101h6.1M881.6 93h5.3M869.6 113h6.0M943.0 93h10.7M929.5 99h6.9M954.7 125h8.4M975.4 125h8.4M990.9 89h6.0M996.9 89h4.4M984.6 105h11.2M561.8 137h0.8M561.3 145h1.2M588.3 161h2.1M647.7 137h0.9M619.4 151h15.7M618.4 157h5.6M640.1 161h8.1M676.7 147h4.8M668.5 165h10.0M704.3 161h0.5M823.8 133h1.5M851.7 137h1.0M843.8 149h8.8M865.5 129h5.8M860.7 135h8.6M900.1 133h4.5M898.4 143h7.1M896.3 153h6.8M895.7 165h4.9M896.4 139h8.0M921.0 129h8.6M947.0 129h6.8M957.1 137h7.7M971.6 141h6.5M935.2 145h0.6M980.6 145h1.2M967.4 149h7.3M922.7 153h9.3M906.0 163h5.7M970.3 165h3.3M556.7 181h3.5M545.1 185h4.8M548.0 193h5.4M532.5 209h8.3M599.0 177h0.4M577.7 189h6.7M586.1 205h8.0M591.6 209h1.1M591.8 207h10.8M610.2 209h6.2M645.9 177h5.2M662.0 217h3.2M678.4 189h8.8M725.8 189h9.0M732.4 193h5.4M736.9 201h0.9M768.0 185h13.7M733.7 215h13.6M796.1 177h4.8M792.7 181h6.1M803.1 201h4.3M791.0 203h9.5M799.6 213h7.2M806.7 213h2.8M814.3 179h7.1M816.7 181h10.5M828.5 187h5.3M885.1 219h5.3M920.0 177h6.6M957.0 177h12.0M972.3 179h6.8M931.4 183h13.8M957.5 185h7.1M902.3 187h10.5M913.8 189h6.5M941.9 197h7.0M947.4 205h10.6M978.9 189h7.4M550.5 265h15.9M602.4 227h12.1M595.6 261h4.9M644.8 227h6.0M667.5 239h13.1M668.7 257h1.0M667.3 265h0.6M681.8 237h10.8M684.0 249h8.4M735.6 245h4.3M736.0 249h1.2M800.2 253h12.4M784.5 261h14.4M821.1 233h3.8M899.0 253h5.0M916.2 265h6.6M928.4 261h4.6M591.3 273h8.3M564.1 283h10.1M604.1 285h4.8M533.8 303h4.5M629.7 313h9.3M644.8 285h8.4M695.4 303h6.0M741.8 305h8.4M691.1 313h10.1M795.8 277h1.9M789.4 299h6.4M795.8 299h11.1M788.7 301h13.8M796.2 303h8.7M806.6 309h4.7M815.5 295h10.1M812.0 299h12.1M837.9 293h5.4M856.1 289h1.3M844.2 293h8.2M890.6 289h5.8M899.9 275h4.7M900.2 281h5.2M908.4 285h9.0M950.8 297h5.4M1014.1 281h0.5M1005.6 297h6.5M557.3 337h8.3M577.3 331h5.3M640.7 349h8.8M594.9 357h3.4M622.2 357h5.9M612.1 333h10.9M638.4 335h13.0M649.3 341h3.7M684.3 325h1.4M670.1 337h8.4M705.2 337h1.1M701.1 345h4.8M700.7 349h5.9M726.7 353h9.9M746.0 351h4.1M758.3 359h15.2M790.7 347h6.7M810.3 343h5.4M812.3 349h7.1M818.5 353h0.8M812.0 357h7.1M819.1 357h2.2M827.7 353h7.0M845.7 341h9.4M861.0 359h5.5M840.0 353h0.5M897.2 329h0.4M894.9 337h3.3M883.3 341h12.3M932.0 345h11.2M970.4 337h6.4M996.4 333h14.5M991.3 345h13.3"/><path stroke="#c8c8c8" d="M67.1 43h6.8M62.0 77h8.5M86.1 41h12.6M133.8 57h4.2M132.8 77h9.5M155.5 55h4.2M159.2 63h13.7M321.5 63h9.7M331.1 63h11.4M329.9 73h7.2M360.3 65h7.6M405.6 59h8.0M401.8 73h11.4M426.7 43h11.2M424.8 51h10.1M451.0 71h6.0M466.3 59h8.4M466.9 65h4.2M466.5 75h11.6M497.8 59h2.7M28.9 117h12.7M136.3 101h11.3M135.2 115h3.3M138.4 117h12.8M136.5 95h3.5M152.2 99h11.6M151.8 117h14.5M151.7 123h12.5M306.5 105h7.2M335.3 99h12.9M334.5 105h15.0M331.4 109h13.1M335.0 121h10.7M359.0 93h12.2M430.1 113h10.5M448.2 87h4.4M467.2 97h4.0M467.4 107h15.2M465.9 121h9.3M493.4 103h3.1M492.9 107h7.6M69.4 135h4.7M63.5 137h8.2M34.4 169h11.3M417.5 133h8.5M416.4 137h5.9M449.6 137h14.4M457.4 151h10.6M491.0 129h9.5M493.4 133h7.1M482.2 143h14.5M463.8 167h7.0M35.7 213h6.0M53.2 217h8.3M98.1 179h8.0M98.3 191h4.3M153.7 197h3.1M151.7 211h8.3M195.9 197h6.2M231.7 199h5.6M227.2 205h10.4M272.7 209h11.8M312.2 191h10.8M307.2 193h14.2M360.6 195h9.3M356.7 203h4.2M391.2 187h12.6M386.7 215h3.3M414.8 213h14.3M426.9 211h8.9M460.4 201h15.8M454.8 207h5.5M447.5 219h15.5M56.8 259h14.3M145.5 251h5.5M148.5 259h10.7M170.6 261h4.3M238.5 225h7.2M244.3 227h14.0M237.7 231h11.7M255.1 241h15.4M246.7 261h5.5M267.3 261h14.4M282.0 239h9.8M270.0 261h14.7M269.7 265h9.1M310.3 253h15.0M323.9 261h8.4M323.8 265h11.6M358.5 241h7.9M358.3 265h9.1M384.3 265h5.9M426.6 241h6.9M425.0 249h10.6M424.7 253h11.5M448.1 263h9.6M447.9 265h13.5M477.9 239h15.6M64.4 287h9.5M134.4 289h12.0M137.4 293h7.5M139.1 303h8.8M142.3 275h7.7M144.8 287h13.4M147.5 307h8.0M281.6 307h9.4M326.7 269h3.7M326.4 277h5.6M381.7 283h6.4M428.8 281h14.9M435.0 287h11.8M435.6 291h11.7M481.5 299h6.7M495.4 275h5.1M498.6 277h1.9M495.4 279h5.1M41.7 331h15.0M22.0 343h8.3M22.4 349h10.7M24.3 351h11.1M22.5 357h8.4M58.5 345h15.5M58.7 355h14.0M69.1 337h8.0M63.6 355h6.3M92.6 333h11.6M90.7 357h8.7M121.7 335h13.0M118.3 351h13.0M152.3 349h3.4M210.0 341h14.6M205.0 351h15.0M263.2 359h13.2M296.9 335h4.8M300.9 341h10.1M292.2 353h8.9M288.5 357h7.0M331.0 325h13.6M323.5 333h6.8M363.2 317h5.6M386.2 355h12.6M422.0 323h14.3M416.0 329h3.7M416.0 333h3.2M414.3 349h15.1M450.0 317h11.7M451.0 327h15.4M451.3 341h11.9M492.7 317h7.8M478.4 337h5.9M472.2 349h10.5M471.6 353h8.2M559.0 55h14.2M562.4 65h11.3M618.2 75h4.9M628.6 47h9.0M628.4 77h6.3M651.2 73h5.5M685.1 35h15.9M684.2 37h10.9M682.8 51h8.0M682.8 73h10.7M820.2 41h13.8M815.5 65h3.1M816.9 67h14.6M816.8 69h9.0M836.2 65h14.8M853.2 61h6.6M852.0 67h12.2M891.8 55h14.0M890.2 69h11.2M908.8 59h13.0M933.2 39h8.6M594.5 107h13.5M618.1 113h12.2M627.8 121h10.7M628.4 123h10.5M636.4 97h15.0M636.5 123h9.2M651.3 85h5.9M652.8 93h5.5M680.3 85h11.2M678.4 109h11.1M702.5 123h5.0M812.4 117h14.3M813.5 119h9.5M835.4 85h14.5M836.5 109h14.6M853.3 83h12.2M850.6 111h6.7M866.7 107h10.5M887.7 105h6.9M887.1 117h3.2M885.4 119h6.0M904.4 97h9.5M904.3 99h6.8M904.2 109h9.5M921.1 109h11.9M946.8 109h5.5M996.6 107h10.3M561.9 135h13.7M545.5 161h3.3M653.9 153h15.4M678.6 155h3.2M708.1 165h12.0M821.0 163h8.6M835.1 141h15.7M835.3 155h8.2M836.1 171h15.6M851.5 129h6.3M851.9 133h14.8M851.2 153h7.6M853.3 167h14.6M871.6 133h7.2M905.1 145h5.4M905.4 147h4.5M905.7 153h5.8M905.2 169h11.7M904.4 139h14.7M979.8 131h3.3M1012.1 129h4.4M999.6 143h8.0M560.5 191h4.4M539.2 219h4.2M594.1 205h13.1M595.2 215h3.1M625.8 181h11.2M630.0 201h15.1M627.5 215h3.2M651.6 201h4.8M651.1 215h8.7M684.8 203h4.3M712.2 177h4.4M712.1 185h9.8M712.0 189h10.1M750.3 183h15.0M749.2 185h5.6M748.2 187h11.0M740.8 195h11.1M736.9 197h10.5M778.2 181h13.6M780.2 187h10.7M780.5 191h9.9M812.5 197h9.5M827.4 189h13.0M828.1 197h14.5M825.5 201h10.4M825.9 211h3.9M827.4 215h8.2M841.3 209h3.1M841.3 213h8.8M843.4 215h14.9M856.9 199h6.9M897.4 205h12.6M976.3 191h14.9M975.0 195h6.9M973.1 201h11.8M972.0 203h15.3M974.0 205h14.7M580.3 261h3.2M575.9 265h7.7M614.6 229h13.2M611.6 239h15.3M608.4 247h11.9M606.5 255h10.3M650.6 223h4.0M653.4 229h3.1M652.8 247h14.0M650.9 251h9.5M677.3 241h9.5M670.2 259h9.4M733.5 251h11.4M762.8 257h7.3M780.0 263h5.7M825.1 261h15.2M843.1 263h15.2M856.9 227h14.6M858.1 241h13.6M858.7 243h5.2M855.9 255h11.1M866.4 237h7.1M867.3 241h4.7M867.7 263h10.5M896.5 253h14.6M903.9 253h12.9M923.3 241h6.1M921.8 259h6.6M953.5 237h13.1M953.2 251h4.5M957.4 263h7.9M993.4 227h6.9M1013.9 243h2.6M649.2 307h11.0M648.1 311h8.8M626.7 281h14.3M625.9 287h5.9M652.7 281h15.6M666.3 307h12.1M777.5 299h9.3M744.5 287h5.0M810.5 303h10.4M826.7 271h11.2M824.7 281h14.9M824.4 291h5.8M843.3 309h3.2M843.5 313h14.7M859.5 271h12.1M858.8 275h10.2M858.6 285h15.0M858.6 297h8.1M867.1 283h6.0M868.1 293h15.6M866.4 297h4.3M894.9 291h4.8M895.3 305h14.0M894.8 311h15.2M904.1 297h8.8M905.1 305h8.4M928.1 299h11.9M930.1 301h12.3M956.6 293h9.8M957.1 295h3.6M955.6 307h4.1M1014.4 295h2.1M566.7 337h7.7M604.6 327h4.1M624.2 345h6.8M651.1 343h4.9M652.9 343h9.8M685.8 323h13.9M685.7 325h4.1M706.0 341h12.2M705.6 343h15.3M762.4 355h11.3M780.1 339h4.8M814.0 341h14.3M813.2 347h7.7M819.6 339h11.3M819.2 343h3.8M839.2 337h13.6M836.6 345h13.9M855.0 341h6.2M854.4 351h3.7M854.5 359h7.6M866.5 359h13.2M825.3 353h11.4M897.6 329h15.5M898.0 331h14.5M894.5 345h12.4M904.7 341h9.4M904.2 347h12.3M950.2 335h4.1M945.5 341h3.7M943.3 345h3.3M976.5 345h7.6M965.8 359h10.6"/><path stroke="#8cc38c" d="M70.4 43h3.6M136.6 75h4.3M423.7 43h3.0M431.8 63h3.6M467.0 35h5.1M136.7 119h8.1M441.7 115h4.4M467.6 107h5.8M33.6 155h5.6M23.1 171h0.7M366.1 159h5.1M473.8 147h4.9M84.7 199h6.5M102.2 207h8.1M162.8 219h6.8M233.2 211h5.6M321.7 187h6.3M337.5 215h4.2M363.9 199h7.2M37.1 263h8.3M170.0 235h7.0M200.6 239h9.0M256.1 251h8.6M259.3 259h5.4M374.9 263h7.0M94.1 295h1.5M76.9 307h8.8M130.7 283h8.6M144.6 307h2.8M169.6 311h8.0M191.4 311h5.8M262.9 311h5.0M287.5 299h5.5M387.8 307h4.4M423.7 307h3.8M431.5 311h6.1M483.4 279h3.8M113.3 319h5.5M124.5 327h6.6M140.8 331h2.3M119.6 347h6.4M309.4 355h4.8M342.9 323h4.1M341.9 351h8.1M330.2 359h6.3M346.7 359h6.5M424.3 339h4.4M551.7 39h7.2M532.8 67h5.7M577.0 47h6.4M591.8 59h7.0M607.9 75h8.9M649.6 47h2.8M636.8 63h5.4M681.3 47h2.1M828.2 63h7.2M838.6 55h8.9M836.1 67h6.7M899.0 39h5.7M959.1 67h4.3M980.8 59h2.9M543.8 103h4.0M561.9 123h0.5M589.8 111h6.3M613.1 91h3.4M645.6 87h6.3M636.7 119h5.1M919.4 119h3.8M962.4 111h5.9M548.1 143h6.1M593.9 151h0.6M615.2 143h8.1M604.1 155h4.8M603.3 159h4.0M658.3 163h6.4M846.5 139h4.1M877.6 143h6.7M879.8 151h7.8M885.0 167h4.9M892.3 163h5.8M904.0 167h1.1M977.0 131h2.8M906.4 139h5.7M943.9 147h7.3M971.4 171h2.1M995.8 143h3.8M531.9 203h5.8M557.6 195h5.0M589.0 187h5.1M605.4 183h6.9M621.4 183h4.8M618.2 191h4.2M642.4 187h7.1M659.2 179h3.9M655.6 183h5.3M719.8 199h6.4M758.0 203h4.3M738.7 219h5.1M821.4 179h4.0M821.4 219h5.5M825.4 199h4.5M830.4 203h6.6M841.5 207h4.2M858.1 199h8.8M964.0 183h4.0M932.8 207h5.1M914.7 211h6.2M539.9 259h5.4M645.6 235h3.4M684.2 247h7.0M815.6 251h7.2M827.9 239h5.5M853.0 247h4.6M861.9 223h5.7M883.6 227h7.4M883.4 259h6.8M988.0 227h3.2M1006.5 247h4.5M560.3 291h3.2M630.1 307h3.8M528.9 311h5.2M723.9 303h4.5M674.8 311h7.5M763.1 291h8.9M784.3 299h3.4M824.1 299h1.0M816.8 311h4.5M862.5 307h5.8M890.1 279h4.0M867.8 303h5.0M886.4 311h7.9M902.6 279h3.1M941.7 307h4.8M997.0 295h3.8M1012.0 295h2.4M562.6 339h2.7M573.2 347h4.1M601.2 359h8.5M643.2 323h6.3M678.0 335h5.4M720.5 359h6.7M744.4 347h8.2M757.0 347h6.0M798.7 343h5.0M827.6 323h5.9M827.1 343h3.0M828.5 347h5.1M843.8 327h6.2M857.4 359h3.6M973.9 331h3.3M954.4 347h4.7M999.0 331h4.1"/></g>
<g><rect x="465.9" y="65.8" width="36.2" height="14.5" fill="#fff"/><rect x="466.8" y="112.3" width="35.3" height="14.5" fill="#fff"/><rect x="462.8" y="159.0" width="39.5" height="14.5" fill="#fff"/><rect x="445.5" y="205.9" width="56.7" height="14.5" fill="#fff"/><rect x="448.7" y="252.9" width="52.6" height="14.5" fill="#fff"/><rect x="447.5" y="299.3" width="54.2" height="14.5" fill="#fff"/><rect x="452.2" y="348.3" width="49.1" height="14.5" fill="#fff"/><rect x="981.6" y="65.4" width="36.2" height="14.5" fill="#fff"/><rect x="982.0" y="112.6" width="35.3" height="14.5" fill="#fff"/><rect x="978.0" y="160.7" width="39.5" height="14.5" fill="#fff"/><rect x="967.6" y="207.3" width="49.1" height="14.5" fill="#fff"/><rect x="960.0" y="254.8" width="56.7" height="14.5" fill="#fff"/><rect x="963.9" y="301.1" width="52.6" height="14.5" fill="#fff"/><rect x="962.5" y="347.8" width="54.2" height="14.5" fill="#fff"/><rect x="452.1" y="485.6" width="49.1" height="14.5" fill="#fff"/><rect x="962.8" y="484.5" width="54.2" height="14.5" fill="#fff"/></g>
<g><rect x="528" y="78.80" width="490" height="1" fill="#9a9a9a"/><rect x="528" y="126.10" width="490" height="1" fill="#9a9a9a"/><rect x="528" y="173.40" width="490" height="1" fill="#9a9a9a"/><rect x="528" y="220.70" width="490" height="1" fill="#9a9a9a"/><rect x="528" y="268.00" width="490" height="1" fill="#9a9a9a"/><rect x="528" y="315.30" width="490" height="1" fill="#9a9a9a"/><rect x="10" y="362.4" width="493" height="1" fill="#b0b0b0"/><rect x="528" y="362.4" width="490" height="1" fill="#b0b0b0"/></g>
<g><rect x="12" y="365.5" width="487" height="8.50" fill="#ededed"/><rect x="16.25" y="365.5" width="1.0" height="8.50" fill="#555555"/><rect x="19.20" y="365.5" width="1.6" height="8.50" fill="#777777"/><rect x="23.00" y="365.5" width="1.0" height="8.50" fill="#333333"/><rect x="31.10" y="365.5" width="1.3" height="8.50" fill="#999999"/><rect x="40.00" y="365.5" width="1.0" height="8.50" fill="#555555"/><rect x="65.20" y="365.5" width="1.6" height="8.50" fill="#999999"/><rect x="82.50" y="365.5" width="1.0" height="8.50" fill="#888888"/><rect x="89.50" y="365.5" width="1.0" height="8.50" fill="#555555"/><rect x="91.25" y="365.5" width="1.0" height="8.50" fill="#888888"/><rect x="92.50" y="365.5" width="1.0" height="8.50" fill="#333333"/><rect x="102.85" y="365.5" width="1.3" height="8.50" fill="#222222"/><rect x="104.35" y="365.5" width="1.3" height="8.50" fill="#222222"/><rect x="105.95" y="365.5" width="1.6" height="8.50" fill="#999999"/><rect x="107.70" y="365.5" width="1.6" height="8.50" fill="#888888"/><rect x="109.50" y="365.5" width="1.0" height="8.50" fill="#999999"/><rect x="113.75" y="365.5" width="1.0" height="8.50" fill="#777777"/><rect x="120.00" y="365.5" width="1.0" height="8.50" fill="#222222"/><rect x="122.50" y="365.5" width="1.0" height="8.50" fill="#999999"/><rect x="133.45" y="365.5" width="1.6" height="8.50" fill="#666666"/><rect x="135.20" y="365.5" width="1.6" height="8.50" fill="#666666"/><rect x="142.35" y="365.5" width="1.3" height="8.50" fill="#888888"/><rect x="144.50" y="365.5" width="1.0" height="8.50" fill="#888888"/><rect x="146.25" y="365.5" width="1.0" height="8.50" fill="#777777"/><rect x="155.00" y="365.5" width="1.0" height="8.50" fill="#666666"/><rect x="158.75" y="365.5" width="1.0" height="8.50" fill="#777777"/><rect x="163.60" y="365.5" width="1.3" height="8.50" fill="#555555"/><rect x="167.50" y="365.5" width="1.0" height="8.50" fill="#666666"/><rect x="169.20" y="365.5" width="1.6" height="8.50" fill="#333333"/><rect x="173.75" y="365.5" width="1.0" height="8.50" fill="#999999"/><rect x="178.75" y="365.5" width="1.0" height="8.50" fill="#777777"/><rect x="187.00" y="365.5" width="1.0" height="8.50" fill="#888888"/><rect x="189.85" y="365.5" width="1.3" height="8.50" fill="#222222"/><rect x="191.45" y="365.5" width="1.6" height="8.50" fill="#888888"/><rect x="192.50" y="365.5" width="1.0" height="8.50" fill="#333333"/><rect x="203.45" y="365.5" width="1.6" height="8.50" fill="#222222"/><rect x="207.35" y="365.5" width="1.3" height="8.50" fill="#777777"/><rect x="242.00" y="365.5" width="1.0" height="8.50" fill="#555555"/><rect x="247.50" y="365.5" width="1.0" height="8.50" fill="#666666"/><rect x="260.00" y="365.5" width="1.0" height="8.50" fill="#333333"/><rect x="261.25" y="365.5" width="1.0" height="8.50" fill="#222222"/><rect x="257.85" y="365.5" width="1.3" height="8.50" fill="#888888"/><rect x="260.50" y="365.5" width="1.0" height="8.50" fill="#666666"/><rect x="262.85" y="365.5" width="1.3" height="8.50" fill="#222222"/><rect x="274.10" y="365.5" width="1.3" height="8.50" fill="#777777"/><rect x="275.20" y="365.5" width="1.6" height="8.50" fill="#444444"/><rect x="276.45" y="365.5" width="1.6" height="8.50" fill="#888888"/><rect x="278.00" y="365.5" width="1.0" height="8.50" fill="#888888"/><rect x="278.95" y="365.5" width="1.6" height="8.50" fill="#666666"/><rect x="284.10" y="365.5" width="1.3" height="8.50" fill="#555555"/><rect x="285.35" y="365.5" width="1.3" height="8.50" fill="#888888"/><rect x="287.35" y="365.5" width="1.3" height="8.50" fill="#666666"/><rect x="288.95" y="365.5" width="1.6" height="8.50" fill="#222222"/><rect x="290.50" y="365.5" width="1.0" height="8.50" fill="#777777"/><rect x="300.00" y="365.5" width="1.0" height="8.50" fill="#888888"/><rect x="301.60" y="365.5" width="1.3" height="8.50" fill="#222222"/><rect x="305.35" y="365.5" width="1.3" height="8.50" fill="#999999"/><rect x="309.10" y="365.5" width="1.3" height="8.50" fill="#777777"/><rect x="318.00" y="365.5" width="1.0" height="8.50" fill="#999999"/><rect x="330.50" y="365.5" width="1.0" height="8.50" fill="#222222"/><rect x="332.35" y="365.5" width="1.3" height="8.50" fill="#777777"/><rect x="334.10" y="365.5" width="1.3" height="8.50" fill="#999999"/><rect x="336.75" y="365.5" width="1.0" height="8.50" fill="#777777"/><rect x="339.25" y="365.5" width="1.0" height="8.50" fill="#777777"/><rect x="341.60" y="365.5" width="1.3" height="8.50" fill="#777777"/><rect x="345.35" y="365.5" width="1.3" height="8.50" fill="#666666"/><rect x="348.00" y="365.5" width="1.0" height="8.50" fill="#888888"/><rect x="350.00" y="365.5" width="1.0" height="8.50" fill="#222222"/><rect x="353.00" y="365.5" width="1.0" height="8.50" fill="#666666"/><rect x="355.00" y="365.5" width="1.0" height="8.50" fill="#666666"/><rect x="356.75" y="365.5" width="1.0" height="8.50" fill="#777777"/><rect x="358.00" y="365.5" width="1.0" height="8.50" fill="#888888"/><rect x="361.60" y="365.5" width="1.3" height="8.50" fill="#333333"/><rect x="363.00" y="365.5" width="1.0" height="8.50" fill="#777777"/><rect x="364.25" y="365.5" width="1.0" height="8.50" fill="#999999"/><rect x="375.35" y="365.5" width="1.3" height="8.50" fill="#333333"/><rect x="377.70" y="365.5" width="1.6" height="8.50" fill="#555555"/><rect x="389.25" y="365.5" width="1.0" height="8.50" fill="#666666"/><rect x="399.25" y="365.5" width="1.0" height="8.50" fill="#333333"/><rect x="414.10" y="365.5" width="1.3" height="8.50" fill="#555555"/><rect x="427.85" y="365.5" width="1.3" height="8.50" fill="#444444"/><rect x="434.25" y="365.5" width="1.0" height="8.50" fill="#777777"/><rect x="443.00" y="365.5" width="1.0" height="8.50" fill="#777777"/><rect x="445.35" y="365.5" width="1.3" height="8.50" fill="#888888"/><rect x="447.70" y="365.5" width="1.6" height="8.50" fill="#666666"/><rect x="450.20" y="365.5" width="1.6" height="8.50" fill="#777777"/><rect x="453.95" y="365.5" width="1.6" height="8.50" fill="#666666"/><rect x="459.25" y="365.5" width="1.0" height="8.50" fill="#888888"/><rect x="463.00" y="365.5" width="1.0" height="8.50" fill="#888888"/><rect x="464.25" y="365.5" width="1.0" height="8.50" fill="#555555"/><rect x="468.95" y="365.5" width="1.6" height="8.50" fill="#999999"/><rect x="471.75" y="365.5" width="1.0" height="8.50" fill="#555555"/><rect x="491.60" y="365.5" width="1.3" height="8.50" fill="#999999"/><rect x="496.75" y="365.5" width="1.0" height="8.50" fill="#777777"/><rect x="12" y="383.5" width="487" height="8.50" fill="#ededed"/><rect x="14.85" y="383.5" width="1.3" height="8.50" fill="#333333"/><rect x="18.75" y="383.5" width="1.0" height="8.50" fill="#333333"/><rect x="25.00" y="383.5" width="1.0" height="8.50" fill="#222222"/><rect x="26.70" y="383.5" width="1.6" height="8.50" fill="#555555"/><rect x="37.50" y="383.5" width="1.0" height="8.50" fill="#222222"/><rect x="38.75" y="383.5" width="1.0" height="8.50" fill="#999999"/><rect x="42.35" y="383.5" width="1.3" height="8.50" fill="#444444"/><rect x="45.50" y="383.5" width="1.0" height="8.50" fill="#555555"/><rect x="57.00" y="383.5" width="1.0" height="8.50" fill="#888888"/><rect x="126.10" y="383.5" width="1.3" height="8.50" fill="#333333"/><rect x="128.60" y="383.5" width="1.3" height="8.50" fill="#444444"/><rect x="135.50" y="383.5" width="1.0" height="8.50" fill="#999999"/><rect x="138.75" y="383.5" width="1.0" height="8.50" fill="#777777"/><rect x="141.25" y="383.5" width="1.0" height="8.50" fill="#555555"/><rect x="145.00" y="383.5" width="1.0" height="8.50" fill="#333333"/><rect x="148.60" y="383.5" width="1.3" height="8.50" fill="#555555"/><rect x="152.50" y="383.5" width="1.0" height="8.50" fill="#444444"/><rect x="167.20" y="383.5" width="1.6" height="8.50" fill="#999999"/><rect x="171.10" y="383.5" width="1.3" height="8.50" fill="#222222"/><rect x="172.35" y="383.5" width="1.3" height="8.50" fill="#555555"/><rect x="181.25" y="383.5" width="1.0" height="8.50" fill="#888888"/><rect x="184.85" y="383.5" width="1.3" height="8.50" fill="#999999"/><rect x="190.00" y="383.5" width="1.0" height="8.50" fill="#222222"/><rect x="195.00" y="383.5" width="1.0" height="8.50" fill="#444444"/><rect x="205.00" y="383.5" width="1.0" height="8.50" fill="#333333"/><rect x="208.45" y="383.5" width="1.6" height="8.50" fill="#333333"/><rect x="211.25" y="383.5" width="1.0" height="8.50" fill="#222222"/><rect x="213.60" y="383.5" width="1.3" height="8.50" fill="#999999"/><rect x="216.85" y="383.5" width="1.3" height="8.50" fill="#444444"/><rect x="219.85" y="383.5" width="1.3" height="8.50" fill="#333333"/><rect x="223.45" y="383.5" width="1.6" height="8.50" fill="#888888"/><rect x="228.60" y="383.5" width="1.3" height="8.50" fill="#666666"/><rect x="231.25" y="383.5" width="1.0" height="8.50" fill="#666666"/><rect x="233.45" y="383.5" width="1.6" height="8.50" fill="#777777"/><rect x="236.25" y="383.5" width="1.0" height="8.50" fill="#333333"/><rect x="238.45" y="383.5" width="1.6" height="8.50" fill="#222222"/><rect x="241.25" y="383.5" width="1.0" height="8.50" fill="#333333"/><rect x="243.60" y="383.5" width="1.3" height="8.50" fill="#222222"/><rect x="248.45" y="383.5" width="1.6" height="8.50" fill="#999999"/><rect x="250.95" y="383.5" width="1.6" height="8.50" fill="#222222"/><rect x="253.60" y="383.5" width="1.3" height="8.50" fill="#222222"/><rect x="258.60" y="383.5" width="1.3" height="8.50" fill="#999999"/><rect x="260.95" y="383.5" width="1.6" height="8.50" fill="#888888"/><rect x="258.50" y="383.5" width="1.0" height="8.50" fill="#999999"/><rect x="261.00" y="383.5" width="1.0" height="8.50" fill="#555555"/><rect x="266.75" y="383.5" width="1.0" height="8.50" fill="#666666"/><rect x="279.25" y="383.5" width="1.0" height="8.50" fill="#888888"/><rect x="289.25" y="383.5" width="1.0" height="8.50" fill="#888888"/><rect x="299.85" y="383.5" width="1.3" height="8.50" fill="#222222"/><rect x="301.60" y="383.5" width="1.3" height="8.50" fill="#777777"/><rect x="303.20" y="383.5" width="1.6" height="8.50" fill="#333333"/><rect x="305.20" y="383.5" width="1.6" height="8.50" fill="#333333"/><rect x="306.60" y="383.5" width="1.3" height="8.50" fill="#333333"/><rect x="321.00" y="383.5" width="1.0" height="8.50" fill="#333333"/><rect x="326.75" y="383.5" width="1.0" height="8.50" fill="#999999"/><rect x="328.95" y="383.5" width="1.6" height="8.50" fill="#555555"/><rect x="331.75" y="383.5" width="1.0" height="8.50" fill="#222222"/><rect x="333.20" y="383.5" width="1.6" height="8.50" fill="#333333"/><rect x="336.00" y="383.5" width="1.0" height="8.50" fill="#444444"/><rect x="346.75" y="383.5" width="1.0" height="8.50" fill="#777777"/><rect x="350.50" y="383.5" width="1.0" height="8.50" fill="#222222"/><rect x="354.10" y="383.5" width="1.3" height="8.50" fill="#999999"/><rect x="358.00" y="383.5" width="1.0" height="8.50" fill="#666666"/><rect x="360.50" y="383.5" width="1.0" height="8.50" fill="#222222"/><rect x="366.75" y="383.5" width="1.0" height="8.50" fill="#333333"/><rect x="370.35" y="383.5" width="1.3" height="8.50" fill="#222222"/><rect x="376.75" y="383.5" width="1.0" height="8.50" fill="#444444"/><rect x="378.00" y="383.5" width="1.0" height="8.50" fill="#555555"/><rect x="379.70" y="383.5" width="1.6" height="8.50" fill="#555555"/><rect x="381.60" y="383.5" width="1.3" height="8.50" fill="#888888"/><rect x="383.95" y="383.5" width="1.6" height="8.50" fill="#777777"/><rect x="386.45" y="383.5" width="1.6" height="8.50" fill="#777777"/><rect x="388.95" y="383.5" width="1.6" height="8.50" fill="#333333"/><rect x="391.45" y="383.5" width="1.6" height="8.50" fill="#555555"/><rect x="395.20" y="383.5" width="1.6" height="8.50" fill="#444444"/><rect x="398.00" y="383.5" width="1.0" height="8.50" fill="#999999"/><rect x="409.25" y="383.5" width="1.0" height="8.50" fill="#888888"/><rect x="410.50" y="383.5" width="1.0" height="8.50" fill="#444444"/><rect x="415.20" y="383.5" width="1.6" height="8.50" fill="#999999"/><rect x="423.00" y="383.5" width="1.0" height="8.50" fill="#999999"/><rect x="425.35" y="383.5" width="1.3" height="8.50" fill="#444444"/><rect x="428.00" y="383.5" width="1.0" height="8.50" fill="#555555"/><rect x="431.75" y="383.5" width="1.0" height="8.50" fill="#777777"/><rect x="435.20" y="383.5" width="1.6" height="8.50" fill="#666666"/><rect x="440.50" y="383.5" width="1.0" height="8.50" fill="#666666"/><rect x="441.75" y="383.5" width="1.0" height="8.50" fill="#666666"/><rect x="442.70" y="383.5" width="1.6" height="8.50" fill="#666666"/><rect x="444.25" y="383.5" width="1.0" height="8.50" fill="#888888"/><rect x="446.60" y="383.5" width="1.3" height="8.50" fill="#444444"/><rect x="452.85" y="383.5" width="1.3" height="8.50" fill="#555555"/><rect x="458.00" y="383.5" width="1.0" height="8.50" fill="#999999"/><rect x="460.20" y="383.5" width="1.6" height="8.50" fill="#888888"/><rect x="462.70" y="383.5" width="1.6" height="8.50" fill="#555555"/><rect x="466.45" y="383.5" width="1.6" height="8.50" fill="#222222"/><rect x="467.70" y="383.5" width="1.6" height="8.50" fill="#333333"/><rect x="481.45" y="383.5" width="1.6" height="8.50" fill="#222222"/><rect x="484.25" y="383.5" width="1.0" height="8.50" fill="#555555"/><rect x="12" y="401" width="487" height="8.50" fill="#ededed"/><rect x="13.75" y="401" width="1.0" height="8.50" fill="#333333"/><rect x="17.50" y="401" width="1.0" height="8.50" fill="#666666"/><rect x="21.10" y="401" width="1.3" height="8.50" fill="#555555"/><rect x="23.75" y="401" width="1.0" height="8.50" fill="#444444"/><rect x="25.35" y="401" width="1.3" height="8.50" fill="#222222"/><rect x="27.50" y="401" width="1.0" height="8.50" fill="#444444"/><rect x="30.00" y="401" width="1.0" height="8.50" fill="#777777"/><rect x="35.50" y="401" width="1.0" height="8.50" fill="#888888"/><rect x="37.00" y="401" width="1.0" height="8.50" fill="#333333"/><rect x="45.35" y="401" width="1.3" height="8.50" fill="#333333"/><rect x="48.75" y="401" width="1.0" height="8.50" fill="#666666"/><rect x="51.70" y="401" width="1.6" height="8.50" fill="#777777"/><rect x="55.00" y="401" width="1.0" height="8.50" fill="#777777"/><rect x="57.35" y="401" width="1.3" height="8.50" fill="#222222"/><rect x="59.20" y="401" width="1.6" height="8.50" fill="#777777"/><rect x="60.20" y="401" width="1.6" height="8.50" fill="#888888"/><rect x="63.00" y="401" width="1.0" height="8.50" fill="#333333"/><rect x="67.20" y="401" width="1.6" height="8.50" fill="#999999"/><rect x="68.60" y="401" width="1.3" height="8.50" fill="#444444"/><rect x="69.85" y="401" width="1.3" height="8.50" fill="#333333"/><rect x="71.70" y="401" width="1.6" height="8.50" fill="#333333"/><rect x="72.70" y="401" width="1.6" height="8.50" fill="#333333"/><rect x="75.00" y="401" width="1.0" height="8.50" fill="#666666"/><rect x="76.85" y="401" width="1.3" height="8.50" fill="#777777"/><rect x="78.60" y="401" width="1.3" height="8.50" fill="#999999"/><rect x="80.00" y="401" width="1.0" height="8.50" fill="#666666"/><rect x="87.50" y="401" width="1.0" height="8.50" fill="#777777"/><rect x="89.85" y="401" width="1.3" height="8.50" fill="#999999"/><rect x="92.35" y="401" width="1.3" height="8.50" fill="#222222"/><rect x="96.25" y="401" width="1.0" height="8.50" fill="#444444"/><rect x="98.60" y="401" width="1.3" height="8.50" fill="#444444"/><rect x="100.00" y="401" width="1.0" height="8.50" fill="#999999"/><rect x="118.75" y="401" width="1.0" height="8.50" fill="#333333"/><rect x="130.95" y="401" width="1.6" height="8.50" fill="#777777"/><rect x="135.00" y="401" width="1.0" height="8.50" fill="#666666"/><rect x="138.45" y="401" width="1.6" height="8.50" fill="#999999"/><rect x="151.25" y="401" width="1.0" height="8.50" fill="#666666"/><rect x="153.75" y="401" width="1.0" height="8.50" fill="#333333"/><rect x="154.70" y="401" width="1.6" height="8.50" fill="#444444"/><rect x="166.25" y="401" width="1.0" height="8.50" fill="#777777"/><rect x="169.85" y="401" width="1.3" height="8.50" fill="#666666"/><rect x="173.75" y="401" width="1.0" height="8.50" fill="#888888"/><rect x="177.50" y="401" width="1.0" height="8.50" fill="#444444"/><rect x="181.10" y="401" width="1.3" height="8.50" fill="#999999"/><rect x="183.60" y="401" width="1.3" height="8.50" fill="#555555"/><rect x="185.95" y="401" width="1.6" height="8.50" fill="#777777"/><rect x="190.00" y="401" width="1.0" height="8.50" fill="#999999"/><rect x="202.20" y="401" width="1.6" height="8.50" fill="#777777"/><rect x="205.00" y="401" width="1.0" height="8.50" fill="#333333"/><rect x="207.50" y="401" width="1.0" height="8.50" fill="#666666"/><rect x="211.25" y="401" width="1.0" height="8.50" fill="#333333"/><rect x="215.00" y="401" width="1.0" height="8.50" fill="#444444"/><rect x="219.70" y="401" width="1.6" height="8.50" fill="#888888"/><rect x="223.75" y="401" width="1.0" height="8.50" fill="#444444"/><rect x="228.75" y="401" width="1.0" height="8.50" fill="#888888"/><rect x="231.25" y="401" width="1.0" height="8.50" fill="#444444"/><rect x="233.60" y="401" width="1.3" height="8.50" fill="#555555"/><rect x="236.10" y="401" width="1.3" height="8.50" fill="#777777"/><rect x="240.95" y="401" width="1.6" height="8.50" fill="#222222"/><rect x="248.45" y="401" width="1.6" height="8.50" fill="#888888"/><rect x="251.10" y="401" width="1.3" height="8.50" fill="#777777"/><rect x="253.60" y="401" width="1.3" height="8.50" fill="#999999"/><rect x="256.25" y="401" width="1.0" height="8.50" fill="#999999"/><rect x="258.75" y="401" width="1.0" height="8.50" fill="#555555"/><rect x="261.25" y="401" width="1.0" height="8.50" fill="#333333"/><rect x="256.75" y="401" width="1.0" height="8.50" fill="#999999"/><rect x="258.00" y="401" width="1.0" height="8.50" fill="#999999"/><rect x="259.25" y="401" width="1.0" height="8.50" fill="#555555"/><rect x="261.45" y="401" width="1.6" height="8.50" fill="#222222"/><rect x="262.85" y="401" width="1.3" height="8.50" fill="#333333"/><rect x="264.25" y="401" width="1.0" height="8.50" fill="#444444"/><rect x="269.25" y="401" width="1.0" height="8.50" fill="#999999"/><rect x="271.00" y="401" width="1.0" height="8.50" fill="#222222"/><rect x="273.00" y="401" width="1.0" height="8.50" fill="#777777"/><rect x="273.95" y="401" width="1.6" height="8.50" fill="#333333"/><rect x="275.35" y="401" width="1.3" height="8.50" fill="#222222"/><rect x="276.60" y="401" width="1.3" height="8.50" fill="#777777"/><rect x="278.00" y="401" width="1.0" height="8.50" fill="#777777"/><rect x="279.25" y="401" width="1.0" height="8.50" fill="#333333"/><rect x="282.85" y="401" width="1.3" height="8.50" fill="#333333"/><rect x="290.50" y="401" width="1.0" height="8.50" fill="#555555"/><rect x="292.20" y="401" width="1.6" height="8.50" fill="#555555"/><rect x="293.95" y="401" width="1.6" height="8.50" fill="#555555"/><rect x="298.00" y="401" width="1.0" height="8.50" fill="#777777"/><rect x="300.20" y="401" width="1.6" height="8.50" fill="#222222"/><rect x="308.00" y="401" width="1.0" height="8.50" fill="#333333"/><rect x="308.95" y="401" width="1.6" height="8.50" fill="#444444"/><rect x="310.70" y="401" width="1.6" height="8.50" fill="#999999"/><rect x="312.20" y="401" width="1.6" height="8.50" fill="#333333"/><rect x="320.20" y="401" width="1.6" height="8.50" fill="#555555"/><rect x="324.25" y="401" width="1.0" height="8.50" fill="#666666"/><rect x="327.70" y="401" width="1.6" height="8.50" fill="#999999"/><rect x="336.45" y="401" width="1.6" height="8.50" fill="#888888"/><rect x="341.45" y="401" width="1.6" height="8.50" fill="#444444"/><rect x="344.10" y="401" width="1.3" height="8.50" fill="#222222"/><rect x="354.10" y="401" width="1.3" height="8.50" fill="#777777"/><rect x="355.35" y="401" width="1.3" height="8.50" fill="#999999"/><rect x="360.50" y="401" width="1.0" height="8.50" fill="#888888"/><rect x="364.25" y="401" width="1.0" height="8.50" fill="#222222"/><rect x="365.35" y="401" width="1.3" height="8.50" fill="#666666"/><rect x="370.20" y="401" width="1.6" height="8.50" fill="#444444"/><rect x="371.75" y="401" width="1.0" height="8.50" fill="#555555"/><rect x="390.50" y="401" width="1.0" height="8.50" fill="#555555"/><rect x="391.45" y="401" width="1.6" height="8.50" fill="#444444"/><rect x="399.25" y="401" width="1.0" height="8.50" fill="#444444"/><rect x="401.75" y="401" width="1.0" height="8.50" fill="#444444"/><rect x="403.95" y="401" width="1.6" height="8.50" fill="#444444"/><rect x="406.75" y="401" width="1.0" height="8.50" fill="#999999"/><rect x="409.25" y="401" width="1.0" height="8.50" fill="#222222"/><rect x="411.45" y="401" width="1.6" height="8.50" fill="#888888"/><rect x="416.45" y="401" width="1.6" height="8.50" fill="#777777"/><rect x="418.00" y="401" width="1.0" height="8.50" fill="#222222"/><rect x="418.95" y="401" width="1.6" height="8.50" fill="#555555"/><rect x="420.20" y="401" width="1.6" height="8.50" fill="#222222"/><rect x="421.75" y="401" width="1.0" height="8.50" fill="#999999"/><rect x="423.00" y="401" width="1.0" height="8.50" fill="#555555"/><rect x="425.20" y="401" width="1.6" height="8.50" fill="#333333"/><rect x="428.00" y="401" width="1.0" height="8.50" fill="#999999"/><rect x="430.35" y="401" width="1.3" height="8.50" fill="#444444"/><rect x="432.85" y="401" width="1.3" height="8.50" fill="#333333"/><rect x="435.50" y="401" width="1.0" height="8.50" fill="#333333"/><rect x="439.10" y="401" width="1.3" height="8.50" fill="#666666"/><rect x="440.35" y="401" width="1.3" height="8.50" fill="#999999"/><rect x="448.00" y="401" width="1.0" height="8.50" fill="#999999"/><rect x="450.50" y="401" width="1.0" height="8.50" fill="#666666"/><rect x="452.85" y="401" width="1.3" height="8.50" fill="#777777"/><rect x="455.50" y="401" width="1.0" height="8.50" fill="#777777"/><rect x="457.70" y="401" width="1.6" height="8.50" fill="#222222"/><rect x="460.50" y="401" width="1.0" height="8.50" fill="#333333"/><rect x="468.00" y="401" width="1.0" height="8.50" fill="#333333"/><rect x="473.00" y="401" width="1.0" height="8.50" fill="#333333"/><rect x="475.50" y="401" width="1.0" height="8.50" fill="#444444"/><rect x="478.00" y="401" width="1.0" height="8.50" fill="#999999"/><rect x="480.35" y="401" width="1.3" height="8.50" fill="#555555"/><rect x="486.45" y="401" width="1.6" height="8.50" fill="#555555"/><rect x="487.70" y="401" width="1.6" height="8.50" fill="#777777"/><rect x="489.25" y="401" width="1.0" height="8.50" fill="#777777"/><rect x="12" y="462" width="487" height="8.80" fill="#ededed"/><rect x="13.60" y="462" width="1.3" height="8.80" fill="#888888"/><rect x="16.25" y="462" width="1.0" height="8.80" fill="#888888"/><rect x="18.75" y="462" width="1.0" height="8.80" fill="#666666"/><rect x="28.75" y="462" width="1.0" height="8.80" fill="#888888"/><rect x="32.35" y="462" width="1.3" height="8.80" fill="#888888"/><rect x="35.00" y="462" width="1.0" height="8.80" fill="#888888"/><rect x="36.85" y="462" width="1.3" height="8.80" fill="#888888"/><rect x="38.60" y="462" width="1.3" height="8.80" fill="#444444"/><rect x="42.20" y="462" width="1.6" height="8.80" fill="#888888"/><rect x="44.70" y="462" width="1.6" height="8.80" fill="#555555"/><rect x="51.10" y="462" width="1.3" height="8.80" fill="#999999"/><rect x="52.50" y="462" width="1.0" height="8.80" fill="#666666"/><rect x="55.95" y="462" width="1.6" height="8.80" fill="#888888"/><rect x="57.50" y="462" width="1.0" height="8.80" fill="#222222"/><rect x="58.75" y="462" width="1.0" height="8.80" fill="#444444"/><rect x="60.00" y="462" width="1.0" height="8.80" fill="#999999"/><rect x="61.10" y="462" width="1.3" height="8.80" fill="#333333"/><rect x="63.75" y="462" width="1.0" height="8.80" fill="#555555"/><rect x="65.95" y="462" width="1.6" height="8.80" fill="#222222"/><rect x="68.60" y="462" width="1.3" height="8.80" fill="#999999"/><rect x="71.25" y="462" width="1.0" height="8.80" fill="#777777"/><rect x="73.75" y="462" width="1.0" height="8.80" fill="#333333"/><rect x="76.25" y="462" width="1.0" height="8.80" fill="#888888"/><rect x="78.60" y="462" width="1.3" height="8.80" fill="#777777"/><rect x="82.20" y="462" width="1.6" height="8.80" fill="#333333"/><rect x="85.00" y="462" width="1.0" height="8.80" fill="#333333"/><rect x="87.50" y="462" width="1.0" height="8.80" fill="#555555"/><rect x="91.25" y="462" width="1.0" height="8.80" fill="#444444"/><rect x="98.75" y="462" width="1.0" height="8.80" fill="#222222"/><rect x="101.10" y="462" width="1.3" height="8.80" fill="#555555"/><rect x="103.75" y="462" width="1.0" height="8.80" fill="#555555"/><rect x="118.60" y="462" width="1.3" height="8.80" fill="#888888"/><rect x="119.70" y="462" width="1.6" height="8.80" fill="#555555"/><rect x="125.00" y="462" width="1.0" height="8.80" fill="#444444"/><rect x="132.50" y="462" width="1.0" height="8.80" fill="#222222"/><rect x="136.25" y="462" width="1.0" height="8.80" fill="#222222"/><rect x="147.35" y="462" width="1.3" height="8.80" fill="#555555"/><rect x="150.00" y="462" width="1.0" height="8.80" fill="#333333"/><rect x="154.70" y="462" width="1.6" height="8.80" fill="#999999"/><rect x="157.50" y="462" width="1.0" height="8.80" fill="#555555"/><rect x="158.60" y="462" width="1.3" height="8.80" fill="#999999"/><rect x="167.20" y="462" width="1.6" height="8.80" fill="#888888"/><rect x="169.85" y="462" width="1.3" height="8.80" fill="#333333"/><rect x="172.20" y="462" width="1.6" height="8.80" fill="#999999"/><rect x="175.00" y="462" width="1.0" height="8.80" fill="#555555"/><rect x="177.20" y="462" width="1.6" height="8.80" fill="#222222"/><rect x="180.00" y="462" width="1.0" height="8.80" fill="#666666"/><rect x="182.35" y="462" width="1.3" height="8.80" fill="#777777"/><rect x="184.70" y="462" width="1.6" height="8.80" fill="#555555"/><rect x="189.35" y="462" width="1.3" height="8.80" fill="#333333"/><rect x="202.50" y="462" width="1.0" height="8.80" fill="#888888"/><rect x="213.75" y="462" width="1.0" height="8.80" fill="#555555"/><rect x="215.00" y="462" width="1.0" height="8.80" fill="#777777"/><rect x="223.75" y="462" width="1.0" height="8.80" fill="#777777"/><rect x="224.70" y="462" width="1.6" height="8.80" fill="#888888"/><rect x="226.10" y="462" width="1.3" height="8.80" fill="#333333"/><rect x="227.35" y="462" width="1.3" height="8.80" fill="#555555"/><rect x="228.75" y="462" width="1.0" height="8.80" fill="#444444"/><rect x="229.70" y="462" width="1.6" height="8.80" fill="#555555"/><rect x="231.10" y="462" width="1.3" height="8.80" fill="#888888"/><rect x="233.45" y="462" width="1.6" height="8.80" fill="#555555"/><rect x="237.20" y="462" width="1.6" height="8.80" fill="#999999"/><rect x="242.50" y="462" width="1.0" height="8.80" fill="#999999"/><rect x="255.00" y="462" width="1.0" height="8.80" fill="#666666"/><rect x="257.50" y="462" width="1.0" height="8.80" fill="#444444"/><rect x="256.75" y="462" width="1.0" height="8.80" fill="#222222"/><rect x="259.25" y="462" width="1.0" height="8.80" fill="#666666"/><rect x="261.75" y="462" width="1.0" height="8.80" fill="#999999"/><rect x="264.25" y="462" width="1.0" height="8.80" fill="#555555"/><rect x="266.45" y="462" width="1.6" height="8.80" fill="#666666"/><rect x="269.25" y="462" width="1.0" height="8.80" fill="#888888"/><rect x="271.45" y="462" width="1.6" height="8.80" fill="#777777"/><rect x="274.10" y="462" width="1.3" height="8.80" fill="#555555"/><rect x="325.50" y="462" width="1.0" height="8.80" fill="#444444"/><rect x="327.85" y="462" width="1.3" height="8.80" fill="#999999"/><rect x="336.45" y="462" width="1.6" height="8.80" fill="#888888"/><rect x="339.25" y="462" width="1.0" height="8.80" fill="#333333"/><rect x="341.45" y="462" width="1.6" height="8.80" fill="#444444"/><rect x="351.45" y="462" width="1.6" height="8.80" fill="#666666"/><rect x="354.25" y="462" width="1.0" height="8.80" fill="#777777"/><rect x="359.10" y="462" width="1.3" height="8.80" fill="#888888"/><rect x="372.70" y="462" width="1.6" height="8.80" fill="#999999"/><rect x="391.60" y="462" width="1.3" height="8.80" fill="#555555"/><rect x="394.10" y="462" width="1.3" height="8.80" fill="#666666"/><rect x="396.45" y="462" width="1.6" height="8.80" fill="#222222"/><rect x="400.35" y="462" width="1.3" height="8.80" fill="#777777"/><rect x="403.00" y="462" width="1.0" height="8.80" fill="#666666"/><rect x="405.50" y="462" width="1.0" height="8.80" fill="#222222"/><rect x="411.75" y="462" width="1.0" height="8.80" fill="#444444"/><rect x="413.00" y="462" width="1.0" height="8.80" fill="#222222"/><rect x="414.25" y="462" width="1.0" height="8.80" fill="#222222"/><rect x="415.20" y="462" width="1.6" height="8.80" fill="#555555"/><rect x="416.60" y="462" width="1.3" height="8.80" fill="#777777"/><rect x="420.20" y="462" width="1.6" height="8.80" fill="#222222"/><rect x="421.75" y="462" width="1.0" height="8.80" fill="#444444"/><rect x="422.85" y="462" width="1.3" height="8.80" fill="#222222"/><rect x="427.85" y="462" width="1.3" height="8.80" fill="#888888"/><rect x="429.25" y="462" width="1.0" height="8.80" fill="#222222"/><rect x="430.35" y="462" width="1.3" height="8.80" fill="#999999"/><rect x="433.00" y="462" width="1.0" height="8.80" fill="#666666"/><rect x="435.20" y="462" width="1.6" height="8.80" fill="#999999"/><rect x="437.85" y="462" width="1.3" height="8.80" fill="#666666"/><rect x="440.50" y="462" width="1.0" height="8.80" fill="#222222"/><rect x="443.00" y="462" width="1.0" height="8.80" fill="#888888"/><rect x="448.00" y="462" width="1.0" height="8.80" fill="#444444"/><rect x="452.70" y="462" width="1.6" height="8.80" fill="#444444"/><rect x="455.50" y="462" width="1.0" height="8.80" fill="#777777"/><rect x="459.25" y="462" width="1.0" height="8.80" fill="#666666"/><rect x="463.00" y="462" width="1.0" height="8.80" fill="#444444"/><rect x="467.70" y="462" width="1.6" height="8.80" fill="#222222"/><rect x="471.45" y="462" width="1.6" height="8.80" fill="#222222"/><rect x="473.95" y="462" width="1.6" height="8.80" fill="#999999"/><rect x="475.50" y="462" width="1.0" height="8.80" fill="#777777"/><rect x="476.75" y="462" width="1.0" height="8.80" fill="#666666"/><rect x="479.25" y="462" width="1.0" height="8.80" fill="#333333"/><rect x="482.70" y="462" width="1.6" height="8.80" fill="#333333"/><rect x="487.70" y="462" width="1.6" height="8.80" fill="#777777"/><rect x="490.35" y="462" width="1.3" height="8.80" fill="#999999"/><rect x="493.95" y="462" width="1.6" height="8.80" fill="#666666"/><rect x="12" y="480" width="487" height="8.00" fill="#ededed"/><rect x="22.50" y="480" width="1.0" height="8.00" fill="#666666"/><rect x="25.00" y="480" width="1.0" height="8.00" fill="#777777"/><rect x="29.70" y="480" width="1.6" height="8.00" fill="#222222"/><rect x="40.00" y="480" width="1.0" height="8.00" fill="#999999"/><rect x="42.35" y="480" width="1.3" height="8.00" fill="#999999"/><rect x="44.35" y="480" width="1.3" height="8.00" fill="#222222"/><rect x="45.95" y="480" width="1.6" height="8.00" fill="#333333"/><rect x="48.60" y="480" width="1.3" height="8.00" fill="#444444"/><rect x="53.75" y="480" width="1.0" height="8.00" fill="#666666"/><rect x="57.50" y="480" width="1.0" height="8.00" fill="#888888"/><rect x="61.25" y="480" width="1.0" height="8.00" fill="#777777"/><rect x="63.45" y="480" width="1.6" height="8.00" fill="#999999"/><rect x="66.10" y="480" width="1.3" height="8.00" fill="#555555"/><rect x="71.25" y="480" width="1.0" height="8.00" fill="#777777"/><rect x="74.70" y="480" width="1.6" height="8.00" fill="#888888"/><rect x="80.00" y="480" width="1.0" height="8.00" fill="#777777"/><rect x="82.50" y="480" width="1.0" height="8.00" fill="#666666"/><rect x="93.60" y="480" width="1.3" height="8.00" fill="#222222"/><rect x="95.20" y="480" width="1.6" height="8.00" fill="#777777"/><rect x="97.00" y="480" width="1.0" height="8.00" fill="#666666"/><rect x="98.45" y="480" width="1.6" height="8.00" fill="#444444"/><rect x="100.20" y="480" width="1.6" height="8.00" fill="#666666"/><rect x="102.20" y="480" width="1.6" height="8.00" fill="#333333"/><rect x="105.00" y="480" width="1.0" height="8.00" fill="#555555"/><rect x="107.50" y="480" width="1.0" height="8.00" fill="#333333"/><rect x="109.50" y="480" width="1.0" height="8.00" fill="#333333"/><rect x="112.50" y="480" width="1.0" height="8.00" fill="#666666"/><rect x="113.60" y="480" width="1.3" height="8.00" fill="#888888"/><rect x="114.20" y="480" width="1.6" height="8.00" fill="#999999"/><rect x="119.85" y="480" width="1.3" height="8.00" fill="#666666"/><rect x="123.75" y="480" width="1.0" height="8.00" fill="#222222"/><rect x="127.20" y="480" width="1.6" height="8.00" fill="#555555"/><rect x="132.50" y="480" width="1.0" height="8.00" fill="#444444"/><rect x="135.00" y="480" width="1.0" height="8.00" fill="#444444"/><rect x="138.45" y="480" width="1.6" height="8.00" fill="#999999"/><rect x="144.50" y="480" width="1.0" height="8.00" fill="#222222"/><rect x="153.75" y="480" width="1.0" height="8.00" fill="#888888"/><rect x="157.50" y="480" width="1.0" height="8.00" fill="#444444"/><rect x="161.25" y="480" width="1.0" height="8.00" fill="#666666"/><rect x="165.00" y="480" width="1.0" height="8.00" fill="#444444"/><rect x="167.50" y="480" width="1.0" height="8.00" fill="#222222"/><rect x="169.70" y="480" width="1.6" height="8.00" fill="#555555"/><rect x="172.20" y="480" width="1.6" height="8.00" fill="#333333"/><rect x="175.00" y="480" width="1.0" height="8.00" fill="#888888"/><rect x="178.60" y="480" width="1.3" height="8.00" fill="#222222"/><rect x="186.25" y="480" width="1.0" height="8.00" fill="#333333"/><rect x="190.00" y="480" width="1.0" height="8.00" fill="#333333"/><rect x="192.50" y="480" width="1.0" height="8.00" fill="#666666"/><rect x="196.10" y="480" width="1.3" height="8.00" fill="#888888"/><rect x="198.75" y="480" width="1.0" height="8.00" fill="#333333"/><rect x="199.85" y="480" width="1.3" height="8.00" fill="#222222"/><rect x="257.20" y="480" width="1.6" height="8.00" fill="#444444"/><rect x="256.75" y="480" width="1.0" height="8.00" fill="#555555"/><rect x="258.95" y="480" width="1.6" height="8.00" fill="#777777"/><rect x="264.10" y="480" width="1.3" height="8.00" fill="#333333"/><rect x="273.00" y="480" width="1.0" height="8.00" fill="#999999"/><rect x="275.20" y="480" width="1.6" height="8.00" fill="#777777"/><rect x="277.70" y="480" width="1.6" height="8.00" fill="#888888"/><rect x="280.20" y="480" width="1.6" height="8.00" fill="#666666"/><rect x="282.20" y="480" width="1.6" height="8.00" fill="#444444"/><rect x="284.25" y="480" width="1.0" height="8.00" fill="#888888"/><rect x="286.75" y="480" width="1.0" height="8.00" fill="#666666"/><rect x="289.25" y="480" width="1.0" height="8.00" fill="#666666"/><rect x="290.35" y="480" width="1.3" height="8.00" fill="#777777"/><rect x="294.25" y="480" width="1.0" height="8.00" fill="#555555"/><rect x="296.75" y="480" width="1.0" height="8.00" fill="#222222"/><rect x="299.25" y="480" width="1.0" height="8.00" fill="#888888"/><rect x="301.75" y="480" width="1.0" height="8.00" fill="#333333"/><rect x="305.50" y="480" width="1.0" height="8.00" fill="#444444"/><rect x="306.60" y="480" width="1.3" height="8.00" fill="#888888"/><rect x="315.50" y="480" width="1.0" height="8.00" fill="#666666"/><rect x="318.95" y="480" width="1.6" height="8.00" fill="#999999"/><rect x="323.00" y="480" width="1.0" height="8.00" fill="#777777"/><rect x="329.10" y="480" width="1.3" height="8.00" fill="#555555"/><rect x="337.85" y="480" width="1.3" height="8.00" fill="#999999"/><rect x="340.35" y="480" width="1.3" height="8.00" fill="#777777"/><rect x="342.85" y="480" width="1.3" height="8.00" fill="#777777"/><rect x="345.35" y="480" width="1.3" height="8.00" fill="#666666"/><rect x="348.00" y="480" width="1.0" height="8.00" fill="#666666"/><rect x="350.50" y="480" width="1.0" height="8.00" fill="#333333"/><rect x="353.00" y="480" width="1.0" height="8.00" fill="#777777"/><rect x="353.95" y="480" width="1.6" height="8.00" fill="#666666"/><rect x="362.70" y="480" width="1.6" height="8.00" fill="#666666"/><rect x="365.20" y="480" width="1.6" height="8.00" fill="#444444"/><rect x="434.25" y="480" width="1.0" height="8.00" fill="#777777"/><rect x="445.50" y="480" width="1.0" height="8.00" fill="#999999"/><rect x="447.70" y="480" width="1.6" height="8.00" fill="#333333"/><rect x="452.85" y="480" width="1.3" height="8.00" fill="#888888"/><rect x="455.50" y="480" width="1.0" height="8.00" fill="#222222"/><rect x="457.70" y="480" width="1.6" height="8.00" fill="#888888"/><rect x="464.25" y="480" width="1.0" height="8.00" fill="#555555"/><rect x="465.50" y="480" width="1.0" height="8.00" fill="#777777"/><rect x="470.20" y="480" width="1.6" height="8.00" fill="#222222"/><rect x="475.20" y="480" width="1.6" height="8.00" fill="#333333"/><rect x="480.35" y="480" width="1.3" height="8.00" fill="#888888"/><rect x="484.10" y="480" width="1.3" height="8.00" fill="#222222"/><rect x="486.60" y="480" width="1.3" height="8.00" fill="#777777"/><rect x="488.95" y="480" width="1.6" height="8.00" fill="#888888"/><rect x="491.75" y="480" width="1.0" height="8.00" fill="#777777"/><rect x="494.25" y="480" width="1.0" height="8.00" fill="#999999"/><rect x="496.75" y="480" width="1.0" height="8.00" fill="#777777"/><rect x="12" y="497" width="487" height="8.70" fill="#ededed"/><rect x="14.85" y="497" width="1.3" height="8.70" fill="#222222"/><rect x="17.00" y="497" width="1.0" height="8.70" fill="#333333"/><rect x="18.75" y="497" width="1.0" height="8.70" fill="#444444"/><rect x="24.85" y="497" width="1.3" height="8.70" fill="#555555"/><rect x="26.10" y="497" width="1.3" height="8.70" fill="#888888"/><rect x="27.50" y="497" width="1.0" height="8.70" fill="#555555"/><rect x="29.85" y="497" width="1.3" height="8.70" fill="#222222"/><rect x="37.35" y="497" width="1.3" height="8.70" fill="#999999"/><rect x="39.70" y="497" width="1.6" height="8.70" fill="#555555"/><rect x="42.50" y="497" width="1.0" height="8.70" fill="#777777"/><rect x="45.00" y="497" width="1.0" height="8.70" fill="#888888"/><rect x="47.50" y="497" width="1.0" height="8.70" fill="#999999"/><rect x="56.10" y="497" width="1.3" height="8.70" fill="#666666"/><rect x="60.00" y="497" width="1.0" height="8.70" fill="#555555"/><rect x="65.00" y="497" width="1.0" height="8.70" fill="#444444"/><rect x="76.25" y="497" width="1.0" height="8.70" fill="#888888"/><rect x="90.95" y="497" width="1.6" height="8.70" fill="#777777"/><rect x="101.70" y="497" width="1.6" height="8.70" fill="#222222"/><rect x="112.20" y="497" width="1.6" height="8.70" fill="#444444"/><rect x="115.00" y="497" width="1.0" height="8.70" fill="#666666"/><rect x="126.25" y="497" width="1.0" height="8.70" fill="#888888"/><rect x="128.60" y="497" width="1.3" height="8.70" fill="#888888"/><rect x="131.10" y="497" width="1.3" height="8.70" fill="#888888"/><rect x="132.50" y="497" width="1.0" height="8.70" fill="#333333"/><rect x="133.45" y="497" width="1.6" height="8.70" fill="#333333"/><rect x="135.00" y="497" width="1.0" height="8.70" fill="#777777"/><rect x="136.10" y="497" width="1.3" height="8.70" fill="#222222"/><rect x="137.20" y="497" width="1.6" height="8.70" fill="#999999"/><rect x="139.85" y="497" width="1.3" height="8.70" fill="#333333"/><rect x="142.50" y="497" width="1.0" height="8.70" fill="#888888"/><rect x="145.00" y="497" width="1.0" height="8.70" fill="#777777"/><rect x="147.50" y="497" width="1.0" height="8.70" fill="#888888"/><rect x="150.00" y="497" width="1.0" height="8.70" fill="#222222"/><rect x="151.25" y="497" width="1.0" height="8.70" fill="#555555"/><rect x="152.50" y="497" width="1.0" height="8.70" fill="#444444"/><rect x="154.70" y="497" width="1.6" height="8.70" fill="#999999"/><rect x="157.35" y="497" width="1.3" height="8.70" fill="#666666"/><rect x="160.00" y="497" width="1.0" height="8.70" fill="#999999"/><rect x="162.35" y="497" width="1.3" height="8.70" fill="#555555"/><rect x="165.00" y="497" width="1.0" height="8.70" fill="#777777"/><rect x="177.35" y="497" width="1.3" height="8.70" fill="#777777"/><rect x="180.00" y="497" width="1.0" height="8.70" fill="#777777"/><rect x="182.50" y="497" width="1.0" height="8.70" fill="#999999"/><rect x="183.60" y="497" width="1.3" height="8.70" fill="#888888"/><rect x="193.45" y="497" width="1.6" height="8.70" fill="#555555"/><rect x="196.25" y="497" width="1.0" height="8.70" fill="#555555"/><rect x="197.20" y="497" width="1.6" height="8.70" fill="#333333"/><rect x="198.45" y="497" width="1.6" height="8.70" fill="#333333"/><rect x="202.35" y="497" width="1.3" height="8.70" fill="#555555"/><rect x="203.75" y="497" width="1.0" height="8.70" fill="#444444"/><rect x="204.70" y="497" width="1.6" height="8.70" fill="#777777"/><rect x="220.95" y="497" width="1.6" height="8.70" fill="#555555"/><rect x="222.50" y="497" width="1.0" height="8.70" fill="#222222"/><rect x="237.35" y="497" width="1.3" height="8.70" fill="#888888"/><rect x="238.75" y="497" width="1.0" height="8.70" fill="#888888"/><rect x="241.10" y="497" width="1.3" height="8.70" fill="#444444"/><rect x="252.35" y="497" width="1.3" height="8.70" fill="#666666"/><rect x="255.00" y="497" width="1.0" height="8.70" fill="#666666"/><rect x="260.50" y="497" width="1.0" height="8.70" fill="#777777"/><rect x="273.00" y="497" width="1.0" height="8.70" fill="#555555"/><rect x="277.70" y="497" width="1.6" height="8.70" fill="#666666"/><rect x="279.25" y="497" width="1.0" height="8.70" fill="#444444"/><rect x="280.20" y="497" width="1.6" height="8.70" fill="#555555"/><rect x="283.00" y="497" width="1.0" height="8.70" fill="#555555"/><rect x="286.75" y="497" width="1.0" height="8.70" fill="#777777"/><rect x="288.95" y="497" width="1.6" height="8.70" fill="#444444"/><rect x="295.50" y="497" width="1.0" height="8.70" fill="#888888"/><rect x="296.45" y="497" width="1.6" height="8.70" fill="#666666"/><rect x="298.00" y="497" width="1.0" height="8.70" fill="#777777"/><rect x="300.20" y="497" width="1.6" height="8.70" fill="#333333"/><rect x="303.00" y="497" width="1.0" height="8.70" fill="#999999"/><rect x="305.35" y="497" width="1.3" height="8.70" fill="#444444"/><rect x="313.95" y="497" width="1.6" height="8.70" fill="#888888"/><rect x="315.20" y="497" width="1.6" height="8.70" fill="#555555"/><rect x="316.60" y="497" width="1.3" height="8.70" fill="#999999"/><rect x="317.70" y="497" width="1.6" height="8.70" fill="#888888"/><rect x="319.25" y="497" width="1.0" height="8.70" fill="#444444"/><rect x="320.35" y="497" width="1.3" height="8.70" fill="#888888"/><rect x="321.60" y="497" width="1.3" height="8.70" fill="#444444"/><rect x="322.85" y="497" width="1.3" height="8.70" fill="#333333"/><rect x="327.85" y="497" width="1.3" height="8.70" fill="#444444"/><rect x="330.50" y="497" width="1.0" height="8.70" fill="#999999"/><rect x="335.35" y="497" width="1.3" height="8.70" fill="#999999"/><rect x="341.75" y="497" width="1.0" height="8.70" fill="#999999"/><rect x="344.25" y="497" width="1.0" height="8.70" fill="#777777"/><rect x="346.60" y="497" width="1.3" height="8.70" fill="#333333"/><rect x="350.35" y="497" width="1.3" height="8.70" fill="#666666"/><rect x="355.35" y="497" width="1.3" height="8.70" fill="#888888"/><rect x="356.45" y="497" width="1.6" height="8.70" fill="#222222"/><rect x="357.70" y="497" width="1.6" height="8.70" fill="#777777"/><rect x="366.60" y="497" width="1.3" height="8.70" fill="#999999"/><rect x="370.50" y="497" width="1.0" height="8.70" fill="#444444"/><rect x="371.75" y="497" width="1.0" height="8.70" fill="#666666"/><rect x="375.50" y="497" width="1.0" height="8.70" fill="#888888"/><rect x="379.25" y="497" width="1.0" height="8.70" fill="#777777"/><rect x="382.70" y="497" width="1.6" height="8.70" fill="#777777"/><rect x="383.95" y="497" width="1.6" height="8.70" fill="#444444"/><rect x="385.50" y="497" width="1.0" height="8.70" fill="#999999"/><rect x="386.60" y="497" width="1.3" height="8.70" fill="#888888"/><rect x="388.00" y="497" width="1.0" height="8.70" fill="#333333"/><rect x="391.75" y="497" width="1.0" height="8.70" fill="#999999"/><rect x="398.00" y="497" width="1.0" height="8.70" fill="#444444"/><rect x="399.25" y="497" width="1.0" height="8.70" fill="#333333"/><rect x="400.20" y="497" width="1.6" height="8.70" fill="#333333"/><rect x="406.45" y="497" width="1.6" height="8.70" fill="#777777"/><rect x="425.50" y="497" width="1.0" height="8.70" fill="#666666"/><rect x="460.35" y="497" width="1.3" height="8.70" fill="#999999"/><rect x="465.50" y="497" width="1.0" height="8.70" fill="#777777"/><rect x="466.75" y="497" width="1.0" height="8.70" fill="#666666"/><rect x="530" y="365.5" width="484" height="8.50" fill="#ededed"/><rect x="533.00" y="365.5" width="1.0" height="8.50" fill="#555555"/><rect x="534.60" y="365.5" width="1.3" height="8.50" fill="#999999"/><rect x="537.25" y="365.5" width="1.0" height="8.50" fill="#888888"/><rect x="544.60" y="365.5" width="1.3" height="8.50" fill="#666666"/><rect x="547.10" y="365.5" width="1.3" height="8.50" fill="#444444"/><rect x="553.00" y="365.5" width="1.0" height="8.50" fill="#555555"/><rect x="624.60" y="365.5" width="1.3" height="8.50" fill="#555555"/><rect x="627.10" y="365.5" width="1.3" height="8.50" fill="#777777"/><rect x="631.00" y="365.5" width="1.0" height="8.50" fill="#333333"/><rect x="633.50" y="365.5" width="1.0" height="8.50" fill="#444444"/><rect x="639.45" y="365.5" width="1.6" height="8.50" fill="#555555"/><rect x="642.25" y="365.5" width="1.0" height="8.50" fill="#777777"/><rect x="644.00" y="365.5" width="1.0" height="8.50" fill="#777777"/><rect x="646.00" y="365.5" width="1.0" height="8.50" fill="#444444"/><rect x="647.85" y="365.5" width="1.3" height="8.50" fill="#999999"/><rect x="649.60" y="365.5" width="1.3" height="8.50" fill="#444444"/><rect x="651.20" y="365.5" width="1.6" height="8.50" fill="#999999"/><rect x="654.45" y="365.5" width="1.6" height="8.50" fill="#888888"/><rect x="659.60" y="365.5" width="1.3" height="8.50" fill="#666666"/><rect x="662.70" y="365.5" width="1.6" height="8.50" fill="#666666"/><rect x="668.00" y="365.5" width="1.0" height="8.50" fill="#444444"/><rect x="705.50" y="365.5" width="1.0" height="8.50" fill="#222222"/><rect x="707.25" y="365.5" width="1.0" height="8.50" fill="#888888"/><rect x="709.00" y="365.5" width="1.0" height="8.50" fill="#555555"/><rect x="710.85" y="365.5" width="1.3" height="8.50" fill="#555555"/><rect x="713.50" y="365.5" width="1.0" height="8.50" fill="#666666"/><rect x="715.50" y="365.5" width="1.0" height="8.50" fill="#777777"/><rect x="723.50" y="365.5" width="1.0" height="8.50" fill="#333333"/><rect x="771.00" y="365.5" width="1.0" height="8.50" fill="#555555"/><rect x="772.70" y="365.5" width="1.6" height="8.50" fill="#999999"/><rect x="774.75" y="365.5" width="1.0" height="8.50" fill="#666666"/><rect x="776.35" y="365.5" width="1.3" height="8.50" fill="#333333"/><rect x="778.35" y="365.5" width="1.3" height="8.50" fill="#444444"/><rect x="770.50" y="365.5" width="1.0" height="8.50" fill="#444444"/><rect x="772.50" y="365.5" width="1.0" height="8.50" fill="#333333"/><rect x="774.50" y="365.5" width="1.0" height="8.50" fill="#333333"/><rect x="775.95" y="365.5" width="1.6" height="8.50" fill="#333333"/><rect x="777.70" y="365.5" width="1.6" height="8.50" fill="#999999"/><rect x="780.00" y="365.5" width="1.0" height="8.50" fill="#666666"/><rect x="787.00" y="365.5" width="1.0" height="8.50" fill="#222222"/><rect x="788.45" y="365.5" width="1.6" height="8.50" fill="#666666"/><rect x="791.25" y="365.5" width="1.0" height="8.50" fill="#444444"/><rect x="793.60" y="365.5" width="1.3" height="8.50" fill="#222222"/><rect x="796.10" y="365.5" width="1.3" height="8.50" fill="#777777"/><rect x="798.75" y="365.5" width="1.0" height="8.50" fill="#333333"/><rect x="804.20" y="365.5" width="1.6" height="8.50" fill="#555555"/><rect x="805.95" y="365.5" width="1.6" height="8.50" fill="#222222"/><rect x="809.50" y="365.5" width="1.0" height="8.50" fill="#777777"/><rect x="815.95" y="365.5" width="1.6" height="8.50" fill="#999999"/><rect x="823.75" y="365.5" width="1.0" height="8.50" fill="#555555"/><rect x="825.50" y="365.5" width="1.0" height="8.50" fill="#777777"/><rect x="832.50" y="365.5" width="1.0" height="8.50" fill="#555555"/><rect x="842.20" y="365.5" width="1.6" height="8.50" fill="#888888"/><rect x="844.70" y="365.5" width="1.6" height="8.50" fill="#333333"/><rect x="847.50" y="365.5" width="1.0" height="8.50" fill="#777777"/><rect x="849.85" y="365.5" width="1.3" height="8.50" fill="#555555"/><rect x="852.50" y="365.5" width="1.0" height="8.50" fill="#333333"/><rect x="855.00" y="365.5" width="1.0" height="8.50" fill="#888888"/><rect x="857.50" y="365.5" width="1.0" height="8.50" fill="#777777"/><rect x="859.70" y="365.5" width="1.6" height="8.50" fill="#555555"/><rect x="862.20" y="365.5" width="1.6" height="8.50" fill="#666666"/><rect x="864.70" y="365.5" width="1.6" height="8.50" fill="#555555"/><rect x="867.00" y="365.5" width="1.0" height="8.50" fill="#666666"/><rect x="868.45" y="365.5" width="1.6" height="8.50" fill="#444444"/><rect x="870.35" y="365.5" width="1.3" height="8.50" fill="#333333"/><rect x="872.20" y="365.5" width="1.6" height="8.50" fill="#444444"/><rect x="873.60" y="365.5" width="1.3" height="8.50" fill="#444444"/><rect x="879.50" y="365.5" width="1.0" height="8.50" fill="#444444"/><rect x="881.10" y="365.5" width="1.3" height="8.50" fill="#777777"/><rect x="887.50" y="365.5" width="1.0" height="8.50" fill="#333333"/><rect x="889.50" y="365.5" width="1.0" height="8.50" fill="#999999"/><rect x="891.25" y="365.5" width="1.0" height="8.50" fill="#999999"/><rect x="893.75" y="365.5" width="1.0" height="8.50" fill="#888888"/><rect x="913.75" y="365.5" width="1.0" height="8.50" fill="#222222"/><rect x="916.25" y="365.5" width="1.0" height="8.50" fill="#999999"/><rect x="918.45" y="365.5" width="1.6" height="8.50" fill="#222222"/><rect x="925.00" y="365.5" width="1.0" height="8.50" fill="#222222"/><rect x="933.60" y="365.5" width="1.3" height="8.50" fill="#777777"/><rect x="934.70" y="365.5" width="1.6" height="8.50" fill="#666666"/><rect x="946.10" y="365.5" width="1.3" height="8.50" fill="#999999"/><rect x="957.50" y="365.5" width="1.0" height="8.50" fill="#666666"/><rect x="963.75" y="365.5" width="1.0" height="8.50" fill="#666666"/><rect x="965.00" y="365.5" width="1.0" height="8.50" fill="#888888"/><rect x="967.50" y="365.5" width="1.0" height="8.50" fill="#333333"/><rect x="970.00" y="365.5" width="1.0" height="8.50" fill="#555555"/><rect x="970.95" y="365.5" width="1.6" height="8.50" fill="#444444"/><rect x="978.75" y="365.5" width="1.0" height="8.50" fill="#444444"/><rect x="981.10" y="365.5" width="1.3" height="8.50" fill="#333333"/><rect x="983.45" y="365.5" width="1.6" height="8.50" fill="#222222"/><rect x="986.10" y="365.5" width="1.3" height="8.50" fill="#333333"/><rect x="988.75" y="365.5" width="1.0" height="8.50" fill="#999999"/><rect x="993.60" y="365.5" width="1.3" height="8.50" fill="#888888"/><rect x="1008.45" y="365.5" width="1.6" height="8.50" fill="#888888"/><rect x="1011.10" y="365.5" width="1.3" height="8.50" fill="#999999"/><rect x="1012.35" y="365.5" width="1.3" height="8.50" fill="#222222"/><rect x="530" y="383.5" width="484" height="8.50" fill="#ededed"/><rect x="530.70" y="383.5" width="1.6" height="8.50" fill="#666666"/><rect x="534.45" y="383.5" width="1.6" height="8.50" fill="#666666"/><rect x="538.50" y="383.5" width="1.0" height="8.50" fill="#666666"/><rect x="541.50" y="383.5" width="1.0" height="8.50" fill="#777777"/><rect x="550.20" y="383.5" width="1.6" height="8.50" fill="#666666"/><rect x="551.95" y="383.5" width="1.6" height="8.50" fill="#888888"/><rect x="554.60" y="383.5" width="1.3" height="8.50" fill="#555555"/><rect x="556.00" y="383.5" width="1.0" height="8.50" fill="#222222"/><rect x="561.95" y="383.5" width="1.6" height="8.50" fill="#222222"/><rect x="563.70" y="383.5" width="1.6" height="8.50" fill="#555555"/><rect x="567.85" y="383.5" width="1.3" height="8.50" fill="#444444"/><rect x="573.00" y="383.5" width="1.0" height="8.50" fill="#333333"/><rect x="574.60" y="383.5" width="1.3" height="8.50" fill="#999999"/><rect x="576.20" y="383.5" width="1.6" height="8.50" fill="#888888"/><rect x="577.70" y="383.5" width="1.6" height="8.50" fill="#777777"/><rect x="579.75" y="383.5" width="1.0" height="8.50" fill="#888888"/><rect x="581.20" y="383.5" width="1.6" height="8.50" fill="#777777"/><rect x="583.20" y="383.5" width="1.6" height="8.50" fill="#777777"/><rect x="586.00" y="383.5" width="1.0" height="8.50" fill="#666666"/><rect x="589.75" y="383.5" width="1.0" height="8.50" fill="#444444"/><rect x="593.50" y="383.5" width="1.0" height="8.50" fill="#555555"/><rect x="597.25" y="383.5" width="1.0" height="8.50" fill="#888888"/><rect x="598.20" y="383.5" width="1.6" height="8.50" fill="#888888"/><rect x="600.70" y="383.5" width="1.6" height="8.50" fill="#999999"/><rect x="611.00" y="383.5" width="1.0" height="8.50" fill="#888888"/><rect x="617.70" y="383.5" width="1.6" height="8.50" fill="#999999"/><rect x="624.75" y="383.5" width="1.0" height="8.50" fill="#222222"/><rect x="629.75" y="383.5" width="1.0" height="8.50" fill="#222222"/><rect x="635.50" y="383.5" width="1.0" height="8.50" fill="#333333"/><rect x="644.75" y="383.5" width="1.0" height="8.50" fill="#888888"/><rect x="648.50" y="383.5" width="1.0" height="8.50" fill="#333333"/><rect x="651.35" y="383.5" width="1.3" height="8.50" fill="#555555"/><rect x="653.20" y="383.5" width="1.6" height="8.50" fill="#444444"/><rect x="657.25" y="383.5" width="1.0" height="8.50" fill="#888888"/><rect x="660.50" y="383.5" width="1.0" height="8.50" fill="#444444"/><rect x="665.70" y="383.5" width="1.6" height="8.50" fill="#888888"/><rect x="668.20" y="383.5" width="1.6" height="8.50" fill="#777777"/><rect x="670.85" y="383.5" width="1.3" height="8.50" fill="#222222"/><rect x="673.35" y="383.5" width="1.3" height="8.50" fill="#222222"/><rect x="675.70" y="383.5" width="1.6" height="8.50" fill="#777777"/><rect x="678.00" y="383.5" width="1.0" height="8.50" fill="#555555"/><rect x="679.75" y="383.5" width="1.0" height="8.50" fill="#666666"/><rect x="687.25" y="383.5" width="1.0" height="8.50" fill="#333333"/><rect x="689.75" y="383.5" width="1.0" height="8.50" fill="#888888"/><rect x="692.10" y="383.5" width="1.3" height="8.50" fill="#555555"/><rect x="694.75" y="383.5" width="1.0" height="8.50" fill="#555555"/><rect x="698.35" y="383.5" width="1.3" height="8.50" fill="#777777"/><rect x="701.00" y="383.5" width="1.0" height="8.50" fill="#555555"/><rect x="709.75" y="383.5" width="1.0" height="8.50" fill="#888888"/><rect x="719.75" y="383.5" width="1.0" height="8.50" fill="#666666"/><rect x="728.35" y="383.5" width="1.3" height="8.50" fill="#444444"/><rect x="732.10" y="383.5" width="1.3" height="8.50" fill="#333333"/><rect x="736.00" y="383.5" width="1.0" height="8.50" fill="#777777"/><rect x="738.50" y="383.5" width="1.0" height="8.50" fill="#666666"/><rect x="743.50" y="383.5" width="1.0" height="8.50" fill="#777777"/><rect x="745.50" y="383.5" width="1.0" height="8.50" fill="#555555"/><rect x="746.95" y="383.5" width="1.6" height="8.50" fill="#999999"/><rect x="749.75" y="383.5" width="1.0" height="8.50" fill="#666666"/><rect x="752.10" y="383.5" width="1.3" height="8.50" fill="#888888"/><rect x="758.50" y="383.5" width="1.0" height="8.50" fill="#666666"/><rect x="759.75" y="383.5" width="1.0" height="8.50" fill="#999999"/><rect x="772.10" y="383.5" width="1.3" height="8.50" fill="#666666"/><rect x="771.25" y="383.5" width="1.0" height="8.50" fill="#333333"/><rect x="772.20" y="383.5" width="1.6" height="8.50" fill="#888888"/><rect x="782.50" y="383.5" width="1.0" height="8.50" fill="#777777"/><rect x="785.50" y="383.5" width="1.0" height="8.50" fill="#666666"/><rect x="790.00" y="383.5" width="1.0" height="8.50" fill="#333333"/><rect x="791.85" y="383.5" width="1.3" height="8.50" fill="#444444"/><rect x="794.50" y="383.5" width="1.0" height="8.50" fill="#777777"/><rect x="796.10" y="383.5" width="1.3" height="8.50" fill="#555555"/><rect x="798.00" y="383.5" width="1.0" height="8.50" fill="#222222"/><rect x="800.00" y="383.5" width="1.0" height="8.50" fill="#777777"/><rect x="801.10" y="383.5" width="1.3" height="8.50" fill="#888888"/><rect x="807.50" y="383.5" width="1.0" height="8.50" fill="#666666"/><rect x="810.95" y="383.5" width="1.6" height="8.50" fill="#999999"/><rect x="813.75" y="383.5" width="1.0" height="8.50" fill="#999999"/><rect x="816.25" y="383.5" width="1.0" height="8.50" fill="#999999"/><rect x="817.50" y="383.5" width="1.0" height="8.50" fill="#333333"/><rect x="819.70" y="383.5" width="1.6" height="8.50" fill="#777777"/><rect x="824.70" y="383.5" width="1.6" height="8.50" fill="#666666"/><rect x="827.20" y="383.5" width="1.6" height="8.50" fill="#555555"/><rect x="829.70" y="383.5" width="1.6" height="8.50" fill="#888888"/><rect x="831.85" y="383.5" width="1.3" height="8.50" fill="#777777"/><rect x="833.60" y="383.5" width="1.3" height="8.50" fill="#222222"/><rect x="835.20" y="383.5" width="1.6" height="8.50" fill="#999999"/><rect x="839.50" y="383.5" width="1.0" height="8.50" fill="#999999"/><rect x="847.50" y="383.5" width="1.0" height="8.50" fill="#999999"/><rect x="851.25" y="383.5" width="1.0" height="8.50" fill="#666666"/><rect x="855.00" y="383.5" width="1.0" height="8.50" fill="#555555"/><rect x="859.50" y="383.5" width="1.0" height="8.50" fill="#444444"/><rect x="863.60" y="383.5" width="1.3" height="8.50" fill="#666666"/><rect x="866.10" y="383.5" width="1.3" height="8.50" fill="#333333"/><rect x="867.50" y="383.5" width="1.0" height="8.50" fill="#222222"/><rect x="869.50" y="383.5" width="1.0" height="8.50" fill="#777777"/><rect x="872.20" y="383.5" width="1.6" height="8.50" fill="#222222"/><rect x="883.75" y="383.5" width="1.0" height="8.50" fill="#444444"/><rect x="887.35" y="383.5" width="1.3" height="8.50" fill="#999999"/><rect x="891.25" y="383.5" width="1.0" height="8.50" fill="#999999"/><rect x="895.95" y="383.5" width="1.6" height="8.50" fill="#999999"/><rect x="903.75" y="383.5" width="1.0" height="8.50" fill="#333333"/><rect x="906.25" y="383.5" width="1.0" height="8.50" fill="#333333"/><rect x="908.75" y="383.5" width="1.0" height="8.50" fill="#555555"/><rect x="911.25" y="383.5" width="1.0" height="8.50" fill="#666666"/><rect x="915.00" y="383.5" width="1.0" height="8.50" fill="#777777"/><rect x="917.00" y="383.5" width="1.0" height="8.50" fill="#555555"/><rect x="918.75" y="383.5" width="1.0" height="8.50" fill="#999999"/><rect x="920.50" y="383.5" width="1.0" height="8.50" fill="#333333"/><rect x="922.20" y="383.5" width="1.6" height="8.50" fill="#777777"/><rect x="924.35" y="383.5" width="1.3" height="8.50" fill="#666666"/><rect x="926.25" y="383.5" width="1.0" height="8.50" fill="#222222"/><rect x="928.00" y="383.5" width="1.0" height="8.50" fill="#222222"/><rect x="930.00" y="383.5" width="1.0" height="8.50" fill="#888888"/><rect x="931.70" y="383.5" width="1.6" height="8.50" fill="#777777"/><rect x="942.20" y="383.5" width="1.6" height="8.50" fill="#888888"/><rect x="944.85" y="383.5" width="1.3" height="8.50" fill="#444444"/><rect x="947.00" y="383.5" width="1.0" height="8.50" fill="#666666"/><rect x="953.75" y="383.5" width="1.0" height="8.50" fill="#555555"/><rect x="955.20" y="383.5" width="1.6" height="8.50" fill="#777777"/><rect x="957.50" y="383.5" width="1.0" height="8.50" fill="#888888"/><rect x="959.85" y="383.5" width="1.3" height="8.50" fill="#777777"/><rect x="966.85" y="383.5" width="1.3" height="8.50" fill="#777777"/><rect x="972.35" y="383.5" width="1.3" height="8.50" fill="#444444"/><rect x="973.75" y="383.5" width="1.0" height="8.50" fill="#777777"/><rect x="974.70" y="383.5" width="1.6" height="8.50" fill="#444444"/><rect x="975.95" y="383.5" width="1.6" height="8.50" fill="#666666"/><rect x="978.45" y="383.5" width="1.6" height="8.50" fill="#888888"/><rect x="982.50" y="383.5" width="1.0" height="8.50" fill="#555555"/><rect x="985.00" y="383.5" width="1.0" height="8.50" fill="#777777"/><rect x="988.45" y="383.5" width="1.6" height="8.50" fill="#777777"/><rect x="1000.95" y="383.5" width="1.6" height="8.50" fill="#222222"/><rect x="1002.20" y="383.5" width="1.6" height="8.50" fill="#666666"/><rect x="1003.75" y="383.5" width="1.0" height="8.50" fill="#999999"/><rect x="530" y="401" width="484" height="8.50" fill="#ededed"/><rect x="530.50" y="401" width="1.0" height="8.50" fill="#666666"/><rect x="534.45" y="401" width="1.6" height="8.50" fill="#333333"/><rect x="536.95" y="401" width="1.6" height="8.50" fill="#999999"/><rect x="539.00" y="401" width="1.0" height="8.50" fill="#444444"/><rect x="541.00" y="401" width="1.0" height="8.50" fill="#666666"/><rect x="543.00" y="401" width="1.0" height="8.50" fill="#666666"/><rect x="548.50" y="401" width="1.0" height="8.50" fill="#444444"/><rect x="560.70" y="401" width="1.6" height="8.50" fill="#555555"/><rect x="573.35" y="401" width="1.3" height="8.50" fill="#333333"/><rect x="576.00" y="401" width="1.0" height="8.50" fill="#777777"/><rect x="588.00" y="401" width="1.0" height="8.50" fill="#333333"/><rect x="593.20" y="401" width="1.6" height="8.50" fill="#777777"/><rect x="595.20" y="401" width="1.6" height="8.50" fill="#666666"/><rect x="604.60" y="401" width="1.3" height="8.50" fill="#222222"/><rect x="607.25" y="401" width="1.0" height="8.50" fill="#666666"/><rect x="608.20" y="401" width="1.6" height="8.50" fill="#999999"/><rect x="611.95" y="401" width="1.6" height="8.50" fill="#666666"/><rect x="614.75" y="401" width="1.0" height="8.50" fill="#777777"/><rect x="618.00" y="401" width="1.0" height="8.50" fill="#333333"/><rect x="620.35" y="401" width="1.3" height="8.50" fill="#222222"/><rect x="632.85" y="401" width="1.3" height="8.50" fill="#333333"/><rect x="641.00" y="401" width="1.0" height="8.50" fill="#222222"/><rect x="642.70" y="401" width="1.6" height="8.50" fill="#222222"/><rect x="644.60" y="401" width="1.3" height="8.50" fill="#444444"/><rect x="647.25" y="401" width="1.0" height="8.50" fill="#333333"/><rect x="651.00" y="401" width="1.0" height="8.50" fill="#777777"/><rect x="653.50" y="401" width="1.0" height="8.50" fill="#999999"/><rect x="658.50" y="401" width="1.0" height="8.50" fill="#222222"/><rect x="660.50" y="401" width="1.0" height="8.50" fill="#777777"/><rect x="667.25" y="401" width="1.0" height="8.50" fill="#666666"/><rect x="675.85" y="401" width="1.3" height="8.50" fill="#777777"/><rect x="684.75" y="401" width="1.0" height="8.50" fill="#888888"/><rect x="686.95" y="401" width="1.6" height="8.50" fill="#999999"/><rect x="689.75" y="401" width="1.0" height="8.50" fill="#888888"/><rect x="698.20" y="401" width="1.6" height="8.50" fill="#999999"/><rect x="699.75" y="401" width="1.0" height="8.50" fill="#222222"/><rect x="700.70" y="401" width="1.6" height="8.50" fill="#666666"/><rect x="702.10" y="401" width="1.3" height="8.50" fill="#666666"/><rect x="703.50" y="401" width="1.0" height="8.50" fill="#333333"/><rect x="704.75" y="401" width="1.0" height="8.50" fill="#444444"/><rect x="706.00" y="401" width="1.0" height="8.50" fill="#888888"/><rect x="708.20" y="401" width="1.6" height="8.50" fill="#888888"/><rect x="711.00" y="401" width="1.0" height="8.50" fill="#555555"/><rect x="714.75" y="401" width="1.0" height="8.50" fill="#888888"/><rect x="720.85" y="401" width="1.3" height="8.50" fill="#666666"/><rect x="723.20" y="401" width="1.6" height="8.50" fill="#444444"/><rect x="725.70" y="401" width="1.6" height="8.50" fill="#777777"/><rect x="729.75" y="401" width="1.0" height="8.50" fill="#222222"/><rect x="733.50" y="401" width="1.0" height="8.50" fill="#777777"/><rect x="737.10" y="401" width="1.3" height="8.50" fill="#888888"/><rect x="738.35" y="401" width="1.3" height="8.50" fill="#777777"/><rect x="743.50" y="401" width="1.0" height="8.50" fill="#444444"/><rect x="752.25" y="401" width="1.0" height="8.50" fill="#777777"/><rect x="754.75" y="401" width="1.0" height="8.50" fill="#555555"/><rect x="767.10" y="401" width="1.3" height="8.50" fill="#999999"/><rect x="768.50" y="401" width="1.0" height="8.50" fill="#555555"/><rect x="767.70" y="401" width="1.6" height="8.50" fill="#999999"/><rect x="768.45" y="401" width="1.6" height="8.50" fill="#444444"/><rect x="773.45" y="401" width="1.6" height="8.50" fill="#666666"/><rect x="783.75" y="401" width="1.0" height="8.50" fill="#888888"/><rect x="785.20" y="401" width="1.6" height="8.50" fill="#555555"/><rect x="787.50" y="401" width="1.0" height="8.50" fill="#333333"/><rect x="794.85" y="401" width="1.3" height="8.50" fill="#777777"/><rect x="797.35" y="401" width="1.3" height="8.50" fill="#666666"/><rect x="800.95" y="401" width="1.6" height="8.50" fill="#888888"/><rect x="802.85" y="401" width="1.3" height="8.50" fill="#444444"/><rect x="804.85" y="401" width="1.3" height="8.50" fill="#333333"/><rect x="806.85" y="401" width="1.3" height="8.50" fill="#777777"/><rect x="818.75" y="401" width="1.0" height="8.50" fill="#555555"/><rect x="820.50" y="401" width="1.0" height="8.50" fill="#888888"/><rect x="822.50" y="401" width="1.0" height="8.50" fill="#555555"/><rect x="826.10" y="401" width="1.3" height="8.50" fill="#777777"/><rect x="830.00" y="401" width="1.0" height="8.50" fill="#999999"/><rect x="833.00" y="401" width="1.0" height="8.50" fill="#333333"/><rect x="835.20" y="401" width="1.6" height="8.50" fill="#222222"/><rect x="837.35" y="401" width="1.3" height="8.50" fill="#222222"/><rect x="841.10" y="401" width="1.3" height="8.50" fill="#666666"/><rect x="847.50" y="401" width="1.0" height="8.50" fill="#444444"/><rect x="850.00" y="401" width="1.0" height="8.50" fill="#666666"/><rect x="850.95" y="401" width="1.6" height="8.50" fill="#999999"/><rect x="856.25" y="401" width="1.0" height="8.50" fill="#666666"/><rect x="858.45" y="401" width="1.6" height="8.50" fill="#444444"/><rect x="860.50" y="401" width="1.0" height="8.50" fill="#333333"/><rect x="862.50" y="401" width="1.0" height="8.50" fill="#777777"/><rect x="865.00" y="401" width="1.0" height="8.50" fill="#999999"/><rect x="866.70" y="401" width="1.6" height="8.50" fill="#888888"/><rect x="868.45" y="401" width="1.6" height="8.50" fill="#333333"/><rect x="873.45" y="401" width="1.6" height="8.50" fill="#777777"/><rect x="875.35" y="401" width="1.3" height="8.50" fill="#666666"/><rect x="877.50" y="401" width="1.0" height="8.50" fill="#888888"/><rect x="879.50" y="401" width="1.0" height="8.50" fill="#999999"/><rect x="881.10" y="401" width="1.3" height="8.50" fill="#333333"/><rect x="883.00" y="401" width="1.0" height="8.50" fill="#999999"/><rect x="886.25" y="401" width="1.0" height="8.50" fill="#666666"/><rect x="889.35" y="401" width="1.3" height="8.50" fill="#555555"/><rect x="897.50" y="401" width="1.0" height="8.50" fill="#666666"/><rect x="899.70" y="401" width="1.6" height="8.50" fill="#777777"/><rect x="903.75" y="401" width="1.0" height="8.50" fill="#222222"/><rect x="907.00" y="401" width="1.0" height="8.50" fill="#222222"/><rect x="910.00" y="401" width="1.0" height="8.50" fill="#555555"/><rect x="925.00" y="401" width="1.0" height="8.50" fill="#333333"/><rect x="928.00" y="401" width="1.0" height="8.50" fill="#777777"/><rect x="933.75" y="401" width="1.0" height="8.50" fill="#333333"/><rect x="939.70" y="401" width="1.6" height="8.50" fill="#888888"/><rect x="942.50" y="401" width="1.0" height="8.50" fill="#222222"/><rect x="945.00" y="401" width="1.0" height="8.50" fill="#777777"/><rect x="946.70" y="401" width="1.6" height="8.50" fill="#888888"/><rect x="948.75" y="401" width="1.0" height="8.50" fill="#555555"/><rect x="951.25" y="401" width="1.0" height="8.50" fill="#222222"/><rect x="952.85" y="401" width="1.3" height="8.50" fill="#333333"/><rect x="955.00" y="401" width="1.0" height="8.50" fill="#555555"/><rect x="957.00" y="401" width="1.0" height="8.50" fill="#999999"/><rect x="959.85" y="401" width="1.3" height="8.50" fill="#333333"/><rect x="962.20" y="401" width="1.6" height="8.50" fill="#333333"/><rect x="971.25" y="401" width="1.0" height="8.50" fill="#444444"/><rect x="973.75" y="401" width="1.0" height="8.50" fill="#555555"/><rect x="976.10" y="401" width="1.3" height="8.50" fill="#999999"/><rect x="980.00" y="401" width="1.0" height="8.50" fill="#888888"/><rect x="982.35" y="401" width="1.3" height="8.50" fill="#555555"/><rect x="987.50" y="401" width="1.0" height="8.50" fill="#777777"/><rect x="993.75" y="401" width="1.0" height="8.50" fill="#444444"/><rect x="995.20" y="401" width="1.6" height="8.50" fill="#222222"/><rect x="997.50" y="401" width="1.0" height="8.50" fill="#333333"/><rect x="1000.00" y="401" width="1.0" height="8.50" fill="#333333"/><rect x="1002.35" y="401" width="1.3" height="8.50" fill="#444444"/><rect x="1004.70" y="401" width="1.6" height="8.50" fill="#555555"/><rect x="1006.10" y="401" width="1.3" height="8.50" fill="#222222"/><rect x="530" y="462" width="484" height="8.80" fill="#ededed"/><rect x="530.20" y="462" width="1.6" height="8.80" fill="#333333"/><rect x="532.70" y="462" width="1.6" height="8.80" fill="#555555"/><rect x="535.50" y="462" width="1.0" height="8.80" fill="#555555"/><rect x="543.00" y="462" width="1.0" height="8.80" fill="#888888"/><rect x="544.60" y="462" width="1.3" height="8.80" fill="#555555"/><rect x="546.50" y="462" width="1.0" height="8.80" fill="#333333"/><rect x="548.20" y="462" width="1.6" height="8.80" fill="#999999"/><rect x="550.70" y="462" width="1.6" height="8.80" fill="#222222"/><rect x="554.75" y="462" width="1.0" height="8.80" fill="#333333"/><rect x="561.50" y="462" width="1.0" height="8.80" fill="#888888"/><rect x="564.00" y="462" width="1.0" height="8.80" fill="#333333"/><rect x="568.00" y="462" width="1.0" height="8.80" fill="#999999"/><rect x="573.50" y="462" width="1.0" height="8.80" fill="#444444"/><rect x="575.35" y="462" width="1.3" height="8.80" fill="#777777"/><rect x="583.20" y="462" width="1.6" height="8.80" fill="#999999"/><rect x="585.50" y="462" width="1.0" height="8.80" fill="#666666"/><rect x="587.10" y="462" width="1.3" height="8.80" fill="#333333"/><rect x="597.25" y="462" width="1.0" height="8.80" fill="#222222"/><rect x="599.60" y="462" width="1.3" height="8.80" fill="#777777"/><rect x="602.25" y="462" width="1.0" height="8.80" fill="#222222"/><rect x="604.60" y="462" width="1.3" height="8.80" fill="#444444"/><rect x="611.00" y="462" width="1.0" height="8.80" fill="#333333"/><rect x="612.70" y="462" width="1.6" height="8.80" fill="#666666"/><rect x="618.20" y="462" width="1.6" height="8.80" fill="#222222"/><rect x="621.00" y="462" width="1.0" height="8.80" fill="#888888"/><rect x="622.85" y="462" width="1.3" height="8.80" fill="#666666"/><rect x="627.10" y="462" width="1.3" height="8.80" fill="#444444"/><rect x="628.50" y="462" width="1.0" height="8.80" fill="#555555"/><rect x="633.35" y="462" width="1.3" height="8.80" fill="#777777"/><rect x="636.00" y="462" width="1.0" height="8.80" fill="#888888"/><rect x="637.10" y="462" width="1.3" height="8.80" fill="#888888"/><rect x="641.00" y="462" width="1.0" height="8.80" fill="#333333"/><rect x="643.00" y="462" width="1.0" height="8.80" fill="#999999"/><rect x="644.60" y="462" width="1.3" height="8.80" fill="#888888"/><rect x="645.85" y="462" width="1.3" height="8.80" fill="#333333"/><rect x="647.25" y="462" width="1.0" height="8.80" fill="#555555"/><rect x="651.95" y="462" width="1.6" height="8.80" fill="#555555"/><rect x="654.60" y="462" width="1.3" height="8.80" fill="#999999"/><rect x="657.25" y="462" width="1.0" height="8.80" fill="#444444"/><rect x="659.75" y="462" width="1.0" height="8.80" fill="#222222"/><rect x="661.95" y="462" width="1.6" height="8.80" fill="#444444"/><rect x="665.20" y="462" width="1.6" height="8.80" fill="#777777"/><rect x="668.20" y="462" width="1.6" height="8.80" fill="#888888"/><rect x="675.20" y="462" width="1.6" height="8.80" fill="#666666"/><rect x="683.35" y="462" width="1.3" height="8.80" fill="#888888"/><rect x="685.35" y="462" width="1.3" height="8.80" fill="#333333"/><rect x="690.50" y="462" width="1.0" height="8.80" fill="#333333"/><rect x="698.20" y="462" width="1.6" height="8.80" fill="#888888"/><rect x="700.20" y="462" width="1.6" height="8.80" fill="#666666"/><rect x="703.00" y="462" width="1.0" height="8.80" fill="#666666"/><rect x="708.20" y="462" width="1.6" height="8.80" fill="#555555"/><rect x="713.00" y="462" width="1.0" height="8.80" fill="#999999"/><rect x="717.70" y="462" width="1.6" height="8.80" fill="#333333"/><rect x="721.00" y="462" width="1.0" height="8.80" fill="#999999"/><rect x="723.35" y="462" width="1.3" height="8.80" fill="#999999"/><rect x="726.35" y="462" width="1.3" height="8.80" fill="#222222"/><rect x="728.50" y="462" width="1.0" height="8.80" fill="#666666"/><rect x="730.50" y="462" width="1.0" height="8.80" fill="#444444"/><rect x="734.75" y="462" width="1.0" height="8.80" fill="#222222"/><rect x="736.20" y="462" width="1.6" height="8.80" fill="#999999"/><rect x="737.70" y="462" width="1.6" height="8.80" fill="#888888"/><rect x="739.75" y="462" width="1.0" height="8.80" fill="#888888"/><rect x="742.25" y="462" width="1.0" height="8.80" fill="#444444"/><rect x="744.45" y="462" width="1.6" height="8.80" fill="#888888"/><rect x="746.00" y="462" width="1.0" height="8.80" fill="#999999"/><rect x="750.50" y="462" width="1.0" height="8.80" fill="#555555"/><rect x="757.85" y="462" width="1.3" height="8.80" fill="#444444"/><rect x="759.60" y="462" width="1.3" height="8.80" fill="#333333"/><rect x="764.75" y="462" width="1.0" height="8.80" fill="#777777"/><rect x="767.10" y="462" width="1.3" height="8.80" fill="#666666"/><rect x="784.35" y="462" width="1.3" height="8.80" fill="#222222"/><rect x="791.85" y="462" width="1.3" height="8.80" fill="#999999"/><rect x="794.50" y="462" width="1.0" height="8.80" fill="#222222"/><rect x="797.00" y="462" width="1.0" height="8.80" fill="#888888"/><rect x="799.50" y="462" width="1.0" height="8.80" fill="#666666"/><rect x="802.50" y="462" width="1.0" height="8.80" fill="#333333"/><rect x="805.95" y="462" width="1.6" height="8.80" fill="#777777"/><rect x="808.45" y="462" width="1.6" height="8.80" fill="#333333"/><rect x="817.50" y="462" width="1.0" height="8.80" fill="#888888"/><rect x="820.00" y="462" width="1.0" height="8.80" fill="#888888"/><rect x="822.20" y="462" width="1.6" height="8.80" fill="#666666"/><rect x="825.95" y="462" width="1.6" height="8.80" fill="#444444"/><rect x="828.75" y="462" width="1.0" height="8.80" fill="#555555"/><rect x="833.00" y="462" width="1.0" height="8.80" fill="#888888"/><rect x="834.50" y="462" width="1.0" height="8.80" fill="#333333"/><rect x="836.25" y="462" width="1.0" height="8.80" fill="#333333"/><rect x="838.00" y="462" width="1.0" height="8.80" fill="#222222"/><rect x="839.85" y="462" width="1.3" height="8.80" fill="#777777"/><rect x="842.50" y="462" width="1.0" height="8.80" fill="#999999"/><rect x="845.00" y="462" width="1.0" height="8.80" fill="#888888"/><rect x="847.35" y="462" width="1.3" height="8.80" fill="#333333"/><rect x="849.70" y="462" width="1.6" height="8.80" fill="#333333"/><rect x="852.20" y="462" width="1.6" height="8.80" fill="#555555"/><rect x="854.85" y="462" width="1.3" height="8.80" fill="#444444"/><rect x="856.85" y="462" width="1.3" height="8.80" fill="#444444"/><rect x="861.10" y="462" width="1.3" height="8.80" fill="#777777"/><rect x="866.25" y="462" width="1.0" height="8.80" fill="#333333"/><rect x="868.75" y="462" width="1.0" height="8.80" fill="#999999"/><rect x="877.50" y="462" width="1.0" height="8.80" fill="#777777"/><rect x="881.25" y="462" width="1.0" height="8.80" fill="#777777"/><rect x="885.00" y="462" width="1.0" height="8.80" fill="#333333"/><rect x="887.85" y="462" width="1.3" height="8.80" fill="#999999"/><rect x="890.35" y="462" width="1.3" height="8.80" fill="#999999"/><rect x="892.20" y="462" width="1.6" height="8.80" fill="#333333"/><rect x="893.75" y="462" width="1.0" height="8.80" fill="#333333"/><rect x="897.50" y="462" width="1.0" height="8.80" fill="#333333"/><rect x="898.60" y="462" width="1.3" height="8.80" fill="#555555"/><rect x="900.00" y="462" width="1.0" height="8.80" fill="#777777"/><rect x="902.50" y="462" width="1.0" height="8.80" fill="#444444"/><rect x="903.75" y="462" width="1.0" height="8.80" fill="#333333"/><rect x="912.35" y="462" width="1.3" height="8.80" fill="#555555"/><rect x="918.75" y="462" width="1.0" height="8.80" fill="#777777"/><rect x="921.25" y="462" width="1.0" height="8.80" fill="#333333"/><rect x="927.50" y="462" width="1.0" height="8.80" fill="#888888"/><rect x="929.35" y="462" width="1.3" height="8.80" fill="#555555"/><rect x="932.50" y="462" width="1.0" height="8.80" fill="#666666"/><rect x="934.20" y="462" width="1.6" height="8.80" fill="#777777"/><rect x="939.85" y="462" width="1.3" height="8.80" fill="#777777"/><rect x="943.60" y="462" width="1.3" height="8.80" fill="#666666"/><rect x="945.50" y="462" width="1.0" height="8.80" fill="#999999"/><rect x="947.50" y="462" width="1.0" height="8.80" fill="#777777"/><rect x="949.20" y="462" width="1.6" height="8.80" fill="#666666"/><rect x="950.95" y="462" width="1.6" height="8.80" fill="#555555"/><rect x="952.50" y="462" width="1.0" height="8.80" fill="#666666"/><rect x="956.25" y="462" width="1.0" height="8.80" fill="#777777"/><rect x="958.75" y="462" width="1.0" height="8.80" fill="#999999"/><rect x="961.25" y="462" width="1.0" height="8.80" fill="#999999"/><rect x="965.00" y="462" width="1.0" height="8.80" fill="#777777"/><rect x="967.35" y="462" width="1.3" height="8.80" fill="#222222"/><rect x="969.35" y="462" width="1.3" height="8.80" fill="#222222"/><rect x="972.50" y="462" width="1.0" height="8.80" fill="#222222"/><rect x="976.10" y="462" width="1.3" height="8.80" fill="#666666"/><rect x="979.50" y="462" width="1.0" height="8.80" fill="#666666"/><rect x="982.50" y="462" width="1.0" height="8.80" fill="#999999"/><rect x="987.35" y="462" width="1.3" height="8.80" fill="#444444"/><rect x="991.25" y="462" width="1.0" height="8.80" fill="#777777"/><rect x="994.85" y="462" width="1.3" height="8.80" fill="#666666"/><rect x="996.25" y="462" width="1.0" height="8.80" fill="#888888"/><rect x="997.50" y="462" width="1.0" height="8.80" fill="#888888"/><rect x="1001.10" y="462" width="1.3" height="8.80" fill="#333333"/><rect x="1006.25" y="462" width="1.0" height="8.80" fill="#333333"/><rect x="1010.95" y="462" width="1.6" height="8.80" fill="#222222"/><rect x="530" y="480" width="484" height="8.00" fill="#ededed"/><rect x="538.35" y="480" width="1.3" height="8.00" fill="#999999"/><rect x="541.35" y="480" width="1.3" height="8.00" fill="#777777"/><rect x="545.35" y="480" width="1.3" height="8.00" fill="#555555"/><rect x="552.25" y="480" width="1.0" height="8.00" fill="#888888"/><rect x="554.75" y="480" width="1.0" height="8.00" fill="#222222"/><rect x="557.25" y="480" width="1.0" height="8.00" fill="#888888"/><rect x="559.75" y="480" width="1.0" height="8.00" fill="#444444"/><rect x="562.25" y="480" width="1.0" height="8.00" fill="#999999"/><rect x="564.60" y="480" width="1.3" height="8.00" fill="#666666"/><rect x="569.75" y="480" width="1.0" height="8.00" fill="#888888"/><rect x="583.50" y="480" width="1.0" height="8.00" fill="#888888"/><rect x="594.45" y="480" width="1.6" height="8.00" fill="#222222"/><rect x="603.35" y="480" width="1.3" height="8.00" fill="#666666"/><rect x="607.25" y="480" width="1.0" height="8.00" fill="#666666"/><rect x="609.75" y="480" width="1.0" height="8.00" fill="#777777"/><rect x="612.25" y="480" width="1.0" height="8.00" fill="#555555"/><rect x="614.75" y="480" width="1.0" height="8.00" fill="#444444"/><rect x="616.50" y="480" width="1.0" height="8.00" fill="#555555"/><rect x="623.50" y="480" width="1.0" height="8.00" fill="#888888"/><rect x="628.20" y="480" width="1.6" height="8.00" fill="#999999"/><rect x="630.50" y="480" width="1.0" height="8.00" fill="#999999"/><rect x="634.60" y="480" width="1.3" height="8.00" fill="#333333"/><rect x="638.85" y="480" width="1.3" height="8.00" fill="#666666"/><rect x="643.50" y="480" width="1.0" height="8.00" fill="#222222"/><rect x="648.20" y="480" width="1.6" height="8.00" fill="#555555"/><rect x="652.25" y="480" width="1.0" height="8.00" fill="#999999"/><rect x="660.70" y="480" width="1.6" height="8.00" fill="#999999"/><rect x="666.00" y="480" width="1.0" height="8.00" fill="#777777"/><rect x="671.00" y="480" width="1.0" height="8.00" fill="#777777"/><rect x="674.75" y="480" width="1.0" height="8.00" fill="#777777"/><rect x="678.20" y="480" width="1.6" height="8.00" fill="#666666"/><rect x="681.35" y="480" width="1.3" height="8.00" fill="#999999"/><rect x="683.50" y="480" width="1.0" height="8.00" fill="#777777"/><rect x="689.60" y="480" width="1.3" height="8.00" fill="#222222"/><rect x="691.50" y="480" width="1.0" height="8.00" fill="#444444"/><rect x="695.70" y="480" width="1.6" height="8.00" fill="#666666"/><rect x="696.95" y="480" width="1.6" height="8.00" fill="#666666"/><rect x="698.50" y="480" width="1.0" height="8.00" fill="#999999"/><rect x="704.60" y="480" width="1.3" height="8.00" fill="#666666"/><rect x="705.85" y="480" width="1.3" height="8.00" fill="#222222"/><rect x="707.10" y="480" width="1.3" height="8.00" fill="#888888"/><rect x="708.35" y="480" width="1.3" height="8.00" fill="#555555"/><rect x="709.75" y="480" width="1.0" height="8.00" fill="#444444"/><rect x="713.50" y="480" width="1.0" height="8.00" fill="#999999"/><rect x="717.25" y="480" width="1.0" height="8.00" fill="#777777"/><rect x="719.75" y="480" width="1.0" height="8.00" fill="#222222"/><rect x="735.70" y="480" width="1.6" height="8.00" fill="#999999"/><rect x="739.45" y="480" width="1.6" height="8.00" fill="#666666"/><rect x="763.35" y="480" width="1.3" height="8.00" fill="#888888"/><rect x="766.20" y="480" width="1.6" height="8.00" fill="#777777"/><rect x="769.45" y="480" width="1.6" height="8.00" fill="#222222"/><rect x="772.25" y="480" width="1.0" height="8.00" fill="#333333"/><rect x="774.75" y="480" width="1.0" height="8.00" fill="#555555"/><rect x="777.10" y="480" width="1.3" height="8.00" fill="#777777"/><rect x="771.25" y="480" width="1.0" height="8.00" fill="#333333"/><rect x="773.45" y="480" width="1.6" height="8.00" fill="#666666"/><rect x="776.10" y="480" width="1.3" height="8.00" fill="#666666"/><rect x="777.50" y="480" width="1.0" height="8.00" fill="#777777"/><rect x="780.00" y="480" width="1.0" height="8.00" fill="#222222"/><rect x="783.75" y="480" width="1.0" height="8.00" fill="#999999"/><rect x="787.35" y="480" width="1.3" height="8.00" fill="#777777"/><rect x="791.25" y="480" width="1.0" height="8.00" fill="#888888"/><rect x="797.50" y="480" width="1.0" height="8.00" fill="#444444"/><rect x="805.00" y="480" width="1.0" height="8.00" fill="#777777"/><rect x="811.25" y="480" width="1.0" height="8.00" fill="#444444"/><rect x="815.00" y="480" width="1.0" height="8.00" fill="#555555"/><rect x="816.70" y="480" width="1.6" height="8.00" fill="#999999"/><rect x="818.75" y="480" width="1.0" height="8.00" fill="#666666"/><rect x="820.35" y="480" width="1.3" height="8.00" fill="#777777"/><rect x="822.35" y="480" width="1.3" height="8.00" fill="#777777"/><rect x="824.35" y="480" width="1.3" height="8.00" fill="#555555"/><rect x="827.50" y="480" width="1.0" height="8.00" fill="#777777"/><rect x="831.10" y="480" width="1.3" height="8.00" fill="#666666"/><rect x="833.45" y="480" width="1.6" height="8.00" fill="#555555"/><rect x="835.95" y="480" width="1.6" height="8.00" fill="#777777"/><rect x="842.50" y="480" width="1.0" height="8.00" fill="#999999"/><rect x="850.00" y="480" width="1.0" height="8.00" fill="#333333"/><rect x="850.95" y="480" width="1.6" height="8.00" fill="#888888"/><rect x="852.20" y="480" width="1.6" height="8.00" fill="#999999"/><rect x="853.60" y="480" width="1.3" height="8.00" fill="#777777"/><rect x="857.35" y="480" width="1.3" height="8.00" fill="#999999"/><rect x="860.35" y="480" width="1.3" height="8.00" fill="#222222"/><rect x="863.75" y="480" width="1.0" height="8.00" fill="#444444"/><rect x="866.25" y="480" width="1.0" height="8.00" fill="#222222"/><rect x="868.60" y="480" width="1.3" height="8.00" fill="#222222"/><rect x="870.95" y="480" width="1.6" height="8.00" fill="#777777"/><rect x="873.60" y="480" width="1.3" height="8.00" fill="#999999"/><rect x="876.25" y="480" width="1.0" height="8.00" fill="#222222"/><rect x="878.60" y="480" width="1.3" height="8.00" fill="#555555"/><rect x="881.10" y="480" width="1.3" height="8.00" fill="#999999"/><rect x="885.00" y="480" width="1.0" height="8.00" fill="#888888"/><rect x="888.45" y="480" width="1.6" height="8.00" fill="#777777"/><rect x="898.75" y="480" width="1.0" height="8.00" fill="#777777"/><rect x="902.50" y="480" width="1.0" height="8.00" fill="#999999"/><rect x="906.25" y="480" width="1.0" height="8.00" fill="#555555"/><rect x="977.50" y="480" width="1.0" height="8.00" fill="#444444"/><rect x="979.20" y="480" width="1.6" height="8.00" fill="#666666"/><rect x="981.25" y="480" width="1.0" height="8.00" fill="#666666"/><rect x="985.00" y="480" width="1.0" height="8.00" fill="#999999"/><rect x="989.70" y="480" width="1.6" height="8.00" fill="#888888"/><rect x="992.35" y="480" width="1.3" height="8.00" fill="#999999"/><rect x="996.25" y="480" width="1.0" height="8.00" fill="#555555"/><rect x="1000.00" y="480" width="1.0" height="8.00" fill="#999999"/><rect x="1002.50" y="480" width="1.0" height="8.00" fill="#666666"/><rect x="1004.70" y="480" width="1.6" height="8.00" fill="#555555"/><rect x="1007.20" y="480" width="1.6" height="8.00" fill="#222222"/><rect x="1009.70" y="480" width="1.6" height="8.00" fill="#444444"/><rect x="1012.50" y="480" width="1.0" height="8.00" fill="#222222"/><rect x="530" y="497" width="484" height="8.70" fill="#ededed"/><rect x="530.20" y="497" width="1.6" height="8.70" fill="#999999"/><rect x="533.35" y="497" width="1.3" height="8.70" fill="#888888"/><rect x="537.10" y="497" width="1.3" height="8.70" fill="#222222"/><rect x="541.00" y="497" width="1.0" height="8.70" fill="#333333"/><rect x="542.10" y="497" width="1.3" height="8.70" fill="#666666"/><rect x="547.25" y="497" width="1.0" height="8.70" fill="#666666"/><rect x="550.85" y="497" width="1.3" height="8.70" fill="#333333"/><rect x="554.45" y="497" width="1.6" height="8.70" fill="#333333"/><rect x="558.50" y="497" width="1.0" height="8.70" fill="#666666"/><rect x="561.95" y="497" width="1.6" height="8.70" fill="#888888"/><rect x="566.00" y="497" width="1.0" height="8.70" fill="#333333"/><rect x="569.60" y="497" width="1.3" height="8.70" fill="#666666"/><rect x="571.35" y="497" width="1.3" height="8.70" fill="#777777"/><rect x="573.00" y="497" width="1.0" height="8.70" fill="#888888"/><rect x="574.60" y="497" width="1.3" height="8.70" fill="#666666"/><rect x="576.50" y="497" width="1.0" height="8.70" fill="#666666"/><rect x="578.50" y="497" width="1.0" height="8.70" fill="#999999"/><rect x="580.35" y="497" width="1.3" height="8.70" fill="#444444"/><rect x="582.10" y="497" width="1.3" height="8.70" fill="#555555"/><rect x="588.35" y="497" width="1.3" height="8.70" fill="#333333"/><rect x="601.35" y="497" width="1.3" height="8.70" fill="#555555"/><rect x="603.50" y="497" width="1.0" height="8.70" fill="#555555"/><rect x="618.50" y="497" width="1.0" height="8.70" fill="#222222"/><rect x="622.25" y="497" width="1.0" height="8.70" fill="#888888"/><rect x="624.75" y="497" width="1.0" height="8.70" fill="#222222"/><rect x="628.20" y="497" width="1.6" height="8.70" fill="#999999"/><rect x="630.35" y="497" width="1.3" height="8.70" fill="#777777"/><rect x="633.20" y="497" width="1.6" height="8.70" fill="#555555"/><rect x="635.70" y="497" width="1.6" height="8.70" fill="#333333"/><rect x="639.00" y="497" width="1.0" height="8.70" fill="#888888"/><rect x="645.70" y="497" width="1.6" height="8.70" fill="#555555"/><rect x="654.75" y="497" width="1.0" height="8.70" fill="#999999"/><rect x="657.10" y="497" width="1.3" height="8.70" fill="#222222"/><rect x="659.75" y="497" width="1.0" height="8.70" fill="#777777"/><rect x="662.10" y="497" width="1.3" height="8.70" fill="#222222"/><rect x="664.75" y="497" width="1.0" height="8.70" fill="#777777"/><rect x="668.20" y="497" width="1.6" height="8.70" fill="#555555"/><rect x="670.85" y="497" width="1.3" height="8.70" fill="#555555"/><rect x="673.35" y="497" width="1.3" height="8.70" fill="#777777"/><rect x="685.70" y="497" width="1.6" height="8.70" fill="#777777"/><rect x="687.70" y="497" width="1.6" height="8.70" fill="#888888"/><rect x="689.45" y="497" width="1.6" height="8.70" fill="#444444"/><rect x="698.20" y="497" width="1.6" height="8.70" fill="#666666"/><rect x="703.35" y="497" width="1.3" height="8.70" fill="#999999"/><rect x="706.00" y="497" width="1.0" height="8.70" fill="#222222"/><rect x="708.50" y="497" width="1.0" height="8.70" fill="#999999"/><rect x="710.50" y="497" width="1.0" height="8.70" fill="#333333"/><rect x="712.70" y="497" width="1.6" height="8.70" fill="#777777"/><rect x="714.60" y="497" width="1.3" height="8.70" fill="#666666"/><rect x="717.25" y="497" width="1.0" height="8.70" fill="#555555"/><rect x="719.45" y="497" width="1.6" height="8.70" fill="#999999"/><rect x="721.95" y="497" width="1.6" height="8.70" fill="#666666"/><rect x="724.75" y="497" width="1.0" height="8.70" fill="#222222"/><rect x="727.25" y="497" width="1.0" height="8.70" fill="#555555"/><rect x="729.60" y="497" width="1.3" height="8.70" fill="#888888"/><rect x="732.25" y="497" width="1.0" height="8.70" fill="#999999"/><rect x="740.85" y="497" width="1.3" height="8.70" fill="#777777"/><rect x="743.00" y="497" width="1.0" height="8.70" fill="#777777"/><rect x="744.60" y="497" width="1.3" height="8.70" fill="#444444"/><rect x="748.20" y="497" width="1.6" height="8.70" fill="#222222"/><rect x="752.25" y="497" width="1.0" height="8.70" fill="#333333"/><rect x="756.95" y="497" width="1.6" height="8.70" fill="#444444"/><rect x="761.00" y="497" width="1.0" height="8.70" fill="#777777"/><rect x="766.00" y="497" width="1.0" height="8.70" fill="#888888"/><rect x="770.85" y="497" width="1.3" height="8.70" fill="#222222"/><rect x="770.00" y="497" width="1.0" height="8.70" fill="#555555"/><rect x="773.75" y="497" width="1.0" height="8.70" fill="#777777"/><rect x="777.35" y="497" width="1.3" height="8.70" fill="#333333"/><rect x="782.50" y="497" width="1.0" height="8.70" fill="#777777"/><rect x="785.00" y="497" width="1.0" height="8.70" fill="#999999"/><rect x="787.35" y="497" width="1.3" height="8.70" fill="#999999"/><rect x="790.00" y="497" width="1.0" height="8.70" fill="#333333"/><rect x="792.50" y="497" width="1.0" height="8.70" fill="#222222"/><rect x="793.45" y="497" width="1.6" height="8.70" fill="#555555"/><rect x="805.00" y="497" width="1.0" height="8.70" fill="#333333"/><rect x="807.20" y="497" width="1.6" height="8.70" fill="#222222"/><rect x="810.00" y="497" width="1.0" height="8.70" fill="#999999"/><rect x="812.20" y="497" width="1.6" height="8.70" fill="#666666"/><rect x="816.25" y="497" width="1.0" height="8.70" fill="#555555"/><rect x="817.20" y="497" width="1.6" height="8.70" fill="#777777"/><rect x="819.70" y="497" width="1.6" height="8.70" fill="#777777"/><rect x="822.35" y="497" width="1.3" height="8.70" fill="#666666"/><rect x="824.70" y="497" width="1.6" height="8.70" fill="#888888"/><rect x="827.20" y="497" width="1.6" height="8.70" fill="#222222"/><rect x="829.50" y="497" width="1.0" height="8.70" fill="#999999"/><rect x="833.00" y="497" width="1.0" height="8.70" fill="#777777"/><rect x="839.85" y="497" width="1.3" height="8.70" fill="#222222"/><rect x="842.50" y="497" width="1.0" height="8.70" fill="#555555"/><rect x="844.85" y="497" width="1.3" height="8.70" fill="#333333"/><rect x="848.45" y="497" width="1.6" height="8.70" fill="#444444"/><rect x="852.35" y="497" width="1.3" height="8.70" fill="#555555"/><rect x="855.50" y="497" width="1.0" height="8.70" fill="#333333"/><rect x="860.00" y="497" width="1.0" height="8.70" fill="#666666"/><rect x="862.35" y="497" width="1.3" height="8.70" fill="#222222"/><rect x="867.00" y="497" width="1.0" height="8.70" fill="#999999"/><rect x="870.00" y="497" width="1.0" height="8.70" fill="#888888"/><rect x="872.50" y="497" width="1.0" height="8.70" fill="#999999"/><rect x="877.20" y="497" width="1.6" height="8.70" fill="#666666"/><rect x="883.45" y="497" width="1.6" height="8.70" fill="#333333"/><rect x="886.85" y="497" width="1.3" height="8.70" fill="#888888"/><rect x="889.70" y="497" width="1.6" height="8.70" fill="#777777"/><rect x="892.35" y="497" width="1.3" height="8.70" fill="#555555"/><rect x="895.00" y="497" width="1.0" height="8.70" fill="#333333"/><rect x="897.50" y="497" width="1.0" height="8.70" fill="#333333"/><rect x="900.00" y="497" width="1.0" height="8.70" fill="#333333"/><rect x="902.50" y="497" width="1.0" height="8.70" fill="#888888"/><rect x="905.00" y="497" width="1.0" height="8.70" fill="#555555"/><rect x="907.50" y="497" width="1.0" height="8.70" fill="#444444"/><rect x="911.25" y="497" width="1.0" height="8.70" fill="#666666"/><rect x="914.85" y="497" width="1.3" height="8.70" fill="#444444"/><rect x="918.75" y="497" width="1.0" height="8.70" fill="#666666"/><rect x="920.35" y="497" width="1.3" height="8.70" fill="#999999"/><rect x="922.50" y="497" width="1.0" height="8.70" fill="#222222"/><rect x="924.35" y="497" width="1.3" height="8.70" fill="#555555"/><rect x="929.85" y="497" width="1.3" height="8.70" fill="#999999"/><rect x="934.70" y="497" width="1.6" height="8.70" fill="#666666"/><rect x="940.00" y="497" width="1.0" height="8.70" fill="#222222"/><rect x="955.00" y="497" width="1.0" height="8.70" fill="#777777"/><rect x="957.20" y="497" width="1.6" height="8.70" fill="#888888"/><rect x="961.25" y="497" width="1.0" height="8.70" fill="#333333"/><rect x="967.50" y="497" width="1.0" height="8.70" fill="#444444"/><rect x="969.35" y="497" width="1.3" height="8.70" fill="#444444"/><rect x="971.25" y="497" width="1.0" height="8.70" fill="#666666"/><rect x="973.00" y="497" width="1.0" height="8.70" fill="#333333"/><rect x="975.00" y="497" width="1.0" height="8.70" fill="#999999"/><rect x="977.00" y="497" width="1.0" height="8.70" fill="#888888"/><rect x="978.60" y="497" width="1.3" height="8.70" fill="#222222"/><rect x="980.20" y="497" width="1.6" height="8.70" fill="#555555"/><rect x="982.50" y="497" width="1.0" height="8.70" fill="#666666"/><rect x="984.35" y="497" width="1.3" height="8.70" fill="#555555"/><rect x="987.20" y="497" width="1.6" height="8.70" fill="#999999"/></g></g>
<g shape-rendering="geometricPrecision"><rect x="10.5" y="419.2" width="487.8" height="6.6" fill="#c6c6c6"/><rect x="10.5" y="445.6" width="487.8" height="6.9" fill="#c6c6c6"/><rect x="41.00" y="419.20" width="86.00" height="6.80" rx="1" fill="#fff" stroke="#555" stroke-width="0.9"/><path d="M127.00,419.60 L130.00,422.60 L127.00,425.60" fill="#fff" stroke="#555" stroke-width="0.8"/><rect x="147.50" y="419.20" width="8.20" height="6.80" rx="1" fill="#666" stroke="#555" stroke-width="0.9"/><path d="M155.70,419.60 L158.70,422.60 L155.70,425.60" fill="#666" stroke="#555" stroke-width="0.8"/><text x="41.50" y="434.30" class="gl">APH_0919</text><text x="148.00" y="434.30" class="gl">APH_0920</text><path d="M61.40,436.7 L61.40,444.8 L64.90,444.8" fill="none" stroke="#666" stroke-width="0.9"/><text x="62.60" y="443.3" class="rl">800</text><path d="M112.53,436.7 L112.53,444.8 L116.03,444.8" fill="none" stroke="#666" stroke-width="0.9"/><text x="113.73" y="443.3" class="rl">1600</text><path d="M163.66,436.7 L163.66,444.8 L167.16,444.8" fill="none" stroke="#666" stroke-width="0.9"/><text x="164.86" y="443.3" class="rl">2400</text><path d="M214.79,436.7 L214.79,444.8 L218.29,444.8" fill="none" stroke="#666" stroke-width="0.9"/><text x="215.99" y="443.3" class="rl">3200</text><path d="M265.92,436.7 L265.92,444.8 L269.42,444.8" fill="none" stroke="#666" stroke-width="0.9"/><text x="267.12" y="443.3" class="rl">4000</text><path d="M317.05,436.7 L317.05,444.8 L320.55,444.8" fill="none" stroke="#666" stroke-width="0.9"/><text x="318.25" y="443.3" class="rl">4800</text><path d="M368.18,436.7 L368.18,444.8 L371.68,444.8" fill="none" stroke="#666" stroke-width="0.9"/><text x="369.38" y="443.3" class="rl">5600</text><path d="M419.31,436.7 L419.31,444.8 L422.81,444.8" fill="none" stroke="#666" stroke-width="0.9"/><text x="420.51" y="443.3" class="rl">6400</text><path d="M470.44,436.7 L470.44,444.8 L473.94,444.8" fill="none" stroke="#666" stroke-width="0.9"/><text x="471.64" y="443.3" class="rl">7200</text><rect x="201.70" y="445.60" width="54.60" height="6.80" rx="1" fill="#ff0000" stroke="#555" stroke-width="0.9"/><path d="M201.70,446.00 L198.70,449.00 L201.70,452.00" fill="#ff0000" stroke="#555" stroke-width="0.8"/><rect x="280.40" y="445.60" width="43.20" height="6.80" rx="1" fill="#8ecbf5" stroke="#555" stroke-width="0.9"/><path d="M280.40,446.00 L277.40,449.00 L280.40,452.00" fill="#8ecbf5" stroke="#555" stroke-width="0.8"/><rect x="336.30" y="445.60" width="9.40" height="6.80" rx="1" fill="#666" stroke="#555" stroke-width="0.9"/><path d="M336.30,446.00 L333.30,449.00 L336.30,452.00" fill="#666" stroke="#555" stroke-width="0.8"/><rect x="366.00" y="445.60" width="87.10" height="6.80" rx="1" fill="#fff" stroke="#555" stroke-width="0.9"/><path d="M366.00,446.00 L363.00,449.00 L366.00,452.00" fill="#fff" stroke="#555" stroke-width="0.8"/><rect x="468.30" y="445.60" width="30.60" height="6.80" rx="1" fill="#fff" stroke="#555" stroke-width="0.9"/><path d="M468.30,446.00 L465.30,449.00 L468.30,452.00" fill="#fff" stroke="#555" stroke-width="0.8"/><text x="335.00" y="460.00" class="gl">APH_0921</text><text x="383.30" y="460.00" class="gl">APH_0922</text><text x="467.00" y="460.00" class="gl">APH_0923</text><rect x="528.5" y="419.2" width="485.5" height="6.6" fill="#c6c6c6"/><rect x="528.5" y="445.6" width="485.5" height="6.9" fill="#c6c6c6"/><rect x="553.75" y="419.20" width="70.75" height="6.80" rx="1" fill="#fff" stroke="#555" stroke-width="0.9"/><path d="M624.50,419.60 L627.50,422.60 L624.50,425.60" fill="#fff" stroke="#555" stroke-width="0.8"/><rect x="654.50" y="419.20" width="7.50" height="6.80" rx="1" fill="#666" stroke="#555" stroke-width="0.9"/><path d="M662.00,419.60 L665.00,422.60 L662.00,425.60" fill="#666" stroke="#555" stroke-width="0.8"/><rect x="673.25" y="419.20" width="32.50" height="6.80" rx="1" fill="#8ecbf5" stroke="#555" stroke-width="0.9"/><path d="M705.75,419.60 L708.75,422.60 L705.75,425.60" fill="#8ecbf5" stroke="#555" stroke-width="0.8"/><rect x="725.00" y="419.20" width="47.00" height="6.80" rx="1" fill="#ff0000" stroke="#555" stroke-width="0.9"/><path d="M772.00,419.60 L775.00,422.60 L772.00,425.60" fill="#ff0000" stroke="#555" stroke-width="0.8"/><text x="553.75" y="434.30" class="gl">APH_0919</text><text x="655.00" y="434.30" class="gl">APH_0920</text><path d="M570.50,436.7 L570.50,444.8 L574.00,444.8" fill="none" stroke="#666" stroke-width="0.9"/><text x="571.70" y="443.3" class="rl">800</text><path d="M612.57,436.7 L612.57,444.8 L616.07,444.8" fill="none" stroke="#666" stroke-width="0.9"/><text x="613.77" y="443.3" class="rl">1600</text><path d="M654.64,436.7 L654.64,444.8 L658.14,444.8" fill="none" stroke="#666" stroke-width="0.9"/><text x="655.84" y="443.3" class="rl">2400</text><path d="M696.71,436.7 L696.71,444.8 L700.21,444.8" fill="none" stroke="#666" stroke-width="0.9"/><text x="697.91" y="443.3" class="rl">3200</text><path d="M738.78,436.7 L738.78,444.8 L742.28,444.8" fill="none" stroke="#666" stroke-width="0.9"/><text x="739.98" y="443.3" class="rl">4000</text><path d="M780.85,436.7 L780.85,444.8 L784.35,444.8" fill="none" stroke="#666" stroke-width="0.9"/><text x="782.05" y="443.3" class="rl">4800</text><path d="M822.92,436.7 L822.92,444.8 L826.42,444.8" fill="none" stroke="#666" stroke-width="0.9"/><text x="824.12" y="443.3" class="rl">5600</text><path d="M864.99,436.7 L864.99,444.8 L868.49,444.8" fill="none" stroke="#666" stroke-width="0.9"/><text x="866.19" y="443.3" class="rl">6400</text><path d="M907.06,436.7 L907.06,444.8 L910.56,444.8" fill="none" stroke="#666" stroke-width="0.9"/><text x="908.26" y="443.3" class="rl">7200</text><path d="M949.13,436.7 L949.13,444.8 L952.63,444.8" fill="none" stroke="#666" stroke-width="0.9"/><text x="950.33" y="443.3" class="rl">8000</text><path d="M991.20,436.7 L991.20,444.8 L994.70,444.8" fill="none" stroke="#666" stroke-width="0.9"/><text x="992.40" y="443.3" class="rl">8800</text><rect x="808.60" y="445.60" width="3.10" height="6.80" rx="1" fill="#666" stroke="#555" stroke-width="0.9"/><path d="M808.60,446.00 L805.60,449.00 L808.60,452.00" fill="#666" stroke="#555" stroke-width="0.8"/><rect x="906.50" y="445.60" width="70.90" height="6.80" rx="1" fill="#fff" stroke="#555" stroke-width="0.9"/><path d="M906.50,446.00 L903.50,449.00 L906.50,452.00" fill="#fff" stroke="#555" stroke-width="0.8"/><rect x="990.00" y="445.60" width="24.60" height="6.80" rx="1" fill="#fff" stroke="#555" stroke-width="0.9"/><path d="M990.00,446.00 L987.00,449.00 L990.00,452.00" fill="#fff" stroke="#555" stroke-width="0.8"/><text x="807.00" y="460.00" class="gl">APH_0921</text><text x="905.70" y="460.00" class="gl">APH_0922</text><text x="984.80" y="460.00" class="gl">APH_0923</text></g>
<g shape-rendering="geometricPrecision" stroke="#000" stroke-width="0.3" style="will-change:transform"><text x="467.40" y="76.80" class="tl" textLength="33.2" lengthAdjust="spacingAndGlyphs"><tspan font-style="italic">Ap</tspan>HZ</text><text x="468.30" y="123.30" class="tl" textLength="32.3" lengthAdjust="spacingAndGlyphs"><tspan font-style="italic">Ap</tspan>JM</text><text x="464.30" y="170.00" class="tl" textLength="36.5" lengthAdjust="spacingAndGlyphs"><tspan font-style="italic">Ap</tspan>Dog</text><text x="447.00" y="216.90" class="tl" textLength="53.7" lengthAdjust="spacingAndGlyphs"><tspan font-style="italic">Ap</tspan>CRT35</text><text x="450.20" y="263.90" class="tl" textLength="49.6" lengthAdjust="spacingAndGlyphs"><tspan font-style="italic">Ap</tspan>NorV1</text><text x="449.00" y="310.30" class="tl" textLength="51.2" lengthAdjust="spacingAndGlyphs"><tspan font-style="italic">Ap</tspan>NorV2</text><text x="453.70" y="359.30" class="tl" textLength="46.1" lengthAdjust="spacingAndGlyphs"><tspan font-style="italic">Ap</tspan>MRK</text><text x="983.10" y="76.40" class="tl" textLength="33.2" lengthAdjust="spacingAndGlyphs"><tspan font-style="italic">Ap</tspan>HZ</text><text x="983.50" y="123.60" class="tl" textLength="32.3" lengthAdjust="spacingAndGlyphs"><tspan font-style="italic">Ap</tspan>JM</text><text x="979.50" y="171.70" class="tl" textLength="36.5" lengthAdjust="spacingAndGlyphs"><tspan font-style="italic">Ap</tspan>Dog</text><text x="969.10" y="218.30" class="tl" textLength="46.1" lengthAdjust="spacingAndGlyphs"><tspan font-style="italic">Ap</tspan>MRK</text><text x="961.50" y="265.80" class="tl" textLength="53.7" lengthAdjust="spacingAndGlyphs"><tspan font-style="italic">Ap</tspan>CRT35</text><text x="965.40" y="312.10" class="tl" textLength="49.6" lengthAdjust="spacingAndGlyphs"><tspan font-style="italic">Ap</tspan>NorV1</text><text x="964.00" y="358.80" class="tl" textLength="51.2" lengthAdjust="spacingAndGlyphs"><tspan font-style="italic">Ap</tspan>NorV2</text><text x="453.60" y="496.60" class="tl" textLength="46.1" lengthAdjust="spacingAndGlyphs"><tspan font-style="italic">Ap</tspan>MRK</text><text x="964.30" y="495.50" class="tl" textLength="51.2" lengthAdjust="spacingAndGlyphs"><tspan font-style="italic">Ap</tspan>NorV2</text></g>
<rect x="9.2" y="32" width="1.8" height="480" fill="#b6c2cc"/>
<rect x="527.2" y="32" width="1.8" height="480" fill="#b6c2cc"/>
<path d="M963.5 302.5v12.5" stroke="#333" stroke-width="1" stroke-dasharray="1.5 1"/><rect x="963" y="314.8" width="44.6" height="1" fill="#444"/>
</svg>
</body></html>
